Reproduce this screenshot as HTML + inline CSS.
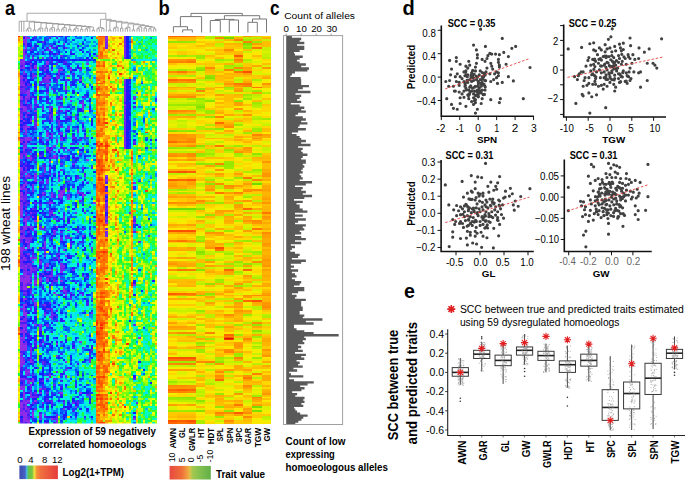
<!DOCTYPE html><html><head><meta charset="utf-8"><style>html,body{margin:0;padding:0;background:#fff;}svg{display:block}</style></head><body><svg width="685" height="481" viewBox="0 0 685 481" font-family='"Liberation Sans", sans-serif'><rect width="685" height="481" fill="#fff"/>
<text transform="translate(4.9 15.4) scale(0.9 1)" font-size="20" font-weight="bold">a</text>
<text transform="translate(158.4 15.3) scale(0.92 1)" font-size="20" font-weight="bold">b</text>
<text transform="translate(270.0 15.3) scale(0.86 1)" font-size="20" font-weight="bold">c</text>
<text transform="translate(402.6 15.4) scale(1.0 1)" font-size="20" font-weight="bold">d</text>
<text transform="translate(403.9 298.3) scale(0.98 1)" font-size="20" font-weight="bold">e</text>
<svg x="18" y="35.5" width="139" height="388" viewBox="0 0 59 198" preserveAspectRatio="none" shape-rendering="crispEdges">
<path fill="#912de6" d="M1 21h1v1h-1zM1 31h1v2h-1zM1 36h1v1h-1zM1 42h1v1h-1zM1 68h1v1h-1zM1 78h1v1h-1zM1 80h1v2h-1zM1 83h1v1h-1zM1 85h1v1h-1zM1 87h1v5h-1zM1 109h1v1h-1zM1 118h1v1h-1zM1 123h1v1h-1zM1 125h1v1h-1zM1 145h1v1h-1zM1 148h1v1h-1zM1 151h1v1h-1zM1 154h1v1h-1zM1 156h1v5h-1zM1 166h1v1h-1zM1 179h1v2h-1zM1 187h1v3h-1zM1 192h1v1h-1zM2 10h1v4h-1zM2 16h1v1h-1zM2 36h1v2h-1zM2 57h1v2h-1zM2 76h1v2h-1zM2 97h1v1h-1zM2 103h1v1h-1zM2 108h1v1h-1zM2 113h1v1h-1zM2 121h1v1h-1zM2 124h1v6h-1zM2 134h1v1h-1zM2 137h1v1h-1zM2 139h1v4h-1zM2 148h1v1h-1zM2 150h1v1h-1zM2 152h1v1h-1zM2 158h1v2h-1zM2 166h1v1h-1zM2 180h1v1h-1zM2 182h1v1h-1zM2 184h1v3h-1zM2 191h1v1h-1zM2 193h1v1h-1zM2 195h1v2h-1zM3 0h1v2h-1zM3 3h1v4h-1zM3 31h1v1h-1zM3 33h1v2h-1zM3 41h1v1h-1zM3 46h1v4h-1zM3 52h1v1h-1zM3 54h1v1h-1zM3 61h1v1h-1zM3 71h1v1h-1zM3 88h1v1h-1zM3 93h1v6h-1zM3 105h1v1h-1zM3 117h1v1h-1zM3 122h1v1h-1zM3 124h1v3h-1zM3 129h1v1h-1zM3 141h1v2h-1zM3 147h1v1h-1zM3 151h1v1h-1zM3 158h1v2h-1zM3 172h1v1h-1zM3 187h1v1h-1zM3 189h1v2h-1zM3 192h1v2h-1zM3 195h1v2h-1zM4 28h1v3h-1zM4 39h1v1h-1zM4 46h1v1h-1zM4 71h1v1h-1zM4 122h1v4h-1zM4 171h1v1h-1zM4 186h1v1h-1zM4 196h1v2h-1zM5 17h1v1h-1zM5 43h1v1h-1zM5 62h1v1h-1zM5 113h1v1h-1zM5 118h1v1h-1zM5 126h1v1h-1zM5 166h1v1h-1zM6 115h1v1h-1zM6 176h1v1h-1zM6 192h1v2h-1zM7 15h1v1h-1zM7 38h1v1h-1zM7 71h1v1h-1zM7 94h1v1h-1zM7 126h1v1h-1zM7 147h1v1h-1zM7 186h1v1h-1zM9 124h1v1h-1zM9 147h1v1h-1zM9 180h1v1h-1zM10 80h1v1h-1zM10 108h1v1h-1zM11 17h1v1h-1zM11 21h1v1h-1zM11 106h1v1h-1zM11 112h1v1h-1zM11 119h1v1h-1zM11 193h1v1h-1zM12 13h1v1h-1zM12 20h1v1h-1zM12 25h1v1h-1zM12 51h1v1h-1zM12 57h1v1h-1zM12 116h1v1h-1zM12 125h1v1h-1zM13 21h1v1h-1zM13 23h1v1h-1zM13 37h1v1h-1zM13 64h1v1h-1zM13 85h1v1h-1zM13 173h1v1h-1zM14 195h1v1h-1zM15 61h1v1h-1zM15 93h1v1h-1zM15 99h1v1h-1zM15 131h1v1h-1zM16 97h1v1h-1zM16 132h1v1h-1zM16 157h1v1h-1zM16 163h1v1h-1zM16 197h1v1h-1zM17 81h1v1h-1zM18 17h1v1h-1zM18 31h1v1h-1zM18 80h1v3h-1zM18 125h1v1h-1zM18 182h1v1h-1zM19 79h1v1h-1zM19 109h1v1h-1zM19 130h1v1h-1zM19 190h1v1h-1zM20 27h1v1h-1zM20 132h1v1h-1zM20 166h1v1h-1zM21 83h1v1h-1zM26 22h1v1h-1zM26 156h1v1h-1zM27 57h1v1h-1zM27 81h1v1h-1zM27 102h1v1h-1zM29 63h1v1h-1zM32 85h1v1h-1zM33 10h1v1h-1zM37 1h1v1h-1zM37 71h1v1h-1zM37 73h1v1h-1zM37 95h1v1h-1zM49 95h1v1h-1zM51 154h1v1h-1z"/>
<path fill="#872ae9" d="M1 13h1v1h-1zM1 24h1v2h-1zM1 40h1v1h-1zM1 54h1v1h-1zM1 61h1v2h-1zM1 67h1v1h-1zM1 86h1v1h-1zM1 103h1v1h-1zM1 108h1v1h-1zM1 124h1v1h-1zM1 164h1v2h-1zM1 167h1v2h-1zM2 2h1v1h-1zM2 8h1v2h-1zM2 15h1v1h-1zM2 18h1v1h-1zM2 25h1v1h-1zM2 38h1v1h-1zM2 43h1v1h-1zM2 98h1v1h-1zM2 138h1v1h-1zM2 145h1v1h-1zM2 149h1v1h-1zM2 153h1v3h-1zM2 160h1v1h-1zM2 175h1v1h-1zM2 179h1v1h-1zM2 183h1v1h-1zM2 192h1v1h-1zM2 194h1v1h-1zM3 2h1v1h-1zM3 22h1v1h-1zM3 29h1v1h-1zM3 37h1v2h-1zM3 60h1v1h-1zM3 75h1v2h-1zM3 78h1v1h-1zM3 121h1v1h-1zM3 123h1v1h-1zM3 128h1v1h-1zM3 134h1v1h-1zM3 137h1v1h-1zM3 143h1v1h-1zM3 157h1v1h-1zM3 160h1v1h-1zM3 194h1v1h-1zM4 1h1v1h-1zM4 31h1v1h-1zM4 52h1v2h-1zM4 62h1v1h-1zM4 105h1v1h-1zM4 108h1v1h-1zM4 111h1v1h-1zM4 176h1v1h-1zM5 90h1v1h-1zM5 97h1v1h-1zM5 119h1v1h-1zM5 165h1v1h-1zM5 178h1v1h-1zM6 92h1v1h-1zM6 134h1v1h-1zM6 175h1v1h-1zM6 194h1v1h-1zM7 16h1v1h-1zM7 20h1v1h-1zM7 73h1v1h-1zM7 113h1v1h-1zM7 125h1v1h-1zM7 136h1v1h-1zM9 115h1v1h-1zM9 125h1v1h-1zM9 182h1v1h-1zM11 69h1v1h-1zM11 105h1v1h-1zM11 137h1v1h-1zM11 142h1v1h-1zM12 14h1v1h-1zM12 21h1v1h-1zM12 50h1v1h-1zM12 53h1v1h-1zM12 117h1v1h-1zM13 5h1v1h-1zM13 7h1v1h-1zM13 122h1v1h-1zM14 27h1v1h-1zM14 81h1v1h-1zM14 85h1v1h-1zM14 143h1v2h-1zM15 56h1v1h-1zM17 17h1v1h-1zM17 37h1v1h-1zM17 73h1v1h-1zM17 82h1v1h-1zM18 36h1v1h-1zM18 120h1v1h-1zM19 4h1v1h-1zM19 62h1v1h-1zM19 117h1v1h-1zM19 129h1v1h-1zM20 112h1v1h-1zM20 173h1v1h-1zM24 189h1v1h-1zM26 182h1v1h-1zM27 35h1v1h-1zM27 37h1v1h-1zM29 14h1v1h-1zM31 108h1v1h-1zM37 0h1v1h-1zM37 2h1v1h-1zM45 22h1v1h-1zM45 29h1v1h-1zM45 35h1v1h-1zM49 75h1v1h-1zM49 127h1v1h-1zM49 195h1v1h-1z"/>
<path fill="#7c28eb" d="M1 14h1v1h-1zM1 16h1v1h-1zM1 20h1v1h-1zM1 23h1v1h-1zM1 53h1v1h-1zM1 92h1v1h-1zM1 99h1v2h-1zM1 102h1v1h-1zM1 110h1v2h-1zM1 147h1v1h-1zM1 162h1v1h-1zM1 175h1v1h-1zM1 190h1v1h-1zM1 193h1v1h-1zM2 3h1v1h-1zM2 7h1v1h-1zM2 14h1v1h-1zM2 19h1v1h-1zM2 27h1v1h-1zM2 46h1v2h-1zM2 84h1v1h-1zM2 94h1v1h-1zM2 99h1v1h-1zM2 102h1v1h-1zM2 114h1v1h-1zM2 117h1v2h-1zM2 120h1v1h-1zM2 122h1v1h-1zM2 131h1v1h-1zM2 144h1v1h-1zM2 147h1v1h-1zM2 151h1v1h-1zM2 157h1v1h-1zM2 165h1v1h-1zM2 167h1v1h-1zM2 181h1v1h-1zM2 187h1v1h-1zM3 32h1v1h-1zM3 40h1v1h-1zM3 50h1v1h-1zM3 53h1v1h-1zM3 55h1v1h-1zM3 57h1v1h-1zM3 67h1v1h-1zM3 69h1v1h-1zM3 109h1v1h-1zM3 114h1v1h-1zM3 118h1v2h-1zM3 144h1v1h-1zM3 170h1v2h-1zM3 188h1v1h-1zM4 116h1v1h-1zM5 14h1v1h-1zM5 36h1v1h-1zM5 53h1v1h-1zM5 63h1v1h-1zM5 103h1v1h-1zM5 120h1v1h-1zM5 160h1v2h-1zM5 176h1v1h-1zM5 182h1v3h-1zM6 6h1v1h-1zM6 11h1v1h-1zM6 76h1v1h-1zM6 79h1v1h-1zM6 99h1v1h-1zM6 119h1v1h-1zM7 72h1v1h-1zM7 137h1v1h-1zM7 182h1v1h-1zM9 123h1v1h-1zM9 149h1v1h-1zM9 193h1v1h-1zM9 195h1v1h-1zM10 11h1v1h-1zM10 37h1v1h-1zM10 121h1v1h-1zM10 187h1v1h-1zM11 15h1v1h-1zM11 110h1v1h-1zM11 173h1v1h-1zM12 22h1v2h-1zM12 49h1v1h-1zM12 124h1v1h-1zM12 139h1v1h-1zM12 175h1v1h-1zM13 40h1v2h-1zM13 67h1v1h-1zM13 143h1v1h-1zM14 6h1v1h-1zM14 50h1v2h-1zM14 90h1v1h-1zM14 122h1v1h-1zM14 141h1v1h-1zM15 62h1v1h-1zM15 91h1v1h-1zM15 101h1v1h-1zM16 20h1v1h-1zM16 125h1v1h-1zM16 195h1v2h-1zM17 19h1v1h-1zM17 44h1v2h-1zM17 58h1v1h-1zM17 113h1v1h-1zM18 50h1v1h-1zM18 53h1v1h-1zM18 62h1v1h-1zM18 65h1v1h-1zM18 79h1v1h-1zM18 116h1v2h-1zM20 26h1v1h-1zM21 20h1v1h-1zM21 58h1v1h-1zM21 79h1v1h-1zM21 81h1v1h-1zM22 16h1v2h-1zM22 33h1v1h-1zM22 43h1v1h-1zM22 103h1v1h-1zM23 65h1v1h-1zM24 41h1v1h-1zM25 79h1v2h-1zM27 34h1v1h-1zM27 36h1v1h-1zM27 47h1v1h-1zM28 129h1v1h-1zM30 166h1v1h-1zM31 134h1v1h-1zM31 141h1v1h-1zM37 3h1v1h-1zM37 85h1v1h-1zM37 93h1v1h-1zM37 101h1v1h-1zM45 0h1v1h-1zM45 4h1v1h-1zM45 6h1v1h-1zM45 10h1v1h-1zM45 31h1v1h-1zM45 38h1v1h-1zM45 41h1v1h-1zM45 43h1v1h-1zM45 48h1v1h-1zM45 50h1v2h-1zM45 55h1v1h-1zM45 57h1v1h-1zM49 54h1v1h-1z"/>
<path fill="#7225ee" d="M1 12h1v1h-1zM1 22h1v1h-1zM1 27h1v2h-1zM1 35h1v1h-1zM1 41h1v1h-1zM1 60h1v1h-1zM1 71h1v1h-1zM1 77h1v1h-1zM1 82h1v1h-1zM1 114h1v1h-1zM1 116h1v2h-1zM1 122h1v1h-1zM1 150h1v1h-1zM1 155h1v1h-1zM1 163h1v1h-1zM1 191h1v1h-1zM1 197h1v1h-1zM2 0h1v1h-1zM2 28h1v1h-1zM2 55h1v1h-1zM2 74h1v1h-1zM2 83h1v1h-1zM2 93h1v1h-1zM2 100h1v2h-1zM2 107h1v1h-1zM2 109h1v1h-1zM2 197h1v1h-1zM3 36h1v1h-1zM3 45h1v1h-1zM3 56h1v1h-1zM3 72h1v1h-1zM3 79h1v2h-1zM3 82h1v1h-1zM3 86h1v1h-1zM3 90h1v1h-1zM3 103h1v2h-1zM3 120h1v1h-1zM3 127h1v1h-1zM3 131h1v1h-1zM3 145h1v1h-1zM3 148h1v1h-1zM3 156h1v1h-1zM3 186h1v1h-1zM4 32h1v1h-1zM4 70h1v1h-1zM4 92h1v1h-1zM4 100h1v1h-1zM4 103h1v2h-1zM4 107h1v1h-1zM4 120h1v1h-1zM4 126h1v1h-1zM4 170h1v1h-1zM4 177h1v1h-1zM4 190h1v2h-1zM4 195h1v1h-1zM5 52h1v1h-1zM5 59h1v1h-1zM5 117h1v1h-1zM5 121h1v2h-1zM5 130h1v2h-1zM5 159h1v1h-1zM5 180h1v1h-1zM6 19h1v1h-1zM6 21h1v1h-1zM6 78h1v1h-1zM6 97h1v1h-1zM6 166h1v1h-1zM6 184h1v1h-1zM6 187h1v1h-1zM6 191h1v1h-1zM7 34h1v1h-1zM7 44h1v1h-1zM7 70h1v1h-1zM7 74h1v1h-1zM7 119h1v1h-1zM7 122h1v1h-1zM7 127h1v1h-1zM9 61h1v1h-1zM9 97h1v2h-1zM9 116h1v1h-1zM9 148h1v1h-1zM9 194h1v1h-1zM10 3h1v1h-1zM10 36h1v1h-1zM10 74h1v1h-1zM11 23h1v1h-1zM11 68h1v1h-1zM11 107h1v1h-1zM11 118h1v1h-1zM12 29h1v1h-1zM12 73h1v3h-1zM12 147h1v2h-1zM13 36h1v1h-1zM13 38h1v1h-1zM13 59h1v1h-1zM13 70h1v1h-1zM13 90h1v1h-1zM13 129h1v1h-1zM14 36h1v1h-1zM14 43h1v1h-1zM14 52h1v1h-1zM14 57h1v1h-1zM14 80h1v1h-1zM14 82h1v1h-1zM14 119h1v1h-1zM15 100h1v1h-1zM15 173h1v1h-1zM16 21h1v1h-1zM16 53h1v2h-1zM16 112h1v1h-1zM16 122h1v1h-1zM17 21h1v1h-1zM17 43h1v1h-1zM17 70h1v1h-1zM17 79h1v1h-1zM17 111h1v1h-1zM18 10h1v1h-1zM18 46h1v1h-1zM18 49h1v1h-1zM18 104h1v1h-1zM18 118h1v2h-1zM19 78h1v1h-1zM19 80h1v1h-1zM19 93h1v1h-1zM19 118h1v1h-1zM19 128h1v1h-1zM20 102h1v1h-1zM20 130h1v2h-1zM20 170h1v1h-1zM20 174h1v1h-1zM21 47h1v1h-1zM21 74h1v1h-1zM21 82h1v1h-1zM21 103h1v1h-1zM22 107h1v1h-1zM23 52h1v1h-1zM23 187h1v1h-1zM24 42h1v1h-1zM24 90h1v1h-1zM25 47h1v1h-1zM25 55h1v1h-1zM26 17h1v1h-1zM27 44h1v1h-1zM27 67h1v1h-1zM27 132h1v1h-1zM28 31h1v1h-1zM28 52h1v1h-1zM28 81h1v1h-1zM29 123h1v1h-1zM29 183h1v1h-1zM30 165h1v1h-1zM37 4h1v3h-1zM37 83h1v1h-1zM37 88h1v1h-1zM37 98h1v1h-1zM37 100h1v1h-1zM37 102h1v1h-1zM45 1h1v3h-1zM45 5h1v1h-1zM45 7h1v3h-1zM45 11h1v1h-1zM45 23h1v2h-1zM45 26h1v3h-1zM45 30h1v1h-1zM45 32h1v2h-1zM45 36h1v1h-1zM45 40h1v1h-1zM45 42h1v1h-1zM45 44h1v1h-1zM45 46h1v2h-1zM45 49h1v1h-1zM45 52h1v3h-1zM45 56h1v1h-1zM49 31h1v1h-1zM49 147h1v1h-1zM50 187h1v1h-1zM55 102h1v1h-1z"/>
<path fill="#6622f1" d="M1 29h1v1h-1zM1 34h1v1h-1zM1 38h1v2h-1zM1 44h1v1h-1zM1 69h1v1h-1zM1 104h1v2h-1zM1 112h1v1h-1zM1 115h1v1h-1zM1 128h1v2h-1zM1 139h1v1h-1zM1 143h1v1h-1zM2 21h1v1h-1zM2 23h1v2h-1zM2 26h1v1h-1zM2 29h1v1h-1zM2 50h1v1h-1zM2 52h1v2h-1zM2 56h1v1h-1zM2 59h1v2h-1zM2 66h1v1h-1zM2 69h1v2h-1zM2 73h1v1h-1zM2 78h1v1h-1zM2 82h1v1h-1zM2 112h1v1h-1zM2 116h1v1h-1zM2 119h1v1h-1zM2 123h1v1h-1zM2 135h1v1h-1zM2 164h1v1h-1zM2 177h1v2h-1zM2 189h1v1h-1zM3 7h1v1h-1zM3 9h1v1h-1zM3 26h1v1h-1zM3 28h1v1h-1zM3 65h1v1h-1zM3 68h1v1h-1zM3 74h1v1h-1zM3 81h1v1h-1zM3 83h1v1h-1zM3 92h1v1h-1zM3 113h1v1h-1zM3 132h1v1h-1zM3 139h1v1h-1zM3 149h1v2h-1zM3 173h1v1h-1zM3 175h1v1h-1zM4 25h1v1h-1zM4 85h1v1h-1zM4 93h1v1h-1zM4 97h1v1h-1zM4 106h1v1h-1zM4 117h1v2h-1zM4 172h1v2h-1zM4 187h1v1h-1zM4 192h1v1h-1zM4 194h1v1h-1zM5 7h1v1h-1zM5 16h1v1h-1zM5 35h1v1h-1zM5 37h1v1h-1zM5 42h1v1h-1zM5 61h1v1h-1zM5 72h1v1h-1zM5 98h1v1h-1zM5 104h1v1h-1zM5 114h1v1h-1zM5 116h1v1h-1zM5 124h1v1h-1zM5 139h1v1h-1zM5 153h1v1h-1zM5 162h1v3h-1zM5 179h1v1h-1zM6 20h1v1h-1zM6 77h1v1h-1zM6 88h1v1h-1zM6 98h1v1h-1zM6 112h1v2h-1zM6 118h1v1h-1zM6 132h1v1h-1zM6 135h1v1h-1zM6 173h1v1h-1zM7 0h1v1h-1zM7 33h1v1h-1zM7 36h1v1h-1zM7 41h1v2h-1zM7 45h1v2h-1zM7 85h1v1h-1zM7 118h1v1h-1zM7 124h1v1h-1zM7 156h1v1h-1zM7 184h1v1h-1zM7 190h1v1h-1zM8 35h1v1h-1zM9 23h1v2h-1zM9 52h1v1h-1zM9 71h1v1h-1zM9 74h1v1h-1zM9 86h1v1h-1zM9 150h1v1h-1zM9 157h1v1h-1zM10 22h1v2h-1zM10 31h1v1h-1zM10 66h1v1h-1zM10 81h1v1h-1zM10 98h1v1h-1zM10 137h1v1h-1zM10 155h1v2h-1zM10 166h1v2h-1zM10 176h1v1h-1zM11 22h1v1h-1zM11 67h1v1h-1zM11 80h1v1h-1zM11 98h1v1h-1zM11 108h1v1h-1zM11 117h1v1h-1zM11 122h1v1h-1zM11 141h1v1h-1zM11 180h1v1h-1zM11 197h1v1h-1zM12 7h1v1h-1zM12 16h1v1h-1zM12 26h1v1h-1zM12 58h1v1h-1zM12 120h1v1h-1zM12 122h1v1h-1zM12 173h1v1h-1zM12 182h1v1h-1zM12 186h1v1h-1zM13 1h1v1h-1zM13 11h1v1h-1zM13 20h1v1h-1zM13 42h1v1h-1zM13 58h1v1h-1zM13 62h1v1h-1zM13 91h1v1h-1zM13 136h1v1h-1zM13 139h1v1h-1zM13 172h1v1h-1zM14 17h1v1h-1zM14 40h1v1h-1zM14 42h1v1h-1zM14 62h1v1h-1zM14 89h1v1h-1zM14 103h1v1h-1zM14 120h1v2h-1zM14 126h1v2h-1zM14 139h1v2h-1zM14 142h1v1h-1zM14 186h1v2h-1zM15 59h1v1h-1zM15 125h1v1h-1zM15 142h1v1h-1zM15 175h1v1h-1zM15 178h1v1h-1zM15 195h1v1h-1zM16 5h1v1h-1zM16 9h1v1h-1zM16 14h1v1h-1zM16 23h1v1h-1zM16 32h1v1h-1zM16 39h1v1h-1zM16 47h1v1h-1zM16 61h1v1h-1zM16 143h1v1h-1zM16 171h1v1h-1zM16 193h1v2h-1zM17 18h1v1h-1zM17 32h1v1h-1zM17 36h1v1h-1zM17 50h1v1h-1zM17 72h1v1h-1zM17 74h1v1h-1zM17 114h1v1h-1zM17 182h1v1h-1zM18 32h1v1h-1zM18 38h1v1h-1zM18 52h1v1h-1zM18 68h1v1h-1zM18 100h1v1h-1zM18 103h1v1h-1zM18 173h1v1h-1zM19 58h1v1h-1zM19 92h1v1h-1zM19 119h1v1h-1zM19 171h1v1h-1zM19 187h1v1h-1zM20 0h1v1h-1zM20 6h1v1h-1zM20 13h1v1h-1zM20 24h1v1h-1zM20 38h1v1h-1zM20 40h1v1h-1zM20 61h1v1h-1zM20 103h1v1h-1zM20 153h1v1h-1zM21 41h1v1h-1zM21 46h1v1h-1zM21 99h1v1h-1zM22 55h1v1h-1zM22 131h1v1h-1zM22 134h1v1h-1zM23 119h1v1h-1zM24 99h1v1h-1zM25 48h1v2h-1zM25 72h1v1h-1zM25 99h1v2h-1zM25 187h1v1h-1zM26 34h1v1h-1zM26 53h1v1h-1zM26 60h1v1h-1zM26 80h1v1h-1zM26 84h1v1h-1zM27 24h1v1h-1zM27 33h1v1h-1zM27 74h1v1h-1zM27 80h1v1h-1zM27 82h1v1h-1zM27 98h1v1h-1zM27 122h1v1h-1zM27 159h1v1h-1zM28 51h1v1h-1zM28 71h1v1h-1zM28 90h1v1h-1zM30 162h1v1h-1zM30 164h1v1h-1zM30 184h1v1h-1zM31 160h1v1h-1zM37 72h1v1h-1zM37 74h1v1h-1zM37 78h1v1h-1zM37 81h1v1h-1zM37 86h1v2h-1zM37 89h1v1h-1zM37 92h1v1h-1zM45 25h1v1h-1zM45 37h1v1h-1zM45 39h1v1h-1zM45 45h1v1h-1zM47 90h1v1h-1zM49 32h1v1h-1zM49 93h1v1h-1zM49 100h1v1h-1zM49 175h1v1h-1zM51 105h1v1h-1z"/>
<path fill="#471df6" d="M1 15h1v1h-1zM1 26h1v1h-1zM1 33h1v1h-1zM1 37h1v1h-1zM1 46h1v1h-1zM1 48h1v1h-1zM1 52h1v1h-1zM1 64h1v2h-1zM1 70h1v1h-1zM1 72h1v1h-1zM1 84h1v1h-1zM1 97h1v2h-1zM1 113h1v1h-1zM1 126h1v2h-1zM1 146h1v1h-1zM1 161h1v1h-1zM1 169h1v2h-1zM1 172h1v1h-1zM1 176h1v1h-1zM1 178h1v1h-1zM1 186h1v1h-1zM1 195h1v2h-1zM2 4h1v1h-1zM2 32h1v1h-1zM2 45h1v1h-1zM2 81h1v1h-1zM2 86h1v1h-1zM2 130h1v1h-1zM2 132h1v1h-1zM2 146h1v1h-1zM2 161h1v1h-1zM2 176h1v1h-1zM2 188h1v1h-1zM2 190h1v1h-1zM3 13h1v1h-1zM3 19h1v1h-1zM3 21h1v1h-1zM3 23h1v1h-1zM3 39h1v1h-1zM3 43h1v1h-1zM3 59h1v1h-1zM3 62h1v1h-1zM3 64h1v1h-1zM3 84h1v2h-1zM3 87h1v1h-1zM3 91h1v1h-1zM3 111h1v1h-1zM3 116h1v1h-1zM3 130h1v1h-1zM3 136h1v1h-1zM3 140h1v1h-1zM3 146h1v1h-1zM3 169h1v1h-1zM3 191h1v1h-1zM3 197h1v1h-1zM4 10h1v1h-1zM4 13h1v1h-1zM4 24h1v1h-1zM4 27h1v1h-1zM4 35h1v3h-1zM4 41h1v1h-1zM4 58h1v1h-1zM4 72h1v1h-1zM4 80h1v1h-1zM4 112h1v1h-1zM4 114h1v1h-1zM4 121h1v1h-1zM4 127h1v1h-1zM4 129h1v1h-1zM4 152h1v1h-1zM4 154h1v1h-1zM4 165h1v1h-1zM4 175h1v1h-1zM4 185h1v1h-1zM4 189h1v1h-1zM4 193h1v1h-1zM5 4h1v1h-1zM5 12h1v1h-1zM5 15h1v1h-1zM5 31h1v1h-1zM5 55h1v1h-1zM5 67h1v1h-1zM5 71h1v1h-1zM5 91h1v1h-1zM5 102h1v1h-1zM5 105h1v1h-1zM5 125h1v1h-1zM5 129h1v1h-1zM5 158h1v1h-1zM5 181h1v1h-1zM5 189h1v1h-1zM6 1h1v1h-1zM6 10h1v1h-1zM6 29h1v1h-1zM6 31h1v1h-1zM6 62h1v2h-1zM6 90h1v1h-1zM6 103h1v1h-1zM6 108h1v1h-1zM6 110h1v2h-1zM6 120h1v1h-1zM6 146h1v1h-1zM6 165h1v1h-1zM6 167h1v1h-1zM6 172h1v1h-1zM6 177h1v1h-1zM6 195h1v1h-1zM7 32h1v1h-1zM7 40h1v1h-1zM7 43h1v1h-1zM7 47h1v1h-1zM7 57h1v1h-1zM7 61h1v1h-1zM7 64h1v1h-1zM7 88h1v1h-1zM7 90h1v1h-1zM7 100h1v1h-1zM7 120h1v2h-1zM7 123h1v1h-1zM7 138h1v1h-1zM7 140h1v1h-1zM7 157h1v2h-1zM7 183h1v1h-1zM7 187h1v1h-1zM8 184h1v1h-1zM9 16h1v2h-1zM9 67h1v1h-1zM9 75h1v1h-1zM9 82h1v1h-1zM9 114h1v1h-1zM9 122h1v1h-1zM9 126h1v1h-1zM9 158h1v1h-1zM9 176h1v1h-1zM9 192h1v1h-1zM10 8h1v1h-1zM10 16h1v1h-1zM10 43h1v1h-1zM10 54h1v1h-1zM10 60h1v1h-1zM10 70h1v2h-1zM10 75h1v1h-1zM10 90h1v1h-1zM10 128h1v2h-1zM10 178h1v3h-1zM10 189h1v1h-1zM11 16h1v1h-1zM11 18h1v1h-1zM11 40h1v1h-1zM11 43h1v1h-1zM11 47h1v1h-1zM11 65h1v2h-1zM11 77h1v2h-1zM11 81h1v1h-1zM11 88h1v1h-1zM11 97h1v1h-1zM11 99h1v1h-1zM11 109h1v1h-1zM11 111h1v1h-1zM11 138h1v1h-1zM11 157h1v1h-1zM11 166h1v2h-1zM11 194h1v1h-1zM12 6h1v1h-1zM12 19h1v1h-1zM12 27h1v1h-1zM12 31h1v1h-1zM12 33h1v2h-1zM12 48h1v1h-1zM12 85h1v1h-1zM12 123h1v1h-1zM12 185h1v1h-1zM12 197h1v1h-1zM13 60h1v1h-1zM13 68h1v1h-1zM13 84h1v1h-1zM13 88h1v2h-1zM13 123h1v1h-1zM13 158h1v1h-1zM13 167h1v1h-1zM13 174h1v1h-1zM13 186h1v1h-1zM14 5h1v1h-1zM14 8h1v1h-1zM14 13h1v1h-1zM14 39h1v1h-1zM14 41h1v1h-1zM14 46h1v2h-1zM14 58h1v1h-1zM14 123h1v1h-1zM14 151h1v1h-1zM14 182h1v1h-1zM14 188h1v1h-1zM15 0h1v1h-1zM15 6h1v1h-1zM15 28h1v1h-1zM15 70h1v1h-1zM15 81h1v2h-1zM15 108h1v1h-1zM15 113h1v2h-1zM15 124h1v1h-1zM15 197h1v1h-1zM16 1h1v1h-1zM16 22h1v1h-1zM16 42h1v2h-1zM16 62h1v1h-1zM16 94h1v1h-1zM16 99h1v1h-1zM16 111h1v1h-1zM16 140h1v1h-1zM16 145h1v1h-1zM17 0h1v1h-1zM17 20h1v1h-1zM17 41h1v1h-1zM17 46h1v1h-1zM17 109h1v1h-1zM17 121h1v1h-1zM18 16h1v1h-1zM18 57h1v1h-1zM18 83h1v1h-1zM18 123h1v1h-1zM18 130h1v1h-1zM18 156h1v1h-1zM18 162h1v1h-1zM18 176h1v1h-1zM18 179h1v1h-1zM18 183h1v1h-1zM19 13h1v2h-1zM19 19h1v1h-1zM19 57h1v1h-1zM19 61h1v1h-1zM19 76h1v2h-1zM19 81h1v1h-1zM19 90h1v2h-1zM19 131h1v1h-1zM19 145h1v1h-1zM19 186h1v1h-1zM20 23h1v1h-1zM20 25h1v1h-1zM20 28h1v1h-1zM20 31h1v1h-1zM20 42h1v1h-1zM20 51h1v2h-1zM21 22h1v1h-1zM21 95h1v1h-1zM21 169h1v1h-1zM22 8h1v1h-1zM22 25h1v1h-1zM22 42h1v1h-1zM22 105h1v2h-1zM22 112h1v1h-1zM22 133h1v1h-1zM23 19h1v1h-1zM23 51h1v1h-1zM23 55h1v1h-1zM23 61h1v1h-1zM23 77h1v1h-1zM23 132h1v1h-1zM23 157h1v1h-1zM23 159h1v1h-1zM23 191h1v1h-1zM24 22h1v1h-1zM24 52h1v1h-1zM24 62h1v1h-1zM24 64h1v1h-1zM24 126h1v1h-1zM24 178h1v1h-1zM24 194h1v1h-1zM25 71h1v1h-1zM25 116h1v1h-1zM25 167h1v1h-1zM25 186h1v1h-1zM25 188h1v1h-1zM26 16h1v1h-1zM26 105h1v1h-1zM26 131h1v1h-1zM27 31h1v1h-1zM27 38h1v1h-1zM27 88h1v1h-1zM27 105h1v1h-1zM27 131h1v1h-1zM28 70h1v1h-1zM28 194h1v1h-1zM29 12h1v1h-1zM29 75h1v1h-1zM29 136h1v2h-1zM30 32h1v1h-1zM30 38h1v1h-1zM30 161h1v1h-1zM30 182h1v1h-1zM31 67h1v1h-1zM31 158h1v1h-1zM37 75h1v1h-1zM37 79h1v1h-1zM37 94h1v1h-1zM45 34h1v1h-1zM47 23h1v1h-1zM49 36h1v1h-1zM49 55h1v1h-1zM49 77h1v1h-1zM49 94h1v1h-1zM49 194h1v1h-1zM51 74h1v1h-1zM51 97h1v1h-1zM58 32h1v1h-1z"/>
<path fill="#2817fc" d="M1 17h1v1h-1zM1 30h1v1h-1zM1 55h1v1h-1zM1 76h1v1h-1zM1 79h1v1h-1zM1 101h1v1h-1zM1 130h1v1h-1zM1 134h1v1h-1zM1 137h1v1h-1zM1 144h1v1h-1zM1 149h1v1h-1zM1 152h1v1h-1zM1 171h1v1h-1zM1 173h1v2h-1zM2 1h1v1h-1zM2 31h1v1h-1zM2 35h1v1h-1zM2 42h1v1h-1zM2 67h1v1h-1zM2 85h1v1h-1zM2 95h1v1h-1zM2 105h1v2h-1zM2 111h1v1h-1zM2 115h1v1h-1zM2 174h1v1h-1zM3 8h1v1h-1zM3 14h1v1h-1zM3 16h1v1h-1zM3 20h1v1h-1zM3 25h1v1h-1zM3 44h1v1h-1zM3 66h1v1h-1zM3 106h1v1h-1zM3 138h1v1h-1zM3 174h1v1h-1zM3 182h1v1h-1zM4 33h1v1h-1zM4 47h1v1h-1zM4 54h1v1h-1zM4 66h1v2h-1zM4 75h1v1h-1zM4 78h1v1h-1zM4 90h1v1h-1zM4 98h1v2h-1zM4 101h1v2h-1zM4 113h1v1h-1zM4 131h1v1h-1zM4 141h1v1h-1zM4 153h1v1h-1zM4 157h1v1h-1zM4 164h1v1h-1zM4 179h1v1h-1zM4 182h1v1h-1zM5 5h1v1h-1zM5 13h1v1h-1zM5 20h1v1h-1zM5 41h1v1h-1zM5 81h1v1h-1zM5 88h1v2h-1zM5 101h1v1h-1zM5 109h1v1h-1zM5 134h1v1h-1zM5 137h1v1h-1zM5 144h1v1h-1zM5 148h1v1h-1zM5 154h1v2h-1zM5 157h1v1h-1zM5 175h1v1h-1zM5 188h1v1h-1zM5 194h1v1h-1zM6 12h1v1h-1zM6 16h1v1h-1zM6 46h1v1h-1zM6 71h1v1h-1zM6 74h1v1h-1zM6 80h1v1h-1zM6 85h1v1h-1zM6 91h1v1h-1zM6 109h1v1h-1zM6 117h1v1h-1zM6 133h1v1h-1zM6 178h1v1h-1zM6 183h1v1h-1zM6 185h1v1h-1zM7 5h1v1h-1zM7 13h1v2h-1zM7 25h1v2h-1zM7 28h1v1h-1zM7 31h1v1h-1zM7 52h1v1h-1zM7 55h1v1h-1zM7 62h1v1h-1zM7 89h1v1h-1zM7 92h1v2h-1zM7 139h1v1h-1zM7 141h1v1h-1zM7 143h1v1h-1zM7 153h1v1h-1zM7 155h1v1h-1zM7 159h1v1h-1zM7 169h1v1h-1zM7 175h1v1h-1zM8 3h1v1h-1zM8 5h1v1h-1zM8 9h1v1h-1zM8 36h1v1h-1zM8 119h1v1h-1zM8 183h1v1h-1zM9 3h1v1h-1zM9 19h1v1h-1zM9 25h1v1h-1zM9 31h1v2h-1zM9 53h1v2h-1zM9 59h1v2h-1zM9 81h1v1h-1zM9 85h1v1h-1zM9 117h1v1h-1zM9 121h1v1h-1zM9 127h1v1h-1zM9 151h1v3h-1zM9 163h1v1h-1zM9 165h1v1h-1zM9 181h1v1h-1zM10 15h1v1h-1zM10 28h1v1h-1zM10 38h1v1h-1zM10 41h1v1h-1zM10 55h1v1h-1zM10 73h1v1h-1zM10 102h1v1h-1zM10 139h1v1h-1zM10 169h1v1h-1zM10 175h1v1h-1zM11 3h1v1h-1zM11 7h1v1h-1zM11 62h1v1h-1zM11 92h1v1h-1zM11 102h1v3h-1zM11 136h1v1h-1zM11 140h1v1h-1zM11 147h1v1h-1zM11 184h1v1h-1zM11 186h1v1h-1zM12 15h1v1h-1zM12 17h1v1h-1zM12 28h1v1h-1zM12 55h1v1h-1zM12 101h1v1h-1zM12 137h1v1h-1zM12 141h1v1h-1zM12 153h1v1h-1zM12 155h1v1h-1zM12 181h1v1h-1zM12 183h1v1h-1zM12 189h1v1h-1zM12 194h1v1h-1zM13 9h1v1h-1zM13 25h1v1h-1zM13 43h1v2h-1zM13 50h1v1h-1zM13 52h1v1h-1zM13 57h1v1h-1zM13 66h1v1h-1zM13 69h1v1h-1zM13 86h1v1h-1zM13 120h1v2h-1zM13 124h1v2h-1zM13 137h1v1h-1zM14 11h1v2h-1zM14 16h1v1h-1zM14 48h1v1h-1zM14 72h1v1h-1zM14 84h1v1h-1zM14 91h1v1h-1zM14 98h1v2h-1zM14 102h1v1h-1zM14 118h1v1h-1zM14 125h1v1h-1zM14 146h1v1h-1zM14 156h1v1h-1zM14 184h1v1h-1zM14 194h1v1h-1zM15 9h1v1h-1zM15 22h1v1h-1zM15 85h1v1h-1zM15 88h1v1h-1zM15 97h1v1h-1zM15 107h1v1h-1zM15 123h1v1h-1zM15 136h1v1h-1zM15 183h1v1h-1zM15 194h1v1h-1zM16 98h1v1h-1zM16 123h1v2h-1zM16 156h1v1h-1zM17 3h1v1h-1zM17 13h1v1h-1zM17 31h1v1h-1zM17 38h1v1h-1zM17 47h1v1h-1zM17 59h1v1h-1zM17 83h1v1h-1zM17 94h1v1h-1zM17 108h1v1h-1zM17 112h1v1h-1zM17 137h1v1h-1zM17 186h1v1h-1zM18 34h1v1h-1zM18 43h1v1h-1zM18 51h1v1h-1zM18 85h1v1h-1zM18 97h1v1h-1zM18 102h1v1h-1zM18 105h1v1h-1zM18 121h1v1h-1zM18 132h1v1h-1zM18 144h1v2h-1zM18 172h1v1h-1zM18 180h1v1h-1zM19 6h1v1h-1zM19 22h1v1h-1zM19 52h1v1h-1zM19 148h1v1h-1zM19 158h1v1h-1zM19 193h1v2h-1zM20 14h1v1h-1zM20 29h1v1h-1zM20 39h1v1h-1zM20 43h1v1h-1zM20 48h1v1h-1zM20 71h1v1h-1zM20 74h1v1h-1zM20 96h1v1h-1zM20 109h1v1h-1zM20 133h1v1h-1zM20 138h1v1h-1zM20 155h1v2h-1zM20 178h1v1h-1zM21 15h1v1h-1zM21 36h1v1h-1zM21 38h1v1h-1zM21 42h1v1h-1zM21 93h1v1h-1zM21 113h1v1h-1zM21 130h1v1h-1zM21 189h1v2h-1zM22 41h1v1h-1zM22 72h1v1h-1zM22 113h1v1h-1zM22 132h1v1h-1zM23 9h1v1h-1zM23 23h1v1h-1zM23 28h1v1h-1zM23 53h1v1h-1zM23 57h1v1h-1zM23 62h1v1h-1zM23 66h1v1h-1zM23 88h1v1h-1zM23 105h1v1h-1zM23 118h1v1h-1zM23 125h1v1h-1zM23 186h1v1h-1zM24 0h1v1h-1zM24 72h1v1h-1zM24 74h1v1h-1zM24 187h1v1h-1zM25 15h1v2h-1zM25 40h1v1h-1zM25 62h1v1h-1zM25 97h1v1h-1zM25 172h1v2h-1zM25 184h1v1h-1zM26 7h1v1h-1zM26 23h1v1h-1zM26 37h1v1h-1zM26 58h1v1h-1zM26 81h1v1h-1zM27 12h1v1h-1zM27 46h1v1h-1zM27 68h1v1h-1zM27 86h1v1h-1zM27 103h1v1h-1zM27 121h1v1h-1zM28 61h1v1h-1zM28 102h1v1h-1zM28 108h1v1h-1zM28 117h1v1h-1zM28 141h1v1h-1zM29 122h1v1h-1zM29 127h1v1h-1zM29 135h1v1h-1zM29 190h1v1h-1zM30 9h1v1h-1zM30 36h1v1h-1zM30 98h1v1h-1zM30 153h1v1h-1zM30 185h1v1h-1zM30 187h1v1h-1zM31 44h1v1h-1zM31 52h1v1h-1zM31 102h1v1h-1zM31 159h1v1h-1zM32 92h1v1h-1zM37 77h1v1h-1zM37 84h1v1h-1zM37 90h1v2h-1zM46 0h1v1h-1zM46 5h1v1h-1zM46 7h1v4h-1zM46 29h1v2h-1zM46 35h1v1h-1zM46 44h1v2h-1zM46 48h1v1h-1zM46 52h1v1h-1zM46 54h1v2h-1zM46 57h1v1h-1zM47 34h1v3h-1zM47 43h1v1h-1zM47 46h1v2h-1zM49 34h1v1h-1zM49 126h1v1h-1zM49 132h1v1h-1zM49 173h1v2h-1zM50 96h1v1h-1zM51 166h1v1h-1zM52 24h1v1h-1zM56 53h1v1h-1zM57 125h1v1h-1z"/>
<path fill="#1120ff" d="M1 43h1v1h-1zM1 45h1v1h-1zM1 47h1v1h-1zM1 57h1v1h-1zM1 59h1v1h-1zM1 66h1v1h-1zM1 74h1v1h-1zM1 119h1v1h-1zM1 135h1v1h-1zM1 177h1v1h-1zM1 183h1v1h-1zM1 194h1v1h-1zM2 20h1v1h-1zM2 22h1v1h-1zM2 40h1v1h-1zM2 44h1v1h-1zM2 54h1v1h-1zM2 65h1v1h-1zM2 68h1v1h-1zM2 72h1v1h-1zM2 80h1v1h-1zM2 88h1v1h-1zM2 92h1v1h-1zM2 104h1v1h-1zM2 143h1v1h-1zM2 156h1v1h-1zM2 162h1v1h-1zM3 24h1v1h-1zM3 35h1v1h-1zM3 58h1v1h-1zM3 63h1v1h-1zM3 77h1v1h-1zM3 89h1v1h-1zM3 99h1v1h-1zM3 102h1v1h-1zM3 107h1v1h-1zM3 112h1v1h-1zM3 115h1v1h-1zM3 135h1v1h-1zM3 152h1v1h-1zM3 155h1v1h-1zM3 166h1v1h-1zM4 4h1v2h-1zM4 14h1v1h-1zM4 16h1v1h-1zM4 22h1v2h-1zM4 40h1v1h-1zM4 42h1v3h-1zM4 64h1v2h-1zM4 68h1v1h-1zM4 84h1v1h-1zM4 109h1v1h-1zM4 115h1v1h-1zM4 119h1v1h-1zM4 130h1v1h-1zM4 132h1v1h-1zM4 134h1v1h-1zM4 136h1v2h-1zM4 145h1v1h-1zM4 147h1v1h-1zM4 155h1v2h-1zM4 180h1v1h-1zM5 2h1v1h-1zM5 8h1v1h-1zM5 19h1v1h-1zM5 22h1v1h-1zM5 25h1v1h-1zM5 32h1v1h-1zM5 34h1v1h-1zM5 38h1v1h-1zM5 40h1v1h-1zM5 44h1v1h-1zM5 47h1v1h-1zM5 50h1v1h-1zM5 58h1v1h-1zM5 64h1v1h-1zM5 66h1v1h-1zM5 75h1v2h-1zM5 80h1v1h-1zM5 145h1v1h-1zM5 167h1v1h-1zM5 190h1v1h-1zM5 197h1v1h-1zM6 2h1v1h-1zM6 8h1v1h-1zM6 14h1v2h-1zM6 22h1v1h-1zM6 30h1v1h-1zM6 47h1v1h-1zM6 57h1v1h-1zM6 60h1v2h-1zM6 66h1v2h-1zM6 75h1v1h-1zM6 89h1v1h-1zM6 93h1v1h-1zM6 104h1v2h-1zM6 137h1v1h-1zM6 141h1v1h-1zM6 145h1v1h-1zM6 154h1v1h-1zM6 160h1v1h-1zM6 170h1v1h-1zM6 174h1v1h-1zM6 188h1v1h-1zM6 190h1v1h-1zM7 24h1v1h-1zM7 49h1v1h-1zM7 59h1v2h-1zM7 75h1v1h-1zM7 84h1v1h-1zM7 87h1v1h-1zM7 91h1v1h-1zM7 97h1v1h-1zM7 101h1v2h-1zM7 117h1v1h-1zM7 144h1v1h-1zM7 166h1v1h-1zM7 174h1v1h-1zM7 181h1v1h-1zM7 185h1v1h-1zM7 196h1v1h-1zM8 11h1v1h-1zM8 89h1v1h-1zM8 187h1v1h-1zM9 12h1v1h-1zM9 28h1v1h-1zM9 49h1v2h-1zM9 62h1v1h-1zM9 72h1v1h-1zM9 76h1v1h-1zM9 78h1v1h-1zM9 84h1v1h-1zM9 88h1v1h-1zM9 90h1v1h-1zM9 93h1v1h-1zM9 108h1v1h-1zM9 118h1v1h-1zM9 136h1v1h-1zM9 155h1v2h-1zM9 172h1v1h-1zM9 175h1v1h-1zM9 177h1v1h-1zM9 183h1v1h-1zM9 196h1v1h-1zM10 6h1v1h-1zM10 9h1v1h-1zM10 17h1v1h-1zM10 19h1v1h-1zM10 21h1v1h-1zM10 25h1v1h-1zM10 44h1v1h-1zM10 59h1v1h-1zM10 62h1v1h-1zM10 72h1v1h-1zM10 78h1v1h-1zM10 106h1v2h-1zM10 122h1v1h-1zM10 138h1v1h-1zM10 170h1v4h-1zM10 177h1v1h-1zM10 188h1v1h-1zM11 4h1v1h-1zM11 20h1v1h-1zM11 25h1v1h-1zM11 71h1v1h-1zM11 85h1v1h-1zM11 90h1v1h-1zM11 113h1v1h-1zM11 120h1v2h-1zM11 130h1v1h-1zM11 134h1v1h-1zM11 139h1v1h-1zM11 158h1v1h-1zM11 164h1v2h-1zM11 185h1v1h-1zM11 196h1v1h-1zM12 12h1v1h-1zM12 18h1v1h-1zM12 32h1v1h-1zM12 54h1v1h-1zM12 59h1v1h-1zM12 71h1v2h-1zM12 92h1v1h-1zM12 109h1v1h-1zM12 118h1v1h-1zM12 121h1v1h-1zM12 136h1v1h-1zM12 138h1v1h-1zM12 146h1v1h-1zM12 154h1v1h-1zM12 157h1v1h-1zM12 166h1v1h-1zM12 180h1v1h-1zM12 184h1v1h-1zM12 187h1v1h-1zM12 196h1v1h-1zM13 8h1v1h-1zM13 19h1v1h-1zM13 22h1v1h-1zM13 39h1v1h-1zM13 61h1v1h-1zM13 63h1v1h-1zM13 83h1v1h-1zM13 92h1v1h-1zM13 94h1v1h-1zM13 101h1v1h-1zM13 111h1v1h-1zM13 116h1v1h-1zM13 127h1v1h-1zM13 130h1v2h-1zM13 138h1v1h-1zM13 157h1v1h-1zM13 164h1v1h-1zM13 168h1v4h-1zM13 187h1v1h-1zM13 194h1v1h-1zM14 14h1v1h-1zM14 37h1v2h-1zM14 67h1v1h-1zM14 73h1v1h-1zM14 88h1v1h-1zM14 100h1v1h-1zM14 104h1v1h-1zM14 106h1v1h-1zM14 114h1v1h-1zM14 117h1v1h-1zM14 149h1v1h-1zM14 158h1v2h-1zM14 172h1v1h-1zM14 189h1v1h-1zM15 4h1v1h-1zM15 12h1v1h-1zM15 21h1v1h-1zM15 66h1v2h-1zM15 71h1v1h-1zM15 98h1v1h-1zM15 102h1v1h-1zM15 138h1v1h-1zM15 141h1v1h-1zM15 143h1v1h-1zM15 192h1v1h-1zM16 6h1v1h-1zM16 12h1v1h-1zM16 19h1v1h-1zM16 41h1v1h-1zM16 92h1v1h-1zM16 114h1v1h-1zM16 127h1v1h-1zM16 154h1v1h-1zM16 158h1v1h-1zM17 5h1v1h-1zM17 8h1v1h-1zM17 12h1v1h-1zM17 42h1v1h-1zM17 48h1v1h-1zM17 69h1v1h-1zM17 71h1v1h-1zM17 85h1v1h-1zM17 97h1v1h-1zM17 115h1v1h-1zM17 164h1v1h-1zM18 0h1v1h-1zM18 12h1v2h-1zM18 19h1v1h-1zM18 25h1v1h-1zM18 27h1v1h-1zM18 61h1v1h-1zM18 77h1v2h-1zM18 84h1v1h-1zM18 99h1v1h-1zM18 114h1v1h-1zM18 127h1v1h-1zM18 141h1v1h-1zM18 184h1v1h-1zM19 12h1v1h-1zM19 17h1v1h-1zM19 21h1v1h-1zM19 43h1v1h-1zM19 53h1v1h-1zM19 69h1v2h-1zM19 94h1v1h-1zM19 97h1v1h-1zM19 105h1v2h-1zM19 126h1v2h-1zM19 133h1v1h-1zM19 165h1v1h-1zM19 189h1v1h-1zM19 195h1v1h-1zM20 1h1v1h-1zM20 3h1v1h-1zM20 8h1v1h-1zM20 72h1v1h-1zM20 107h1v1h-1zM20 114h1v1h-1zM20 116h1v3h-1zM20 125h1v1h-1zM20 127h1v1h-1zM20 189h1v1h-1zM20 192h1v2h-1zM21 48h1v1h-1zM21 61h1v3h-1zM21 76h1v1h-1zM21 78h1v1h-1zM21 94h1v1h-1zM21 112h1v1h-1zM21 187h1v1h-1zM22 9h1v1h-1zM22 18h1v1h-1zM22 31h1v1h-1zM22 39h1v1h-1zM22 57h1v1h-1zM22 81h1v1h-1zM22 104h1v1h-1zM22 120h1v1h-1zM22 163h1v3h-1zM22 167h1v1h-1zM22 169h1v1h-1zM22 188h1v2h-1zM22 194h1v1h-1zM23 12h1v1h-1zM23 17h1v1h-1zM23 24h1v2h-1zM23 29h1v1h-1zM23 50h1v1h-1zM23 98h1v1h-1zM23 120h1v1h-1zM23 129h1v1h-1zM23 158h1v1h-1zM23 185h1v1h-1zM24 12h1v1h-1zM24 17h1v1h-1zM24 54h1v1h-1zM24 57h1v1h-1zM24 63h1v1h-1zM24 71h1v1h-1zM24 85h1v3h-1zM24 98h1v1h-1zM24 111h1v1h-1zM24 137h1v1h-1zM24 154h1v1h-1zM24 188h1v1h-1zM24 192h1v2h-1zM25 5h1v1h-1zM25 29h1v1h-1zM25 46h1v1h-1zM25 77h1v2h-1zM25 98h1v1h-1zM25 103h1v1h-1zM25 122h1v1h-1zM25 132h1v1h-1zM25 171h1v1h-1zM26 12h1v1h-1zM26 38h1v1h-1zM26 127h1v1h-1zM26 190h1v1h-1zM27 4h1v1h-1zM27 6h1v1h-1zM27 8h1v1h-1zM27 45h1v1h-1zM27 58h1v1h-1zM27 75h1v2h-1zM27 83h1v1h-1zM27 89h1v1h-1zM27 97h1v1h-1zM27 107h1v1h-1zM27 109h1v1h-1zM27 147h1v1h-1zM27 166h1v1h-1zM27 173h1v1h-1zM27 182h1v1h-1zM28 12h1v1h-1zM28 26h1v1h-1zM28 48h1v1h-1zM28 50h1v1h-1zM28 67h1v1h-1zM28 73h1v1h-1zM28 103h1v1h-1zM28 109h1v1h-1zM28 116h1v1h-1zM28 124h1v2h-1zM28 134h1v1h-1zM28 165h1v1h-1zM28 179h1v1h-1zM28 182h1v1h-1zM29 11h1v1h-1zM29 30h1v1h-1zM29 55h1v1h-1zM29 59h1v1h-1zM29 80h1v1h-1zM29 113h1v1h-1zM29 121h1v1h-1zM29 128h1v1h-1zM29 132h1v1h-1zM29 160h1v1h-1zM29 181h1v2h-1zM30 12h1v1h-1zM30 33h1v1h-1zM30 101h1v1h-1zM30 106h1v1h-1zM30 127h1v1h-1zM30 141h1v1h-1zM30 155h1v1h-1zM30 160h1v1h-1zM31 1h1v1h-1zM31 11h1v1h-1zM31 26h1v1h-1zM31 43h1v1h-1zM31 45h1v1h-1zM31 90h1v1h-1zM31 164h1v1h-1zM31 194h1v1h-1zM32 9h1v1h-1zM32 12h1v1h-1zM32 69h1v1h-1zM32 103h1v1h-1zM37 82h1v1h-1zM46 1h1v4h-1zM46 6h1v1h-1zM46 11h1v1h-1zM46 22h1v7h-1zM46 31h1v4h-1zM46 36h1v8h-1zM46 46h1v2h-1zM46 49h1v3h-1zM46 53h1v1h-1zM46 56h1v1h-1zM47 22h1v1h-1zM47 24h1v1h-1zM47 26h1v1h-1zM47 28h1v1h-1zM47 30h1v3h-1zM47 37h1v1h-1zM47 39h1v2h-1zM47 44h1v2h-1zM47 53h1v1h-1zM47 55h1v1h-1zM47 145h1v1h-1zM49 53h1v1h-1zM49 125h1v1h-1zM49 192h1v1h-1zM50 50h1v1h-1zM52 130h1v1h-1zM53 170h1v1h-1zM56 177h1v1h-1zM58 53h1v1h-1z"/>
<path fill="#0a41ff" d="M1 19h1v1h-1zM1 120h1v1h-1zM1 153h1v1h-1zM1 182h1v1h-1zM1 184h1v1h-1zM2 30h1v1h-1zM2 33h1v1h-1zM2 39h1v1h-1zM2 49h1v1h-1zM2 61h1v1h-1zM2 63h1v1h-1zM2 75h1v1h-1zM2 87h1v1h-1zM2 96h1v1h-1zM2 110h1v1h-1zM2 170h1v1h-1zM3 27h1v1h-1zM3 30h1v1h-1zM3 42h1v1h-1zM3 51h1v1h-1zM3 73h1v1h-1zM3 110h1v1h-1zM3 133h1v1h-1zM3 153h1v1h-1zM3 163h1v1h-1zM3 165h1v1h-1zM4 17h1v1h-1zM4 26h1v1h-1zM4 49h1v1h-1zM4 59h1v1h-1zM4 79h1v1h-1zM4 82h1v1h-1zM4 86h1v1h-1zM4 89h1v1h-1zM4 110h1v1h-1zM4 135h1v1h-1zM4 138h1v1h-1zM4 140h1v1h-1zM4 144h1v1h-1zM4 151h1v1h-1zM4 158h1v1h-1zM4 167h1v1h-1zM4 184h1v1h-1zM5 9h1v1h-1zM5 18h1v1h-1zM5 21h1v1h-1zM5 29h1v1h-1zM5 33h1v1h-1zM5 46h1v1h-1zM5 70h1v1h-1zM5 92h1v1h-1zM5 96h1v1h-1zM5 99h1v2h-1zM5 110h1v1h-1zM5 115h1v1h-1zM5 123h1v1h-1zM5 127h1v1h-1zM5 143h1v1h-1zM5 149h1v1h-1zM5 173h1v1h-1zM6 7h1v1h-1zM6 39h1v2h-1zM6 48h1v3h-1zM6 53h1v1h-1zM6 55h1v1h-1zM6 69h1v1h-1zM6 136h1v1h-1zM6 159h1v1h-1zM6 163h1v1h-1zM6 168h1v1h-1zM6 171h1v1h-1zM6 182h1v1h-1zM6 186h1v1h-1zM6 196h1v1h-1zM7 1h1v1h-1zM7 6h1v2h-1zM7 9h1v1h-1zM7 12h1v1h-1zM7 17h1v1h-1zM7 19h1v1h-1zM7 23h1v1h-1zM7 27h1v1h-1zM7 35h1v1h-1zM7 37h1v1h-1zM7 39h1v1h-1zM7 53h1v1h-1zM7 86h1v1h-1zM7 104h1v1h-1zM7 111h1v1h-1zM7 129h1v1h-1zM7 145h1v1h-1zM7 148h1v2h-1zM7 154h1v1h-1zM7 163h1v2h-1zM7 176h1v1h-1zM7 195h1v1h-1zM8 12h1v1h-1zM8 81h1v1h-1zM8 109h1v1h-1zM8 147h1v1h-1zM9 13h1v1h-1zM9 29h1v1h-1zM9 33h1v1h-1zM9 68h1v1h-1zM9 77h1v1h-1zM9 79h1v2h-1zM9 96h1v1h-1zM9 109h1v1h-1zM9 112h1v1h-1zM9 134h1v2h-1zM9 137h1v2h-1zM9 164h1v1h-1zM9 166h1v1h-1zM9 178h1v1h-1zM9 189h1v1h-1zM10 5h1v1h-1zM10 12h1v1h-1zM10 18h1v1h-1zM10 33h1v1h-1zM10 40h1v1h-1zM10 61h1v1h-1zM10 79h1v1h-1zM10 89h1v1h-1zM10 91h1v1h-1zM10 109h1v1h-1zM10 125h1v1h-1zM10 134h1v1h-1zM10 144h1v1h-1zM10 148h1v1h-1zM10 153h1v1h-1zM10 159h1v2h-1zM10 165h1v1h-1zM11 1h1v2h-1zM11 12h1v1h-1zM11 14h1v1h-1zM11 28h1v1h-1zM11 76h1v1h-1zM11 91h1v1h-1zM11 116h1v1h-1zM11 143h1v1h-1zM11 146h1v1h-1zM11 150h1v2h-1zM11 168h1v1h-1zM11 179h1v1h-1zM11 181h1v1h-1zM12 2h1v1h-1zM12 36h1v1h-1zM12 41h1v3h-1zM12 46h1v1h-1zM12 62h1v1h-1zM12 82h1v1h-1zM12 100h1v1h-1zM12 126h1v1h-1zM12 132h1v1h-1zM12 140h1v1h-1zM12 149h1v1h-1zM12 160h1v2h-1zM12 165h1v1h-1zM12 167h1v1h-1zM12 172h1v1h-1zM12 176h1v1h-1zM12 190h1v1h-1zM13 12h1v3h-1zM13 34h1v1h-1zM13 49h1v1h-1zM13 71h1v1h-1zM13 87h1v1h-1zM13 103h1v2h-1zM13 107h1v1h-1zM13 114h1v2h-1zM13 128h1v1h-1zM13 140h1v1h-1zM13 149h1v1h-1zM13 159h1v2h-1zM13 180h1v1h-1zM13 184h1v1h-1zM14 0h1v1h-1zM14 9h1v1h-1zM14 15h1v1h-1zM14 20h1v1h-1zM14 33h1v1h-1zM14 45h1v1h-1zM14 53h1v1h-1zM14 74h1v1h-1zM14 76h1v1h-1zM14 78h1v2h-1zM14 105h1v1h-1zM14 111h1v2h-1zM14 160h1v1h-1zM14 183h1v1h-1zM15 14h1v1h-1zM15 23h1v1h-1zM15 27h1v1h-1zM15 49h1v1h-1zM15 68h1v1h-1zM15 74h1v1h-1zM15 89h1v1h-1zM15 116h1v2h-1zM15 126h1v1h-1zM15 144h1v1h-1zM15 154h1v1h-1zM15 176h1v1h-1zM15 179h1v1h-1zM15 188h1v1h-1zM16 7h1v1h-1zM16 11h1v1h-1zM16 25h1v1h-1zM16 31h1v1h-1zM16 44h1v1h-1zM16 46h1v1h-1zM16 60h1v1h-1zM16 120h1v2h-1zM16 130h1v1h-1zM16 142h1v1h-1zM16 164h1v1h-1zM16 184h1v1h-1zM17 9h1v1h-1zM17 27h1v2h-1zM17 34h1v1h-1zM17 39h1v2h-1zM17 90h1v1h-1zM17 93h1v1h-1zM17 110h1v1h-1zM17 132h1v1h-1zM17 161h1v1h-1zM17 163h1v1h-1zM17 178h1v1h-1zM18 11h1v1h-1zM18 22h1v1h-1zM18 26h1v1h-1zM18 35h1v1h-1zM18 45h1v1h-1zM18 55h1v1h-1zM18 64h1v1h-1zM18 66h1v1h-1zM18 93h1v1h-1zM18 126h1v1h-1zM18 140h1v1h-1zM18 164h1v1h-1zM18 174h1v1h-1zM18 190h1v1h-1zM18 192h1v1h-1zM18 196h1v1h-1zM19 5h1v1h-1zM19 10h1v1h-1zM19 39h1v1h-1zM19 96h1v1h-1zM19 99h1v1h-1zM19 107h1v1h-1zM19 116h1v1h-1zM19 121h1v1h-1zM19 123h1v1h-1zM19 172h1v1h-1zM20 2h1v1h-1zM20 10h1v1h-1zM20 12h1v1h-1zM20 44h1v1h-1zM20 57h1v1h-1zM20 62h1v2h-1zM20 75h1v1h-1zM20 81h1v1h-1zM20 105h1v1h-1zM20 134h1v1h-1zM20 141h1v1h-1zM20 143h1v1h-1zM20 148h1v1h-1zM20 150h1v1h-1zM20 191h1v1h-1zM20 194h1v1h-1zM21 0h1v1h-1zM21 12h1v1h-1zM21 14h1v1h-1zM21 16h1v1h-1zM21 43h1v1h-1zM21 71h1v1h-1zM21 77h1v1h-1zM21 87h1v1h-1zM21 90h1v1h-1zM21 102h1v1h-1zM21 123h1v1h-1zM21 128h1v2h-1zM21 137h1v1h-1zM21 159h1v1h-1zM21 188h1v1h-1zM22 12h1v1h-1zM22 14h1v1h-1zM22 23h1v1h-1zM22 59h1v2h-1zM22 73h1v1h-1zM22 82h1v1h-1zM22 92h1v1h-1zM22 97h1v1h-1zM22 108h1v1h-1zM22 119h1v1h-1zM22 175h1v1h-1zM23 2h1v1h-1zM23 20h1v1h-1zM23 22h1v1h-1zM23 36h1v1h-1zM23 46h1v1h-1zM23 48h1v1h-1zM23 60h1v1h-1zM23 64h1v1h-1zM23 67h1v1h-1zM23 74h1v1h-1zM23 76h1v1h-1zM23 101h1v1h-1zM23 121h1v1h-1zM23 123h1v1h-1zM23 156h1v1h-1zM23 190h1v1h-1zM24 25h1v1h-1zM24 46h1v1h-1zM24 53h1v1h-1zM24 60h1v1h-1zM24 73h1v1h-1zM24 81h1v2h-1zM24 103h1v1h-1zM24 133h1v1h-1zM24 136h1v1h-1zM24 155h1v1h-1zM24 170h1v1h-1zM24 176h1v2h-1zM24 179h1v1h-1zM24 181h1v2h-1zM24 190h1v1h-1zM25 12h1v1h-1zM25 20h1v1h-1zM25 37h1v2h-1zM25 42h1v2h-1zM25 53h1v1h-1zM25 57h1v1h-1zM25 63h1v1h-1zM25 67h1v1h-1zM25 102h1v1h-1zM25 106h1v1h-1zM25 117h1v1h-1zM25 125h1v1h-1zM25 130h1v1h-1zM26 21h1v1h-1zM26 33h1v1h-1zM26 52h1v1h-1zM26 61h1v1h-1zM26 76h1v1h-1zM26 101h1v1h-1zM26 175h1v1h-1zM26 178h1v1h-1zM26 183h1v1h-1zM27 48h1v1h-1zM27 55h1v1h-1zM27 69h1v1h-1zM27 84h1v1h-1zM27 104h1v1h-1zM27 141h1v1h-1zM27 172h1v1h-1zM27 185h1v1h-1zM28 2h1v1h-1zM28 30h1v1h-1zM28 35h1v1h-1zM28 41h1v1h-1zM28 62h1v1h-1zM28 98h1v1h-1zM28 123h1v1h-1zM28 160h1v1h-1zM28 166h1v1h-1zM29 8h1v1h-1zM29 16h1v2h-1zM29 29h1v1h-1zM29 31h1v1h-1zM29 61h1v1h-1zM29 124h1v1h-1zM29 158h1v1h-1zM29 178h1v1h-1zM29 191h1v1h-1zM30 10h1v1h-1zM30 17h1v1h-1zM30 37h1v1h-1zM30 61h1v1h-1zM30 87h1v1h-1zM30 95h1v1h-1zM30 97h1v1h-1zM30 132h1v1h-1zM30 163h1v1h-1zM30 181h1v1h-1zM30 186h1v1h-1zM31 42h1v1h-1zM31 57h1v1h-1zM31 83h1v1h-1zM31 119h1v1h-1zM31 135h1v1h-1zM31 140h1v1h-1zM31 155h1v1h-1zM31 161h1v1h-1zM31 173h1v1h-1zM31 182h1v1h-1zM32 55h1v1h-1zM32 63h1v1h-1zM32 114h1v1h-1zM32 156h1v1h-1zM32 162h1v1h-1zM47 3h1v1h-1zM47 10h1v2h-1zM47 27h1v1h-1zM47 29h1v1h-1zM47 33h1v1h-1zM47 38h1v1h-1zM47 48h1v5h-1zM47 54h1v1h-1zM47 56h1v2h-1zM49 48h1v1h-1zM49 78h1v1h-1zM49 96h1v2h-1zM51 119h1v1h-1zM53 42h1v2h-1zM53 149h1v1h-1zM54 53h1v1h-1zM54 57h1v1h-1zM55 93h1v1h-1zM56 96h1v1h-1zM57 37h1v1h-1z"/>
<path fill="#0362ff" d="M1 49h1v1h-1zM1 58h1v1h-1zM1 63h1v1h-1zM1 94h1v1h-1zM1 106h1v2h-1zM1 131h1v3h-1zM1 136h1v1h-1zM1 140h1v1h-1zM2 5h1v1h-1zM2 17h1v1h-1zM2 34h1v1h-1zM2 41h1v1h-1zM2 51h1v1h-1zM2 62h1v1h-1zM2 71h1v1h-1zM2 79h1v1h-1zM2 89h1v2h-1zM2 136h1v1h-1zM2 169h1v1h-1zM2 173h1v1h-1zM3 100h1v2h-1zM3 161h1v2h-1zM3 164h1v1h-1zM3 168h1v1h-1zM3 178h1v1h-1zM3 185h1v1h-1zM4 7h1v1h-1zM4 9h1v1h-1zM4 11h1v2h-1zM4 48h1v1h-1zM4 57h1v1h-1zM4 60h1v1h-1zM4 74h1v1h-1zM4 91h1v1h-1zM4 94h1v1h-1zM4 133h1v1h-1zM4 146h1v1h-1zM4 148h1v1h-1zM4 150h1v1h-1zM4 159h1v2h-1zM4 168h1v1h-1zM4 181h1v1h-1zM5 3h1v1h-1zM5 6h1v1h-1zM5 24h1v1h-1zM5 26h1v1h-1zM5 30h1v1h-1zM5 39h1v1h-1zM5 69h1v1h-1zM5 79h1v1h-1zM5 94h1v1h-1zM5 111h1v1h-1zM5 128h1v1h-1zM5 132h1v1h-1zM5 138h1v1h-1zM5 140h1v1h-1zM5 150h1v1h-1zM5 192h1v1h-1zM6 17h1v1h-1zM6 38h1v1h-1zM6 51h1v1h-1zM6 72h1v1h-1zM6 81h1v2h-1zM6 102h1v1h-1zM6 149h1v1h-1zM7 2h1v1h-1zM7 4h1v1h-1zM7 21h1v1h-1zM7 29h1v1h-1zM7 63h1v1h-1zM7 65h1v1h-1zM7 69h1v1h-1zM7 79h1v1h-1zM7 95h1v2h-1zM7 103h1v1h-1zM7 112h1v1h-1zM7 131h1v1h-1zM7 134h1v1h-1zM7 146h1v1h-1zM7 151h1v1h-1zM7 173h1v1h-1zM7 188h1v2h-1zM8 2h1v1h-1zM8 8h1v1h-1zM8 85h1v1h-1zM8 169h1v1h-1zM8 186h1v1h-1zM9 1h1v1h-1zM9 20h1v1h-1zM9 34h1v1h-1zM9 36h1v1h-1zM9 51h1v1h-1zM9 55h1v1h-1zM9 70h1v1h-1zM9 83h1v1h-1zM9 87h1v1h-1zM9 92h1v1h-1zM9 105h1v1h-1zM9 128h1v1h-1zM9 130h1v3h-1zM9 197h1v1h-1zM10 4h1v1h-1zM10 29h1v1h-1zM10 35h1v1h-1zM10 46h1v1h-1zM10 49h1v1h-1zM10 52h1v1h-1zM10 65h1v1h-1zM10 67h1v3h-1zM10 76h1v1h-1zM10 85h1v1h-1zM10 103h1v3h-1zM10 111h1v1h-1zM10 114h1v2h-1zM10 120h1v1h-1zM10 123h1v1h-1zM10 127h1v1h-1zM10 145h1v1h-1zM10 154h1v1h-1zM10 158h1v1h-1zM10 162h1v1h-1zM10 174h1v1h-1zM10 185h1v1h-1zM11 5h1v1h-1zM11 9h1v1h-1zM11 13h1v1h-1zM11 24h1v1h-1zM11 26h1v1h-1zM11 31h1v1h-1zM11 33h1v1h-1zM11 41h1v1h-1zM11 46h1v1h-1zM11 55h1v1h-1zM11 63h1v1h-1zM11 70h1v1h-1zM11 72h1v1h-1zM11 83h1v1h-1zM11 95h1v1h-1zM11 101h1v1h-1zM11 135h1v1h-1zM11 145h1v1h-1zM11 172h1v1h-1zM11 182h1v1h-1zM11 187h1v1h-1zM12 0h1v2h-1zM12 4h1v1h-1zM12 11h1v1h-1zM12 24h1v1h-1zM12 39h1v2h-1zM12 56h1v1h-1zM12 60h1v2h-1zM12 69h1v1h-1zM12 76h1v1h-1zM12 78h1v1h-1zM12 90h1v1h-1zM12 94h1v1h-1zM12 102h1v1h-1zM12 135h1v1h-1zM12 150h1v1h-1zM12 170h1v1h-1zM12 188h1v1h-1zM12 195h1v1h-1zM13 0h1v1h-1zM13 4h1v1h-1zM13 10h1v1h-1zM13 18h1v1h-1zM13 32h1v1h-1zM13 47h1v1h-1zM13 65h1v1h-1zM13 80h1v1h-1zM13 102h1v1h-1zM13 110h1v1h-1zM13 118h1v1h-1zM13 147h1v2h-1zM14 4h1v1h-1zM14 19h1v1h-1zM14 21h1v1h-1zM14 26h1v1h-1zM14 34h1v1h-1zM14 54h1v1h-1zM14 60h1v2h-1zM14 83h1v1h-1zM14 92h1v1h-1zM14 113h1v1h-1zM14 116h1v1h-1zM14 124h1v1h-1zM14 132h1v1h-1zM14 150h1v1h-1zM14 170h1v1h-1zM14 196h1v1h-1zM15 3h1v1h-1zM15 10h1v1h-1zM15 19h1v1h-1zM15 25h1v2h-1zM15 29h1v1h-1zM15 50h1v1h-1zM15 57h1v1h-1zM15 80h1v1h-1zM15 83h1v1h-1zM15 87h1v1h-1zM15 92h1v1h-1zM15 110h1v2h-1zM15 127h1v1h-1zM15 135h1v1h-1zM15 145h1v1h-1zM15 147h1v1h-1zM15 150h1v1h-1zM15 177h1v1h-1zM15 180h1v1h-1zM15 182h1v1h-1zM16 8h1v1h-1zM16 13h1v1h-1zM16 24h1v1h-1zM16 26h1v2h-1zM16 29h1v1h-1zM16 34h1v2h-1zM16 63h1v3h-1zM16 83h1v1h-1zM16 88h1v1h-1zM16 101h1v1h-1zM16 113h1v1h-1zM16 126h1v1h-1zM16 134h1v1h-1zM16 144h1v1h-1zM16 175h1v1h-1zM16 181h1v1h-1zM16 192h1v1h-1zM17 7h1v1h-1zM17 15h1v2h-1zM17 49h1v1h-1zM17 80h1v1h-1zM17 86h1v1h-1zM17 127h1v1h-1zM17 129h1v1h-1zM17 159h1v2h-1zM17 184h1v2h-1zM18 5h1v1h-1zM18 18h1v1h-1zM18 28h1v1h-1zM18 30h1v1h-1zM18 39h1v1h-1zM18 44h1v1h-1zM18 56h1v1h-1zM18 63h1v1h-1zM18 101h1v1h-1zM18 106h1v1h-1zM18 111h1v1h-1zM18 122h1v1h-1zM18 124h1v1h-1zM18 158h1v1h-1zM18 161h1v1h-1zM18 178h1v1h-1zM18 186h1v1h-1zM18 191h1v1h-1zM18 194h1v1h-1zM18 197h1v1h-1zM19 2h1v1h-1zM19 11h1v1h-1zM19 18h1v1h-1zM19 20h1v1h-1zM19 28h1v1h-1zM19 36h1v1h-1zM19 41h1v1h-1zM19 64h1v2h-1zM19 68h1v1h-1zM19 95h1v1h-1zM19 124h1v2h-1zM19 139h1v1h-1zM19 157h1v1h-1zM19 161h1v1h-1zM19 188h1v1h-1zM19 191h1v1h-1zM20 22h1v1h-1zM20 36h1v1h-1zM20 41h1v1h-1zM20 47h1v1h-1zM20 50h1v1h-1zM20 121h1v1h-1zM20 129h1v1h-1zM20 149h1v1h-1zM20 169h1v1h-1zM20 179h1v1h-1zM21 4h1v1h-1zM21 11h1v1h-1zM21 35h1v1h-1zM21 49h1v1h-1zM21 75h1v1h-1zM21 80h1v1h-1zM21 92h1v1h-1zM21 111h1v1h-1zM21 115h1v1h-1zM21 124h1v1h-1zM21 127h1v1h-1zM21 131h1v1h-1zM21 134h1v1h-1zM21 136h1v1h-1zM21 149h1v2h-1zM21 186h1v1h-1zM22 7h1v1h-1zM22 24h1v1h-1zM22 35h1v1h-1zM22 37h1v1h-1zM22 67h1v1h-1zM22 76h1v1h-1zM22 91h1v1h-1zM22 118h1v1h-1zM22 125h1v1h-1zM22 143h1v1h-1zM22 145h1v1h-1zM22 166h1v1h-1zM22 181h1v1h-1zM23 21h1v1h-1zM23 54h1v1h-1zM23 58h1v1h-1zM23 63h1v1h-1zM23 85h1v1h-1zM23 92h1v1h-1zM23 95h1v1h-1zM23 112h1v1h-1zM24 16h1v1h-1zM24 23h1v1h-1zM24 26h1v1h-1zM24 40h1v1h-1zM24 67h1v1h-1zM24 92h1v1h-1zM24 118h1v1h-1zM24 121h1v2h-1zM24 125h1v1h-1zM24 138h1v1h-1zM24 166h1v1h-1zM24 171h1v1h-1zM24 184h1v1h-1zM24 186h1v1h-1zM25 1h1v1h-1zM25 22h1v1h-1zM25 39h1v1h-1zM25 41h1v1h-1zM25 66h1v1h-1zM25 107h1v1h-1zM25 113h1v1h-1zM25 134h1v1h-1zM25 154h1v1h-1zM25 189h1v1h-1zM26 1h1v1h-1zM26 11h1v1h-1zM26 20h1v1h-1zM26 44h1v1h-1zM26 72h1v1h-1zM26 77h1v2h-1zM26 98h1v1h-1zM26 100h1v1h-1zM26 126h1v1h-1zM26 162h1v1h-1zM26 186h1v2h-1zM27 3h1v1h-1zM27 25h1v1h-1zM27 52h1v1h-1zM27 59h1v1h-1zM27 77h1v1h-1zM27 85h1v1h-1zM27 99h1v1h-1zM27 106h1v1h-1zM27 117h1v1h-1zM27 134h1v1h-1zM27 175h1v1h-1zM27 186h1v1h-1zM28 32h1v1h-1zM28 53h1v1h-1zM28 63h1v1h-1zM28 97h1v1h-1zM28 111h1v1h-1zM28 118h1v2h-1zM28 121h1v1h-1zM28 130h1v1h-1zM29 0h1v1h-1zM29 5h1v1h-1zM29 33h1v1h-1zM29 52h1v1h-1zM29 54h1v1h-1zM29 58h1v1h-1zM29 89h1v1h-1zM29 112h1v1h-1zM29 134h1v1h-1zM29 165h1v1h-1zM29 180h1v1h-1zM30 20h1v1h-1zM30 25h1v1h-1zM30 35h1v1h-1zM30 80h1v1h-1zM30 93h1v2h-1zM30 102h1v1h-1zM30 180h1v1h-1zM30 183h1v1h-1zM31 12h1v1h-1zM31 27h1v1h-1zM31 38h1v1h-1zM31 66h1v1h-1zM31 85h1v1h-1zM31 103h1v1h-1zM31 105h1v1h-1zM31 109h1v1h-1zM31 128h1v1h-1zM31 131h1v1h-1zM32 41h1v1h-1zM32 61h1v1h-1zM32 76h1v1h-1zM32 97h1v1h-1zM32 148h1v1h-1zM32 175h1v1h-1zM45 100h1v1h-1zM47 0h1v1h-1zM47 5h1v2h-1zM47 8h1v1h-1zM47 25h1v1h-1zM47 41h1v2h-1zM49 17h1v1h-1zM49 21h1v1h-1zM49 44h1v2h-1zM49 49h1v1h-1zM49 51h1v1h-1zM49 92h1v1h-1zM49 197h1v1h-1zM50 29h1v1h-1zM51 61h1v1h-1zM52 47h1v1h-1zM52 88h1v1h-1zM53 172h1v1h-1zM54 52h1v1h-1zM58 33h1v1h-1z"/>
<path fill="#008aff" d="M1 18h1v1h-1zM1 50h1v1h-1zM1 75h1v1h-1zM1 95h1v1h-1zM1 138h1v1h-1zM2 48h1v1h-1zM2 64h1v1h-1zM3 10h1v2h-1zM3 17h1v1h-1zM3 167h1v1h-1zM4 0h1v1h-1zM4 2h1v2h-1zM4 15h1v1h-1zM4 18h1v1h-1zM4 20h1v1h-1zM4 34h1v1h-1zM4 38h1v1h-1zM4 50h1v2h-1zM4 55h1v1h-1zM4 63h1v1h-1zM4 69h1v1h-1zM4 76h1v1h-1zM4 83h1v1h-1zM4 87h1v1h-1zM4 143h1v1h-1zM4 166h1v1h-1zM4 178h1v1h-1zM5 51h1v1h-1zM5 54h1v1h-1zM5 57h1v1h-1zM5 60h1v1h-1zM5 65h1v1h-1zM5 74h1v1h-1zM5 77h1v1h-1zM5 82h1v1h-1zM5 93h1v1h-1zM5 95h1v1h-1zM5 135h1v2h-1zM5 147h1v1h-1zM5 151h1v1h-1zM5 172h1v1h-1zM5 195h1v1h-1zM6 9h1v1h-1zM6 18h1v1h-1zM6 37h1v1h-1zM6 52h1v1h-1zM6 54h1v1h-1zM6 64h1v1h-1zM6 68h1v1h-1zM6 70h1v1h-1zM6 87h1v1h-1zM6 94h1v1h-1zM6 114h1v1h-1zM6 116h1v1h-1zM6 148h1v1h-1zM6 161h1v1h-1zM6 164h1v1h-1zM6 189h1v1h-1zM7 10h1v1h-1zM7 18h1v1h-1zM7 48h1v1h-1zM7 50h1v2h-1zM7 54h1v1h-1zM7 66h1v2h-1zM7 76h1v1h-1zM7 99h1v1h-1zM7 135h1v1h-1zM7 162h1v1h-1zM7 172h1v1h-1zM7 178h1v3h-1zM7 197h1v1h-1zM8 10h1v1h-1zM8 54h1v1h-1zM8 71h1v1h-1zM8 73h1v1h-1zM8 118h1v1h-1zM8 148h1v1h-1zM9 0h1v1h-1zM9 7h1v3h-1zM9 15h1v1h-1zM9 41h1v1h-1zM9 66h1v1h-1zM9 73h1v1h-1zM9 95h1v1h-1zM9 103h1v1h-1zM9 113h1v1h-1zM9 133h1v1h-1zM9 144h1v1h-1zM9 171h1v1h-1zM9 179h1v1h-1zM9 186h1v3h-1zM10 20h1v1h-1zM10 53h1v1h-1zM10 82h1v1h-1zM10 94h1v1h-1zM10 113h1v1h-1zM10 124h1v1h-1zM10 135h1v2h-1zM10 147h1v1h-1zM10 168h1v1h-1zM10 184h1v1h-1zM10 190h1v1h-1zM11 19h1v1h-1zM11 38h1v1h-1zM11 53h1v1h-1zM11 79h1v1h-1zM11 82h1v1h-1zM11 114h1v2h-1zM11 124h1v2h-1zM11 129h1v1h-1zM11 133h1v1h-1zM11 156h1v1h-1zM11 159h1v1h-1zM11 170h1v1h-1zM11 178h1v1h-1zM11 183h1v1h-1zM11 192h1v1h-1zM12 3h1v1h-1zM12 5h1v1h-1zM12 9h1v1h-1zM12 30h1v1h-1zM12 47h1v1h-1zM12 70h1v1h-1zM12 77h1v1h-1zM12 84h1v1h-1zM12 86h1v2h-1zM12 89h1v1h-1zM12 93h1v1h-1zM12 95h1v2h-1zM12 98h1v2h-1zM12 111h1v1h-1zM12 114h1v2h-1zM12 145h1v1h-1zM12 156h1v1h-1zM12 159h1v1h-1zM12 162h1v1h-1zM12 168h1v1h-1zM12 171h1v1h-1zM12 179h1v1h-1zM12 191h1v1h-1zM13 35h1v1h-1zM13 51h1v1h-1zM13 53h1v1h-1zM13 81h1v2h-1zM13 93h1v1h-1zM13 97h1v2h-1zM13 105h1v1h-1zM13 117h1v1h-1zM13 133h1v3h-1zM13 141h1v1h-1zM13 150h1v2h-1zM13 163h1v1h-1zM13 165h1v1h-1zM13 178h1v1h-1zM13 195h1v1h-1zM14 49h1v1h-1zM14 56h1v1h-1zM14 59h1v1h-1zM14 66h1v1h-1zM14 70h1v1h-1zM14 75h1v1h-1zM14 87h1v1h-1zM14 97h1v1h-1zM14 101h1v1h-1zM14 107h1v1h-1zM14 115h1v1h-1zM14 134h1v1h-1zM14 137h1v1h-1zM14 145h1v1h-1zM14 157h1v1h-1zM14 169h1v1h-1zM14 181h1v1h-1zM14 185h1v1h-1zM14 190h1v1h-1zM14 192h1v1h-1zM15 7h1v1h-1zM15 52h1v1h-1zM15 64h1v2h-1zM15 69h1v1h-1zM15 72h1v1h-1zM15 86h1v1h-1zM15 96h1v1h-1zM15 109h1v1h-1zM15 115h1v1h-1zM15 122h1v1h-1zM15 140h1v1h-1zM15 159h1v2h-1zM15 187h1v1h-1zM15 191h1v1h-1zM15 193h1v1h-1zM15 196h1v1h-1zM16 0h1v1h-1zM16 10h1v1h-1zM16 15h1v2h-1zM16 30h1v1h-1zM16 33h1v1h-1zM16 38h1v1h-1zM16 45h1v1h-1zM16 48h1v1h-1zM16 51h1v2h-1zM16 55h1v1h-1zM16 86h1v1h-1zM16 93h1v1h-1zM16 119h1v1h-1zM16 128h1v1h-1zM16 139h1v1h-1zM16 169h1v1h-1zM16 176h1v1h-1zM16 182h1v1h-1zM16 186h1v1h-1zM16 190h1v2h-1zM17 2h1v1h-1zM17 25h1v1h-1zM17 35h1v1h-1zM17 61h1v1h-1zM17 84h1v1h-1zM17 92h1v1h-1zM17 96h1v1h-1zM17 101h1v1h-1zM17 116h1v1h-1zM17 122h1v1h-1zM17 165h1v1h-1zM17 167h1v1h-1zM17 181h1v1h-1zM18 1h1v2h-1zM18 8h1v1h-1zM18 20h1v1h-1zM18 48h1v1h-1zM18 54h1v1h-1zM18 60h1v1h-1zM18 71h1v1h-1zM18 73h1v1h-1zM18 88h1v1h-1zM18 107h1v2h-1zM18 115h1v1h-1zM18 131h1v1h-1zM18 136h1v1h-1zM18 139h1v1h-1zM18 157h1v1h-1zM18 167h1v1h-1zM18 169h1v1h-1zM18 181h1v1h-1zM18 193h1v1h-1zM18 195h1v1h-1zM19 1h1v1h-1zM19 3h1v1h-1zM19 7h1v1h-1zM19 46h1v1h-1zM19 59h1v1h-1zM19 63h1v1h-1zM19 84h1v1h-1zM19 108h1v1h-1zM19 111h1v1h-1zM19 122h1v1h-1zM19 138h1v1h-1zM19 141h1v1h-1zM19 147h1v1h-1zM19 149h1v2h-1zM19 159h1v2h-1zM19 170h1v1h-1zM19 192h1v1h-1zM20 15h1v1h-1zM20 18h1v1h-1zM20 20h1v1h-1zM20 49h1v1h-1zM20 53h1v1h-1zM20 59h1v1h-1zM20 73h1v1h-1zM20 76h1v2h-1zM20 82h1v1h-1zM20 104h1v1h-1zM20 119h1v1h-1zM20 142h1v1h-1zM20 154h1v1h-1zM20 159h1v1h-1zM20 168h1v1h-1zM20 195h1v1h-1zM21 2h1v1h-1zM21 6h1v1h-1zM21 10h1v1h-1zM21 13h1v1h-1zM21 17h1v1h-1zM21 28h1v1h-1zM21 45h1v1h-1zM21 59h1v1h-1zM21 69h1v1h-1zM21 73h1v1h-1zM21 89h1v1h-1zM21 97h1v1h-1zM21 101h1v1h-1zM21 118h1v3h-1zM21 151h1v1h-1zM21 158h1v1h-1zM21 160h1v1h-1zM21 176h1v1h-1zM22 3h1v1h-1zM22 19h1v1h-1zM22 26h1v1h-1zM22 36h1v1h-1zM22 38h1v1h-1zM22 40h1v1h-1zM22 58h1v1h-1zM22 71h1v1h-1zM22 75h1v1h-1zM22 80h1v1h-1zM22 123h1v1h-1zM22 142h1v1h-1zM22 182h1v1h-1zM22 190h1v1h-1zM22 192h1v1h-1zM23 6h1v2h-1zM23 13h1v1h-1zM23 18h1v1h-1zM23 31h1v1h-1zM23 37h1v1h-1zM23 41h1v1h-1zM23 47h1v1h-1zM23 75h1v1h-1zM23 81h1v1h-1zM23 86h1v1h-1zM23 90h1v1h-1zM23 103h1v1h-1zM23 106h1v1h-1zM23 122h1v1h-1zM23 124h1v1h-1zM23 131h1v1h-1zM23 135h1v1h-1zM23 148h1v1h-1zM23 168h1v1h-1zM23 189h1v1h-1zM23 192h1v2h-1zM24 1h1v1h-1zM24 4h1v1h-1zM24 10h1v2h-1zM24 14h1v1h-1zM24 47h1v1h-1zM24 55h1v1h-1zM24 66h1v1h-1zM24 102h1v1h-1zM24 108h1v1h-1zM24 134h1v1h-1zM24 156h1v1h-1zM24 160h1v1h-1zM24 169h1v1h-1zM24 172h1v1h-1zM24 195h1v1h-1zM25 6h1v1h-1zM25 11h1v1h-1zM25 14h1v1h-1zM25 32h1v1h-1zM25 45h1v1h-1zM25 50h1v2h-1zM25 54h1v1h-1zM25 73h1v1h-1zM25 81h1v1h-1zM25 146h1v1h-1zM25 166h1v1h-1zM25 169h1v2h-1zM25 192h1v1h-1zM26 0h1v1h-1zM26 5h1v1h-1zM26 18h1v1h-1zM26 43h1v1h-1zM26 59h1v1h-1zM26 62h1v1h-1zM26 67h1v1h-1zM26 69h1v1h-1zM26 85h1v1h-1zM26 102h1v1h-1zM26 106h1v1h-1zM26 125h1v1h-1zM26 128h1v1h-1zM26 130h1v1h-1zM26 141h1v1h-1zM26 176h1v1h-1zM26 180h1v2h-1zM26 185h1v1h-1zM27 7h1v1h-1zM27 11h1v1h-1zM27 19h1v1h-1zM27 32h1v1h-1zM27 60h1v1h-1zM27 66h1v1h-1zM27 101h1v1h-1zM27 116h1v1h-1zM27 135h1v1h-1zM27 148h1v1h-1zM27 160h1v2h-1zM27 171h1v1h-1zM27 174h1v1h-1zM27 179h1v1h-1zM27 184h1v1h-1zM27 187h1v1h-1zM28 5h1v2h-1zM28 25h1v1h-1zM28 47h1v1h-1zM28 49h1v1h-1zM28 60h1v1h-1zM28 72h1v1h-1zM28 76h1v1h-1zM28 101h1v1h-1zM28 105h1v1h-1zM28 122h1v1h-1zM28 140h1v1h-1zM28 150h1v1h-1zM28 159h1v1h-1zM28 189h1v1h-1zM28 195h1v1h-1zM29 3h1v1h-1zM29 13h1v1h-1zM29 18h1v2h-1zM29 28h1v1h-1zM29 41h1v1h-1zM29 43h1v1h-1zM29 53h1v1h-1zM29 67h1v1h-1zM29 126h1v1h-1zM29 159h1v1h-1zM29 172h1v1h-1zM29 184h1v1h-1zM30 3h1v1h-1zM30 7h1v2h-1zM30 21h1v1h-1zM30 34h1v1h-1zM30 39h1v1h-1zM30 48h1v1h-1zM30 100h1v1h-1zM30 107h1v1h-1zM30 114h1v1h-1zM30 116h1v1h-1zM30 142h1v2h-1zM30 148h1v1h-1zM30 152h1v1h-1zM30 176h1v1h-1zM30 178h1v1h-1zM30 194h1v1h-1zM31 110h1v1h-1zM31 115h1v1h-1zM31 120h1v1h-1zM31 132h1v2h-1zM31 137h1v1h-1zM31 142h1v2h-1zM31 162h1v1h-1zM31 195h1v1h-1zM32 0h1v1h-1zM32 3h1v1h-1zM32 5h1v1h-1zM32 7h1v1h-1zM32 13h1v1h-1zM32 21h1v1h-1zM32 77h1v1h-1zM32 94h1v1h-1zM32 155h1v1h-1zM32 163h1v1h-1zM33 4h1v1h-1zM47 1h1v2h-1zM47 4h1v1h-1zM47 7h1v1h-1zM47 9h1v1h-1zM47 137h1v1h-1zM48 12h1v1h-1zM48 48h1v1h-1zM49 16h1v1h-1zM49 22h1v1h-1zM49 42h1v1h-1zM49 81h1v1h-1zM49 99h1v1h-1zM50 150h1v1h-1zM50 156h1v1h-1zM51 36h1v1h-1zM51 73h1v1h-1zM51 169h1v1h-1zM52 23h1v1h-1zM52 36h1v1h-1zM53 41h1v1h-1zM53 44h1v1h-1zM53 111h1v1h-1zM53 136h1v1h-1zM55 74h1v1h-1zM55 136h1v1h-1zM56 1h1v1h-1zM56 55h1v1h-1zM56 57h1v1h-1zM56 72h1v1h-1zM58 57h1v1h-1zM58 70h1v2h-1z"/>
<path fill="#00b6ff" d="M1 56h1v1h-1zM1 73h1v1h-1zM1 93h1v1h-1zM1 141h1v2h-1zM2 6h1v1h-1zM2 91h1v1h-1zM2 168h1v1h-1zM3 18h1v1h-1zM3 70h1v1h-1zM3 154h1v1h-1zM3 176h1v2h-1zM3 183h1v2h-1zM4 6h1v1h-1zM4 19h1v1h-1zM4 45h1v1h-1zM4 77h1v1h-1zM4 162h1v1h-1zM4 169h1v1h-1zM4 174h1v1h-1zM5 0h1v1h-1zM5 10h1v1h-1zM5 27h1v1h-1zM5 45h1v1h-1zM5 48h1v2h-1zM5 78h1v1h-1zM5 108h1v1h-1zM5 112h1v1h-1zM5 174h1v1h-1zM5 185h1v1h-1zM5 187h1v1h-1zM5 193h1v1h-1zM6 5h1v1h-1zM6 13h1v1h-1zM6 28h1v1h-1zM6 32h1v1h-1zM6 35h1v2h-1zM6 42h1v1h-1zM6 58h1v2h-1zM6 65h1v1h-1zM6 73h1v1h-1zM6 95h1v1h-1zM6 100h1v1h-1zM6 121h1v1h-1zM6 124h1v1h-1zM6 129h1v2h-1zM6 138h1v1h-1zM6 150h1v2h-1zM6 153h1v1h-1zM6 155h1v3h-1zM6 162h1v1h-1zM6 181h1v1h-1zM7 22h1v1h-1zM7 30h1v1h-1zM7 78h1v1h-1zM7 80h1v1h-1zM7 108h1v1h-1zM7 114h1v1h-1zM7 128h1v1h-1zM7 130h1v1h-1zM7 142h1v1h-1zM7 150h1v1h-1zM7 152h1v1h-1zM7 161h1v1h-1zM7 165h1v1h-1zM7 167h1v2h-1zM7 177h1v1h-1zM7 191h1v1h-1zM7 194h1v1h-1zM8 1h1v1h-1zM8 13h1v1h-1zM8 47h1v1h-1zM8 51h1v1h-1zM8 75h1v1h-1zM8 90h1v1h-1zM8 106h1v1h-1zM8 156h1v1h-1zM8 176h1v1h-1zM9 2h1v1h-1zM9 6h1v1h-1zM9 26h1v2h-1zM9 57h1v1h-1zM9 91h1v1h-1zM9 102h1v1h-1zM9 110h1v1h-1zM9 120h1v1h-1zM9 129h1v1h-1zM9 146h1v1h-1zM9 159h1v1h-1zM9 167h1v1h-1zM9 173h1v1h-1zM9 184h1v1h-1zM10 0h1v1h-1zM10 7h1v1h-1zM10 26h1v1h-1zM10 32h1v1h-1zM10 45h1v1h-1zM10 47h1v2h-1zM10 57h1v1h-1zM10 77h1v1h-1zM10 83h1v1h-1zM10 88h1v1h-1zM10 92h1v1h-1zM10 99h1v1h-1zM10 112h1v1h-1zM10 117h1v1h-1zM10 119h1v1h-1zM10 142h1v2h-1zM10 157h1v1h-1zM10 164h1v1h-1zM10 192h1v1h-1zM10 195h1v1h-1zM11 6h1v1h-1zM11 8h1v1h-1zM11 10h1v1h-1zM11 27h1v1h-1zM11 45h1v1h-1zM11 52h1v1h-1zM11 74h1v1h-1zM11 89h1v1h-1zM11 127h1v1h-1zM11 161h1v1h-1zM11 195h1v1h-1zM12 37h1v1h-1zM12 52h1v1h-1zM12 64h1v1h-1zM12 66h1v1h-1zM12 80h1v1h-1zM12 91h1v1h-1zM12 97h1v1h-1zM12 103h1v1h-1zM12 106h1v1h-1zM12 108h1v1h-1zM12 119h1v1h-1zM12 131h1v1h-1zM12 142h1v1h-1zM12 164h1v1h-1zM12 177h1v1h-1zM13 16h1v1h-1zM13 24h1v1h-1zM13 26h1v1h-1zM13 55h1v1h-1zM13 95h1v2h-1zM13 106h1v1h-1zM13 113h1v1h-1zM13 119h1v1h-1zM13 142h1v1h-1zM13 145h1v1h-1zM13 162h1v1h-1zM13 176h1v1h-1zM13 179h1v1h-1zM13 181h1v1h-1zM14 1h1v1h-1zM14 10h1v1h-1zM14 23h1v1h-1zM14 31h1v1h-1zM14 44h1v1h-1zM14 55h1v1h-1zM14 71h1v1h-1zM14 109h1v1h-1zM14 136h1v1h-1zM14 138h1v1h-1zM14 161h1v1h-1zM14 173h1v1h-1zM14 191h1v1h-1zM14 193h1v1h-1zM15 2h1v1h-1zM15 5h1v1h-1zM15 11h1v1h-1zM15 43h1v2h-1zM15 46h1v1h-1zM15 60h1v1h-1zM15 76h1v1h-1zM15 103h1v1h-1zM15 106h1v1h-1zM15 134h1v1h-1zM15 137h1v1h-1zM15 155h1v1h-1zM15 166h1v1h-1zM16 3h1v1h-1zM16 18h1v1h-1zM16 40h1v1h-1zM16 49h1v1h-1zM16 57h1v1h-1zM16 72h1v1h-1zM16 75h1v1h-1zM16 81h1v1h-1zM16 89h1v1h-1zM16 95h1v1h-1zM16 100h1v1h-1zM16 103h1v1h-1zM16 110h1v1h-1zM16 118h1v1h-1zM16 133h1v1h-1zM16 135h1v3h-1zM16 155h1v1h-1zM16 160h1v1h-1zM16 166h1v1h-1zM16 177h1v1h-1zM16 180h1v1h-1zM16 183h1v1h-1zM17 33h1v1h-1zM17 52h1v1h-1zM17 99h1v1h-1zM17 138h1v1h-1zM17 145h1v1h-1zM17 152h1v1h-1zM17 175h1v1h-1zM17 187h1v1h-1zM17 193h1v1h-1zM18 6h1v2h-1zM18 14h1v2h-1zM18 21h1v1h-1zM18 33h1v1h-1zM18 40h1v1h-1zM18 74h1v1h-1zM18 76h1v1h-1zM18 89h1v1h-1zM18 96h1v1h-1zM18 98h1v1h-1zM18 142h1v1h-1zM18 151h1v1h-1zM18 175h1v1h-1zM18 187h1v1h-1zM19 0h1v1h-1zM19 9h1v1h-1zM19 16h1v1h-1zM19 38h1v1h-1zM19 44h1v1h-1zM19 49h1v1h-1zM19 54h1v1h-1zM19 66h1v2h-1zM19 87h1v3h-1zM19 98h1v1h-1zM19 100h1v3h-1zM19 104h1v1h-1zM19 140h1v1h-1zM19 152h1v1h-1zM19 163h1v1h-1zM20 16h1v1h-1zM20 32h1v1h-1zM20 37h1v1h-1zM20 54h1v1h-1zM20 69h1v1h-1zM20 83h1v1h-1zM20 91h1v1h-1zM20 97h1v1h-1zM20 106h1v1h-1zM20 108h1v1h-1zM20 110h1v1h-1zM20 113h1v1h-1zM20 124h1v1h-1zM20 128h1v1h-1zM20 158h1v1h-1zM20 175h1v1h-1zM20 180h1v1h-1zM20 190h1v1h-1zM21 3h1v1h-1zM21 34h1v1h-1zM21 40h1v1h-1zM21 44h1v1h-1zM21 52h1v1h-1zM21 60h1v1h-1zM21 70h1v1h-1zM21 98h1v1h-1zM21 116h1v1h-1zM21 125h1v1h-1zM21 133h1v1h-1zM21 148h1v1h-1zM21 170h1v1h-1zM21 178h1v1h-1zM21 180h1v1h-1zM22 10h1v1h-1zM22 34h1v1h-1zM22 44h1v2h-1zM22 52h1v1h-1zM22 62h1v1h-1zM22 64h1v1h-1zM22 66h1v1h-1zM22 68h1v1h-1zM22 74h1v1h-1zM22 83h1v1h-1zM22 115h1v1h-1zM22 157h1v1h-1zM22 162h1v1h-1zM22 170h1v1h-1zM22 173h1v2h-1zM22 187h1v1h-1zM22 195h1v1h-1zM23 0h1v1h-1zM23 4h1v1h-1zM23 27h1v1h-1zM23 33h1v1h-1zM23 69h1v1h-1zM23 71h1v1h-1zM23 78h1v1h-1zM23 94h1v1h-1zM23 128h1v1h-1zM23 130h1v1h-1zM23 133h1v2h-1zM23 145h1v1h-1zM23 152h1v1h-1zM23 162h1v1h-1zM23 165h1v1h-1zM23 167h1v1h-1zM23 170h1v1h-1zM23 173h1v1h-1zM23 181h1v1h-1zM23 184h1v1h-1zM23 195h1v1h-1zM24 8h1v1h-1zM24 19h1v1h-1zM24 24h1v1h-1zM24 44h1v2h-1zM24 65h1v1h-1zM24 80h1v1h-1zM24 83h1v1h-1zM24 88h1v1h-1zM24 101h1v1h-1zM24 107h1v1h-1zM24 123h1v1h-1zM24 145h1v1h-1zM24 152h1v1h-1zM24 158h1v2h-1zM24 161h1v1h-1zM24 173h1v3h-1zM24 197h1v1h-1zM25 3h1v2h-1zM25 36h1v1h-1zM25 52h1v1h-1zM25 61h1v1h-1zM25 64h1v1h-1zM25 82h1v1h-1zM25 94h1v1h-1zM25 96h1v1h-1zM25 101h1v1h-1zM25 105h1v1h-1zM25 115h1v1h-1zM25 118h1v2h-1zM25 133h1v1h-1zM25 137h1v1h-1zM25 148h1v1h-1zM25 156h1v1h-1zM25 168h1v1h-1zM25 193h1v1h-1zM26 14h1v1h-1zM26 19h1v1h-1zM26 27h1v2h-1zM26 31h1v1h-1zM26 54h1v1h-1zM26 64h1v1h-1zM26 71h1v1h-1zM26 75h1v1h-1zM26 79h1v1h-1zM26 83h1v1h-1zM26 96h1v2h-1zM26 103h1v1h-1zM26 108h1v1h-1zM26 124h1v1h-1zM26 129h1v1h-1zM26 132h1v1h-1zM26 134h1v1h-1zM26 142h1v1h-1zM26 157h1v1h-1zM26 189h1v1h-1zM27 10h1v1h-1zM27 39h1v1h-1zM27 41h1v1h-1zM27 43h1v1h-1zM27 53h1v1h-1zM27 61h1v3h-1zM27 127h1v1h-1zM27 145h1v1h-1zM27 180h1v1h-1zM28 0h1v2h-1zM28 4h1v1h-1zM28 9h1v2h-1zM28 22h1v1h-1zM28 36h1v1h-1zM28 44h1v1h-1zM28 46h1v1h-1zM28 54h1v2h-1zM28 64h1v1h-1zM28 94h1v1h-1zM28 151h1v1h-1zM28 164h1v1h-1zM29 4h1v1h-1zM29 20h1v1h-1zM29 44h1v1h-1zM29 64h1v1h-1zM29 74h1v1h-1zM29 79h1v1h-1zM29 88h1v1h-1zM29 111h1v1h-1zM29 114h1v1h-1zM29 125h1v1h-1zM29 130h1v1h-1zM29 133h1v1h-1zM29 153h1v1h-1zM29 164h1v1h-1zM29 166h1v2h-1zM29 175h1v1h-1zM29 192h1v1h-1zM30 24h1v1h-1zM30 56h1v1h-1zM30 74h1v1h-1zM30 79h1v1h-1zM30 85h1v1h-1zM30 90h1v1h-1zM30 99h1v1h-1zM30 120h1v1h-1zM30 122h1v1h-1zM30 154h1v1h-1zM30 156h1v1h-1zM30 192h1v1h-1zM31 0h1v1h-1zM31 5h1v1h-1zM31 37h1v1h-1zM31 39h1v2h-1zM31 59h1v1h-1zM31 75h1v1h-1zM31 82h1v1h-1zM31 97h1v1h-1zM31 121h1v1h-1zM31 124h1v1h-1zM31 139h1v1h-1zM31 144h1v1h-1zM31 184h1v1h-1zM32 10h1v1h-1zM32 40h1v1h-1zM32 46h1v1h-1zM32 57h1v1h-1zM32 71h1v1h-1zM32 78h1v1h-1zM32 90h1v1h-1zM32 98h1v1h-1zM32 123h1v1h-1zM32 176h1v2h-1zM48 192h1v1h-1zM49 12h1v1h-1zM49 37h1v1h-1zM49 43h1v1h-1zM49 85h1v1h-1zM49 98h1v1h-1zM49 128h1v1h-1zM49 145h1v1h-1zM49 184h1v1h-1zM49 186h1v1h-1zM50 85h1v1h-1zM51 4h1v1h-1zM51 47h1v1h-1zM51 62h1v1h-1zM51 96h1v1h-1zM51 141h1v1h-1zM52 86h1v2h-1zM52 172h1v1h-1zM53 65h1v1h-1zM53 113h1v1h-1zM53 125h1v1h-1zM54 7h1v1h-1zM54 58h1v1h-1zM54 70h1v1h-1zM54 91h1v1h-1zM54 150h1v1h-1zM54 190h1v1h-1zM56 41h1v1h-1zM56 71h1v1h-1zM56 132h1v1h-1zM57 12h1v1h-1zM57 38h1v1h-1zM57 85h1v1h-1zM57 90h1v1h-1zM57 96h1v1h-1zM58 12h1v1h-1zM58 31h1v1h-1z"/>
<path fill="#00e2ff" d="M1 121h1v1h-1zM2 163h1v1h-1zM3 12h1v1h-1zM3 15h1v1h-1zM3 180h1v2h-1zM4 8h1v1h-1zM4 21h1v1h-1zM4 56h1v1h-1zM4 81h1v1h-1zM4 88h1v1h-1zM4 95h1v1h-1zM4 163h1v1h-1zM4 183h1v1h-1zM5 28h1v1h-1zM5 133h1v1h-1zM5 146h1v1h-1zM5 156h1v1h-1zM5 170h1v2h-1zM5 186h1v1h-1zM5 191h1v1h-1zM6 3h1v2h-1zM6 26h1v1h-1zM6 83h1v2h-1zM6 86h1v1h-1zM6 96h1v1h-1zM6 106h1v2h-1zM6 122h1v1h-1zM6 131h1v1h-1zM6 140h1v1h-1zM6 142h1v2h-1zM6 147h1v1h-1zM6 179h1v1h-1zM7 3h1v1h-1zM7 8h1v1h-1zM7 77h1v1h-1zM7 81h1v3h-1zM7 98h1v1h-1zM7 105h1v1h-1zM7 107h1v1h-1zM8 0h1v1h-1zM8 6h1v1h-1zM8 33h1v1h-1zM8 72h1v1h-1zM8 79h1v1h-1zM8 133h1v2h-1zM8 173h1v3h-1zM8 179h1v1h-1zM9 18h1v1h-1zM9 46h1v2h-1zM9 69h1v1h-1zM9 99h1v1h-1zM9 139h1v1h-1zM9 143h1v1h-1zM9 145h1v1h-1zM9 154h1v1h-1zM9 160h1v1h-1zM9 174h1v1h-1zM9 185h1v1h-1zM9 190h1v1h-1zM10 14h1v1h-1zM10 30h1v1h-1zM10 34h1v1h-1zM10 39h1v1h-1zM10 50h1v1h-1zM10 56h1v1h-1zM10 63h1v1h-1zM10 84h1v1h-1zM10 86h1v1h-1zM10 93h1v1h-1zM10 100h1v2h-1zM10 133h1v1h-1zM10 140h1v1h-1zM10 150h1v1h-1zM10 182h1v1h-1zM10 197h1v1h-1zM11 0h1v1h-1zM11 29h1v2h-1zM11 34h1v1h-1zM11 36h1v1h-1zM11 39h1v1h-1zM11 42h1v1h-1zM11 44h1v1h-1zM11 49h1v1h-1zM11 54h1v1h-1zM11 57h1v1h-1zM11 75h1v1h-1zM11 86h1v1h-1zM11 123h1v1h-1zM11 128h1v1h-1zM11 169h1v1h-1zM11 176h1v1h-1zM12 44h1v1h-1zM12 65h1v1h-1zM12 81h1v1h-1zM12 112h1v2h-1zM12 133h1v2h-1zM12 169h1v1h-1zM13 2h1v1h-1zM13 17h1v1h-1zM13 27h1v1h-1zM13 48h1v1h-1zM13 76h1v1h-1zM13 99h1v1h-1zM13 108h1v2h-1zM13 126h1v1h-1zM13 144h1v1h-1zM13 155h1v1h-1zM13 166h1v1h-1zM13 191h1v1h-1zM13 193h1v1h-1zM14 3h1v1h-1zM14 18h1v1h-1zM14 22h1v1h-1zM14 32h1v1h-1zM14 68h1v2h-1zM14 77h1v1h-1zM14 86h1v1h-1zM14 93h1v1h-1zM14 108h1v1h-1zM14 147h1v2h-1zM14 153h1v1h-1zM14 155h1v1h-1zM14 166h1v2h-1zM15 8h1v1h-1zM15 13h1v1h-1zM15 32h1v1h-1zM15 48h1v1h-1zM15 55h1v1h-1zM15 58h1v1h-1zM15 63h1v1h-1zM15 79h1v1h-1zM15 128h1v1h-1zM15 130h1v1h-1zM15 139h1v1h-1zM15 149h1v1h-1zM15 151h1v1h-1zM15 153h1v1h-1zM15 172h1v1h-1zM16 2h1v1h-1zM16 36h1v1h-1zM16 59h1v1h-1zM16 69h1v1h-1zM16 78h1v1h-1zM16 84h1v2h-1zM16 87h1v1h-1zM16 91h1v1h-1zM16 138h1v1h-1zM16 141h1v1h-1zM16 148h1v1h-1zM16 159h1v1h-1zM16 168h1v1h-1zM16 172h1v1h-1zM16 178h1v2h-1zM17 1h1v1h-1zM17 14h1v1h-1zM17 23h1v1h-1zM17 57h1v1h-1zM17 60h1v1h-1zM17 62h1v1h-1zM17 67h1v1h-1zM17 75h1v1h-1zM17 130h1v1h-1zM17 136h1v1h-1zM17 153h1v1h-1zM17 155h1v1h-1zM17 158h1v1h-1zM17 162h1v1h-1zM17 190h1v1h-1zM18 23h1v1h-1zM18 29h1v1h-1zM18 37h1v1h-1zM18 47h1v1h-1zM18 67h1v1h-1zM18 72h1v1h-1zM18 86h1v2h-1zM18 90h1v1h-1zM18 92h1v1h-1zM18 109h1v1h-1zM18 112h1v1h-1zM18 133h1v1h-1zM18 143h1v1h-1zM18 146h1v1h-1zM18 177h1v1h-1zM19 8h1v1h-1zM19 15h1v1h-1zM19 30h1v1h-1zM19 37h1v1h-1zM19 42h1v1h-1zM19 71h1v1h-1zM19 85h1v1h-1zM19 103h1v1h-1zM19 113h1v1h-1zM19 120h1v1h-1zM19 143h1v1h-1zM19 146h1v1h-1zM19 156h1v1h-1zM19 164h1v1h-1zM19 166h1v1h-1zM19 168h1v1h-1zM19 182h1v1h-1zM20 5h1v1h-1zM20 17h1v1h-1zM20 19h1v1h-1zM20 33h1v1h-1zM20 35h1v1h-1zM20 46h1v1h-1zM20 58h1v1h-1zM20 67h1v1h-1zM20 80h1v1h-1zM20 111h1v1h-1zM20 126h1v1h-1zM20 137h1v1h-1zM20 157h1v1h-1zM20 163h1v1h-1zM20 184h1v1h-1zM21 5h1v1h-1zM21 7h1v1h-1zM21 37h1v1h-1zM21 55h1v1h-1zM21 64h1v2h-1zM21 85h1v1h-1zM21 91h1v1h-1zM21 96h1v1h-1zM21 105h1v1h-1zM21 110h1v1h-1zM21 114h1v1h-1zM21 117h1v1h-1zM21 138h1v1h-1zM21 175h1v1h-1zM21 177h1v1h-1zM21 181h1v1h-1zM21 193h1v1h-1zM21 197h1v1h-1zM22 11h1v1h-1zM22 27h1v1h-1zM22 32h1v1h-1zM22 65h1v1h-1zM22 90h1v1h-1zM22 93h1v1h-1zM22 101h1v1h-1zM22 111h1v1h-1zM22 116h1v1h-1zM22 129h1v2h-1zM22 141h1v1h-1zM22 144h1v1h-1zM22 146h1v1h-1zM22 148h1v1h-1zM22 161h1v1h-1zM22 168h1v1h-1zM22 171h1v2h-1zM22 176h1v1h-1zM22 180h1v1h-1zM22 191h1v1h-1zM22 196h1v1h-1zM23 1h1v1h-1zM23 5h1v1h-1zM23 68h1v1h-1zM23 82h1v2h-1zM23 91h1v1h-1zM23 97h1v1h-1zM23 99h1v1h-1zM23 102h1v1h-1zM23 104h1v1h-1zM23 127h1v1h-1zM23 146h1v1h-1zM23 161h1v1h-1zM23 163h1v1h-1zM23 182h1v1h-1zM23 194h1v1h-1zM24 7h1v1h-1zM24 31h1v1h-1zM24 49h1v1h-1zM24 51h1v1h-1zM24 61h1v1h-1zM24 70h1v1h-1zM24 75h1v1h-1zM24 89h1v1h-1zM24 120h1v1h-1zM24 124h1v1h-1zM24 128h1v1h-1zM24 141h1v3h-1zM24 153h1v1h-1zM24 157h1v1h-1zM24 162h1v2h-1zM24 167h1v1h-1zM24 180h1v1h-1zM24 191h1v1h-1zM24 196h1v1h-1zM25 0h1v1h-1zM25 8h1v2h-1zM25 19h1v1h-1zM25 28h1v1h-1zM25 34h1v2h-1zM25 75h1v2h-1zM25 83h1v1h-1zM25 93h1v1h-1zM25 104h1v1h-1zM25 114h1v1h-1zM25 123h1v2h-1zM25 131h1v1h-1zM25 135h1v1h-1zM25 138h1v1h-1zM25 140h1v2h-1zM25 152h1v1h-1zM25 158h1v1h-1zM25 164h1v1h-1zM25 182h1v1h-1zM26 2h1v2h-1zM26 57h1v1h-1zM26 68h1v1h-1zM26 74h1v1h-1zM26 99h1v1h-1zM26 107h1v1h-1zM26 117h1v1h-1zM26 139h1v1h-1zM26 167h1v1h-1zM26 184h1v1h-1zM26 191h1v1h-1zM26 194h1v1h-1zM27 1h1v1h-1zM27 26h1v1h-1zM27 28h1v1h-1zM27 50h1v1h-1zM27 56h1v1h-1zM27 64h1v1h-1zM27 72h1v1h-1zM27 90h1v1h-1zM27 96h1v1h-1zM27 100h1v1h-1zM27 125h1v2h-1zM27 128h1v1h-1zM27 142h1v2h-1zM27 169h1v1h-1zM27 181h1v1h-1zM27 183h1v1h-1zM27 191h1v1h-1zM27 197h1v1h-1zM28 78h1v1h-1zM28 93h1v1h-1zM28 110h1v1h-1zM28 114h1v2h-1zM28 120h1v1h-1zM28 131h1v1h-1zM28 137h1v3h-1zM28 148h1v1h-1zM28 161h1v1h-1zM28 176h1v1h-1zM28 187h1v2h-1zM28 190h1v1h-1zM29 1h1v2h-1zM29 9h1v1h-1zM29 32h1v1h-1zM29 34h1v1h-1zM29 37h1v1h-1zM29 42h1v1h-1zM29 62h1v1h-1zM29 77h1v1h-1zM29 85h1v1h-1zM29 116h1v2h-1zM29 129h1v1h-1zM29 143h1v1h-1zM29 154h1v1h-1zM29 179h1v1h-1zM29 189h1v1h-1zM29 197h1v1h-1zM30 0h1v2h-1zM30 11h1v1h-1zM30 19h1v1h-1zM30 26h1v1h-1zM30 29h1v1h-1zM30 45h1v2h-1zM30 65h1v1h-1zM30 78h1v1h-1zM30 96h1v1h-1zM30 103h1v1h-1zM30 105h1v1h-1zM30 108h1v1h-1zM30 123h1v1h-1zM30 129h1v1h-1zM30 151h1v1h-1zM30 157h1v1h-1zM30 189h1v3h-1zM30 193h1v1h-1zM30 196h1v1h-1zM31 9h1v1h-1zM31 16h1v1h-1zM31 28h1v1h-1zM31 46h1v1h-1zM31 54h1v2h-1zM31 58h1v1h-1zM31 71h1v1h-1zM31 84h1v1h-1zM31 106h1v2h-1zM31 113h1v1h-1zM31 116h1v1h-1zM31 176h1v1h-1zM31 180h1v1h-1zM32 8h1v1h-1zM32 20h1v1h-1zM32 38h1v1h-1zM32 56h1v1h-1zM32 113h1v1h-1zM32 122h1v1h-1zM32 153h1v2h-1zM32 157h1v1h-1zM32 195h1v3h-1zM33 8h1v1h-1zM44 167h1v1h-1zM46 192h1v1h-1zM48 34h1v1h-1zM49 15h1v1h-1zM49 23h1v1h-1zM49 27h1v1h-1zM49 134h1v1h-1zM49 172h1v1h-1zM49 179h1v1h-1zM49 193h1v1h-1zM50 20h1v1h-1zM50 77h1v2h-1zM51 2h1v1h-1zM51 12h1v1h-1zM51 64h1v1h-1zM51 120h1v1h-1zM51 139h1v1h-1zM52 12h1v1h-1zM52 48h1v1h-1zM53 3h1v1h-1zM53 19h1v1h-1zM53 73h1v1h-1zM54 39h1v2h-1zM54 71h1v1h-1zM54 182h1v1h-1zM54 194h1v1h-1zM55 12h1v1h-1zM55 83h1v1h-1zM55 152h1v1h-1zM55 159h1v1h-1zM55 180h1v1h-1zM56 12h1v1h-1zM56 59h1v1h-1zM57 39h1v1h-1zM57 82h1v1h-1zM57 95h1v1h-1zM57 148h1v1h-1zM58 5h1v1h-1zM58 61h1v1h-1zM58 69h1v1h-1zM58 81h1v1h-1zM58 96h1v1h-1zM58 111h1v1h-1zM58 121h1v1h-1z"/>
<path fill="#00ecee" d="M1 51h1v1h-1zM3 108h1v1h-1zM4 149h1v1h-1zM4 161h1v1h-1zM4 188h1v1h-1zM5 23h1v1h-1zM5 83h1v2h-1zM5 87h1v1h-1zM5 106h1v1h-1zM5 141h1v2h-1zM5 152h1v1h-1zM5 168h1v1h-1zM5 196h1v1h-1zM6 23h1v1h-1zM6 33h1v1h-1zM6 41h1v1h-1zM6 45h1v1h-1zM6 56h1v1h-1zM6 127h1v1h-1zM6 139h1v1h-1zM6 144h1v1h-1zM6 169h1v1h-1zM6 180h1v1h-1zM7 109h1v1h-1zM7 116h1v1h-1zM7 133h1v1h-1zM8 7h1v1h-1zM8 34h1v1h-1zM8 49h1v2h-1zM8 57h1v1h-1zM8 86h1v1h-1zM8 117h1v1h-1zM8 120h1v1h-1zM8 157h1v1h-1zM8 182h1v1h-1zM8 189h1v1h-1zM8 195h1v1h-1zM9 14h1v1h-1zM9 21h1v2h-1zM9 30h1v1h-1zM9 35h1v1h-1zM9 40h1v1h-1zM9 63h1v1h-1zM9 65h1v1h-1zM9 104h1v1h-1zM9 111h1v1h-1zM9 140h1v1h-1zM9 161h1v1h-1zM10 10h1v1h-1zM10 24h1v1h-1zM10 42h1v1h-1zM10 58h1v1h-1zM10 96h1v1h-1zM10 116h1v1h-1zM10 118h1v1h-1zM10 131h1v2h-1zM10 141h1v1h-1zM10 163h1v1h-1zM10 183h1v1h-1zM10 191h1v1h-1zM10 194h1v1h-1zM11 32h1v1h-1zM11 35h1v1h-1zM11 48h1v1h-1zM11 51h1v1h-1zM11 64h1v1h-1zM11 84h1v1h-1zM11 87h1v1h-1zM11 94h1v1h-1zM11 96h1v1h-1zM11 131h1v2h-1zM11 144h1v1h-1zM11 149h1v1h-1zM11 163h1v1h-1zM11 188h1v1h-1zM12 10h1v1h-1zM12 38h1v1h-1zM12 63h1v1h-1zM12 68h1v1h-1zM12 88h1v1h-1zM12 107h1v1h-1zM12 158h1v1h-1zM12 163h1v1h-1zM12 174h1v1h-1zM12 178h1v1h-1zM12 193h1v1h-1zM13 3h1v1h-1zM13 6h1v1h-1zM13 28h1v1h-1zM13 45h1v1h-1zM13 75h1v1h-1zM13 100h1v1h-1zM13 132h1v1h-1zM13 146h1v1h-1zM13 152h1v2h-1zM13 175h1v1h-1zM13 177h1v1h-1zM13 196h1v1h-1zM14 7h1v1h-1zM14 28h1v1h-1zM14 35h1v1h-1zM14 65h1v1h-1zM14 95h1v2h-1zM14 130h1v1h-1zM14 133h1v1h-1zM14 154h1v1h-1zM14 175h1v2h-1zM15 34h1v1h-1zM15 45h1v1h-1zM15 51h1v1h-1zM15 53h1v2h-1zM15 73h1v1h-1zM15 75h1v1h-1zM15 120h1v1h-1zM15 146h1v1h-1zM15 148h1v1h-1zM15 158h1v1h-1zM15 174h1v1h-1zM15 184h1v1h-1zM15 189h1v1h-1zM16 50h1v1h-1zM16 68h1v1h-1zM16 76h1v1h-1zM16 96h1v1h-1zM16 102h1v1h-1zM16 107h1v2h-1zM16 115h1v1h-1zM16 129h1v1h-1zM16 147h1v1h-1zM16 167h1v1h-1zM16 187h1v1h-1zM17 4h1v1h-1zM17 10h1v1h-1zM17 26h1v1h-1zM17 68h1v1h-1zM17 77h1v1h-1zM17 87h1v1h-1zM17 100h1v1h-1zM17 117h1v2h-1zM17 123h1v1h-1zM17 142h1v3h-1zM17 148h1v1h-1zM17 156h1v2h-1zM17 169h1v1h-1zM17 183h1v1h-1zM17 191h1v2h-1zM18 42h1v1h-1zM18 70h1v1h-1zM18 94h1v2h-1zM18 113h1v1h-1zM18 134h1v2h-1zM18 160h1v1h-1zM18 163h1v1h-1zM18 166h1v1h-1zM18 189h1v1h-1zM19 25h1v1h-1zM19 29h1v1h-1zM19 45h1v1h-1zM19 60h1v1h-1zM19 82h1v2h-1zM19 114h1v1h-1zM19 132h1v1h-1zM19 144h1v1h-1zM19 162h1v1h-1zM19 173h1v1h-1zM19 178h1v1h-1zM19 185h1v1h-1zM20 4h1v1h-1zM20 9h1v1h-1zM20 30h1v1h-1zM20 68h1v1h-1zM20 84h1v2h-1zM20 90h1v1h-1zM20 101h1v1h-1zM20 115h1v1h-1zM20 122h1v1h-1zM20 140h1v1h-1zM20 144h1v1h-1zM20 160h1v1h-1zM20 165h1v1h-1zM20 167h1v1h-1zM20 172h1v1h-1zM20 177h1v1h-1zM20 197h1v1h-1zM21 1h1v1h-1zM21 19h1v1h-1zM21 23h1v2h-1zM21 39h1v1h-1zM21 57h1v1h-1zM21 67h1v2h-1zM21 88h1v1h-1zM21 162h1v1h-1zM21 168h1v1h-1zM21 182h1v1h-1zM21 185h1v1h-1zM21 191h1v1h-1zM22 15h1v1h-1zM22 20h1v1h-1zM22 28h1v1h-1zM22 61h1v1h-1zM22 77h1v1h-1zM22 96h1v1h-1zM22 109h1v1h-1zM22 127h1v1h-1zM22 150h1v1h-1zM22 156h1v1h-1zM23 3h1v1h-1zM23 8h1v1h-1zM23 11h1v1h-1zM23 14h1v1h-1zM23 16h1v1h-1zM23 26h1v1h-1zM23 38h1v1h-1zM23 59h1v1h-1zM23 72h1v2h-1zM23 80h1v1h-1zM23 87h1v1h-1zM23 89h1v1h-1zM23 96h1v1h-1zM23 113h1v1h-1zM23 116h1v1h-1zM23 136h1v1h-1zM23 141h1v1h-1zM23 143h1v1h-1zM23 154h1v2h-1zM23 164h1v1h-1zM23 166h1v1h-1zM23 169h1v1h-1zM23 172h1v1h-1zM23 188h1v1h-1zM23 196h1v1h-1zM24 2h1v1h-1zM24 5h1v1h-1zM24 18h1v1h-1zM24 20h1v2h-1zM24 28h1v1h-1zM24 43h1v1h-1zM24 68h1v2h-1zM24 76h1v1h-1zM24 78h1v2h-1zM24 96h1v1h-1zM24 104h1v1h-1zM24 109h1v1h-1zM24 114h1v1h-1zM24 116h1v1h-1zM24 127h1v1h-1zM24 149h1v2h-1zM24 165h1v1h-1zM25 17h1v2h-1zM25 21h1v1h-1zM25 25h1v1h-1zM25 65h1v1h-1zM25 74h1v1h-1zM25 90h1v1h-1zM25 95h1v1h-1zM25 121h1v1h-1zM25 126h1v1h-1zM25 139h1v1h-1zM25 147h1v1h-1zM25 165h1v1h-1zM25 178h1v2h-1zM25 185h1v1h-1zM26 6h1v1h-1zM26 10h1v1h-1zM26 15h1v1h-1zM26 24h1v1h-1zM26 26h1v1h-1zM26 32h1v1h-1zM26 49h1v1h-1zM26 65h1v2h-1zM26 82h1v1h-1zM26 92h1v1h-1zM26 95h1v1h-1zM26 104h1v1h-1zM26 110h1v1h-1zM26 118h1v1h-1zM26 123h1v1h-1zM26 140h1v1h-1zM26 143h1v1h-1zM26 164h1v1h-1zM26 170h1v1h-1zM26 188h1v1h-1zM27 9h1v1h-1zM27 17h1v1h-1zM27 27h1v1h-1zM27 49h1v1h-1zM27 51h1v1h-1zM27 54h1v1h-1zM27 65h1v1h-1zM27 79h1v1h-1zM27 114h1v2h-1zM27 130h1v1h-1zM27 133h1v1h-1zM27 136h1v1h-1zM27 149h1v1h-1zM27 162h1v2h-1zM27 176h1v1h-1zM28 3h1v1h-1zM28 7h1v1h-1zM28 20h1v2h-1zM28 28h1v1h-1zM28 74h1v1h-1zM28 88h1v1h-1zM28 92h1v1h-1zM28 99h1v1h-1zM28 106h1v1h-1zM28 128h1v1h-1zM28 132h1v1h-1zM28 136h1v1h-1zM28 152h1v1h-1zM28 175h1v1h-1zM28 178h1v1h-1zM28 180h1v1h-1zM28 192h1v1h-1zM29 6h1v1h-1zM29 10h1v1h-1zM29 27h1v1h-1zM29 60h1v1h-1zM29 71h1v1h-1zM29 76h1v1h-1zM29 81h1v1h-1zM29 96h1v1h-1zM29 98h1v1h-1zM29 115h1v1h-1zM29 118h1v1h-1zM29 138h1v2h-1zM29 145h1v1h-1zM29 163h1v1h-1zM30 2h1v1h-1zM30 16h1v1h-1zM30 41h1v1h-1zM30 44h1v1h-1zM30 50h1v1h-1zM30 55h1v1h-1zM30 60h1v1h-1zM30 63h1v1h-1zM30 67h1v1h-1zM30 76h1v2h-1zM30 88h1v1h-1zM30 91h1v1h-1zM30 113h1v1h-1zM30 115h1v1h-1zM30 125h1v1h-1zM30 131h1v1h-1zM30 140h1v1h-1zM30 144h1v1h-1zM30 150h1v1h-1zM30 175h1v1h-1zM31 19h1v1h-1zM31 25h1v1h-1zM31 36h1v1h-1zM31 56h1v1h-1zM31 62h1v1h-1zM31 78h1v1h-1zM31 86h1v1h-1zM31 104h1v1h-1zM31 117h1v2h-1zM31 130h1v1h-1zM31 156h1v2h-1zM31 181h1v1h-1zM32 2h1v1h-1zM32 4h1v1h-1zM32 22h1v2h-1zM32 28h1v1h-1zM32 47h1v1h-1zM32 53h1v1h-1zM32 72h1v3h-1zM32 79h1v3h-1zM32 86h1v1h-1zM32 91h1v1h-1zM32 99h1v1h-1zM32 127h1v1h-1zM32 129h1v1h-1zM32 141h1v1h-1zM32 172h1v2h-1zM32 187h1v1h-1zM32 191h1v1h-1zM43 93h1v1h-1zM45 97h1v1h-1zM47 159h1v1h-1zM48 16h1v1h-1zM48 27h1v1h-1zM48 32h1v2h-1zM48 40h1v1h-1zM48 45h1v1h-1zM48 56h1v1h-1zM48 187h1v1h-1zM49 20h1v1h-1zM49 35h1v1h-1zM49 52h1v1h-1zM49 61h1v4h-1zM49 74h1v1h-1zM49 76h1v1h-1zM49 80h1v1h-1zM49 82h1v1h-1zM49 101h1v1h-1zM49 116h1v1h-1zM49 150h1v1h-1zM49 176h1v1h-1zM49 188h1v1h-1zM49 190h1v1h-1zM49 196h1v1h-1zM50 3h1v1h-1zM50 12h1v1h-1zM50 48h1v1h-1zM50 53h1v1h-1zM50 87h1v1h-1zM50 108h1v1h-1zM50 125h1v1h-1zM50 157h1v1h-1zM50 180h1v1h-1zM50 182h1v1h-1zM50 184h1v1h-1zM51 26h1v1h-1zM51 46h1v1h-1zM51 92h1v1h-1zM51 153h1v1h-1zM52 29h1v1h-1zM52 46h1v1h-1zM52 62h1v1h-1zM52 100h1v1h-1zM52 136h1v2h-1zM52 163h1v1h-1zM53 12h1v1h-1zM53 27h1v1h-1zM53 148h1v1h-1zM53 150h1v1h-1zM53 156h1v1h-1zM53 169h1v1h-1zM54 12h1v1h-1zM54 97h1v1h-1zM54 152h1v1h-1zM54 156h1v1h-1zM54 179h1v1h-1zM54 185h1v1h-1zM55 75h1v1h-1zM55 137h1v1h-1zM55 154h1v1h-1zM55 179h1v1h-1zM56 25h1v1h-1zM56 38h1v1h-1zM56 47h1v1h-1zM56 155h1v1h-1zM56 192h1v1h-1zM57 75h1v1h-1zM57 77h1v1h-1zM58 1h1v1h-1zM58 34h1v1h-1zM58 54h1v1h-1zM58 74h1v1h-1zM58 161h1v1h-1z"/>
<path fill="#00f4dc" d="M1 96h1v1h-1zM1 181h1v1h-1zM1 185h1v1h-1zM2 171h1v2h-1zM5 1h1v1h-1zM5 56h1v1h-1zM5 68h1v1h-1zM5 86h1v1h-1zM6 0h1v1h-1zM6 34h1v1h-1zM6 101h1v1h-1zM6 125h1v1h-1zM6 197h1v1h-1zM7 11h1v1h-1zM7 56h1v1h-1zM7 68h1v1h-1zM7 106h1v1h-1zM7 115h1v1h-1zM7 170h1v1h-1zM7 192h1v1h-1zM8 15h1v1h-1zM8 46h1v1h-1zM8 48h1v1h-1zM8 53h1v1h-1zM8 62h1v1h-1zM8 80h1v1h-1zM8 83h1v1h-1zM8 102h1v1h-1zM8 104h1v1h-1zM8 107h1v1h-1zM8 123h1v1h-1zM8 131h1v1h-1zM9 5h1v1h-1zM9 10h1v1h-1zM9 38h1v2h-1zM9 44h1v2h-1zM9 107h1v1h-1zM9 141h1v1h-1zM9 170h1v1h-1zM10 1h1v1h-1zM10 13h1v1h-1zM10 95h1v1h-1zM10 110h1v1h-1zM10 146h1v1h-1zM10 186h1v1h-1zM10 193h1v1h-1zM11 11h1v1h-1zM11 37h1v1h-1zM11 50h1v1h-1zM11 60h1v1h-1zM11 73h1v1h-1zM11 154h1v1h-1zM11 160h1v1h-1zM11 162h1v1h-1zM11 175h1v1h-1zM11 189h1v2h-1zM12 8h1v1h-1zM12 67h1v1h-1zM12 83h1v1h-1zM12 129h1v1h-1zM12 151h1v2h-1zM12 192h1v1h-1zM13 15h1v1h-1zM13 31h1v1h-1zM13 33h1v1h-1zM13 46h1v1h-1zM13 56h1v1h-1zM13 74h1v1h-1zM13 78h1v1h-1zM13 183h1v1h-1zM13 185h1v1h-1zM13 190h1v1h-1zM14 24h1v1h-1zM14 29h1v1h-1zM14 110h1v1h-1zM14 131h1v1h-1zM14 163h1v3h-1zM14 168h1v1h-1zM14 171h1v1h-1zM15 1h1v1h-1zM15 16h1v1h-1zM15 20h1v1h-1zM15 31h1v1h-1zM15 47h1v1h-1zM15 84h1v1h-1zM15 112h1v1h-1zM15 118h1v1h-1zM15 121h1v1h-1zM15 133h1v1h-1zM15 152h1v1h-1zM15 169h1v1h-1zM15 186h1v1h-1zM15 190h1v1h-1zM16 28h1v1h-1zM16 70h1v2h-1zM16 77h1v1h-1zM16 90h1v1h-1zM16 109h1v1h-1zM16 131h1v1h-1zM16 146h1v1h-1zM16 153h1v1h-1zM16 170h1v1h-1zM17 11h1v1h-1zM17 51h1v1h-1zM17 53h1v2h-1zM17 66h1v1h-1zM17 78h1v1h-1zM17 88h1v1h-1zM17 91h1v1h-1zM17 98h1v1h-1zM17 102h1v1h-1zM17 107h1v1h-1zM17 120h1v1h-1zM17 125h1v1h-1zM17 128h1v1h-1zM17 140h1v1h-1zM17 149h1v1h-1zM17 151h1v1h-1zM17 166h1v1h-1zM17 176h1v1h-1zM17 179h1v1h-1zM18 4h1v1h-1zM18 41h1v1h-1zM18 58h1v2h-1zM18 91h1v1h-1zM18 128h1v1h-1zM18 185h1v1h-1zM19 23h1v1h-1zM19 40h1v1h-1zM19 86h1v1h-1zM19 112h1v1h-1zM19 115h1v1h-1zM19 142h1v1h-1zM19 153h1v2h-1zM19 169h1v1h-1zM19 174h1v1h-1zM19 177h1v1h-1zM19 179h1v1h-1zM20 45h1v1h-1zM20 55h1v1h-1zM20 92h1v1h-1zM20 99h1v1h-1zM20 135h1v1h-1zM20 139h1v1h-1zM20 147h1v1h-1zM20 164h1v1h-1zM20 171h1v1h-1zM20 181h1v1h-1zM21 8h1v1h-1zM21 25h1v1h-1zM21 104h1v1h-1zM21 122h1v1h-1zM21 132h1v1h-1zM21 144h1v2h-1zM21 156h1v1h-1zM21 161h1v1h-1zM21 171h1v1h-1zM21 184h1v1h-1zM21 192h1v1h-1zM22 46h1v1h-1zM22 53h1v1h-1zM22 69h1v2h-1zM22 98h1v2h-1zM22 110h1v1h-1zM22 114h1v1h-1zM22 124h1v1h-1zM22 128h1v1h-1zM22 147h1v1h-1zM22 152h1v1h-1zM22 159h1v1h-1zM23 30h1v1h-1zM23 42h1v1h-1zM23 45h1v1h-1zM23 56h1v1h-1zM23 70h1v1h-1zM23 111h1v1h-1zM23 137h1v1h-1zM23 142h1v1h-1zM23 144h1v1h-1zM23 147h1v1h-1zM23 151h1v1h-1zM23 153h1v1h-1zM23 175h1v1h-1zM24 3h1v1h-1zM24 9h1v1h-1zM24 13h1v1h-1zM24 15h1v1h-1zM24 39h1v1h-1zM24 59h1v1h-1zM24 93h1v1h-1zM24 95h1v1h-1zM24 100h1v1h-1zM24 117h1v1h-1zM24 119h1v1h-1zM24 139h1v1h-1zM25 2h1v1h-1zM25 10h1v1h-1zM25 120h1v1h-1zM25 150h1v1h-1zM25 153h1v1h-1zM25 157h1v1h-1zM26 8h1v1h-1zM26 25h1v1h-1zM26 29h1v1h-1zM26 35h1v1h-1zM26 45h1v1h-1zM26 47h1v2h-1zM26 55h1v1h-1zM26 87h1v3h-1zM26 94h1v1h-1zM26 116h1v1h-1zM26 159h1v1h-1zM26 161h1v1h-1zM26 163h1v1h-1zM26 168h1v1h-1zM26 177h1v1h-1zM26 179h1v1h-1zM27 0h1v1h-1zM27 2h1v1h-1zM27 29h1v2h-1zM27 78h1v1h-1zM27 87h1v1h-1zM27 91h1v2h-1zM27 108h1v1h-1zM27 120h1v1h-1zM27 139h1v1h-1zM27 144h1v1h-1zM27 155h1v1h-1zM27 170h1v1h-1zM27 188h1v3h-1zM28 8h1v1h-1zM28 13h1v1h-1zM28 17h1v1h-1zM28 19h1v1h-1zM28 27h1v1h-1zM28 33h1v1h-1zM28 40h1v1h-1zM28 45h1v1h-1zM28 65h1v2h-1zM28 75h1v1h-1zM28 79h1v2h-1zM28 104h1v1h-1zM28 126h1v1h-1zM28 144h1v1h-1zM28 149h1v1h-1zM28 158h1v1h-1zM28 170h1v1h-1zM28 177h1v1h-1zM28 184h1v1h-1zM28 191h1v1h-1zM28 193h1v1h-1zM29 7h1v1h-1zM29 15h1v1h-1zM29 23h1v1h-1zM29 40h1v1h-1zM29 46h1v1h-1zM29 70h1v1h-1zM29 73h1v1h-1zM29 78h1v1h-1zM29 82h1v1h-1zM29 90h1v1h-1zM29 97h1v1h-1zM29 99h1v2h-1zM29 102h1v1h-1zM29 106h1v1h-1zM29 119h1v2h-1zM29 155h1v3h-1zM29 161h1v1h-1zM29 168h1v1h-1zM29 171h1v1h-1zM29 187h1v1h-1zM29 196h1v1h-1zM30 4h1v1h-1zM30 6h1v1h-1zM30 14h1v1h-1zM30 27h1v1h-1zM30 52h1v1h-1zM30 64h1v1h-1zM30 68h1v1h-1zM30 82h1v1h-1zM30 84h1v1h-1zM30 104h1v1h-1zM30 133h1v3h-1zM30 149h1v1h-1zM30 159h1v1h-1zM30 167h1v1h-1zM30 179h1v1h-1zM30 195h1v1h-1zM30 197h1v1h-1zM31 6h1v1h-1zM31 14h1v1h-1zM31 49h1v1h-1zM31 53h1v1h-1zM31 65h1v1h-1zM31 76h1v1h-1zM31 93h1v1h-1zM31 114h1v1h-1zM31 138h1v1h-1zM31 154h1v1h-1zM31 170h1v2h-1zM32 33h1v1h-1zM32 45h1v1h-1zM32 54h1v1h-1zM32 62h1v1h-1zM32 89h1v1h-1zM32 121h1v1h-1zM32 125h1v1h-1zM32 161h1v1h-1zM32 164h1v1h-1zM32 192h1v2h-1zM33 5h1v1h-1zM33 7h1v1h-1zM39 172h1v1h-1zM40 38h1v1h-1zM40 156h1v1h-1zM42 27h1v1h-1zM42 52h1v1h-1zM43 29h1v1h-1zM43 164h1v1h-1zM45 150h1v1h-1zM45 167h1v1h-1zM45 188h1v1h-1zM46 127h1v1h-1zM48 22h1v1h-1zM48 25h1v2h-1zM48 38h1v1h-1zM48 44h1v1h-1zM48 46h1v2h-1zM48 55h1v1h-1zM48 191h1v1h-1zM48 196h1v2h-1zM49 39h1v1h-1zM49 102h1v1h-1zM49 105h1v1h-1zM49 108h1v1h-1zM49 135h1v1h-1zM50 0h1v1h-1zM50 5h1v3h-1zM50 31h1v1h-1zM50 37h1v1h-1zM50 42h1v1h-1zM50 49h1v1h-1zM50 55h1v1h-1zM50 90h1v1h-1zM50 124h1v1h-1zM51 16h1v1h-1zM51 35h1v1h-1zM51 93h1v1h-1zM51 178h1v1h-1zM51 180h1v1h-1zM52 43h1v1h-1zM52 97h1v1h-1zM52 106h1v1h-1zM52 131h1v1h-1zM52 145h1v1h-1zM52 159h1v2h-1zM52 192h1v1h-1zM53 28h1v1h-1zM53 40h1v1h-1zM53 45h1v2h-1zM53 48h1v1h-1zM53 61h1v1h-1zM53 64h1v1h-1zM53 79h1v1h-1zM53 186h1v1h-1zM54 2h1v1h-1zM54 17h1v1h-1zM54 41h1v1h-1zM54 62h1v1h-1zM54 72h1v1h-1zM54 102h1v1h-1zM54 137h1v1h-1zM54 158h1v1h-1zM54 191h1v1h-1zM55 1h1v1h-1zM55 6h1v1h-1zM55 8h1v1h-1zM55 55h1v1h-1zM55 81h1v2h-1zM55 92h1v1h-1zM55 113h1v1h-1zM55 131h1v1h-1zM55 139h1v1h-1zM55 142h1v1h-1zM55 145h1v1h-1zM55 155h1v1h-1zM55 160h1v1h-1zM55 176h1v1h-1zM56 8h1v1h-1zM56 36h1v1h-1zM56 54h1v1h-1zM56 61h1v1h-1zM56 81h1v1h-1zM56 108h1v1h-1zM56 113h1v1h-1zM56 135h1v1h-1zM56 137h1v1h-1zM56 153h1v1h-1zM56 156h1v1h-1zM57 5h1v1h-1zM57 11h1v1h-1zM57 36h1v1h-1zM57 94h1v1h-1zM58 7h1v1h-1zM58 16h1v1h-1zM58 82h1v1h-1zM58 95h1v1h-1zM58 160h1v1h-1zM58 195h1v1h-1z"/>
<path fill="#00fbc9" d="M4 139h1v1h-1zM5 11h1v1h-1zM5 169h1v1h-1zM6 152h1v1h-1zM7 171h1v1h-1zM7 193h1v1h-1zM8 25h1v1h-1zM8 55h1v1h-1zM8 59h1v1h-1zM8 76h1v1h-1zM8 88h1v1h-1zM8 122h1v1h-1zM8 129h1v2h-1zM8 178h1v1h-1zM8 193h1v1h-1zM9 42h1v2h-1zM9 48h1v1h-1zM9 56h1v1h-1zM9 58h1v1h-1zM9 89h1v1h-1zM10 27h1v1h-1zM10 51h1v1h-1zM10 87h1v1h-1zM10 126h1v1h-1zM10 130h1v1h-1zM10 149h1v1h-1zM10 181h1v1h-1zM11 148h1v1h-1zM11 152h1v1h-1zM11 174h1v1h-1zM11 177h1v1h-1zM12 35h1v1h-1zM12 45h1v1h-1zM12 105h1v1h-1zM12 127h1v1h-1zM12 130h1v1h-1zM13 54h1v1h-1zM13 79h1v1h-1zM13 112h1v1h-1zM13 154h1v1h-1zM13 182h1v1h-1zM14 2h1v1h-1zM14 25h1v1h-1zM14 162h1v1h-1zM14 178h1v1h-1zM15 17h1v1h-1zM15 24h1v1h-1zM15 33h1v1h-1zM15 36h1v1h-1zM15 41h1v1h-1zM15 77h1v1h-1zM15 105h1v1h-1zM15 156h1v1h-1zM15 161h1v2h-1zM15 168h1v1h-1zM15 170h1v1h-1zM15 181h1v1h-1zM16 58h1v1h-1zM16 73h1v2h-1zM16 82h1v1h-1zM16 104h1v1h-1zM16 116h1v1h-1zM16 150h1v1h-1zM16 161h1v2h-1zM16 185h1v1h-1zM16 188h1v1h-1zM17 6h1v1h-1zM17 22h1v1h-1zM17 95h1v1h-1zM17 103h1v2h-1zM17 126h1v1h-1zM17 134h1v2h-1zM17 147h1v1h-1zM17 150h1v1h-1zM17 154h1v1h-1zM17 172h1v1h-1zM17 188h1v1h-1zM18 3h1v1h-1zM18 69h1v1h-1zM18 110h1v1h-1zM18 138h1v1h-1zM18 155h1v1h-1zM18 168h1v1h-1zM19 47h1v1h-1zM19 50h1v1h-1zM19 55h1v1h-1zM19 167h1v1h-1zM19 175h1v1h-1zM19 184h1v1h-1zM20 7h1v1h-1zM20 56h1v1h-1zM20 60h1v1h-1zM20 65h1v1h-1zM20 95h1v1h-1zM20 136h1v1h-1zM20 145h1v1h-1zM20 151h1v2h-1zM20 185h1v1h-1zM20 188h1v1h-1zM21 9h1v1h-1zM21 33h1v1h-1zM21 51h1v1h-1zM21 54h1v1h-1zM21 56h1v1h-1zM21 72h1v1h-1zM21 84h1v1h-1zM21 100h1v1h-1zM21 121h1v1h-1zM21 139h1v1h-1zM21 146h1v1h-1zM21 153h1v1h-1zM21 167h1v1h-1zM21 183h1v1h-1zM21 196h1v1h-1zM22 0h1v3h-1zM22 4h1v1h-1zM22 13h1v1h-1zM22 30h1v1h-1zM22 49h1v1h-1zM22 54h1v1h-1zM22 79h1v1h-1zM22 121h1v1h-1zM22 138h1v1h-1zM22 153h1v1h-1zM22 158h1v1h-1zM22 183h1v1h-1zM22 193h1v1h-1zM23 32h1v1h-1zM23 44h1v1h-1zM23 49h1v1h-1zM23 84h1v1h-1zM23 100h1v1h-1zM23 107h1v2h-1zM23 117h1v1h-1zM23 126h1v1h-1zM23 149h1v1h-1zM23 171h1v1h-1zM24 50h1v1h-1zM24 58h1v1h-1zM24 77h1v1h-1zM24 94h1v1h-1zM24 105h1v1h-1zM24 112h1v2h-1zM24 130h1v1h-1zM24 132h1v1h-1zM24 164h1v1h-1zM24 183h1v1h-1zM25 7h1v1h-1zM25 56h1v1h-1zM25 69h1v1h-1zM25 91h1v2h-1zM25 128h1v1h-1zM25 149h1v1h-1zM25 159h1v1h-1zM25 177h1v1h-1zM25 183h1v1h-1zM25 194h1v1h-1zM26 36h1v1h-1zM26 51h1v1h-1zM26 90h1v1h-1zM26 93h1v1h-1zM26 133h1v1h-1zM26 138h1v1h-1zM26 148h1v1h-1zM26 150h1v1h-1zM26 160h1v1h-1zM26 192h1v1h-1zM27 18h1v1h-1zM27 42h1v1h-1zM27 73h1v1h-1zM27 150h1v1h-1zM27 158h1v1h-1zM27 164h1v1h-1zM27 167h1v1h-1zM27 178h1v1h-1zM28 14h1v1h-1zM28 29h1v1h-1zM28 37h1v1h-1zM28 57h1v1h-1zM28 68h1v1h-1zM28 77h1v1h-1zM28 85h1v1h-1zM28 91h1v1h-1zM28 107h1v1h-1zM28 145h1v1h-1zM28 147h1v1h-1zM28 153h1v1h-1zM28 155h1v1h-1zM29 22h1v1h-1zM29 35h1v1h-1zM29 39h1v1h-1zM29 45h1v1h-1zM29 65h1v1h-1zM29 68h1v2h-1zM29 84h1v1h-1zM29 101h1v1h-1zM29 110h1v1h-1zM29 148h1v1h-1zM29 152h1v1h-1zM29 173h1v1h-1zM30 13h1v1h-1zM30 23h1v1h-1zM30 28h1v1h-1zM30 40h1v1h-1zM30 62h1v1h-1zM30 69h1v1h-1zM30 71h1v1h-1zM30 81h1v1h-1zM30 83h1v1h-1zM30 126h1v1h-1zM30 136h1v1h-1zM30 138h1v1h-1zM30 170h1v1h-1zM31 2h1v1h-1zM31 7h1v1h-1zM31 29h1v1h-1zM31 41h1v1h-1zM31 61h1v1h-1zM31 77h1v1h-1zM31 81h1v1h-1zM31 88h1v1h-1zM31 91h1v1h-1zM31 96h1v1h-1zM31 122h1v1h-1zM31 129h1v1h-1zM31 136h1v1h-1zM31 146h1v1h-1zM31 163h1v1h-1zM31 192h1v2h-1zM32 1h1v1h-1zM32 14h1v1h-1zM32 34h1v1h-1zM32 42h1v1h-1zM32 44h1v1h-1zM32 64h1v1h-1zM32 75h1v1h-1zM32 93h1v1h-1zM32 116h1v2h-1zM32 150h1v1h-1zM32 170h1v1h-1zM32 190h1v1h-1zM32 194h1v1h-1zM39 43h1v1h-1zM40 17h1v1h-1zM40 176h1v1h-1zM41 125h1v1h-1zM42 21h1v1h-1zM42 164h1v1h-1zM43 112h1v1h-1zM44 164h1v1h-1zM45 68h1v1h-1zM45 113h1v1h-1zM46 60h1v1h-1zM46 85h1v1h-1zM46 87h1v2h-1zM46 148h1v1h-1zM46 150h1v1h-1zM46 195h1v1h-1zM47 75h1v1h-1zM47 85h1v1h-1zM48 14h1v1h-1zM48 23h1v1h-1zM48 35h1v1h-1zM48 37h1v1h-1zM48 54h1v1h-1zM48 134h1v1h-1zM48 148h1v1h-1zM48 159h1v1h-1zM49 1h1v1h-1zM49 30h1v1h-1zM49 33h1v1h-1zM49 73h1v1h-1zM49 113h1v1h-1zM49 117h1v1h-1zM49 122h1v1h-1zM49 129h1v3h-1zM49 148h1v1h-1zM49 187h1v1h-1zM50 8h1v1h-1zM50 72h1v1h-1zM50 76h1v1h-1zM50 86h1v1h-1zM50 97h1v1h-1zM50 109h1v1h-1zM50 111h1v1h-1zM50 116h1v1h-1zM50 155h1v1h-1zM50 173h1v1h-1zM50 189h1v1h-1zM51 0h1v1h-1zM51 34h1v1h-1zM51 38h1v1h-1zM51 111h1v2h-1zM51 118h1v1h-1zM51 167h1v2h-1zM52 1h1v1h-1zM52 8h1v1h-1zM52 25h1v1h-1zM52 71h1v1h-1zM52 91h1v1h-1zM52 98h1v1h-1zM52 105h1v1h-1zM52 118h1v1h-1zM52 129h1v1h-1zM52 150h1v1h-1zM52 156h1v1h-1zM52 173h1v1h-1zM53 2h1v1h-1zM53 6h1v1h-1zM53 11h1v1h-1zM53 49h1v1h-1zM53 74h1v1h-1zM53 137h1v1h-1zM53 151h1v2h-1zM53 157h1v2h-1zM53 167h1v1h-1zM53 171h1v1h-1zM53 183h1v1h-1zM54 0h1v1h-1zM54 14h1v1h-1zM54 36h1v1h-1zM54 54h1v1h-1zM54 59h1v1h-1zM54 83h1v1h-1zM54 104h1v1h-1zM54 122h1v1h-1zM54 151h1v1h-1zM54 159h1v1h-1zM54 167h1v1h-1zM54 181h1v1h-1zM54 192h1v2h-1zM55 10h1v1h-1zM55 42h1v1h-1zM55 71h1v1h-1zM55 114h1v1h-1zM55 141h1v1h-1zM55 153h1v1h-1zM55 167h1v1h-1zM55 178h1v1h-1zM56 26h1v1h-1zM56 34h1v1h-1zM56 56h1v1h-1zM56 85h1v1h-1zM56 127h1v1h-1zM56 134h1v1h-1zM56 150h1v1h-1zM56 157h1v1h-1zM56 164h1v2h-1zM56 173h1v1h-1zM56 189h1v1h-1zM57 1h1v1h-1zM57 4h1v1h-1zM57 66h1v1h-1zM57 89h1v1h-1zM57 126h1v1h-1zM57 130h1v1h-1zM57 134h1v1h-1zM57 145h1v1h-1zM57 172h1v1h-1zM57 181h1v1h-1zM57 184h1v1h-1zM57 189h1v2h-1zM58 0h1v1h-1zM58 11h1v1h-1zM58 29h1v2h-1zM58 83h1v1h-1zM58 85h1v1h-1zM58 90h1v1h-1zM58 92h1v1h-1zM58 102h1v1h-1z"/>
<path fill="#03ffaf" d="M0 13h1v1h-1zM4 96h1v1h-1zM5 73h1v1h-1zM5 107h1v1h-1zM6 24h1v1h-1zM6 27h1v1h-1zM6 44h1v1h-1zM6 126h1v1h-1zM6 158h1v1h-1zM7 110h1v1h-1zM8 14h1v1h-1zM8 17h1v1h-1zM8 24h1v1h-1zM8 29h1v1h-1zM8 37h1v1h-1zM8 63h1v1h-1zM8 69h1v1h-1zM8 84h1v1h-1zM8 99h1v1h-1zM8 116h1v1h-1zM8 166h1v1h-1zM8 172h1v1h-1zM8 180h1v1h-1zM8 188h1v1h-1zM8 190h1v1h-1zM8 192h1v1h-1zM9 4h1v1h-1zM9 37h1v1h-1zM9 106h1v1h-1zM9 142h1v1h-1zM9 168h1v1h-1zM9 191h1v1h-1zM10 2h1v1h-1zM10 161h1v1h-1zM10 196h1v1h-1zM11 93h1v1h-1zM11 100h1v1h-1zM11 126h1v1h-1zM11 155h1v1h-1zM11 171h1v1h-1zM12 79h1v1h-1zM12 104h1v1h-1zM12 143h1v1h-1zM13 72h1v2h-1zM13 77h1v1h-1zM13 156h1v1h-1zM13 161h1v1h-1zM13 188h1v1h-1zM14 63h1v1h-1zM14 180h1v1h-1zM14 197h1v1h-1zM15 42h1v1h-1zM15 78h1v1h-1zM15 90h1v1h-1zM15 129h1v1h-1zM15 164h1v1h-1zM15 185h1v1h-1zM16 4h1v1h-1zM16 37h1v1h-1zM16 56h1v1h-1zM16 66h1v1h-1zM16 173h1v1h-1zM17 24h1v1h-1zM17 29h1v1h-1zM17 65h1v1h-1zM17 105h1v1h-1zM17 119h1v1h-1zM17 131h1v1h-1zM17 189h1v1h-1zM18 9h1v1h-1zM18 75h1v1h-1zM18 137h1v1h-1zM18 147h1v1h-1zM18 150h1v1h-1zM18 152h1v1h-1zM18 154h1v1h-1zM18 165h1v1h-1zM18 170h1v1h-1zM19 24h1v1h-1zM19 31h1v1h-1zM19 35h1v1h-1zM19 48h1v1h-1zM19 110h1v1h-1zM19 151h1v1h-1zM19 155h1v1h-1zM19 176h1v1h-1zM20 11h1v1h-1zM20 21h1v1h-1zM20 34h1v1h-1zM20 70h1v1h-1zM20 93h1v1h-1zM20 100h1v1h-1zM20 120h1v1h-1zM20 123h1v1h-1zM20 161h1v1h-1zM20 176h1v1h-1zM20 182h1v1h-1zM20 187h1v1h-1zM21 53h1v1h-1zM21 126h1v1h-1zM21 135h1v1h-1zM21 141h1v1h-1zM21 143h1v1h-1zM21 147h1v1h-1zM21 152h1v1h-1zM21 157h1v1h-1zM21 172h1v1h-1zM21 195h1v1h-1zM22 5h1v2h-1zM22 21h1v1h-1zM22 85h1v1h-1zM22 88h1v1h-1zM22 117h1v1h-1zM22 135h1v1h-1zM22 139h1v1h-1zM22 151h1v1h-1zM22 178h1v1h-1zM23 10h1v1h-1zM23 15h1v1h-1zM23 110h1v1h-1zM23 160h1v1h-1zM23 177h1v1h-1zM23 197h1v1h-1zM24 6h1v1h-1zM24 27h1v1h-1zM24 36h1v1h-1zM24 38h1v1h-1zM24 48h1v1h-1zM24 106h1v1h-1zM24 110h1v1h-1zM24 115h1v1h-1zM24 131h1v1h-1zM24 144h1v1h-1zM24 148h1v1h-1zM24 185h1v1h-1zM25 13h1v1h-1zM25 23h1v1h-1zM25 31h1v1h-1zM25 33h1v1h-1zM25 70h1v1h-1zM25 88h1v2h-1zM25 109h1v1h-1zM25 136h1v1h-1zM25 155h1v1h-1zM25 162h1v1h-1zM25 174h1v1h-1zM25 176h1v1h-1zM25 190h1v1h-1zM26 13h1v1h-1zM26 30h1v1h-1zM26 41h1v1h-1zM26 46h1v1h-1zM26 50h1v1h-1zM26 63h1v1h-1zM26 70h1v1h-1zM26 86h1v1h-1zM26 109h1v1h-1zM26 111h1v1h-1zM26 120h1v1h-1zM26 137h1v1h-1zM26 153h1v3h-1zM26 166h1v1h-1zM26 193h1v1h-1zM27 5h1v1h-1zM27 13h1v1h-1zM27 20h1v1h-1zM27 40h1v1h-1zM27 113h1v1h-1zM27 129h1v1h-1zM27 138h1v1h-1zM27 146h1v1h-1zM27 152h1v1h-1zM27 154h1v1h-1zM27 194h1v1h-1zM28 11h1v1h-1zM28 15h1v1h-1zM28 34h1v1h-1zM28 43h1v1h-1zM28 82h1v1h-1zM28 95h1v2h-1zM28 113h1v1h-1zM28 127h1v1h-1zM28 135h1v1h-1zM28 162h1v2h-1zM28 167h1v1h-1zM28 173h1v2h-1zM28 181h1v1h-1zM28 183h1v1h-1zM28 186h1v1h-1zM29 57h1v1h-1zM29 66h1v1h-1zM29 91h1v1h-1zM29 105h1v1h-1zM29 108h1v1h-1zM29 131h1v1h-1zM29 141h1v1h-1zM29 146h1v2h-1zM29 170h1v1h-1zM29 174h1v1h-1zM29 186h1v1h-1zM29 188h1v1h-1zM29 193h1v2h-1zM30 30h1v2h-1zM30 47h1v1h-1zM30 49h1v1h-1zM30 51h1v1h-1zM30 57h1v2h-1zM30 75h1v1h-1zM30 89h1v1h-1zM30 92h1v1h-1zM30 111h1v1h-1zM30 124h1v1h-1zM30 128h1v1h-1zM30 137h1v1h-1zM30 169h1v1h-1zM30 177h1v1h-1zM31 4h1v1h-1zM31 30h1v1h-1zM31 33h1v1h-1zM31 35h1v1h-1zM31 51h1v1h-1zM31 60h1v1h-1zM31 64h1v1h-1zM31 68h1v3h-1zM31 80h1v1h-1zM31 87h1v1h-1zM31 98h1v1h-1zM31 101h1v1h-1zM31 145h1v1h-1zM31 147h1v1h-1zM31 172h1v1h-1zM31 175h1v1h-1zM31 177h1v1h-1zM31 179h1v1h-1zM31 191h1v1h-1zM32 15h1v1h-1zM32 52h1v1h-1zM32 68h1v1h-1zM32 70h1v1h-1zM32 102h1v1h-1zM32 115h1v1h-1zM32 118h1v1h-1zM32 128h1v1h-1zM32 140h1v1h-1zM32 149h1v1h-1zM32 152h1v1h-1zM32 158h1v1h-1zM32 160h1v1h-1zM32 168h1v1h-1zM32 180h1v1h-1zM32 182h1v1h-1zM33 2h1v2h-1zM33 6h1v1h-1zM40 41h1v1h-1zM41 17h1v1h-1zM41 61h1v1h-1zM41 144h1v1h-1zM42 53h1v1h-1zM42 64h1v1h-1zM43 94h1v1h-1zM44 91h1v1h-1zM44 156h1v1h-1zM45 61h1v1h-1zM45 88h1v1h-1zM45 121h1v1h-1zM46 69h1v1h-1zM46 71h1v1h-1zM46 89h1v2h-1zM46 111h1v1h-1zM46 125h1v2h-1zM46 128h1v1h-1zM46 134h1v1h-1zM46 136h1v1h-1zM46 149h1v1h-1zM46 187h1v1h-1zM47 17h1v1h-1zM47 74h1v1h-1zM47 81h1v1h-1zM47 97h1v1h-1zM47 143h1v1h-1zM48 0h1v1h-1zM48 10h1v1h-1zM48 15h1v1h-1zM48 24h1v1h-1zM48 29h1v3h-1zM48 41h1v3h-1zM48 49h1v1h-1zM48 53h1v1h-1zM48 57h1v1h-1zM48 188h1v1h-1zM48 194h1v1h-1zM49 0h1v1h-1zM49 2h1v1h-1zM49 5h1v1h-1zM49 58h1v1h-1zM49 103h1v1h-1zM49 114h1v1h-1zM49 136h1v1h-1zM49 143h1v1h-1zM49 146h1v1h-1zM49 149h1v1h-1zM49 151h1v1h-1zM50 9h1v1h-1zM50 38h1v1h-1zM50 51h1v2h-1zM50 54h1v1h-1zM50 81h1v2h-1zM50 84h1v1h-1zM50 88h1v1h-1zM50 128h1v1h-1zM50 148h1v2h-1zM50 152h1v1h-1zM50 176h1v1h-1zM50 186h1v1h-1zM51 9h1v1h-1zM51 27h1v1h-1zM51 37h1v1h-1zM51 41h1v1h-1zM51 72h1v1h-1zM51 95h1v1h-1zM51 98h1v1h-1zM51 160h1v1h-1zM51 179h1v1h-1zM51 194h1v1h-1zM52 15h1v1h-1zM52 37h1v1h-1zM52 49h1v1h-1zM52 61h1v1h-1zM52 69h1v1h-1zM52 78h1v1h-1zM52 89h1v1h-1zM52 92h1v1h-1zM52 99h1v1h-1zM52 107h1v1h-1zM52 109h1v2h-1zM52 164h1v1h-1zM52 169h1v1h-1zM52 195h1v2h-1zM53 4h1v1h-1zM53 9h1v1h-1zM53 18h1v1h-1zM53 25h1v1h-1zM53 29h1v1h-1zM53 47h1v1h-1zM53 112h1v1h-1zM53 127h1v1h-1zM53 130h1v1h-1zM53 134h1v1h-1zM53 155h1v1h-1zM53 162h1v1h-1zM53 168h1v1h-1zM53 182h1v1h-1zM54 9h1v1h-1zM54 16h1v1h-1zM54 32h1v1h-1zM54 50h1v1h-1zM54 61h1v1h-1zM54 63h1v1h-1zM54 69h1v1h-1zM54 73h1v1h-1zM54 103h1v1h-1zM54 120h1v1h-1zM54 134h1v1h-1zM54 136h1v1h-1zM54 154h1v1h-1zM54 160h1v1h-1zM54 180h1v1h-1zM55 0h1v1h-1zM55 5h1v1h-1zM55 7h1v1h-1zM55 25h1v1h-1zM55 43h1v1h-1zM55 53h1v1h-1zM55 59h1v1h-1zM55 72h1v1h-1zM55 77h1v1h-1zM55 87h1v2h-1zM55 109h1v2h-1zM55 115h1v1h-1zM55 123h1v1h-1zM55 138h1v1h-1zM55 161h1v1h-1zM55 189h1v1h-1zM55 192h1v1h-1zM56 14h1v1h-1zM56 27h1v1h-1zM56 29h1v1h-1zM56 46h1v1h-1zM56 101h1v1h-1zM56 107h1v1h-1zM56 109h1v1h-1zM56 112h1v1h-1zM56 131h1v1h-1zM56 147h1v1h-1zM56 179h1v1h-1zM57 6h1v1h-1zM57 10h1v1h-1zM57 31h1v1h-1zM57 33h1v1h-1zM57 74h1v1h-1zM57 92h1v1h-1zM57 102h1v1h-1zM57 159h1v1h-1zM57 170h1v1h-1zM57 195h1v1h-1zM57 197h1v1h-1zM58 6h1v1h-1zM58 9h1v1h-1zM58 13h1v2h-1zM58 50h1v1h-1zM58 55h1v2h-1zM58 72h1v2h-1zM58 94h1v1h-1zM58 115h1v1h-1zM58 120h1v1h-1zM58 143h1v1h-1zM58 163h1v2h-1z"/>
<path fill="#0bff88" d="M0 137h1v1h-1zM3 179h1v1h-1zM4 73h1v1h-1zM4 142h1v1h-1zM5 177h1v1h-1zM7 58h1v1h-1zM8 20h1v1h-1zM8 56h1v1h-1zM8 58h1v1h-1zM8 74h1v1h-1zM8 78h1v1h-1zM8 128h1v1h-1zM8 132h1v1h-1zM8 139h1v1h-1zM9 64h1v1h-1zM11 191h1v1h-1zM13 29h1v1h-1zM13 189h1v1h-1zM13 197h1v1h-1zM14 30h1v1h-1zM14 135h1v1h-1zM15 18h1v1h-1zM15 35h1v1h-1zM15 94h1v1h-1zM15 132h1v1h-1zM15 157h1v1h-1zM15 165h1v1h-1zM16 17h1v1h-1zM16 67h1v1h-1zM16 79h1v2h-1zM16 106h1v1h-1zM16 117h1v1h-1zM16 149h1v1h-1zM16 151h1v2h-1zM16 165h1v1h-1zM16 174h1v1h-1zM17 30h1v1h-1zM17 124h1v1h-1zM17 139h1v1h-1zM17 141h1v1h-1zM17 168h1v1h-1zM17 170h1v1h-1zM17 180h1v1h-1zM18 129h1v1h-1zM18 148h1v1h-1zM18 171h1v1h-1zM19 51h1v1h-1zM19 72h1v2h-1zM19 135h1v1h-1zM19 137h1v1h-1zM19 180h1v1h-1zM19 196h1v1h-1zM20 64h1v1h-1zM20 186h1v1h-1zM21 29h1v1h-1zM21 31h1v1h-1zM21 66h1v1h-1zM21 109h1v1h-1zM21 173h1v1h-1zM22 22h1v1h-1zM22 29h1v1h-1zM22 47h1v1h-1zM22 51h1v1h-1zM22 56h1v1h-1zM22 89h1v1h-1zM22 95h1v1h-1zM22 102h1v1h-1zM22 136h1v1h-1zM22 140h1v1h-1zM22 160h1v1h-1zM22 186h1v1h-1zM23 34h1v2h-1zM23 39h1v1h-1zM23 79h1v1h-1zM23 114h1v1h-1zM23 178h1v1h-1zM23 180h1v1h-1zM23 183h1v1h-1zM24 32h1v2h-1zM24 91h1v1h-1zM24 129h1v1h-1zM24 135h1v1h-1zM24 140h1v1h-1zM24 146h1v1h-1zM24 168h1v1h-1zM25 26h1v1h-1zM25 44h1v1h-1zM25 143h1v1h-1zM25 151h1v1h-1zM25 163h1v1h-1zM25 195h1v1h-1zM26 9h1v1h-1zM26 39h1v1h-1zM26 42h1v1h-1zM26 73h1v1h-1zM26 119h1v1h-1zM26 121h1v1h-1zM26 149h1v1h-1zM26 158h1v1h-1zM26 169h1v1h-1zM26 174h1v1h-1zM27 23h1v1h-1zM27 70h1v2h-1zM27 123h1v1h-1zM27 153h1v1h-1zM27 156h1v1h-1zM27 177h1v1h-1zM27 196h1v1h-1zM28 23h1v2h-1zM28 58h1v1h-1zM28 87h1v1h-1zM28 100h1v1h-1zM28 142h1v2h-1zM28 171h1v1h-1zM28 197h1v1h-1zM29 21h1v1h-1zM29 50h1v1h-1zM29 83h1v1h-1zM29 86h1v2h-1zM29 95h1v1h-1zM29 144h1v1h-1zM29 150h1v2h-1zM29 195h1v1h-1zM30 5h1v1h-1zM30 18h1v1h-1zM30 59h1v1h-1zM30 70h1v1h-1zM30 72h1v1h-1zM30 109h1v1h-1zM30 130h1v1h-1zM30 139h1v1h-1zM30 145h1v1h-1zM30 147h1v1h-1zM30 158h1v1h-1zM30 171h1v3h-1zM30 188h1v1h-1zM31 3h1v1h-1zM31 13h1v1h-1zM31 15h1v1h-1zM31 17h1v1h-1zM31 20h1v1h-1zM31 22h1v1h-1zM31 32h1v1h-1zM31 47h1v1h-1zM31 74h1v1h-1zM31 79h1v1h-1zM31 95h1v1h-1zM31 99h1v2h-1zM31 123h1v1h-1zM31 149h1v3h-1zM31 174h1v1h-1zM31 188h1v1h-1zM31 196h1v1h-1zM32 6h1v1h-1zM32 32h1v1h-1zM32 43h1v1h-1zM32 49h1v1h-1zM32 105h1v3h-1zM32 130h1v1h-1zM32 137h1v1h-1zM32 139h1v1h-1zM32 143h1v2h-1zM32 165h1v1h-1zM32 171h1v1h-1zM32 178h1v1h-1zM32 184h1v2h-1zM39 160h1v1h-1zM39 192h1v1h-1zM40 177h1v1h-1zM41 14h1v1h-1zM42 29h1v1h-1zM43 46h1v1h-1zM43 85h1v1h-1zM43 108h1v1h-1zM43 113h1v1h-1zM43 132h1v2h-1zM43 170h1v1h-1zM43 173h1v1h-1zM44 47h1v1h-1zM44 97h1v1h-1zM44 117h1v1h-1zM45 124h1v2h-1zM45 140h1v1h-1zM45 151h1v1h-1zM45 163h1v1h-1zM45 172h1v1h-1zM46 67h1v1h-1zM46 186h1v1h-1zM48 7h1v1h-1zM48 9h1v1h-1zM48 28h1v1h-1zM48 36h1v1h-1zM48 50h1v3h-1zM48 146h1v2h-1zM48 152h1v1h-1zM48 155h1v1h-1zM48 157h1v1h-1zM48 195h1v1h-1zM49 6h1v1h-1zM49 8h1v1h-1zM49 40h1v1h-1zM49 57h1v1h-1zM49 59h1v1h-1zM49 71h1v1h-1zM49 144h1v1h-1zM50 4h1v1h-1zM50 69h1v1h-1zM50 83h1v1h-1zM50 93h1v2h-1zM50 102h1v1h-1zM50 151h1v1h-1zM50 153h1v1h-1zM50 179h1v1h-1zM50 185h1v1h-1zM51 1h1v1h-1zM51 8h1v1h-1zM51 13h1v1h-1zM51 17h1v1h-1zM51 33h1v1h-1zM51 42h1v1h-1zM51 45h1v1h-1zM51 63h1v1h-1zM51 71h1v1h-1zM51 80h1v1h-1zM51 89h1v1h-1zM51 94h1v1h-1zM51 107h1v1h-1zM51 115h1v1h-1zM51 121h1v1h-1zM51 128h1v1h-1zM51 132h1v1h-1zM51 165h1v1h-1zM51 174h1v1h-1zM52 0h1v1h-1zM52 5h1v2h-1zM52 30h1v2h-1zM52 75h1v1h-1zM52 101h1v3h-1zM52 127h1v1h-1zM52 132h1v1h-1zM52 161h1v1h-1zM52 167h1v1h-1zM52 171h1v1h-1zM52 177h1v2h-1zM52 184h1v1h-1zM52 197h1v1h-1zM53 8h1v1h-1zM53 10h1v1h-1zM53 33h1v1h-1zM53 76h1v1h-1zM53 80h1v1h-1zM53 110h1v1h-1zM53 126h1v1h-1zM53 153h1v1h-1zM53 166h1v1h-1zM53 193h1v1h-1zM54 1h1v1h-1zM54 4h1v2h-1zM54 38h1v1h-1zM54 60h1v1h-1zM54 96h1v1h-1zM54 124h1v1h-1zM54 141h1v1h-1zM54 149h1v1h-1zM54 153h1v1h-1zM54 155h1v1h-1zM54 157h1v1h-1zM54 166h1v1h-1zM54 169h1v2h-1zM54 196h1v2h-1zM55 18h1v1h-1zM55 85h1v2h-1zM55 89h1v1h-1zM55 105h1v1h-1zM55 132h1v1h-1zM55 158h1v1h-1zM55 175h1v1h-1zM55 183h1v1h-1zM55 193h1v1h-1zM56 3h1v1h-1zM56 5h1v1h-1zM56 9h1v2h-1zM56 17h1v1h-1zM56 20h1v2h-1zM56 67h1v1h-1zM56 70h1v1h-1zM56 83h1v1h-1zM56 106h1v1h-1zM56 125h1v2h-1zM56 140h1v1h-1zM56 148h1v1h-1zM56 166h1v1h-1zM56 172h1v1h-1zM57 23h1v1h-1zM57 25h1v1h-1zM57 40h1v2h-1zM57 57h1v1h-1zM57 64h1v1h-1zM57 67h1v1h-1zM57 76h1v1h-1zM57 97h1v1h-1zM57 108h1v1h-1zM57 121h1v1h-1zM57 160h1v1h-1zM57 171h1v1h-1zM57 180h1v1h-1zM57 183h1v1h-1zM58 3h1v1h-1zM58 39h1v2h-1zM58 47h1v1h-1zM58 52h1v1h-1zM58 62h1v1h-1zM58 110h1v1h-1zM58 112h1v1h-1zM58 118h1v1h-1zM58 166h1v1h-1zM58 190h1v1h-1z"/>
<path fill="#12ff62" d="M2 133h1v1h-1zM7 132h1v1h-1zM8 4h1v1h-1zM8 64h1v1h-1zM8 87h1v1h-1zM8 91h1v1h-1zM8 100h1v1h-1zM8 112h1v1h-1zM8 135h1v1h-1zM8 145h1v2h-1zM8 159h1v1h-1zM8 168h1v1h-1zM9 11h1v1h-1zM9 94h1v1h-1zM9 100h1v1h-1zM11 58h1v1h-1zM11 153h1v1h-1zM13 192h1v1h-1zM14 152h1v1h-1zM15 95h1v1h-1zM16 189h1v1h-1zM17 55h1v1h-1zM17 89h1v1h-1zM17 146h1v1h-1zM17 173h1v1h-1zM17 195h1v1h-1zM18 149h1v1h-1zM19 26h1v2h-1zM19 181h1v1h-1zM19 183h1v1h-1zM19 197h1v1h-1zM20 89h1v1h-1zM20 94h1v1h-1zM20 146h1v1h-1zM21 18h1v1h-1zM21 27h1v1h-1zM21 50h1v1h-1zM21 142h1v1h-1zM21 163h1v1h-1zM21 165h1v1h-1zM22 78h1v1h-1zM22 86h1v2h-1zM22 94h1v1h-1zM22 100h1v1h-1zM22 122h1v1h-1zM22 137h1v1h-1zM22 149h1v1h-1zM22 155h1v1h-1zM22 185h1v1h-1zM22 197h1v1h-1zM23 43h1v1h-1zM23 109h1v1h-1zM23 115h1v1h-1zM23 138h1v1h-1zM23 140h1v1h-1zM24 30h1v1h-1zM24 37h1v1h-1zM24 56h1v1h-1zM24 151h1v1h-1zM25 27h1v1h-1zM25 58h1v1h-1zM25 111h1v1h-1zM25 127h1v1h-1zM25 142h1v1h-1zM25 161h1v1h-1zM25 180h1v1h-1zM25 191h1v1h-1zM26 4h1v1h-1zM26 40h1v1h-1zM26 56h1v1h-1zM26 112h1v1h-1zM26 115h1v1h-1zM26 122h1v1h-1zM26 135h1v1h-1zM26 151h1v1h-1zM26 172h1v1h-1zM26 195h1v1h-1zM27 22h1v1h-1zM27 95h1v1h-1zM27 110h1v1h-1zM27 119h1v1h-1zM27 140h1v1h-1zM27 157h1v1h-1zM27 165h1v1h-1zM27 195h1v1h-1zM28 42h1v1h-1zM28 69h1v1h-1zM28 83h1v1h-1zM28 133h1v1h-1zM28 154h1v1h-1zM28 157h1v1h-1zM28 168h1v1h-1zM28 172h1v1h-1zM29 36h1v1h-1zM29 94h1v1h-1zM29 103h1v1h-1zM29 107h1v1h-1zM29 109h1v1h-1zM29 149h1v1h-1zM29 169h1v1h-1zM29 176h1v1h-1zM30 53h1v2h-1zM30 110h1v1h-1zM30 121h1v1h-1zM31 8h1v1h-1zM31 10h1v1h-1zM31 89h1v1h-1zM31 125h1v1h-1zM31 189h1v1h-1zM32 17h1v1h-1zM32 26h1v1h-1zM32 29h1v1h-1zM32 35h1v2h-1zM32 58h1v1h-1zM32 60h1v1h-1zM32 65h1v1h-1zM32 83h1v1h-1zM32 87h1v2h-1zM32 96h1v1h-1zM32 100h1v1h-1zM32 104h1v1h-1zM32 108h1v1h-1zM32 124h1v1h-1zM32 142h1v1h-1zM32 145h1v1h-1zM32 169h1v1h-1zM33 9h1v1h-1zM33 11h1v1h-1zM38 187h1v1h-1zM39 29h1v1h-1zM40 36h1v1h-1zM40 97h1v1h-1zM40 119h1v1h-1zM40 175h1v1h-1zM42 54h1v1h-1zM42 167h1v1h-1zM42 188h1v1h-1zM43 27h1v1h-1zM43 47h1v1h-1zM43 90h1v1h-1zM43 92h1v1h-1zM43 109h1v1h-1zM44 87h1v1h-1zM44 95h1v1h-1zM44 118h1v1h-1zM44 125h1v1h-1zM44 192h1v1h-1zM45 62h1v1h-1zM45 90h1v1h-1zM45 99h1v1h-1zM45 101h1v1h-1zM45 123h1v1h-1zM45 139h1v1h-1zM45 164h1v1h-1zM46 62h1v1h-1zM46 68h1v1h-1zM46 113h1v2h-1zM46 122h1v3h-1zM46 129h1v1h-1zM46 145h1v1h-1zM46 147h1v1h-1zM47 71h1v1h-1zM47 80h1v1h-1zM47 141h1v1h-1zM47 163h1v1h-1zM47 167h1v1h-1zM47 175h1v1h-1zM47 182h1v1h-1zM48 8h1v1h-1zM48 17h1v1h-1zM48 39h1v1h-1zM48 158h1v1h-1zM48 193h1v1h-1zM49 25h1v1h-1zM49 50h1v1h-1zM49 60h1v1h-1zM49 91h1v1h-1zM49 156h1v1h-1zM49 163h1v1h-1zM49 171h1v1h-1zM50 1h1v1h-1zM50 21h1v1h-1zM50 26h1v1h-1zM50 36h1v1h-1zM50 47h1v1h-1zM50 70h1v2h-1zM50 73h1v2h-1zM50 95h1v1h-1zM50 98h1v2h-1zM50 101h1v1h-1zM50 103h1v1h-1zM50 137h1v1h-1zM50 178h1v1h-1zM51 6h1v1h-1zM51 10h1v1h-1zM51 14h1v1h-1zM51 43h1v1h-1zM51 57h1v1h-1zM51 122h1v1h-1zM51 130h1v1h-1zM51 140h1v1h-1zM51 145h1v1h-1zM51 151h1v2h-1zM51 175h1v1h-1zM52 16h1v2h-1zM52 22h1v1h-1zM52 42h1v1h-1zM52 44h1v1h-1zM52 60h1v1h-1zM52 68h1v1h-1zM52 93h1v1h-1zM52 104h1v1h-1zM52 108h1v1h-1zM52 113h1v1h-1zM52 135h1v1h-1zM52 138h1v2h-1zM52 144h1v1h-1zM52 162h1v1h-1zM52 166h1v1h-1zM52 186h1v1h-1zM52 189h1v1h-1zM53 50h1v1h-1zM53 53h1v1h-1zM53 67h1v1h-1zM53 75h1v1h-1zM53 128h1v1h-1zM53 131h1v1h-1zM53 146h1v1h-1zM53 154h1v1h-1zM53 159h1v1h-1zM53 179h1v2h-1zM53 187h1v1h-1zM54 3h1v1h-1zM54 8h1v1h-1zM54 18h1v1h-1zM54 20h1v1h-1zM54 25h1v1h-1zM54 84h1v1h-1zM54 86h1v1h-1zM54 98h1v1h-1zM54 112h1v1h-1zM54 114h1v1h-1zM54 123h1v1h-1zM54 135h1v1h-1zM54 139h1v2h-1zM54 142h1v2h-1zM54 147h1v2h-1zM54 168h1v1h-1zM54 189h1v1h-1zM54 195h1v1h-1zM55 2h1v2h-1zM55 19h1v1h-1zM55 37h1v1h-1zM55 44h1v1h-1zM55 54h1v1h-1zM55 57h1v1h-1zM55 64h1v1h-1zM55 76h1v1h-1zM55 90h1v1h-1zM55 98h1v1h-1zM55 101h1v1h-1zM55 111h1v1h-1zM55 122h1v1h-1zM55 134h1v1h-1zM55 143h1v2h-1zM55 162h1v1h-1zM55 166h1v1h-1zM55 177h1v1h-1zM55 182h1v1h-1zM55 186h1v1h-1zM55 196h1v1h-1zM56 0h1v1h-1zM56 6h1v1h-1zM56 11h1v1h-1zM56 16h1v1h-1zM56 18h1v2h-1zM56 24h1v1h-1zM56 37h1v1h-1zM56 44h1v1h-1zM56 52h1v1h-1zM56 63h1v1h-1zM56 82h1v1h-1zM56 84h1v1h-1zM56 88h1v1h-1zM56 97h1v1h-1zM56 111h1v1h-1zM56 114h1v1h-1zM56 117h1v2h-1zM56 133h1v1h-1zM56 146h1v1h-1zM56 151h1v1h-1zM57 2h1v1h-1zM57 9h1v1h-1zM57 15h1v1h-1zM57 32h1v1h-1zM57 61h1v1h-1zM57 81h1v1h-1zM57 93h1v1h-1zM57 99h1v1h-1zM57 101h1v1h-1zM57 105h1v1h-1zM57 107h1v1h-1zM57 115h1v2h-1zM57 131h1v1h-1zM57 142h1v2h-1zM57 175h1v1h-1zM57 188h1v1h-1zM57 194h1v1h-1zM58 23h1v1h-1zM58 46h1v1h-1zM58 60h1v1h-1zM58 79h1v1h-1zM58 86h1v2h-1zM58 98h1v1h-1zM58 108h1v1h-1zM58 132h1v1h-1zM58 152h1v1h-1zM58 168h1v1h-1zM58 183h1v2h-1zM58 189h1v1h-1zM58 193h1v1h-1z"/>
<path fill="#1aff3b" d="M0 160h1v1h-1zM0 172h1v2h-1zM0 189h1v1h-1zM4 61h1v1h-1zM8 19h1v1h-1zM8 21h1v1h-1zM8 28h1v1h-1zM8 30h1v1h-1zM8 38h1v1h-1zM8 41h1v1h-1zM8 61h1v1h-1zM8 70h1v1h-1zM8 110h1v1h-1zM8 115h1v1h-1zM8 138h1v1h-1zM8 144h1v1h-1zM8 149h1v1h-1zM8 181h1v1h-1zM8 185h1v1h-1zM8 191h1v1h-1zM8 196h1v1h-1zM10 64h1v1h-1zM11 56h1v1h-1zM11 59h1v1h-1zM12 144h1v1h-1zM14 94h1v1h-1zM14 177h1v1h-1zM14 179h1v1h-1zM15 119h1v1h-1zM15 167h1v1h-1zM17 56h1v1h-1zM17 76h1v1h-1zM17 171h1v1h-1zM18 24h1v1h-1zM18 188h1v1h-1zM19 34h1v1h-1zM19 56h1v1h-1zM19 75h1v1h-1zM19 134h1v1h-1zM20 78h1v1h-1zM20 87h1v1h-1zM20 162h1v1h-1zM20 196h1v1h-1zM21 26h1v1h-1zM21 32h1v1h-1zM21 86h1v1h-1zM21 155h1v1h-1zM21 179h1v1h-1zM22 48h1v1h-1zM22 50h1v1h-1zM22 84h1v1h-1zM22 126h1v1h-1zM22 154h1v1h-1zM22 179h1v1h-1zM22 184h1v1h-1zM23 40h1v1h-1zM23 139h1v1h-1zM23 179h1v1h-1zM24 29h1v1h-1zM24 34h1v1h-1zM24 97h1v1h-1zM25 60h1v1h-1zM25 112h1v1h-1zM25 181h1v1h-1zM25 196h1v1h-1zM26 91h1v1h-1zM26 113h1v1h-1zM26 146h1v2h-1zM26 171h1v1h-1zM27 21h1v1h-1zM27 93h1v2h-1zM27 118h1v1h-1zM27 124h1v1h-1zM27 137h1v1h-1zM27 192h1v2h-1zM28 16h1v1h-1zM28 18h1v1h-1zM28 89h1v1h-1zM28 112h1v1h-1zM28 146h1v1h-1zM28 169h1v1h-1zM28 185h1v1h-1zM28 196h1v1h-1zM29 47h1v1h-1zM29 56h1v1h-1zM29 72h1v1h-1zM30 66h1v1h-1zM30 73h1v1h-1zM30 117h1v1h-1zM30 119h1v1h-1zM30 146h1v1h-1zM30 168h1v1h-1zM31 18h1v1h-1zM31 24h1v1h-1zM31 72h1v1h-1zM31 111h1v2h-1zM31 126h1v1h-1zM31 165h1v1h-1zM31 187h1v1h-1zM32 24h1v1h-1zM32 27h1v1h-1zM32 50h1v1h-1zM32 82h1v1h-1zM32 95h1v1h-1zM32 167h1v1h-1zM32 179h1v1h-1zM32 183h1v1h-1zM32 186h1v1h-1zM32 188h1v2h-1zM38 154h1v1h-1zM39 97h1v1h-1zM39 104h1v1h-1zM40 14h1v1h-1zM40 39h1v1h-1zM40 46h1v1h-1zM40 83h1v1h-1zM40 106h1v1h-1zM40 122h1v1h-1zM40 178h1v1h-1zM41 143h1v1h-1zM41 171h1v1h-1zM42 26h1v1h-1zM42 49h1v1h-1zM42 145h1v1h-1zM43 52h1v1h-1zM43 95h1v1h-1zM43 101h1v1h-1zM43 106h1v1h-1zM43 111h1v1h-1zM43 114h1v2h-1zM43 128h1v1h-1zM43 134h1v1h-1zM44 25h1v1h-1zM44 40h1v1h-1zM44 42h1v1h-1zM44 57h1v1h-1zM44 69h1v1h-1zM44 86h1v1h-1zM44 99h1v1h-1zM44 107h1v1h-1zM44 116h1v1h-1zM44 126h1v1h-1zM44 163h1v1h-1zM44 168h1v1h-1zM44 194h1v1h-1zM45 65h1v1h-1zM45 89h1v1h-1zM45 98h1v1h-1zM45 120h1v1h-1zM45 122h1v1h-1zM45 138h1v1h-1zM45 141h1v2h-1zM45 155h1v1h-1zM45 160h1v1h-1zM45 162h1v1h-1zM45 173h1v1h-1zM46 59h1v1h-1zM46 70h1v1h-1zM46 77h1v1h-1zM46 81h1v2h-1zM46 84h1v1h-1zM46 86h1v1h-1zM46 92h1v1h-1zM46 94h1v1h-1zM46 103h1v1h-1zM46 116h1v1h-1zM46 121h1v1h-1zM46 130h1v1h-1zM46 132h1v1h-1zM46 135h1v1h-1zM46 146h1v1h-1zM46 153h1v1h-1zM46 164h1v1h-1zM47 14h1v1h-1zM47 16h1v1h-1zM47 18h1v2h-1zM47 62h1v1h-1zM47 78h1v1h-1zM47 87h1v2h-1zM47 117h1v1h-1zM47 158h1v1h-1zM47 161h1v1h-1zM47 164h1v2h-1zM47 186h1v1h-1zM47 192h1v1h-1zM48 145h1v1h-1zM48 156h1v1h-1zM48 171h1v3h-1zM48 175h1v1h-1zM49 11h1v1h-1zM49 24h1v1h-1zM49 26h1v1h-1zM49 28h1v1h-1zM49 38h1v1h-1zM49 41h1v1h-1zM49 46h1v1h-1zM49 72h1v1h-1zM49 84h1v1h-1zM49 106h1v1h-1zM49 115h1v1h-1zM49 121h1v1h-1zM49 155h1v1h-1zM49 159h1v1h-1zM49 191h1v1h-1zM50 13h1v1h-1zM50 58h1v1h-1zM50 89h1v1h-1zM50 107h1v1h-1zM50 122h1v2h-1zM50 127h1v1h-1zM50 138h1v1h-1zM50 145h1v1h-1zM50 154h1v1h-1zM50 161h1v1h-1zM50 181h1v1h-1zM50 188h1v1h-1zM51 5h1v1h-1zM51 11h1v1h-1zM51 44h1v1h-1zM51 69h1v1h-1zM51 75h1v1h-1zM51 79h1v1h-1zM51 85h1v1h-1zM51 90h1v2h-1zM51 99h1v1h-1zM51 106h1v1h-1zM51 127h1v1h-1zM51 129h1v1h-1zM51 150h1v1h-1zM51 159h1v1h-1zM51 176h1v1h-1zM51 195h1v1h-1zM52 2h1v1h-1zM52 4h1v1h-1zM52 7h1v1h-1zM52 9h1v1h-1zM52 11h1v1h-1zM52 45h1v1h-1zM52 58h1v1h-1zM52 64h1v2h-1zM52 70h1v1h-1zM52 119h1v1h-1zM52 121h1v1h-1zM52 128h1v1h-1zM52 134h1v1h-1zM52 142h1v1h-1zM52 151h1v1h-1zM52 181h1v1h-1zM52 187h1v1h-1zM53 26h1v1h-1zM53 52h1v1h-1zM53 69h1v1h-1zM53 97h1v1h-1zM53 103h1v1h-1zM53 114h1v1h-1zM53 129h1v1h-1zM53 135h1v1h-1zM53 163h1v2h-1zM53 173h1v1h-1zM53 192h1v1h-1zM54 11h1v1h-1zM54 19h1v1h-1zM54 55h1v2h-1zM54 74h1v1h-1zM54 78h1v1h-1zM54 80h1v1h-1zM54 82h1v1h-1zM54 85h1v1h-1zM54 111h1v1h-1zM54 161h1v1h-1zM54 183h1v1h-1zM55 9h1v1h-1zM55 21h1v1h-1zM55 36h1v1h-1zM55 47h1v1h-1zM55 60h1v1h-1zM55 80h1v1h-1zM55 121h1v1h-1zM55 128h1v2h-1zM55 140h1v1h-1zM55 147h1v2h-1zM55 151h1v1h-1zM55 156h1v1h-1zM55 181h1v1h-1zM55 184h1v1h-1zM55 194h1v1h-1zM56 2h1v1h-1zM56 4h1v1h-1zM56 13h1v1h-1zM56 32h1v1h-1zM56 35h1v1h-1zM56 51h1v1h-1zM56 60h1v1h-1zM56 68h1v1h-1zM56 80h1v1h-1zM56 90h1v1h-1zM56 92h1v1h-1zM56 95h1v1h-1zM56 130h1v1h-1zM56 138h1v1h-1zM56 159h1v1h-1zM56 178h1v1h-1zM56 196h1v1h-1zM57 0h1v1h-1zM57 3h1v1h-1zM57 7h1v1h-1zM57 14h1v1h-1zM57 19h1v1h-1zM57 22h1v1h-1zM57 24h1v1h-1zM57 45h1v1h-1zM57 55h1v1h-1zM57 62h1v1h-1zM57 69h1v2h-1zM57 72h1v1h-1zM57 103h1v1h-1zM57 124h1v1h-1zM57 128h1v1h-1zM57 137h1v1h-1zM57 162h1v1h-1zM57 169h1v1h-1zM57 173h1v1h-1zM57 186h1v2h-1zM58 8h1v1h-1zM58 24h1v2h-1zM58 36h1v1h-1zM58 41h1v1h-1zM58 48h1v1h-1zM58 80h1v1h-1zM58 93h1v1h-1zM58 99h1v1h-1zM58 116h1v1h-1zM58 148h1v1h-1zM58 153h1v1h-1zM58 182h1v1h-1zM58 192h1v1h-1z"/>
<path fill="#31ff23" d="M0 14h1v1h-1zM0 16h1v1h-1zM0 57h1v1h-1zM0 106h1v1h-1zM0 188h1v1h-1zM1 10h1v1h-1zM6 123h1v1h-1zM6 128h1v1h-1zM7 160h1v1h-1zM8 16h1v1h-1zM8 18h1v1h-1zM8 22h1v2h-1zM8 40h1v1h-1zM8 43h1v1h-1zM8 103h1v1h-1zM8 105h1v1h-1zM8 113h1v2h-1zM8 121h1v1h-1zM8 124h1v1h-1zM8 127h1v1h-1zM8 141h1v1h-1zM8 150h1v1h-1zM8 153h1v1h-1zM8 170h1v2h-1zM8 177h1v1h-1zM8 194h1v1h-1zM9 119h1v1h-1zM10 152h1v1h-1zM12 128h1v1h-1zM13 30h1v1h-1zM14 174h1v1h-1zM15 30h1v1h-1zM15 40h1v1h-1zM15 104h1v1h-1zM15 171h1v1h-1zM17 64h1v1h-1zM17 197h1v1h-1zM18 159h1v1h-1zM20 98h1v1h-1zM22 63h1v1h-1zM22 177h1v1h-1zM23 93h1v1h-1zM23 176h1v1h-1zM25 68h1v1h-1zM25 84h1v2h-1zM25 175h1v1h-1zM26 136h1v1h-1zM26 165h1v1h-1zM26 196h1v1h-1zM27 14h1v3h-1zM28 39h1v1h-1zM28 84h1v1h-1zM28 86h1v1h-1zM28 156h1v1h-1zM29 24h1v1h-1zM29 48h1v2h-1zM29 51h1v1h-1zM29 104h1v1h-1zM29 140h1v1h-1zM29 185h1v1h-1zM30 43h1v1h-1zM30 86h1v1h-1zM30 112h1v1h-1zM31 23h1v1h-1zM31 31h1v1h-1zM31 50h1v1h-1zM31 127h1v1h-1zM31 166h1v1h-1zM31 169h1v1h-1zM31 185h1v1h-1zM31 190h1v1h-1zM31 197h1v1h-1zM32 37h1v1h-1zM32 109h1v3h-1zM32 120h1v1h-1zM32 126h1v1h-1zM32 134h1v1h-1zM32 166h1v1h-1zM32 181h1v1h-1zM38 182h1v1h-1zM39 23h1v1h-1zM39 41h1v1h-1zM39 108h1v1h-1zM39 166h1v1h-1zM40 12h1v1h-1zM40 16h1v1h-1zM40 42h1v1h-1zM40 47h1v1h-1zM40 52h1v1h-1zM40 120h1v1h-1zM40 150h1v1h-1zM40 158h1v1h-1zM41 13h1v1h-1zM41 19h1v1h-1zM41 29h1v1h-1zM41 57h1v1h-1zM41 142h1v1h-1zM41 182h1v1h-1zM42 25h1v1h-1zM42 32h1v1h-1zM42 74h1v1h-1zM42 76h1v1h-1zM42 85h1v1h-1zM42 90h1v1h-1zM42 109h1v2h-1zM42 116h1v1h-1zM43 57h1v1h-1zM43 70h1v1h-1zM43 91h1v1h-1zM43 105h1v1h-1zM43 110h1v1h-1zM43 123h1v1h-1zM43 138h1v1h-1zM43 141h1v1h-1zM43 145h1v1h-1zM43 159h1v1h-1zM43 168h1v2h-1zM44 27h1v3h-1zM44 36h1v1h-1zM44 44h1v1h-1zM44 46h1v1h-1zM44 67h1v1h-1zM44 96h1v1h-1zM44 103h1v1h-1zM44 134h1v1h-1zM44 150h1v1h-1zM44 155h1v1h-1zM44 166h1v1h-1zM44 184h1v1h-1zM44 193h1v1h-1zM45 66h1v1h-1zM45 72h1v1h-1zM45 83h1v1h-1zM45 87h1v1h-1zM45 92h1v1h-1zM45 95h1v2h-1zM45 119h1v1h-1zM45 153h1v1h-1zM45 156h1v1h-1zM45 177h1v1h-1zM46 73h1v1h-1zM46 96h1v2h-1zM46 99h1v2h-1zM46 110h1v1h-1zM46 118h1v1h-1zM46 133h1v1h-1zM46 159h1v1h-1zM46 161h1v1h-1zM46 178h1v1h-1zM46 194h1v1h-1zM47 13h1v1h-1zM47 76h1v2h-1zM47 82h1v1h-1zM47 89h1v1h-1zM47 113h1v1h-1zM47 116h1v1h-1zM47 125h1v2h-1zM47 138h1v2h-1zM47 144h1v1h-1zM47 153h1v1h-1zM47 157h1v1h-1zM47 162h1v1h-1zM47 189h1v1h-1zM48 153h1v1h-1zM48 169h1v1h-1zM49 65h1v2h-1zM49 83h1v1h-1zM49 88h1v1h-1zM49 157h1v1h-1zM49 182h1v2h-1zM49 185h1v1h-1zM50 14h1v1h-1zM50 57h1v1h-1zM50 60h1v1h-1zM50 68h1v1h-1zM50 75h1v1h-1zM50 91h1v1h-1zM50 105h1v1h-1zM50 110h1v1h-1zM50 112h1v1h-1zM50 135h1v1h-1zM50 160h1v1h-1zM50 162h1v1h-1zM50 170h1v1h-1zM51 3h1v1h-1zM51 19h1v1h-1zM51 25h1v1h-1zM51 48h1v1h-1zM51 52h1v1h-1zM51 114h1v1h-1zM51 142h1v1h-1zM51 148h1v1h-1zM51 182h1v1h-1zM51 196h1v2h-1zM52 10h1v1h-1zM52 27h1v2h-1zM52 50h1v1h-1zM52 63h1v1h-1zM52 77h1v1h-1zM52 90h1v1h-1zM52 111h1v2h-1zM52 122h1v1h-1zM52 153h1v1h-1zM52 168h1v1h-1zM52 175h1v1h-1zM52 182h1v1h-1zM52 188h1v1h-1zM53 7h1v1h-1zM53 16h1v1h-1zM53 31h1v1h-1zM53 38h1v1h-1zM53 60h1v1h-1zM53 85h1v1h-1zM53 95h1v1h-1zM53 98h1v1h-1zM53 100h1v1h-1zM53 184h1v1h-1zM53 189h1v3h-1zM54 6h1v1h-1zM54 10h1v1h-1zM54 27h1v1h-1zM54 29h1v1h-1zM54 31h1v1h-1zM54 33h1v1h-1zM54 37h1v1h-1zM54 47h1v1h-1zM54 75h1v1h-1zM54 81h1v1h-1zM54 87h1v1h-1zM54 101h1v1h-1zM54 110h1v1h-1zM54 115h1v1h-1zM54 121h1v1h-1zM54 133h1v1h-1zM54 184h1v1h-1zM54 186h1v1h-1zM55 4h1v1h-1zM55 17h1v1h-1zM55 22h1v1h-1zM55 69h1v2h-1zM55 73h1v1h-1zM55 91h1v1h-1zM55 94h1v1h-1zM55 97h1v1h-1zM55 99h1v2h-1zM55 104h1v1h-1zM55 112h1v1h-1zM55 119h1v1h-1zM55 124h1v1h-1zM55 127h1v1h-1zM55 130h1v1h-1zM55 157h1v1h-1zM55 191h1v1h-1zM56 28h1v1h-1zM56 39h1v1h-1zM56 43h1v1h-1zM56 62h1v1h-1zM56 87h1v1h-1zM56 105h1v1h-1zM56 158h1v1h-1zM56 163h1v1h-1zM56 174h1v1h-1zM56 184h1v1h-1zM56 190h1v1h-1zM56 194h1v2h-1zM57 8h1v1h-1zM57 43h1v1h-1zM57 49h1v1h-1zM57 53h1v1h-1zM57 56h1v1h-1zM57 71h1v1h-1zM57 91h1v1h-1zM57 104h1v1h-1zM57 106h1v1h-1zM57 109h1v1h-1zM57 120h1v1h-1zM57 122h1v2h-1zM57 146h1v2h-1zM57 157h1v2h-1zM57 166h1v1h-1zM57 191h1v1h-1zM58 2h1v1h-1zM58 4h1v1h-1zM58 43h1v1h-1zM58 63h1v1h-1zM58 76h1v3h-1zM58 84h1v1h-1zM58 88h1v1h-1zM58 97h1v1h-1zM58 134h1v1h-1zM58 142h1v1h-1zM58 144h1v1h-1zM58 149h1v1h-1zM58 167h1v1h-1zM58 173h1v1h-1z"/>
<path fill="#56ff19" d="M0 15h1v1h-1zM0 37h1v1h-1zM0 60h1v1h-1zM0 147h1v1h-1zM0 197h1v1h-1zM6 43h1v1h-1zM8 39h1v1h-1zM8 95h1v1h-1zM8 101h1v1h-1zM8 108h1v1h-1zM8 155h1v1h-1zM8 163h1v1h-1zM8 167h1v1h-1zM9 162h1v1h-1zM9 169h1v1h-1zM10 97h1v1h-1zM10 151h1v1h-1zM11 61h1v1h-1zM15 163h1v1h-1zM17 177h1v1h-1zM18 153h1v1h-1zM19 32h1v2h-1zM19 136h1v1h-1zM20 79h1v1h-1zM20 183h1v1h-1zM21 154h1v1h-1zM21 164h1v1h-1zM21 166h1v1h-1zM21 174h1v1h-1zM23 150h1v1h-1zM23 174h1v1h-1zM24 35h1v1h-1zM25 24h1v1h-1zM25 86h1v1h-1zM25 129h1v1h-1zM25 145h1v1h-1zM25 160h1v1h-1zM26 114h1v1h-1zM26 152h1v1h-1zM26 173h1v1h-1zM26 197h1v1h-1zM27 111h1v1h-1zM28 56h1v1h-1zM29 26h1v1h-1zM29 177h1v1h-1zM30 22h1v1h-1zM30 174h1v1h-1zM31 21h1v1h-1zM31 48h1v1h-1zM31 73h1v1h-1zM31 94h1v1h-1zM31 148h1v1h-1zM31 167h1v1h-1zM31 186h1v1h-1zM32 11h1v1h-1zM32 16h1v1h-1zM32 39h1v1h-1zM32 48h1v1h-1zM32 59h1v1h-1zM32 138h1v1h-1zM32 151h1v1h-1zM36 12h1v1h-1zM37 12h1v1h-1zM38 12h1v1h-1zM38 40h1v1h-1zM38 121h1v1h-1zM38 151h1v1h-1zM39 28h1v1h-1zM39 189h1v1h-1zM40 23h1v1h-1zM40 37h1v1h-1zM40 53h1v1h-1zM40 55h1v1h-1zM40 98h1v1h-1zM40 118h1v1h-1zM40 121h1v1h-1zM40 146h1v1h-1zM40 155h1v1h-1zM40 157h1v1h-1zM41 60h1v1h-1zM41 90h1v1h-1zM41 102h1v1h-1zM41 184h1v1h-1zM42 51h1v1h-1zM42 179h1v1h-1zM43 38h1v1h-1zM43 43h1v1h-1zM43 69h1v1h-1zM43 89h1v1h-1zM43 116h1v1h-1zM43 121h1v1h-1zM43 131h1v1h-1zM43 139h1v1h-1zM43 142h1v1h-1zM43 166h1v1h-1zM43 179h1v3h-1zM43 186h1v1h-1zM44 11h1v2h-1zM44 21h1v1h-1zM44 23h1v2h-1zM44 33h1v2h-1zM44 38h1v1h-1zM44 41h1v1h-1zM44 43h1v1h-1zM44 58h1v1h-1zM44 68h1v1h-1zM44 90h1v1h-1zM44 102h1v1h-1zM44 108h1v1h-1zM44 119h1v1h-1zM44 127h1v1h-1zM44 129h1v1h-1zM44 149h1v1h-1zM44 154h1v1h-1zM45 63h1v1h-1zM45 69h1v1h-1zM45 73h1v1h-1zM45 75h1v1h-1zM45 94h1v1h-1zM45 103h1v1h-1zM45 105h1v1h-1zM45 114h1v1h-1zM45 116h1v1h-1zM45 129h1v1h-1zM45 135h1v3h-1zM45 146h1v1h-1zM45 148h1v1h-1zM46 17h1v1h-1zM46 58h1v1h-1zM46 61h1v1h-1zM46 63h1v1h-1zM46 74h1v2h-1zM46 83h1v1h-1zM46 93h1v1h-1zM46 102h1v1h-1zM46 112h1v1h-1zM46 117h1v1h-1zM46 173h1v1h-1zM46 183h1v1h-1zM46 185h1v1h-1zM46 188h1v1h-1zM47 15h1v1h-1zM47 67h1v1h-1zM47 91h1v1h-1zM47 114h1v1h-1zM47 127h1v1h-1zM47 154h1v1h-1zM47 166h1v1h-1zM47 168h1v1h-1zM47 179h1v2h-1zM47 190h1v1h-1zM48 133h1v1h-1zM48 154h1v1h-1zM48 160h1v1h-1zM48 168h1v1h-1zM48 182h1v1h-1zM48 184h1v1h-1zM49 4h1v1h-1zM49 29h1v1h-1zM49 47h1v1h-1zM49 90h1v1h-1zM49 104h1v1h-1zM49 110h1v1h-1zM49 119h1v1h-1zM49 133h1v1h-1zM49 140h1v1h-1zM49 177h1v1h-1zM49 180h1v1h-1zM49 189h1v1h-1zM50 2h1v1h-1zM50 10h1v1h-1zM50 19h1v1h-1zM50 28h1v1h-1zM50 32h1v1h-1zM50 39h1v1h-1zM50 41h1v1h-1zM50 59h1v1h-1zM50 67h1v1h-1zM50 130h1v1h-1zM50 143h1v1h-1zM50 158h1v2h-1zM51 53h1v1h-1zM51 70h1v1h-1zM51 81h1v1h-1zM51 88h1v1h-1zM51 103h1v1h-1zM51 109h1v1h-1zM51 113h1v1h-1zM51 117h1v1h-1zM51 125h1v1h-1zM51 138h1v1h-1zM51 158h1v1h-1zM51 161h1v1h-1zM51 170h1v1h-1zM51 186h1v1h-1zM51 192h1v2h-1zM52 3h1v1h-1zM52 21h1v1h-1zM52 35h1v1h-1zM52 57h1v1h-1zM52 94h1v1h-1zM52 117h1v1h-1zM52 141h1v1h-1zM52 143h1v1h-1zM52 147h1v1h-1zM52 176h1v1h-1zM52 180h1v1h-1zM52 183h1v1h-1zM53 51h1v1h-1zM53 54h1v1h-1zM53 66h1v1h-1zM53 77h1v2h-1zM53 84h1v1h-1zM53 91h1v1h-1zM53 94h1v1h-1zM53 115h1v1h-1zM53 124h1v1h-1zM53 144h1v1h-1zM53 160h1v1h-1zM53 165h1v1h-1zM53 178h1v1h-1zM53 185h1v1h-1zM53 194h1v2h-1zM54 21h1v2h-1zM54 26h1v1h-1zM54 76h1v1h-1zM54 94h1v1h-1zM54 109h1v1h-1zM54 113h1v1h-1zM54 118h1v1h-1zM54 138h1v1h-1zM54 145h1v1h-1zM55 11h1v1h-1zM55 20h1v1h-1zM55 45h1v2h-1zM55 50h1v1h-1zM55 52h1v1h-1zM55 103h1v1h-1zM55 108h1v1h-1zM55 116h1v1h-1zM55 125h1v1h-1zM55 133h1v1h-1zM55 149h1v1h-1zM55 188h1v1h-1zM56 7h1v1h-1zM56 22h1v1h-1zM56 31h1v1h-1zM56 40h1v1h-1zM56 48h1v1h-1zM56 58h1v1h-1zM56 69h1v1h-1zM56 79h1v1h-1zM56 86h1v1h-1zM56 102h1v1h-1zM56 104h1v1h-1zM56 154h1v1h-1zM56 167h1v1h-1zM56 176h1v1h-1zM56 180h1v1h-1zM56 191h1v1h-1zM56 193h1v1h-1zM57 16h1v1h-1zM57 20h1v2h-1zM57 26h1v2h-1zM57 46h1v1h-1zM57 59h1v2h-1zM57 68h1v1h-1zM57 79h1v1h-1zM57 88h1v1h-1zM57 114h1v1h-1zM57 132h1v1h-1zM57 135h1v1h-1zM57 144h1v1h-1zM57 150h1v1h-1zM57 165h1v1h-1zM57 179h1v1h-1zM58 15h1v1h-1zM58 17h1v1h-1zM58 20h1v1h-1zM58 38h1v1h-1zM58 42h1v1h-1zM58 49h1v1h-1zM58 51h1v1h-1zM58 59h1v1h-1zM58 67h1v1h-1zM58 101h1v1h-1zM58 105h1v1h-1zM58 109h1v1h-1zM58 119h1v1h-1zM58 128h1v3h-1zM58 141h1v1h-1zM58 175h1v1h-1zM58 185h1v1h-1zM58 187h1v1h-1zM58 191h1v1h-1zM58 194h1v1h-1z"/>
<path fill="#7bff0e" d="M0 103h1v1h-1zM0 121h1v1h-1zM0 123h1v1h-1zM0 125h1v1h-1zM0 128h1v1h-1zM0 130h1v1h-1zM0 146h1v1h-1zM0 178h1v1h-1zM0 187h1v1h-1zM1 0h1v1h-1zM1 8h1v1h-1zM5 85h1v1h-1zM6 25h1v1h-1zM8 31h1v2h-1zM8 65h1v1h-1zM8 77h1v1h-1zM8 125h1v1h-1zM8 136h1v1h-1zM8 142h1v1h-1zM8 158h1v1h-1zM8 162h1v1h-1zM8 164h1v2h-1zM9 101h1v1h-1zM15 15h1v1h-1zM15 37h1v2h-1zM16 105h1v1h-1zM17 133h1v1h-1zM17 174h1v1h-1zM17 196h1v1h-1zM19 74h1v1h-1zM20 66h1v1h-1zM20 86h1v1h-1zM21 21h1v1h-1zM21 30h1v1h-1zM21 108h1v1h-1zM24 147h1v1h-1zM25 108h1v1h-1zM25 110h1v1h-1zM25 197h1v1h-1zM26 144h1v1h-1zM27 168h1v1h-1zM28 38h1v1h-1zM28 59h1v1h-1zM30 15h1v1h-1zM31 92h1v1h-1zM31 178h1v1h-1zM31 183h1v1h-1zM32 19h1v1h-1zM32 51h1v1h-1zM32 101h1v1h-1zM32 136h1v1h-1zM32 174h1v1h-1zM35 12h1v1h-1zM37 122h1v1h-1zM38 8h1v1h-1zM38 95h1v1h-1zM38 173h1v1h-1zM38 192h1v1h-1zM39 85h1v1h-1zM39 107h1v1h-1zM39 110h1v1h-1zM39 125h1v1h-1zM39 161h1v1h-1zM39 173h1v1h-1zM39 191h1v1h-1zM40 69h1v1h-1zM40 99h1v1h-1zM40 116h1v1h-1zM40 125h1v1h-1zM40 133h1v1h-1zM40 143h1v1h-1zM40 145h1v1h-1zM40 147h1v1h-1zM40 151h1v1h-1zM40 189h1v1h-1zM41 16h1v1h-1zM41 24h1v1h-1zM41 64h1v1h-1zM41 74h1v1h-1zM41 105h1v2h-1zM41 123h1v1h-1zM41 186h1v2h-1zM42 23h1v1h-1zM42 31h1v1h-1zM42 44h1v1h-1zM42 47h1v2h-1zM42 72h1v1h-1zM42 93h1v1h-1zM42 114h1v2h-1zM42 122h1v2h-1zM42 134h1v1h-1zM42 139h1v1h-1zM43 28h1v1h-1zM43 42h1v1h-1zM43 53h1v1h-1zM43 64h1v1h-1zM43 81h1v1h-1zM43 88h1v1h-1zM43 118h1v1h-1zM43 120h1v1h-1zM43 124h1v1h-1zM43 127h1v1h-1zM43 137h1v1h-1zM43 167h1v1h-1zM43 171h1v2h-1zM43 183h1v1h-1zM43 196h1v1h-1zM44 31h1v2h-1zM44 37h1v1h-1zM44 49h1v2h-1zM44 60h1v1h-1zM44 81h1v1h-1zM44 88h1v2h-1zM44 112h1v1h-1zM44 115h1v1h-1zM44 143h1v1h-1zM44 153h1v1h-1zM44 157h1v1h-1zM44 169h1v1h-1zM44 182h1v2h-1zM45 70h1v2h-1zM45 79h1v1h-1zM45 85h1v1h-1zM45 93h1v1h-1zM45 106h1v1h-1zM45 111h1v2h-1zM45 126h1v1h-1zM45 132h1v1h-1zM45 143h1v1h-1zM45 145h1v1h-1zM45 149h1v1h-1zM45 154h1v1h-1zM45 159h1v1h-1zM45 182h1v1h-1zM45 184h1v1h-1zM45 193h1v1h-1zM46 98h1v1h-1zM46 109h1v1h-1zM46 120h1v1h-1zM46 152h1v1h-1zM46 165h1v1h-1zM46 170h1v1h-1zM46 174h1v1h-1zM46 179h1v1h-1zM46 182h1v1h-1zM46 196h1v1h-1zM47 73h1v1h-1zM47 92h1v1h-1zM47 122h1v1h-1zM47 124h1v1h-1zM47 140h1v1h-1zM47 150h1v1h-1zM47 173h1v2h-1zM47 176h1v1h-1zM47 181h1v1h-1zM47 188h1v1h-1zM47 194h1v1h-1zM48 18h1v1h-1zM48 137h1v2h-1zM48 163h1v2h-1zM48 176h1v1h-1zM48 178h1v1h-1zM48 185h1v2h-1zM49 7h1v1h-1zM49 14h1v1h-1zM49 18h1v2h-1zM49 67h1v1h-1zM49 70h1v1h-1zM49 107h1v1h-1zM49 124h1v1h-1zM49 153h1v1h-1zM49 162h1v1h-1zM49 166h1v2h-1zM50 11h1v1h-1zM50 27h1v1h-1zM50 56h1v1h-1zM50 63h1v4h-1zM50 104h1v1h-1zM50 117h1v2h-1zM50 129h1v1h-1zM50 131h1v1h-1zM50 139h1v1h-1zM50 141h1v1h-1zM50 144h1v1h-1zM50 175h1v1h-1zM50 177h1v1h-1zM51 20h1v1h-1zM51 24h1v1h-1zM51 31h1v2h-1zM51 54h1v1h-1zM51 84h1v1h-1zM51 86h1v1h-1zM51 101h1v1h-1zM51 104h1v1h-1zM51 108h1v1h-1zM51 133h1v1h-1zM51 173h1v1h-1zM51 177h1v1h-1zM51 181h1v1h-1zM51 184h1v1h-1zM52 20h1v1h-1zM52 26h1v1h-1zM52 33h1v1h-1zM52 38h1v1h-1zM52 41h1v1h-1zM52 66h1v1h-1zM52 79h1v1h-1zM52 82h1v1h-1zM52 96h1v1h-1zM52 120h1v1h-1zM52 126h1v1h-1zM52 149h1v1h-1zM52 152h1v1h-1zM52 157h1v1h-1zM52 179h1v1h-1zM52 194h1v1h-1zM53 0h1v2h-1zM53 20h1v1h-1zM53 32h1v1h-1zM53 39h1v1h-1zM53 57h1v2h-1zM53 63h1v1h-1zM53 70h1v1h-1zM53 72h1v1h-1zM53 132h1v1h-1zM53 138h1v1h-1zM53 145h1v1h-1zM53 147h1v1h-1zM53 177h1v1h-1zM54 15h1v1h-1zM54 24h1v1h-1zM54 51h1v1h-1zM54 64h1v1h-1zM54 95h1v1h-1zM54 100h1v1h-1zM54 105h1v1h-1zM54 116h1v1h-1zM54 119h1v1h-1zM54 132h1v1h-1zM54 144h1v1h-1zM54 172h1v1h-1zM54 175h1v1h-1zM54 178h1v1h-1zM55 23h1v2h-1zM55 28h1v2h-1zM55 49h1v1h-1zM55 51h1v1h-1zM55 56h1v1h-1zM55 58h1v1h-1zM55 126h1v1h-1zM55 146h1v1h-1zM55 150h1v1h-1zM55 168h1v1h-1zM56 30h1v1h-1zM56 42h1v1h-1zM56 66h1v1h-1zM56 74h1v1h-1zM56 76h1v1h-1zM56 91h1v1h-1zM56 103h1v1h-1zM56 110h1v1h-1zM56 124h1v1h-1zM56 129h1v1h-1zM56 139h1v1h-1zM56 141h1v1h-1zM56 149h1v1h-1zM56 183h1v1h-1zM57 17h1v2h-1zM57 50h1v1h-1zM57 73h1v1h-1zM57 78h1v1h-1zM57 87h1v1h-1zM57 100h1v1h-1zM57 112h1v1h-1zM57 117h1v1h-1zM57 119h1v1h-1zM57 161h1v1h-1zM57 164h1v1h-1zM57 168h1v1h-1zM58 10h1v1h-1zM58 35h1v1h-1zM58 58h1v1h-1zM58 75h1v1h-1zM58 89h1v1h-1zM58 100h1v1h-1zM58 107h1v1h-1zM58 122h1v1h-1zM58 133h1v1h-1zM58 155h1v1h-1zM58 158h1v1h-1zM58 178h1v1h-1zM58 180h1v1h-1z"/>
<path fill="#a0ff04" d="M0 6h1v2h-1zM0 9h1v2h-1zM0 24h1v1h-1zM0 33h1v1h-1zM0 68h1v2h-1zM0 76h1v1h-1zM0 79h1v1h-1zM0 129h1v1h-1zM0 138h1v1h-1zM0 142h1v1h-1zM0 148h1v1h-1zM0 161h1v1h-1zM0 164h1v1h-1zM0 168h1v1h-1zM1 5h1v1h-1zM4 128h1v1h-1zM8 42h1v1h-1zM8 44h1v1h-1zM8 52h1v1h-1zM8 66h1v3h-1zM8 97h1v2h-1zM8 111h1v1h-1zM8 126h1v1h-1zM8 137h1v1h-1zM8 140h1v1h-1zM8 143h1v1h-1zM8 160h1v1h-1zM14 128h1v1h-1zM17 63h1v1h-1zM17 106h1v1h-1zM20 88h1v1h-1zM25 87h1v1h-1zM25 144h1v1h-1zM29 25h1v1h-1zM29 162h1v1h-1zM31 34h1v1h-1zM32 66h1v1h-1zM32 112h1v1h-1zM32 119h1v1h-1zM32 135h1v1h-1zM33 12h1v1h-1zM33 97h1v1h-1zM33 182h1v1h-1zM34 25h1v1h-1zM36 196h1v1h-1zM38 14h1v1h-1zM38 38h1v1h-1zM38 94h1v1h-1zM38 101h1v1h-1zM38 108h1v1h-1zM38 110h1v1h-1zM39 3h1v1h-1zM39 67h1v1h-1zM39 69h1v1h-1zM39 89h1v1h-1zM39 105h1v1h-1zM39 109h1v1h-1zM39 126h1v1h-1zM39 159h1v1h-1zM39 176h1v1h-1zM39 179h1v1h-1zM40 13h1v1h-1zM40 18h1v1h-1zM40 24h1v1h-1zM40 29h1v1h-1zM40 40h1v1h-1zM40 80h1v2h-1zM40 84h1v2h-1zM40 89h1v1h-1zM40 95h1v2h-1zM40 142h1v1h-1zM40 159h1v1h-1zM40 164h1v1h-1zM40 179h1v1h-1zM40 196h1v1h-1zM41 18h1v1h-1zM41 20h1v1h-1zM41 28h1v1h-1zM41 31h1v2h-1zM41 34h1v1h-1zM41 38h1v1h-1zM41 65h1v1h-1zM41 89h1v1h-1zM41 104h1v1h-1zM41 112h1v2h-1zM41 135h1v1h-1zM41 158h1v1h-1zM41 167h1v1h-1zM41 173h1v1h-1zM41 197h1v1h-1zM42 22h1v1h-1zM42 24h1v1h-1zM42 28h1v1h-1zM42 33h1v1h-1zM42 41h1v1h-1zM42 43h1v1h-1zM42 50h1v1h-1zM42 66h1v1h-1zM42 82h1v2h-1zM42 111h1v1h-1zM42 121h1v1h-1zM42 133h1v1h-1zM42 172h1v2h-1zM42 189h1v1h-1zM42 191h1v1h-1zM43 44h1v1h-1zM43 48h1v1h-1zM43 59h1v1h-1zM43 61h1v1h-1zM43 98h1v1h-1zM43 102h1v1h-1zM43 107h1v1h-1zM43 125h1v1h-1zM43 129h1v1h-1zM43 147h1v1h-1zM44 10h1v1h-1zM44 22h1v1h-1zM44 35h1v1h-1zM44 45h1v1h-1zM44 48h1v1h-1zM44 59h1v1h-1zM44 61h1v1h-1zM44 63h1v2h-1zM44 80h1v1h-1zM44 82h1v1h-1zM44 85h1v1h-1zM44 92h1v2h-1zM44 104h1v2h-1zM44 109h1v1h-1zM44 128h1v1h-1zM44 141h1v1h-1zM44 148h1v1h-1zM44 178h1v1h-1zM44 195h1v2h-1zM45 16h1v1h-1zM45 74h1v1h-1zM45 80h1v2h-1zM45 128h1v1h-1zM45 147h1v1h-1zM45 157h1v1h-1zM45 165h1v1h-1zM45 170h1v1h-1zM45 176h1v1h-1zM45 178h1v1h-1zM45 191h1v2h-1zM45 194h1v1h-1zM45 197h1v1h-1zM46 12h1v1h-1zM46 19h1v1h-1zM46 21h1v1h-1zM46 64h1v3h-1zM46 72h1v1h-1zM46 104h1v1h-1zM46 119h1v1h-1zM46 131h1v1h-1zM46 137h1v1h-1zM46 139h1v1h-1zM46 141h1v1h-1zM46 144h1v1h-1zM46 155h1v1h-1zM46 160h1v1h-1zM46 163h1v1h-1zM46 166h1v1h-1zM46 172h1v1h-1zM46 177h1v1h-1zM46 181h1v1h-1zM46 184h1v1h-1zM47 12h1v1h-1zM47 20h1v1h-1zM47 58h1v1h-1zM47 61h1v1h-1zM47 79h1v1h-1zM47 83h1v2h-1zM47 107h1v2h-1zM47 121h1v1h-1zM47 123h1v1h-1zM47 142h1v1h-1zM47 146h1v1h-1zM47 151h1v2h-1zM47 177h1v2h-1zM47 184h1v1h-1zM47 187h1v1h-1zM47 193h1v1h-1zM48 11h1v1h-1zM48 13h1v1h-1zM48 149h1v1h-1zM48 151h1v1h-1zM48 167h1v1h-1zM48 170h1v1h-1zM48 190h1v1h-1zM49 3h1v1h-1zM49 9h1v2h-1zM49 56h1v1h-1zM49 112h1v1h-1zM49 142h1v1h-1zM49 152h1v1h-1zM50 15h1v1h-1zM50 25h1v1h-1zM50 30h1v1h-1zM50 33h1v1h-1zM50 40h1v1h-1zM50 43h1v1h-1zM50 61h1v1h-1zM50 92h1v1h-1zM50 114h1v1h-1zM50 121h1v1h-1zM50 126h1v1h-1zM50 164h1v1h-1zM50 183h1v1h-1zM50 190h1v1h-1zM51 18h1v1h-1zM51 28h1v1h-1zM51 39h1v1h-1zM51 50h1v1h-1zM51 76h1v1h-1zM51 110h1v1h-1zM51 116h1v1h-1zM51 137h1v1h-1zM51 143h1v1h-1zM51 147h1v1h-1zM51 155h1v1h-1zM51 187h1v1h-1zM52 52h1v2h-1zM52 55h1v1h-1zM52 76h1v1h-1zM52 114h1v1h-1zM52 123h1v1h-1zM52 158h1v1h-1zM52 165h1v1h-1zM52 174h1v1h-1zM52 185h1v1h-1zM52 193h1v1h-1zM53 5h1v1h-1zM53 14h1v1h-1zM53 17h1v1h-1zM53 24h1v1h-1zM53 71h1v1h-1zM53 88h1v1h-1zM53 93h1v1h-1zM53 96h1v1h-1zM53 104h1v1h-1zM53 108h1v1h-1zM53 133h1v1h-1zM53 181h1v1h-1zM54 44h1v1h-1zM54 48h1v1h-1zM54 146h1v1h-1zM54 163h1v1h-1zM54 177h1v1h-1zM54 187h1v1h-1zM55 61h1v1h-1zM55 79h1v1h-1zM55 106h1v1h-1zM55 117h1v1h-1zM55 163h1v1h-1zM55 165h1v1h-1zM55 170h1v1h-1zM55 187h1v1h-1zM55 190h1v1h-1zM55 195h1v1h-1zM55 197h1v1h-1zM56 64h1v1h-1zM56 89h1v1h-1zM56 98h1v1h-1zM56 116h1v1h-1zM56 119h1v2h-1zM56 128h1v1h-1zM56 136h1v1h-1zM56 160h1v2h-1zM56 170h1v1h-1zM57 29h1v1h-1zM57 52h1v1h-1zM57 54h1v1h-1zM57 80h1v1h-1zM57 98h1v1h-1zM57 127h1v1h-1zM57 133h1v1h-1zM57 153h1v1h-1zM57 167h1v1h-1zM57 174h1v1h-1zM57 178h1v1h-1zM57 182h1v1h-1zM58 21h1v2h-1zM58 28h1v1h-1zM58 66h1v1h-1zM58 103h1v1h-1zM58 114h1v1h-1zM58 127h1v1h-1zM58 140h1v1h-1zM58 170h1v1h-1zM58 197h1v1h-1z"/>
<path fill="#bbff00" d="M0 12h1v1h-1zM0 17h1v1h-1zM0 38h1v1h-1zM0 43h1v2h-1zM0 75h1v1h-1zM0 77h1v1h-1zM0 80h1v1h-1zM0 85h1v1h-1zM0 105h1v1h-1zM0 127h1v1h-1zM0 141h1v1h-1zM0 145h1v1h-1zM0 156h1v1h-1zM0 158h1v1h-1zM0 191h1v1h-1zM1 2h1v1h-1zM1 9h1v1h-1zM8 26h1v1h-1zM8 60h1v1h-1zM8 96h1v1h-1zM14 129h1v1h-1zM17 194h1v1h-1zM21 140h1v1h-1zM24 84h1v1h-1zM29 38h1v1h-1zM29 92h1v2h-1zM30 118h1v1h-1zM31 153h1v1h-1zM32 84h1v1h-1zM32 131h1v1h-1zM32 133h1v1h-1zM32 159h1v1h-1zM37 45h1v1h-1zM38 36h1v1h-1zM38 39h1v1h-1zM38 41h1v1h-1zM38 79h1v1h-1zM38 96h1v1h-1zM38 129h1v1h-1zM38 178h1v1h-1zM39 5h1v1h-1zM39 12h1v1h-1zM39 32h1v1h-1zM39 39h1v1h-1zM39 50h1v1h-1zM39 52h1v1h-1zM39 81h1v2h-1zM39 86h1v1h-1zM39 106h1v1h-1zM39 144h1v1h-1zM39 151h1v1h-1zM39 158h1v1h-1zM39 178h1v1h-1zM39 183h1v1h-1zM39 187h1v1h-1zM40 74h1v1h-1zM40 79h1v1h-1zM40 102h1v1h-1zM40 105h1v1h-1zM40 111h1v1h-1zM40 160h1v1h-1zM40 180h1v1h-1zM40 195h1v1h-1zM41 41h1v1h-1zM41 43h1v1h-1zM41 49h1v2h-1zM41 62h1v1h-1zM41 110h1v1h-1zM41 118h1v1h-1zM41 124h1v1h-1zM41 127h1v1h-1zM41 134h1v1h-1zM41 139h1v1h-1zM41 166h1v1h-1zM41 172h1v1h-1zM41 196h1v1h-1zM42 12h1v1h-1zM42 75h1v1h-1zM42 84h1v1h-1zM42 96h1v1h-1zM42 117h1v1h-1zM42 135h1v1h-1zM42 137h1v1h-1zM42 158h1v2h-1zM42 163h1v1h-1zM42 170h1v1h-1zM42 175h1v1h-1zM42 180h1v1h-1zM42 194h1v2h-1zM43 17h1v1h-1zM43 58h1v1h-1zM43 71h1v1h-1zM43 77h1v1h-1zM43 97h1v1h-1zM43 100h1v1h-1zM43 103h1v2h-1zM43 122h1v1h-1zM43 130h1v1h-1zM43 136h1v1h-1zM43 148h1v2h-1zM43 158h1v1h-1zM43 163h1v1h-1zM43 184h1v1h-1zM43 195h1v1h-1zM44 30h1v1h-1zM44 53h1v1h-1zM44 65h1v2h-1zM44 76h1v1h-1zM44 84h1v1h-1zM44 101h1v1h-1zM44 111h1v1h-1zM44 131h1v1h-1zM44 137h1v1h-1zM44 170h1v2h-1zM45 14h1v2h-1zM45 21h1v1h-1zM45 67h1v1h-1zM45 76h1v1h-1zM45 91h1v1h-1zM45 107h1v1h-1zM45 117h1v1h-1zM45 127h1v1h-1zM45 152h1v1h-1zM45 161h1v1h-1zM45 166h1v1h-1zM45 174h1v1h-1zM46 16h1v1h-1zM46 76h1v1h-1zM46 79h1v1h-1zM46 91h1v1h-1zM46 95h1v1h-1zM46 101h1v1h-1zM46 105h1v2h-1zM46 108h1v1h-1zM46 115h1v1h-1zM46 140h1v1h-1zM46 143h1v1h-1zM46 176h1v1h-1zM46 180h1v1h-1zM46 193h1v1h-1zM47 59h1v1h-1zM47 64h1v1h-1zM47 66h1v1h-1zM47 86h1v1h-1zM47 98h1v3h-1zM47 102h1v2h-1zM47 120h1v1h-1zM47 135h1v1h-1zM47 160h1v1h-1zM47 170h1v1h-1zM47 196h1v1h-1zM48 132h1v1h-1zM48 150h1v1h-1zM48 181h1v1h-1zM49 69h1v1h-1zM49 109h1v1h-1zM49 111h1v1h-1zM49 123h1v1h-1zM49 160h1v1h-1zM49 170h1v1h-1zM50 35h1v1h-1zM50 62h1v1h-1zM50 80h1v1h-1zM50 120h1v1h-1zM50 136h1v1h-1zM50 163h1v1h-1zM50 169h1v1h-1zM50 194h1v2h-1zM50 197h1v1h-1zM51 23h1v1h-1zM51 60h1v1h-1zM51 102h1v1h-1zM51 131h1v1h-1zM51 136h1v1h-1zM51 163h1v1h-1zM51 171h1v1h-1zM51 185h1v1h-1zM51 190h1v2h-1zM52 13h1v1h-1zM52 32h1v1h-1zM52 34h1v1h-1zM52 39h1v1h-1zM52 51h1v1h-1zM52 67h1v1h-1zM52 148h1v1h-1zM52 155h1v1h-1zM52 191h1v1h-1zM53 30h1v1h-1zM53 55h1v1h-1zM53 59h1v1h-1zM53 68h1v1h-1zM53 81h1v1h-1zM53 83h1v1h-1zM53 90h1v1h-1zM53 99h1v1h-1zM53 101h1v1h-1zM53 107h1v1h-1zM53 116h1v1h-1zM53 121h1v1h-1zM53 140h1v1h-1zM53 161h1v1h-1zM53 176h1v1h-1zM53 197h1v1h-1zM54 28h1v1h-1zM54 43h1v1h-1zM54 68h1v1h-1zM54 77h1v1h-1zM54 88h1v1h-1zM54 90h1v1h-1zM54 92h1v2h-1zM54 117h1v1h-1zM54 125h1v1h-1zM54 128h1v2h-1zM54 165h1v1h-1zM54 171h1v1h-1zM54 173h1v1h-1zM54 176h1v1h-1zM55 16h1v1h-1zM55 31h1v1h-1zM55 40h1v2h-1zM55 62h1v2h-1zM55 66h1v1h-1zM55 78h1v1h-1zM55 84h1v1h-1zM55 95h1v2h-1zM55 118h1v1h-1zM55 135h1v1h-1zM55 164h1v1h-1zM55 169h1v1h-1zM55 172h1v1h-1zM55 185h1v1h-1zM56 33h1v1h-1zM56 45h1v1h-1zM56 73h1v1h-1zM56 93h1v2h-1zM56 99h1v1h-1zM56 143h1v1h-1zM56 152h1v1h-1zM56 162h1v1h-1zM56 175h1v1h-1zM57 28h1v1h-1zM57 51h1v1h-1zM57 83h1v1h-1zM57 156h1v1h-1zM57 163h1v1h-1zM58 44h1v1h-1zM58 145h1v1h-1zM58 151h1v1h-1zM58 154h1v1h-1zM58 162h1v1h-1zM58 171h1v1h-1zM58 176h1v1h-1zM58 186h1v1h-1zM58 196h1v1h-1z"/>
<path fill="#d0ff00" d="M0 8h1v1h-1zM0 34h1v1h-1zM0 41h1v1h-1zM0 47h1v1h-1zM0 54h1v1h-1zM0 74h1v1h-1zM0 92h1v1h-1zM0 102h1v1h-1zM0 122h1v1h-1zM0 124h1v1h-1zM0 171h1v1h-1zM0 179h1v1h-1zM1 4h1v1h-1zM1 6h1v2h-1zM8 27h1v1h-1zM8 151h1v2h-1zM8 161h1v1h-1zM15 39h1v1h-1zM27 112h1v1h-1zM27 151h1v1h-1zM31 152h1v1h-1zM32 25h1v1h-1zM32 147h1v1h-1zM37 22h1v1h-1zM38 16h1v1h-1zM38 31h1v1h-1zM38 37h1v1h-1zM38 43h1v1h-1zM38 47h1v1h-1zM38 75h1v1h-1zM38 85h1v1h-1zM38 97h1v2h-1zM38 105h1v1h-1zM38 115h1v1h-1zM38 145h1v1h-1zM38 148h1v1h-1zM38 150h1v1h-1zM38 153h1v1h-1zM38 184h1v1h-1zM38 188h1v1h-1zM38 194h1v1h-1zM39 13h1v1h-1zM39 53h1v1h-1zM39 55h1v1h-1zM39 57h1v1h-1zM39 66h1v1h-1zM39 68h1v1h-1zM39 95h1v2h-1zM39 98h1v1h-1zM39 103h1v1h-1zM39 124h1v1h-1zM39 134h1v1h-1zM39 164h1v2h-1zM39 177h1v1h-1zM39 193h1v1h-1zM40 8h1v1h-1zM40 19h1v2h-1zM40 49h1v1h-1zM40 62h1v1h-1zM40 72h1v1h-1zM40 76h1v1h-1zM40 91h1v2h-1zM40 107h1v1h-1zM40 117h1v1h-1zM40 123h1v1h-1zM40 126h1v1h-1zM40 137h1v1h-1zM40 141h1v1h-1zM40 169h1v1h-1zM40 184h1v2h-1zM40 197h1v1h-1zM41 7h1v1h-1zM41 42h1v1h-1zM41 56h1v1h-1zM41 59h1v1h-1zM41 66h1v1h-1zM41 71h1v1h-1zM41 73h1v1h-1zM41 78h1v1h-1zM41 88h1v1h-1zM41 91h1v1h-1zM41 101h1v1h-1zM41 103h1v1h-1zM41 108h1v1h-1zM41 137h1v1h-1zM41 170h1v1h-1zM41 183h1v1h-1zM42 34h1v1h-1zM42 42h1v1h-1zM42 57h1v1h-1zM42 62h1v1h-1zM42 65h1v1h-1zM42 81h1v1h-1zM42 89h1v1h-1zM42 108h1v1h-1zM42 120h1v1h-1zM42 146h1v1h-1zM42 153h1v1h-1zM42 162h1v1h-1zM42 178h1v1h-1zM42 192h1v2h-1zM43 7h1v1h-1zM43 16h1v1h-1zM43 18h1v1h-1zM43 21h1v1h-1zM43 49h1v1h-1zM43 62h1v1h-1zM43 66h1v1h-1zM43 78h1v1h-1zM43 80h1v1h-1zM43 84h1v1h-1zM43 96h1v1h-1zM43 119h1v1h-1zM43 135h1v1h-1zM43 143h1v1h-1zM43 150h1v2h-1zM43 157h1v1h-1zM43 190h1v1h-1zM44 13h1v1h-1zM44 17h1v1h-1zM44 20h1v1h-1zM44 26h1v1h-1zM44 39h1v1h-1zM44 54h1v2h-1zM44 70h1v1h-1zM44 75h1v1h-1zM44 83h1v1h-1zM44 100h1v1h-1zM44 114h1v1h-1zM44 120h1v1h-1zM44 124h1v1h-1zM44 130h1v1h-1zM44 152h1v1h-1zM44 173h1v1h-1zM44 180h1v1h-1zM45 12h1v1h-1zM45 17h1v1h-1zM45 64h1v1h-1zM45 78h1v1h-1zM45 82h1v1h-1zM45 102h1v1h-1zM45 109h1v1h-1zM45 131h1v1h-1zM45 175h1v1h-1zM45 183h1v1h-1zM45 186h1v2h-1zM46 14h1v1h-1zM46 142h1v1h-1zM46 151h1v1h-1zM46 158h1v1h-1zM46 162h1v1h-1zM46 167h1v1h-1zM46 175h1v1h-1zM47 63h1v1h-1zM47 72h1v1h-1zM47 93h1v1h-1zM47 105h1v1h-1zM47 112h1v1h-1zM47 119h1v1h-1zM47 134h1v1h-1zM47 155h1v1h-1zM47 169h1v1h-1zM47 191h1v1h-1zM47 195h1v1h-1zM48 21h1v1h-1zM48 135h1v1h-1zM48 144h1v1h-1zM48 177h1v1h-1zM49 68h1v1h-1zM49 79h1v1h-1zM49 86h1v1h-1zM49 161h1v1h-1zM49 165h1v1h-1zM49 169h1v1h-1zM49 178h1v1h-1zM50 46h1v1h-1zM50 79h1v1h-1zM50 113h1v1h-1zM50 119h1v1h-1zM50 134h1v1h-1zM50 142h1v1h-1zM50 165h1v2h-1zM51 15h1v1h-1zM51 21h1v1h-1zM51 49h1v1h-1zM51 65h1v2h-1zM51 156h1v1h-1zM51 162h1v1h-1zM51 164h1v1h-1zM51 183h1v1h-1zM51 188h1v1h-1zM52 14h1v1h-1zM52 18h1v2h-1zM52 59h1v1h-1zM52 72h1v2h-1zM52 80h1v2h-1zM52 83h1v1h-1zM52 95h1v1h-1zM52 116h1v1h-1zM52 125h1v1h-1zM52 170h1v1h-1zM52 190h1v1h-1zM53 35h1v2h-1zM53 92h1v1h-1zM53 106h1v1h-1zM53 139h1v1h-1zM53 141h1v1h-1zM53 188h1v1h-1zM54 42h1v1h-1zM54 67h1v1h-1zM54 108h1v1h-1zM54 174h1v1h-1zM54 188h1v1h-1zM55 30h1v1h-1zM55 65h1v1h-1zM55 67h1v1h-1zM55 107h1v1h-1zM55 171h1v1h-1zM56 75h1v1h-1zM56 100h1v1h-1zM56 142h1v1h-1zM56 145h1v1h-1zM56 185h1v1h-1zM57 44h1v1h-1zM57 63h1v1h-1zM57 84h1v1h-1zM57 113h1v1h-1zM57 118h1v1h-1zM57 138h1v2h-1zM57 176h1v2h-1zM57 193h1v1h-1zM57 196h1v1h-1zM58 18h1v2h-1zM58 106h1v1h-1zM58 113h1v1h-1zM58 125h1v1h-1zM58 137h1v3h-1zM58 150h1v1h-1zM58 159h1v1h-1zM58 165h1v1h-1z"/>
<path fill="#e4ff00" d="M0 5h1v1h-1zM0 28h1v2h-1zM0 31h1v2h-1zM0 55h1v1h-1zM0 78h1v1h-1zM0 82h1v1h-1zM0 111h1v1h-1zM0 120h1v1h-1zM0 126h1v1h-1zM0 139h1v1h-1zM0 143h1v2h-1zM0 167h1v1h-1zM0 169h1v1h-1zM0 184h1v1h-1zM0 190h1v1h-1zM1 11h1v1h-1zM8 82h1v1h-1zM8 92h1v1h-1zM8 154h1v1h-1zM8 197h1v1h-1zM21 106h1v1h-1zM32 67h1v1h-1zM34 12h1v1h-1zM34 29h1v1h-1zM37 13h1v1h-1zM37 19h1v1h-1zM37 123h1v1h-1zM37 180h1v1h-1zM38 0h1v1h-1zM38 32h1v2h-1zM38 46h1v1h-1zM38 69h1v1h-1zM38 71h1v1h-1zM38 111h1v1h-1zM38 128h1v1h-1zM38 141h1v1h-1zM38 180h1v1h-1zM38 183h1v1h-1zM38 186h1v1h-1zM38 191h1v1h-1zM39 16h1v1h-1zM39 27h1v1h-1zM39 30h1v1h-1zM39 59h1v1h-1zM39 84h1v1h-1zM39 135h1v1h-1zM39 156h1v1h-1zM39 163h1v1h-1zM39 167h1v1h-1zM39 186h1v1h-1zM40 3h1v1h-1zM40 10h1v1h-1zM40 22h1v1h-1zM40 30h1v2h-1zM40 50h1v1h-1zM40 86h1v1h-1zM40 90h1v1h-1zM40 93h1v1h-1zM40 109h1v1h-1zM40 112h1v1h-1zM40 129h1v1h-1zM40 140h1v1h-1zM40 144h1v1h-1zM40 148h1v1h-1zM40 152h1v1h-1zM40 161h1v1h-1zM40 163h1v1h-1zM40 165h1v1h-1zM40 182h1v1h-1zM40 191h1v1h-1zM41 6h1v1h-1zM41 10h1v1h-1zM41 15h1v1h-1zM41 21h1v1h-1zM41 33h1v1h-1zM41 36h1v1h-1zM41 44h1v1h-1zM41 55h1v1h-1zM41 63h1v1h-1zM41 79h1v2h-1zM41 85h1v1h-1zM41 100h1v1h-1zM41 109h1v1h-1zM41 111h1v1h-1zM41 116h1v1h-1zM41 122h1v1h-1zM41 130h1v1h-1zM41 136h1v1h-1zM41 140h1v1h-1zM41 153h1v1h-1zM41 164h1v1h-1zM42 0h1v1h-1zM42 2h1v2h-1zM42 17h1v1h-1zM42 20h1v1h-1zM42 30h1v1h-1zM42 35h1v1h-1zM42 38h1v2h-1zM42 73h1v1h-1zM42 78h1v1h-1zM42 92h1v1h-1zM42 99h1v1h-1zM42 112h1v1h-1zM42 118h1v1h-1zM42 126h1v1h-1zM42 141h1v1h-1zM42 144h1v1h-1zM42 148h1v1h-1zM42 150h1v1h-1zM42 181h1v1h-1zM42 187h1v1h-1zM42 190h1v1h-1zM43 8h1v1h-1zM43 26h1v1h-1zM43 30h1v1h-1zM43 41h1v1h-1zM43 50h1v1h-1zM43 54h1v3h-1zM43 75h1v1h-1zM43 79h1v1h-1zM43 82h1v1h-1zM43 86h1v2h-1zM43 99h1v1h-1zM43 117h1v1h-1zM43 154h1v1h-1zM43 194h1v1h-1zM44 14h1v1h-1zM44 52h1v1h-1zM44 62h1v1h-1zM44 106h1v1h-1zM44 121h1v1h-1zM44 136h1v1h-1zM44 138h1v1h-1zM44 140h1v1h-1zM44 145h1v1h-1zM44 147h1v1h-1zM44 151h1v1h-1zM44 160h1v1h-1zM44 165h1v1h-1zM44 172h1v1h-1zM44 179h1v1h-1zM44 186h1v1h-1zM45 13h1v1h-1zM45 59h1v1h-1zM45 86h1v1h-1zM45 115h1v1h-1zM45 118h1v1h-1zM45 130h1v1h-1zM45 133h1v1h-1zM45 168h1v1h-1zM45 171h1v1h-1zM45 181h1v1h-1zM45 195h1v1h-1zM46 78h1v1h-1zM46 80h1v1h-1zM46 156h1v1h-1zM46 169h1v1h-1zM46 197h1v1h-1zM47 60h1v1h-1zM47 65h1v1h-1zM47 101h1v1h-1zM47 106h1v1h-1zM47 109h1v1h-1zM47 111h1v1h-1zM47 118h1v1h-1zM47 147h1v2h-1zM47 156h1v1h-1zM47 183h1v1h-1zM47 185h1v1h-1zM47 197h1v1h-1zM48 1h1v1h-1zM48 161h1v1h-1zM48 183h1v1h-1zM48 189h1v1h-1zM49 87h1v1h-1zM49 141h1v1h-1zM49 154h1v1h-1zM49 158h1v1h-1zM50 16h1v1h-1zM50 22h1v1h-1zM50 34h1v1h-1zM50 44h1v2h-1zM50 115h1v1h-1zM50 140h1v1h-1zM50 167h1v1h-1zM50 193h1v1h-1zM51 7h1v1h-1zM51 40h1v1h-1zM51 51h1v1h-1zM51 56h1v1h-1zM51 83h1v1h-1zM51 87h1v1h-1zM51 123h1v1h-1zM51 126h1v1h-1zM51 135h1v1h-1zM52 85h1v1h-1zM52 115h1v1h-1zM52 133h1v1h-1zM52 146h1v1h-1zM52 154h1v1h-1zM53 15h1v1h-1zM53 21h1v1h-1zM53 34h1v1h-1zM53 56h1v1h-1zM53 102h1v1h-1zM54 23h1v1h-1zM54 34h1v2h-1zM54 66h1v1h-1zM54 89h1v1h-1zM54 106h1v1h-1zM54 164h1v1h-1zM55 13h1v3h-1zM55 32h1v1h-1zM56 15h1v1h-1zM56 23h1v1h-1zM56 49h1v1h-1zM56 65h1v1h-1zM56 169h1v1h-1zM56 182h1v1h-1zM56 186h1v1h-1zM57 34h1v2h-1zM57 47h1v2h-1zM57 140h1v1h-1zM57 151h1v1h-1zM57 185h1v1h-1zM58 27h1v1h-1zM58 45h1v1h-1zM58 91h1v1h-1zM58 181h1v1h-1z"/>
<path fill="#f9ff00" d="M0 11h1v1h-1zM0 25h1v1h-1zM0 36h1v1h-1zM0 39h1v1h-1zM0 42h1v1h-1zM0 46h1v1h-1zM0 64h1v1h-1zM0 67h1v1h-1zM0 70h1v2h-1zM0 101h1v1h-1zM0 107h1v1h-1zM0 118h1v2h-1zM0 131h1v1h-1zM0 157h1v1h-1zM0 163h1v1h-1zM0 170h1v1h-1zM0 174h1v1h-1zM0 182h1v1h-1zM12 110h1v1h-1zM14 64h1v1h-1zM21 107h1v1h-1zM25 30h1v1h-1zM25 59h1v1h-1zM30 42h1v1h-1zM31 63h1v1h-1zM32 18h1v1h-1zM32 132h1v1h-1zM32 146h1v1h-1zM33 0h1v1h-1zM34 116h1v1h-1zM35 108h1v1h-1zM37 15h1v1h-1zM37 49h1v1h-1zM37 70h1v1h-1zM37 129h1v1h-1zM37 150h1v1h-1zM37 179h1v1h-1zM38 3h1v1h-1zM38 9h1v2h-1zM38 29h1v1h-1zM38 42h1v1h-1zM38 48h1v1h-1zM38 50h1v1h-1zM38 61h1v1h-1zM38 63h1v1h-1zM38 78h1v1h-1zM38 82h1v1h-1zM38 86h1v1h-1zM38 104h1v1h-1zM38 114h1v1h-1zM38 144h1v1h-1zM38 147h1v1h-1zM38 152h1v1h-1zM38 156h1v2h-1zM38 159h1v1h-1zM38 174h1v3h-1zM38 189h1v1h-1zM39 9h1v1h-1zM39 21h1v1h-1zM39 33h1v1h-1zM39 38h1v1h-1zM39 46h1v1h-1zM39 70h1v1h-1zM39 88h1v1h-1zM39 102h1v1h-1zM39 137h1v1h-1zM39 147h1v1h-1zM39 168h1v1h-1zM39 170h1v2h-1zM39 175h1v1h-1zM40 0h1v1h-1zM40 6h1v1h-1zM40 34h1v1h-1zM40 54h1v1h-1zM40 75h1v1h-1zM40 87h1v2h-1zM40 94h1v1h-1zM40 101h1v1h-1zM40 103h1v2h-1zM40 108h1v1h-1zM40 124h1v1h-1zM40 127h1v2h-1zM40 136h1v1h-1zM40 162h1v1h-1zM40 171h1v1h-1zM40 173h1v1h-1zM40 181h1v1h-1zM40 190h1v1h-1zM41 0h1v1h-1zM41 2h1v1h-1zM41 4h1v2h-1zM41 8h1v2h-1zM41 12h1v1h-1zM41 25h1v2h-1zM41 30h1v1h-1zM41 37h1v1h-1zM41 48h1v1h-1zM41 70h1v1h-1zM41 77h1v1h-1zM41 114h1v2h-1zM41 117h1v1h-1zM41 129h1v1h-1zM41 138h1v1h-1zM41 141h1v1h-1zM41 145h1v1h-1zM41 150h1v1h-1zM41 159h1v1h-1zM41 168h1v1h-1zM41 174h1v1h-1zM41 194h1v1h-1zM42 7h1v1h-1zM42 19h1v1h-1zM42 36h1v1h-1zM42 40h1v1h-1zM42 46h1v1h-1zM42 56h1v1h-1zM42 71h1v1h-1zM42 86h1v1h-1zM42 88h1v1h-1zM42 94h1v1h-1zM42 113h1v1h-1zM42 119h1v1h-1zM42 124h1v1h-1zM42 136h1v1h-1zM42 140h1v1h-1zM42 143h1v1h-1zM42 156h1v2h-1zM42 166h1v1h-1zM42 176h1v1h-1zM42 197h1v1h-1zM43 0h1v1h-1zM43 12h1v1h-1zM43 25h1v1h-1zM43 34h1v1h-1zM43 45h1v1h-1zM43 60h1v1h-1zM43 67h1v2h-1zM43 73h1v2h-1zM43 76h1v1h-1zM43 144h1v1h-1zM43 146h1v1h-1zM43 152h1v1h-1zM43 185h1v1h-1zM43 192h1v1h-1zM43 197h1v1h-1zM44 0h1v1h-1zM44 6h1v1h-1zM44 71h1v1h-1zM44 74h1v1h-1zM44 79h1v1h-1zM44 94h1v1h-1zM44 113h1v1h-1zM44 139h1v1h-1zM44 142h1v1h-1zM44 144h1v1h-1zM44 162h1v1h-1zM44 176h1v1h-1zM44 187h1v1h-1zM44 189h1v2h-1zM45 19h1v1h-1zM45 60h1v1h-1zM45 77h1v1h-1zM45 84h1v1h-1zM45 104h1v1h-1zM45 158h1v1h-1zM45 169h1v1h-1zM45 196h1v1h-1zM46 20h1v1h-1zM46 138h1v1h-1zM46 154h1v1h-1zM46 168h1v1h-1zM46 190h1v2h-1zM47 95h1v2h-1zM47 104h1v1h-1zM47 128h1v1h-1zM47 130h1v1h-1zM47 171h1v1h-1zM48 6h1v1h-1zM48 19h1v2h-1zM48 83h1v1h-1zM48 122h1v1h-1zM48 129h1v1h-1zM48 136h1v1h-1zM48 174h1v1h-1zM49 120h1v1h-1zM49 164h1v1h-1zM50 106h1v1h-1zM50 132h1v1h-1zM50 146h1v1h-1zM50 171h1v1h-1zM50 174h1v1h-1zM51 59h1v1h-1zM51 77h1v1h-1zM51 124h1v1h-1zM51 144h1v1h-1zM51 149h1v1h-1zM51 189h1v1h-1zM52 74h1v1h-1zM52 124h1v1h-1zM52 140h1v1h-1zM53 22h1v1h-1zM53 62h1v1h-1zM53 82h1v1h-1zM53 87h1v1h-1zM53 120h1v1h-1zM53 143h1v1h-1zM53 175h1v1h-1zM53 196h1v1h-1zM54 107h1v1h-1zM54 162h1v1h-1zM55 26h1v1h-1zM55 173h1v1h-1zM56 50h1v1h-1zM56 78h1v1h-1zM56 171h1v1h-1zM56 188h1v1h-1zM57 110h1v1h-1zM57 129h1v1h-1zM57 141h1v1h-1zM57 192h1v1h-1zM58 37h1v1h-1zM58 64h1v1h-1zM58 68h1v1h-1zM58 104h1v1h-1zM58 124h1v1h-1zM58 126h1v1h-1zM58 131h1v1h-1zM58 135h1v2h-1zM58 146h1v1h-1zM58 156h1v1h-1zM58 169h1v1h-1zM58 172h1v1h-1zM58 174h1v1h-1zM58 177h1v1h-1z"/>
<path fill="#fff300" d="M0 4h1v1h-1zM0 56h1v1h-1zM0 61h1v1h-1zM0 73h1v1h-1zM0 95h1v1h-1zM0 113h1v1h-1zM0 136h1v1h-1zM0 155h1v1h-1zM0 159h1v1h-1zM0 162h1v1h-1zM0 165h1v2h-1zM8 93h1v1h-1zM26 145h1v1h-1zM31 168h1v1h-1zM32 30h1v2h-1zM33 122h1v1h-1zM35 53h1v1h-1zM37 14h1v1h-1zM37 25h1v1h-1zM37 32h1v1h-1zM37 41h1v1h-1zM37 50h1v1h-1zM37 125h1v1h-1zM37 134h1v1h-1zM37 137h1v1h-1zM37 154h1v1h-1zM37 159h1v1h-1zM38 1h1v1h-1zM38 17h1v1h-1zM38 26h1v1h-1zM38 34h1v2h-1zM38 49h1v1h-1zM38 70h1v1h-1zM38 84h1v1h-1zM38 91h1v1h-1zM38 99h1v1h-1zM38 102h1v2h-1zM38 109h1v1h-1zM38 113h1v1h-1zM38 116h1v1h-1zM38 119h1v1h-1zM38 123h1v1h-1zM38 126h1v1h-1zM38 134h1v1h-1zM38 140h1v1h-1zM38 146h1v1h-1zM38 172h1v1h-1zM38 177h1v1h-1zM38 193h1v1h-1zM38 197h1v1h-1zM39 4h1v1h-1zM39 11h1v1h-1zM39 20h1v1h-1zM39 31h1v1h-1zM39 49h1v1h-1zM39 87h1v1h-1zM39 90h1v1h-1zM39 94h1v1h-1zM39 100h1v1h-1zM39 114h1v1h-1zM39 117h1v1h-1zM39 123h1v1h-1zM39 127h1v1h-1zM39 136h1v1h-1zM39 145h1v1h-1zM39 148h1v1h-1zM39 150h1v1h-1zM39 154h1v2h-1zM39 180h1v1h-1zM39 188h1v1h-1zM39 197h1v1h-1zM40 5h1v1h-1zM40 44h1v1h-1zM40 48h1v1h-1zM40 56h1v2h-1zM40 60h1v1h-1zM40 70h1v1h-1zM40 115h1v1h-1zM40 132h1v1h-1zM40 138h1v1h-1zM40 149h1v1h-1zM40 170h1v1h-1zM40 174h1v1h-1zM40 186h1v1h-1zM41 67h1v1h-1zM41 69h1v1h-1zM41 72h1v1h-1zM41 83h1v1h-1zM41 97h1v1h-1zM41 99h1v1h-1zM41 126h1v1h-1zM41 152h1v1h-1zM41 169h1v1h-1zM41 193h1v1h-1zM41 195h1v1h-1zM42 4h1v1h-1zM42 10h1v1h-1zM42 37h1v1h-1zM42 77h1v1h-1zM42 125h1v1h-1zM42 142h1v1h-1zM42 147h1v1h-1zM42 149h1v1h-1zM42 160h1v2h-1zM42 177h1v1h-1zM42 186h1v1h-1zM43 2h1v2h-1zM43 5h1v2h-1zM43 31h1v1h-1zM43 36h1v2h-1zM43 65h1v1h-1zM43 126h1v1h-1zM43 140h1v1h-1zM43 153h1v1h-1zM43 156h1v1h-1zM43 165h1v1h-1zM43 188h1v1h-1zM44 1h1v1h-1zM44 4h1v1h-1zM44 7h1v3h-1zM44 18h1v1h-1zM44 56h1v1h-1zM44 72h1v2h-1zM44 78h1v1h-1zM44 98h1v1h-1zM44 110h1v1h-1zM44 146h1v1h-1zM44 191h1v1h-1zM45 20h1v1h-1zM45 108h1v1h-1zM45 110h1v1h-1zM45 190h1v1h-1zM46 13h1v1h-1zM46 15h1v1h-1zM46 18h1v1h-1zM46 189h1v1h-1zM47 68h1v2h-1zM47 94h1v1h-1zM47 115h1v1h-1zM47 136h1v1h-1zM47 149h1v1h-1zM48 120h1v1h-1zM48 143h1v1h-1zM48 162h1v1h-1zM48 179h1v1h-1zM49 118h1v1h-1zM49 137h1v1h-1zM49 139h1v1h-1zM49 168h1v1h-1zM50 23h1v1h-1zM50 172h1v1h-1zM51 22h1v1h-1zM51 82h1v1h-1zM51 134h1v1h-1zM51 146h1v1h-1zM51 157h1v1h-1zM51 172h1v1h-1zM52 84h1v1h-1zM53 89h1v1h-1zM53 109h1v1h-1zM53 118h1v2h-1zM53 174h1v1h-1zM54 13h1v1h-1zM54 127h1v1h-1zM55 34h1v2h-1zM55 38h1v1h-1zM55 48h1v1h-1zM56 122h1v1h-1zM56 181h1v1h-1zM56 197h1v1h-1zM57 65h1v1h-1zM57 136h1v1h-1zM57 155h1v1h-1zM58 65h1v1h-1zM58 188h1v1h-1z"/>
<path fill="#ffe100" d="M0 22h1v2h-1zM0 35h1v1h-1zM0 48h1v1h-1zM0 72h1v1h-1zM0 86h1v1h-1zM0 93h1v1h-1zM0 132h1v1h-1zM0 153h1v1h-1zM0 177h1v1h-1zM0 183h1v1h-1zM0 185h1v1h-1zM0 193h1v1h-1zM0 195h1v1h-1zM33 105h1v1h-1zM34 23h1v1h-1zM35 85h1v1h-1zM36 62h1v1h-1zM36 90h1v1h-1zM36 166h1v1h-1zM37 21h1v1h-1zM37 39h1v1h-1zM37 43h1v1h-1zM37 47h1v2h-1zM37 69h1v1h-1zM37 97h1v1h-1zM37 160h1v1h-1zM37 195h1v1h-1zM38 6h1v1h-1zM38 45h1v1h-1zM38 53h1v2h-1zM38 57h1v1h-1zM38 60h1v1h-1zM38 62h1v1h-1zM38 64h1v1h-1zM38 77h1v1h-1zM38 93h1v1h-1zM38 100h1v1h-1zM38 117h1v2h-1zM38 120h1v1h-1zM38 122h1v1h-1zM38 125h1v1h-1zM38 155h1v1h-1zM38 181h1v1h-1zM38 190h1v1h-1zM38 195h1v1h-1zM39 2h1v1h-1zM39 7h1v1h-1zM39 17h1v1h-1zM39 22h1v1h-1zM39 37h1v1h-1zM39 44h1v1h-1zM39 51h1v1h-1zM39 58h1v1h-1zM39 65h1v1h-1zM39 71h1v1h-1zM39 78h1v1h-1zM39 80h1v1h-1zM39 92h1v1h-1zM39 99h1v1h-1zM39 101h1v1h-1zM39 113h1v1h-1zM39 116h1v1h-1zM39 120h1v1h-1zM39 122h1v1h-1zM39 133h1v1h-1zM39 143h1v1h-1zM39 146h1v1h-1zM39 162h1v1h-1zM39 174h1v1h-1zM40 21h1v1h-1zM40 32h1v1h-1zM40 35h1v1h-1zM40 51h1v1h-1zM40 61h1v1h-1zM40 68h1v1h-1zM40 71h1v1h-1zM40 100h1v1h-1zM40 110h1v1h-1zM40 134h1v1h-1zM40 139h1v1h-1zM40 192h1v1h-1zM40 194h1v1h-1zM41 3h1v1h-1zM41 47h1v1h-1zM41 76h1v1h-1zM41 107h1v1h-1zM41 119h1v1h-1zM41 128h1v1h-1zM41 131h1v2h-1zM41 160h1v1h-1zM41 162h1v2h-1zM41 165h1v1h-1zM41 178h1v1h-1zM41 180h1v1h-1zM41 188h1v1h-1zM41 190h1v1h-1zM42 1h1v1h-1zM42 6h1v1h-1zM42 11h1v1h-1zM42 13h1v1h-1zM42 16h1v1h-1zM42 45h1v1h-1zM42 58h1v1h-1zM42 91h1v1h-1zM42 95h1v1h-1zM42 97h1v1h-1zM42 101h1v1h-1zM42 152h1v1h-1zM42 171h1v1h-1zM42 174h1v1h-1zM42 196h1v1h-1zM43 9h1v3h-1zM43 14h1v1h-1zM43 35h1v1h-1zM43 39h1v1h-1zM43 51h1v1h-1zM43 175h1v2h-1zM43 182h1v1h-1zM43 191h1v1h-1zM44 77h1v1h-1zM44 133h1v1h-1zM44 135h1v1h-1zM44 158h1v2h-1zM44 175h1v1h-1zM44 185h1v1h-1zM45 134h1v1h-1zM45 144h1v1h-1zM46 171h1v1h-1zM47 110h1v1h-1zM47 129h1v1h-1zM48 4h1v2h-1zM48 74h1v1h-1zM48 111h1v1h-1zM48 140h1v1h-1zM48 166h1v1h-1zM50 17h1v1h-1zM50 133h1v1h-1zM50 147h1v1h-1zM51 29h1v1h-1zM51 55h1v1h-1zM51 67h1v1h-1zM51 78h1v1h-1zM51 100h1v1h-1zM52 40h1v1h-1zM53 23h1v1h-1zM53 37h1v1h-1zM53 117h1v1h-1zM53 123h1v1h-1zM54 46h1v1h-1zM54 65h1v1h-1zM55 33h1v1h-1zM55 68h1v1h-1zM56 77h1v1h-1zM56 115h1v1h-1zM56 168h1v1h-1zM57 13h1v1h-1zM57 30h1v1h-1zM57 86h1v1h-1zM57 111h1v1h-1zM57 152h1v1h-1zM58 26h1v1h-1zM58 147h1v1h-1z"/>
<path fill="#ffcf00" d="M0 3h1v1h-1zM0 21h1v1h-1zM0 50h1v2h-1zM0 62h1v1h-1zM0 65h1v2h-1zM0 81h1v1h-1zM0 83h1v2h-1zM0 90h1v2h-1zM0 96h1v1h-1zM0 140h1v1h-1zM0 154h1v1h-1zM0 180h1v2h-1zM0 186h1v1h-1zM1 1h1v1h-1zM1 3h1v1h-1zM21 194h1v1h-1zM33 57h1v1h-1zM33 85h1v1h-1zM34 134h1v1h-1zM35 52h1v1h-1zM35 99h1v1h-1zM35 170h1v1h-1zM35 193h1v1h-1zM36 9h1v1h-1zM36 57h1v1h-1zM36 61h1v1h-1zM36 71h1v1h-1zM36 85h1v1h-1zM36 125h1v1h-1zM36 178h1v1h-1zM36 182h1v1h-1zM37 7h1v1h-1zM37 9h1v1h-1zM37 16h1v1h-1zM37 20h1v1h-1zM37 23h1v2h-1zM37 36h1v1h-1zM37 40h1v1h-1zM37 66h1v1h-1zM37 76h1v1h-1zM37 108h1v1h-1zM37 120h1v1h-1zM37 136h1v1h-1zM37 162h1v3h-1zM37 173h1v1h-1zM37 182h1v1h-1zM37 192h1v1h-1zM38 4h1v1h-1zM38 13h1v1h-1zM38 15h1v1h-1zM38 18h1v1h-1zM38 23h1v2h-1zM38 58h1v1h-1zM38 65h1v1h-1zM38 72h1v1h-1zM38 76h1v1h-1zM38 81h1v1h-1zM38 83h1v1h-1zM38 88h1v2h-1zM38 106h1v1h-1zM38 112h1v1h-1zM38 158h1v1h-1zM38 169h1v1h-1zM39 1h1v1h-1zM39 10h1v1h-1zM39 14h1v1h-1zM39 19h1v1h-1zM39 25h1v1h-1zM39 36h1v1h-1zM39 42h1v1h-1zM39 45h1v1h-1zM39 47h1v2h-1zM39 56h1v1h-1zM39 60h1v1h-1zM39 62h1v1h-1zM39 72h1v1h-1zM39 74h1v1h-1zM39 79h1v1h-1zM39 121h1v1h-1zM39 131h1v2h-1zM39 149h1v1h-1zM39 152h1v2h-1zM39 157h1v1h-1zM39 169h1v1h-1zM39 181h1v1h-1zM39 194h1v1h-1zM40 11h1v1h-1zM40 15h1v1h-1zM40 25h1v2h-1zM40 33h1v1h-1zM40 45h1v1h-1zM40 78h1v1h-1zM40 82h1v1h-1zM40 135h1v1h-1zM40 172h1v1h-1zM40 183h1v1h-1zM40 187h1v1h-1zM41 1h1v1h-1zM41 35h1v1h-1zM41 84h1v1h-1zM41 94h1v1h-1zM41 149h1v1h-1zM41 185h1v1h-1zM41 189h1v1h-1zM41 192h1v1h-1zM42 70h1v1h-1zM42 102h1v1h-1zM42 107h1v1h-1zM42 130h1v1h-1zM42 154h1v1h-1zM42 169h1v1h-1zM42 184h1v1h-1zM43 24h1v1h-1zM43 32h1v1h-1zM43 160h1v1h-1zM43 178h1v1h-1zM44 2h1v1h-1zM44 5h1v1h-1zM44 15h1v1h-1zM44 132h1v1h-1zM44 181h1v1h-1zM44 197h1v1h-1zM45 185h1v1h-1zM46 107h1v1h-1zM47 70h1v1h-1zM48 67h1v1h-1zM48 93h1v1h-1zM48 103h1v1h-1zM48 109h1v2h-1zM48 124h1v2h-1zM48 139h1v1h-1zM48 165h1v1h-1zM48 180h1v1h-1zM50 24h1v1h-1zM50 168h1v1h-1zM51 30h1v1h-1zM53 86h1v1h-1zM53 122h1v1h-1zM54 99h1v1h-1zM54 131h1v1h-1zM55 27h1v1h-1zM56 187h1v1h-1zM57 154h1v1h-1zM58 123h1v1h-1z"/>
<path fill="#ffbb00" d="M0 18h1v1h-1zM0 26h1v1h-1zM0 40h1v1h-1zM0 45h1v1h-1zM0 58h1v2h-1zM0 63h1v1h-1zM0 89h1v1h-1zM0 97h1v1h-1zM0 100h1v1h-1zM0 108h1v3h-1zM0 133h1v3h-1zM0 175h1v1h-1zM0 192h1v1h-1zM0 194h1v1h-1zM8 94h1v1h-1zM29 142h1v1h-1zM33 16h1v2h-1zM33 41h1v1h-1zM33 117h1v1h-1zM33 129h1v2h-1zM33 166h1v1h-1zM34 17h1v1h-1zM34 19h1v1h-1zM34 36h1v1h-1zM34 103h1v1h-1zM34 117h1v1h-1zM34 186h1v1h-1zM34 189h1v1h-1zM34 192h1v1h-1zM35 16h1v1h-1zM35 31h1v1h-1zM35 41h1v1h-1zM35 54h1v1h-1zM35 123h1v1h-1zM35 125h1v1h-1zM35 160h1v1h-1zM35 182h1v1h-1zM35 194h1v2h-1zM36 4h1v2h-1zM36 8h1v1h-1zM36 17h1v1h-1zM36 25h1v1h-1zM36 48h1v1h-1zM36 51h1v2h-1zM36 55h1v1h-1zM36 70h1v1h-1zM36 72h1v1h-1zM36 122h1v1h-1zM36 150h1v1h-1zM36 180h1v1h-1zM36 195h1v1h-1zM37 17h1v1h-1zM37 29h1v1h-1zM37 35h1v1h-1zM37 38h1v1h-1zM37 65h1v1h-1zM37 67h1v1h-1zM37 116h1v1h-1zM37 128h1v1h-1zM37 145h1v1h-1zM37 147h1v1h-1zM37 149h1v1h-1zM37 166h1v1h-1zM37 172h1v1h-1zM37 176h1v1h-1zM37 181h1v1h-1zM37 186h1v1h-1zM37 194h1v1h-1zM38 2h1v1h-1zM38 11h1v1h-1zM38 22h1v1h-1zM38 25h1v1h-1zM38 27h1v2h-1zM38 44h1v1h-1zM38 67h1v1h-1zM38 74h1v1h-1zM38 80h1v1h-1zM38 107h1v1h-1zM38 124h1v1h-1zM38 139h1v1h-1zM38 142h1v1h-1zM38 149h1v1h-1zM38 164h1v1h-1zM38 166h1v1h-1zM38 170h1v1h-1zM38 179h1v1h-1zM38 185h1v1h-1zM39 0h1v1h-1zM39 6h1v1h-1zM39 8h1v1h-1zM39 73h1v1h-1zM39 76h1v1h-1zM39 115h1v1h-1zM39 118h1v1h-1zM39 128h1v2h-1zM39 138h1v1h-1zM39 142h1v1h-1zM39 184h1v1h-1zM39 195h1v1h-1zM40 2h1v1h-1zM40 4h1v1h-1zM40 9h1v1h-1zM40 64h1v1h-1zM40 67h1v1h-1zM40 73h1v1h-1zM40 113h1v2h-1zM40 130h1v1h-1zM40 168h1v1h-1zM40 188h1v1h-1zM41 23h1v1h-1zM41 46h1v1h-1zM41 54h1v1h-1zM41 86h1v1h-1zM41 148h1v1h-1zM41 156h1v1h-1zM41 175h1v1h-1zM42 5h1v1h-1zM42 8h1v1h-1zM42 14h1v1h-1zM42 69h1v1h-1zM42 80h1v1h-1zM42 87h1v1h-1zM42 100h1v1h-1zM42 103h1v1h-1zM42 106h1v1h-1zM42 165h1v1h-1zM43 20h1v1h-1zM43 22h1v1h-1zM43 63h1v1h-1zM43 174h1v1h-1zM44 19h1v1h-1zM44 51h1v1h-1zM44 123h1v1h-1zM44 161h1v1h-1zM44 174h1v1h-1zM44 177h1v1h-1zM45 18h1v1h-1zM45 58h1v1h-1zM47 132h1v1h-1zM47 172h1v1h-1zM48 58h1v1h-1zM48 66h1v1h-1zM48 71h1v1h-1zM48 101h1v1h-1zM48 104h1v1h-1zM48 131h1v1h-1zM49 181h1v1h-1zM50 18h1v1h-1zM50 192h1v1h-1zM50 196h1v1h-1zM51 68h1v1h-1zM52 54h1v1h-1zM52 56h1v1h-1zM53 105h1v1h-1zM53 142h1v1h-1zM54 126h1v1h-1zM54 130h1v1h-1zM55 120h1v1h-1zM56 121h1v1h-1zM56 123h1v1h-1zM56 144h1v1h-1zM57 42h1v1h-1zM57 58h1v1h-1zM57 149h1v1h-1z"/>
<path fill="#ffa400" d="M0 1h1v1h-1zM0 20h1v1h-1zM0 27h1v1h-1zM0 30h1v1h-1zM0 87h1v2h-1zM0 98h1v1h-1zM0 151h1v1h-1zM0 176h1v1h-1zM33 14h1v1h-1zM33 19h1v2h-1zM33 31h1v1h-1zM33 46h1v1h-1zM33 52h1v2h-1zM33 71h1v1h-1zM33 74h1v1h-1zM33 88h1v1h-1zM33 106h1v1h-1zM33 141h1v1h-1zM33 167h1v1h-1zM33 173h1v1h-1zM34 16h1v1h-1zM34 37h1v2h-1zM34 46h1v2h-1zM34 52h1v2h-1zM34 61h1v1h-1zM34 80h1v1h-1zM34 88h1v3h-1zM34 104h1v1h-1zM34 125h1v1h-1zM34 129h1v2h-1zM34 132h1v1h-1zM34 147h1v1h-1zM34 160h1v1h-1zM34 182h1v1h-1zM35 5h1v3h-1zM35 13h1v2h-1zM35 17h1v1h-1zM35 22h1v1h-1zM35 25h1v1h-1zM35 29h1v1h-1zM35 32h1v1h-1zM35 36h1v1h-1zM35 38h1v1h-1zM35 40h1v1h-1zM35 46h1v1h-1zM35 49h1v1h-1zM35 57h1v1h-1zM35 71h1v1h-1zM35 82h1v1h-1zM35 86h1v1h-1zM35 97h1v1h-1zM35 103h1v1h-1zM35 121h1v1h-1zM35 124h1v1h-1zM35 129h1v1h-1zM35 159h1v1h-1zM35 168h1v1h-1zM35 173h1v1h-1zM35 192h1v1h-1zM36 3h1v1h-1zM36 11h1v1h-1zM36 16h1v1h-1zM36 19h1v1h-1zM36 27h1v2h-1zM36 31h1v1h-1zM36 36h1v1h-1zM36 41h1v1h-1zM36 47h1v1h-1zM36 63h1v2h-1zM36 101h1v1h-1zM36 103h1v1h-1zM36 108h1v1h-1zM36 123h1v2h-1zM36 126h1v1h-1zM36 128h1v2h-1zM36 143h1v2h-1zM36 155h1v1h-1zM36 162h1v2h-1zM36 167h1v1h-1zM36 179h1v1h-1zM36 187h1v1h-1zM36 194h1v1h-1zM37 8h1v1h-1zM37 11h1v1h-1zM37 28h1v1h-1zM37 33h1v2h-1zM37 37h1v1h-1zM37 51h1v2h-1zM37 64h1v1h-1zM37 99h1v1h-1zM37 106h1v2h-1zM37 119h1v1h-1zM37 121h1v1h-1zM37 127h1v1h-1zM37 148h1v1h-1zM37 165h1v1h-1zM37 167h1v1h-1zM37 175h1v1h-1zM37 178h1v1h-1zM37 191h1v1h-1zM37 193h1v1h-1zM37 197h1v1h-1zM38 5h1v1h-1zM38 19h1v1h-1zM38 51h1v1h-1zM38 55h1v1h-1zM38 59h1v1h-1zM38 87h1v1h-1zM38 90h1v1h-1zM38 130h1v1h-1zM38 133h1v1h-1zM38 160h1v1h-1zM38 162h1v1h-1zM39 15h1v1h-1zM39 54h1v1h-1zM39 61h1v1h-1zM39 75h1v1h-1zM39 83h1v1h-1zM39 91h1v1h-1zM39 93h1v1h-1zM39 141h1v1h-1zM40 1h1v1h-1zM40 43h1v1h-1zM40 63h1v1h-1zM41 11h1v1h-1zM41 39h1v1h-1zM41 51h1v1h-1zM41 81h1v1h-1zM41 87h1v1h-1zM41 121h1v1h-1zM41 146h1v1h-1zM41 151h1v1h-1zM41 154h1v1h-1zM41 177h1v1h-1zM41 179h1v1h-1zM41 181h1v1h-1zM42 18h1v1h-1zM42 55h1v1h-1zM42 63h1v1h-1zM42 68h1v1h-1zM42 105h1v1h-1zM42 127h1v2h-1zM42 132h1v1h-1zM42 155h1v1h-1zM42 168h1v1h-1zM42 182h1v1h-1zM43 13h1v1h-1zM43 23h1v1h-1zM43 33h1v1h-1zM43 83h1v1h-1zM43 162h1v1h-1zM43 187h1v1h-1zM43 189h1v1h-1zM44 3h1v1h-1zM44 122h1v1h-1zM47 131h1v1h-1zM48 64h1v1h-1zM48 69h1v1h-1zM48 72h1v1h-1zM48 76h1v1h-1zM48 79h1v1h-1zM48 88h1v1h-1zM48 105h1v1h-1zM48 107h1v1h-1zM48 112h1v1h-1zM48 115h1v1h-1zM49 138h1v1h-1zM50 191h1v1h-1zM51 58h1v1h-1zM54 30h1v1h-1zM55 39h1v1h-1zM55 174h1v1h-1zM58 157h1v1h-1zM58 179h1v1h-1z"/>
<path fill="#ff8d00" d="M0 2h1v1h-1zM0 19h1v1h-1zM0 53h1v1h-1zM0 94h1v1h-1zM0 99h1v1h-1zM0 112h1v1h-1zM0 116h1v2h-1zM0 196h1v1h-1zM8 45h1v1h-1zM33 23h1v1h-1zM33 25h1v1h-1zM33 47h1v1h-1zM33 49h1v1h-1zM33 58h1v1h-1zM33 65h1v1h-1zM33 72h1v1h-1zM33 87h1v1h-1zM33 107h1v3h-1zM33 113h1v1h-1zM33 116h1v1h-1zM33 132h1v1h-1zM33 134h1v1h-1zM33 136h1v2h-1zM33 140h1v1h-1zM33 148h1v1h-1zM33 156h1v1h-1zM33 175h1v1h-1zM33 178h1v1h-1zM33 187h1v1h-1zM33 189h1v2h-1zM33 192h1v1h-1zM33 194h1v1h-1zM34 1h1v1h-1zM34 7h1v1h-1zM34 9h1v1h-1zM34 20h1v1h-1zM34 28h1v1h-1zM34 32h1v2h-1zM34 39h1v1h-1zM34 55h1v1h-1zM34 62h1v1h-1zM34 81h1v1h-1zM34 87h1v1h-1zM34 102h1v1h-1zM34 109h1v1h-1zM34 114h1v2h-1zM34 118h1v1h-1zM34 122h1v2h-1zM34 126h1v1h-1zM34 131h1v1h-1zM34 135h1v1h-1zM34 141h1v1h-1zM34 148h1v1h-1zM34 158h1v2h-1zM34 166h1v2h-1zM34 180h1v1h-1zM34 187h1v1h-1zM34 194h1v3h-1zM35 19h1v2h-1zM35 23h1v1h-1zM35 26h1v1h-1zM35 28h1v1h-1zM35 33h1v1h-1zM35 39h1v1h-1zM35 42h1v2h-1zM35 83h1v2h-1zM35 90h1v1h-1zM35 98h1v1h-1zM35 102h1v1h-1zM35 106h1v2h-1zM35 109h1v1h-1zM35 111h1v1h-1zM35 113h1v1h-1zM35 116h1v1h-1zM35 122h1v1h-1zM35 134h1v1h-1zM35 141h1v1h-1zM35 143h1v1h-1zM35 171h1v2h-1zM35 175h1v1h-1zM35 180h1v1h-1zM35 191h1v1h-1zM36 2h1v1h-1zM36 10h1v1h-1zM36 18h1v1h-1zM36 22h1v1h-1zM36 24h1v1h-1zM36 26h1v1h-1zM36 32h1v2h-1zM36 35h1v1h-1zM36 38h1v1h-1zM36 46h1v1h-1zM36 49h1v1h-1zM36 53h1v2h-1zM36 60h1v1h-1zM36 65h1v1h-1zM36 67h1v1h-1zM36 69h1v1h-1zM36 74h1v2h-1zM36 89h1v1h-1zM36 91h1v1h-1zM36 94h1v1h-1zM36 102h1v1h-1zM36 104h1v1h-1zM36 127h1v1h-1zM36 132h1v1h-1zM36 134h1v1h-1zM36 138h1v2h-1zM36 148h1v1h-1zM36 153h1v1h-1zM36 165h1v1h-1zM36 176h1v1h-1zM36 181h1v1h-1zM36 184h1v1h-1zM36 186h1v1h-1zM36 192h1v1h-1zM37 10h1v1h-1zM37 31h1v1h-1zM37 42h1v1h-1zM37 53h1v1h-1zM37 103h1v1h-1zM37 105h1v1h-1zM37 117h1v1h-1zM37 138h1v1h-1zM37 151h1v1h-1zM37 155h1v1h-1zM37 157h1v2h-1zM37 174h1v1h-1zM37 177h1v1h-1zM37 184h1v1h-1zM37 188h1v2h-1zM37 196h1v1h-1zM38 7h1v1h-1zM38 52h1v1h-1zM38 73h1v1h-1zM38 92h1v1h-1zM38 127h1v1h-1zM38 131h1v2h-1zM38 136h1v3h-1zM38 163h1v1h-1zM38 165h1v1h-1zM38 196h1v1h-1zM39 24h1v1h-1zM39 40h1v1h-1zM39 63h1v1h-1zM39 77h1v1h-1zM39 119h1v1h-1zM39 130h1v1h-1zM39 190h1v1h-1zM39 196h1v1h-1zM40 28h1v1h-1zM40 59h1v1h-1zM40 65h1v2h-1zM40 131h1v1h-1zM40 166h1v1h-1zM41 22h1v1h-1zM41 27h1v1h-1zM41 45h1v1h-1zM41 52h1v2h-1zM41 75h1v1h-1zM41 82h1v1h-1zM41 92h1v1h-1zM41 95h1v1h-1zM41 120h1v1h-1zM41 133h1v1h-1zM41 157h1v1h-1zM41 176h1v1h-1zM41 191h1v1h-1zM42 9h1v1h-1zM42 67h1v1h-1zM42 98h1v1h-1zM42 129h1v1h-1zM42 131h1v1h-1zM42 151h1v1h-1zM42 183h1v1h-1zM43 15h1v1h-1zM43 40h1v1h-1zM43 72h1v1h-1zM43 155h1v1h-1zM43 161h1v1h-1zM43 177h1v1h-1zM48 2h1v1h-1zM48 61h1v1h-1zM48 65h1v1h-1zM48 80h1v3h-1zM48 86h1v2h-1zM48 90h1v1h-1zM48 92h1v1h-1zM48 99h1v1h-1zM48 106h1v1h-1zM48 108h1v1h-1zM48 117h1v1h-1zM48 123h1v1h-1zM48 128h1v1h-1zM48 130h1v1h-1zM49 13h1v1h-1zM49 89h1v1h-1zM54 45h1v1h-1zM58 117h1v1h-1z"/>
<path fill="#ff7700" d="M0 49h1v1h-1zM0 150h1v1h-1zM33 13h1v1h-1zM33 26h1v1h-1zM33 32h1v1h-1zM33 36h1v1h-1zM33 43h1v1h-1zM33 48h1v1h-1zM33 59h1v1h-1zM33 61h1v1h-1zM33 67h1v1h-1zM33 70h1v1h-1zM33 73h1v1h-1zM33 75h1v1h-1zM33 79h1v2h-1zM33 82h1v1h-1zM33 86h1v1h-1zM33 93h1v1h-1zM33 95h1v1h-1zM33 99h1v1h-1zM33 101h1v1h-1zM33 103h1v2h-1zM33 114h1v2h-1zM33 128h1v1h-1zM33 135h1v1h-1zM33 139h1v1h-1zM33 143h1v1h-1zM33 155h1v1h-1zM33 160h1v2h-1zM33 164h1v2h-1zM33 176h1v2h-1zM33 195h1v1h-1zM33 197h1v1h-1zM34 2h1v1h-1zM34 6h1v1h-1zM34 8h1v1h-1zM34 10h1v2h-1zM34 13h1v2h-1zM34 21h1v1h-1zM34 31h1v1h-1zM34 35h1v1h-1zM34 41h1v1h-1zM34 48h1v3h-1zM34 60h1v1h-1zM34 74h1v1h-1zM34 76h1v2h-1zM34 82h1v1h-1zM34 85h1v1h-1zM34 105h1v2h-1zM34 108h1v1h-1zM34 119h1v2h-1zM34 127h1v2h-1zM34 133h1v1h-1zM34 136h1v2h-1zM34 145h1v2h-1zM34 156h1v1h-1zM34 162h1v1h-1zM34 170h1v1h-1zM34 172h1v2h-1zM34 178h1v1h-1zM34 184h1v1h-1zM34 190h1v2h-1zM35 1h1v2h-1zM35 11h1v1h-1zM35 15h1v1h-1zM35 21h1v1h-1zM35 27h1v1h-1zM35 30h1v1h-1zM35 34h1v2h-1zM35 44h1v1h-1zM35 50h1v2h-1zM35 59h1v2h-1zM35 62h1v1h-1zM35 70h1v1h-1zM35 74h1v1h-1zM35 81h1v1h-1zM35 87h1v2h-1zM35 92h1v1h-1zM35 96h1v1h-1zM35 100h1v2h-1zM35 114h1v1h-1zM35 117h1v1h-1zM35 120h1v1h-1zM35 126h1v3h-1zM35 130h1v1h-1zM35 137h1v1h-1zM35 142h1v1h-1zM35 144h1v1h-1zM35 158h1v1h-1zM35 166h1v2h-1zM35 169h1v1h-1zM35 181h1v1h-1zM35 190h1v1h-1zM35 196h1v1h-1zM36 1h1v1h-1zM36 7h1v1h-1zM36 20h1v2h-1zM36 29h1v2h-1zM36 37h1v1h-1zM36 43h1v1h-1zM36 45h1v1h-1zM36 50h1v1h-1zM36 58h1v1h-1zM36 73h1v1h-1zM36 81h1v2h-1zM36 84h1v1h-1zM36 92h1v1h-1zM36 95h1v1h-1zM36 97h1v4h-1zM36 105h1v1h-1zM36 107h1v1h-1zM36 109h1v1h-1zM36 112h1v1h-1zM36 115h1v1h-1zM36 117h1v1h-1zM36 119h1v1h-1zM36 121h1v1h-1zM36 130h1v1h-1zM36 141h1v1h-1zM36 145h1v1h-1zM36 149h1v1h-1zM36 151h1v2h-1zM36 156h1v1h-1zM36 164h1v1h-1zM36 170h1v1h-1zM36 172h1v1h-1zM36 175h1v1h-1zM36 177h1v1h-1zM36 185h1v1h-1zM36 190h1v1h-1zM37 18h1v1h-1zM37 26h1v2h-1zM37 46h1v1h-1zM37 61h1v1h-1zM37 80h1v1h-1zM37 109h1v1h-1zM37 111h1v5h-1zM37 130h1v4h-1zM37 135h1v1h-1zM37 139h1v2h-1zM37 143h1v2h-1zM37 153h1v1h-1zM37 161h1v1h-1zM37 168h1v1h-1zM38 20h1v1h-1zM38 68h1v1h-1zM38 143h1v1h-1zM38 167h1v2h-1zM38 171h1v1h-1zM39 18h1v1h-1zM39 35h1v1h-1zM39 64h1v1h-1zM39 112h1v1h-1zM39 140h1v1h-1zM40 27h1v1h-1zM40 77h1v1h-1zM40 153h1v1h-1zM41 40h1v1h-1zM41 93h1v1h-1zM41 98h1v1h-1zM41 155h1v1h-1zM41 161h1v1h-1zM43 1h1v1h-1zM43 193h1v1h-1zM44 188h1v1h-1zM48 68h1v1h-1zM48 73h1v1h-1zM48 77h1v2h-1zM48 89h1v1h-1zM48 91h1v1h-1zM48 95h1v1h-1zM48 97h1v2h-1zM48 102h1v1h-1zM48 113h1v1h-1zM48 116h1v1h-1zM48 118h1v1h-1zM48 121h1v1h-1zM53 13h1v1h-1z"/>
<path fill="#ff6700" d="M0 52h1v1h-1zM0 114h1v1h-1zM0 149h1v1h-1zM33 1h1v1h-1zM33 18h1v1h-1zM33 21h1v2h-1zM33 29h1v1h-1zM33 33h1v3h-1zM33 37h1v2h-1zM33 40h1v1h-1zM33 42h1v1h-1zM33 44h1v2h-1zM33 54h1v1h-1zM33 62h1v1h-1zM33 64h1v1h-1zM33 69h1v1h-1zM33 76h1v1h-1zM33 78h1v1h-1zM33 81h1v1h-1zM33 89h1v2h-1zM33 92h1v1h-1zM33 94h1v1h-1zM33 96h1v1h-1zM33 98h1v1h-1zM33 100h1v1h-1zM33 102h1v1h-1zM33 118h1v1h-1zM33 123h1v3h-1zM33 131h1v1h-1zM33 138h1v1h-1zM33 144h1v1h-1zM33 150h1v1h-1zM33 154h1v1h-1zM33 158h1v2h-1zM33 162h1v2h-1zM33 168h1v1h-1zM33 170h1v1h-1zM33 172h1v1h-1zM33 180h1v2h-1zM33 184h1v1h-1zM33 186h1v1h-1zM33 191h1v1h-1zM33 193h1v1h-1zM33 196h1v1h-1zM34 3h1v3h-1zM34 15h1v1h-1zM34 18h1v1h-1zM34 34h1v1h-1zM34 40h1v1h-1zM34 45h1v1h-1zM34 51h1v1h-1zM34 57h1v1h-1zM34 59h1v1h-1zM34 67h1v1h-1zM34 69h1v1h-1zM34 71h1v1h-1zM34 78h1v1h-1zM34 91h1v2h-1zM34 97h1v1h-1zM34 107h1v1h-1zM34 111h1v2h-1zM34 121h1v1h-1zM34 124h1v1h-1zM34 139h1v2h-1zM34 143h1v2h-1zM34 149h1v2h-1zM34 155h1v1h-1zM34 157h1v1h-1zM34 171h1v1h-1zM35 3h1v2h-1zM35 8h1v1h-1zM35 10h1v1h-1zM35 18h1v1h-1zM35 37h1v1h-1zM35 45h1v1h-1zM35 47h1v2h-1zM35 58h1v1h-1zM35 61h1v1h-1zM35 65h1v1h-1zM35 77h1v1h-1zM35 93h1v1h-1zM35 95h1v1h-1zM35 104h1v2h-1zM35 115h1v1h-1zM35 118h1v1h-1zM35 132h1v1h-1zM35 145h1v1h-1zM35 148h1v1h-1zM35 151h1v1h-1zM35 153h1v1h-1zM35 155h1v3h-1zM35 161h1v1h-1zM35 164h1v2h-1zM35 176h1v1h-1zM35 179h1v1h-1zM35 186h1v1h-1zM35 189h1v1h-1zM36 6h1v1h-1zM36 13h1v2h-1zM36 39h1v1h-1zM36 56h1v1h-1zM36 80h1v1h-1zM36 86h1v1h-1zM36 88h1v1h-1zM36 93h1v1h-1zM36 106h1v1h-1zM36 113h1v1h-1zM36 116h1v1h-1zM36 120h1v1h-1zM36 135h1v3h-1zM36 147h1v1h-1zM36 154h1v1h-1zM36 159h1v1h-1zM36 169h1v1h-1zM36 171h1v1h-1zM36 173h1v1h-1zM36 183h1v1h-1zM36 191h1v1h-1zM36 193h1v1h-1zM37 30h1v1h-1zM37 54h1v1h-1zM37 58h1v1h-1zM37 62h1v1h-1zM37 68h1v1h-1zM37 118h1v1h-1zM37 141h1v1h-1zM37 146h1v1h-1zM37 152h1v1h-1zM37 169h1v1h-1zM37 183h1v1h-1zM38 30h1v1h-1zM38 66h1v1h-1zM38 135h1v1h-1zM38 161h1v1h-1zM39 34h1v1h-1zM39 185h1v1h-1zM40 154h1v1h-1zM40 193h1v1h-1zM41 96h1v1h-1zM41 147h1v1h-1zM42 59h1v3h-1zM42 79h1v1h-1zM42 138h1v1h-1zM42 185h1v1h-1zM43 4h1v1h-1zM45 179h1v2h-1zM47 21h1v1h-1zM47 133h1v1h-1zM48 3h1v1h-1zM48 59h1v2h-1zM48 63h1v1h-1zM48 85h1v1h-1zM48 96h1v1h-1zM48 141h1v1h-1zM50 100h1v1h-1z"/>
<path fill="#ff5700" d="M0 104h1v1h-1zM33 15h1v1h-1zM33 28h1v1h-1zM33 39h1v1h-1zM33 50h1v2h-1zM33 56h1v1h-1zM33 63h1v1h-1zM33 83h1v2h-1zM33 91h1v1h-1zM33 110h1v3h-1zM33 119h1v3h-1zM33 126h1v2h-1zM33 133h1v1h-1zM33 142h1v1h-1zM33 149h1v1h-1zM33 153h1v1h-1zM33 157h1v1h-1zM33 169h1v1h-1zM33 174h1v1h-1zM33 179h1v1h-1zM33 188h1v1h-1zM34 0h1v1h-1zM34 22h1v1h-1zM34 24h1v1h-1zM34 26h1v1h-1zM34 42h1v1h-1zM34 44h1v1h-1zM34 54h1v1h-1zM34 68h1v1h-1zM34 75h1v1h-1zM34 79h1v1h-1zM34 83h1v1h-1zM34 95h1v2h-1zM34 98h1v3h-1zM34 110h1v1h-1zM34 142h1v1h-1zM34 153h1v1h-1zM34 163h1v2h-1zM34 168h1v2h-1zM34 175h1v1h-1zM34 179h1v1h-1zM34 181h1v1h-1zM34 193h1v1h-1zM34 197h1v1h-1zM35 0h1v1h-1zM35 9h1v1h-1zM35 24h1v1h-1zM35 56h1v1h-1zM35 63h1v2h-1zM35 66h1v2h-1zM35 69h1v1h-1zM35 72h1v1h-1zM35 75h1v2h-1zM35 80h1v1h-1zM35 89h1v1h-1zM35 112h1v1h-1zM35 119h1v1h-1zM35 135h1v1h-1zM35 138h1v1h-1zM35 140h1v1h-1zM35 150h1v1h-1zM35 152h1v1h-1zM35 154h1v1h-1zM35 162h1v1h-1zM35 177h1v2h-1zM35 183h1v2h-1zM35 187h1v2h-1zM36 0h1v1h-1zM36 23h1v1h-1zM36 34h1v1h-1zM36 40h1v1h-1zM36 42h1v1h-1zM36 59h1v1h-1zM36 66h1v1h-1zM36 68h1v1h-1zM36 83h1v1h-1zM36 87h1v1h-1zM36 111h1v1h-1zM36 114h1v1h-1zM36 118h1v1h-1zM36 133h1v1h-1zM36 158h1v1h-1zM36 188h1v1h-1zM37 57h1v1h-1zM37 59h1v1h-1zM37 96h1v1h-1zM37 126h1v1h-1zM37 156h1v1h-1zM37 170h1v2h-1zM37 185h1v1h-1zM37 187h1v1h-1zM37 190h1v1h-1zM38 56h1v1h-1zM39 26h1v1h-1zM42 15h1v1h-1zM42 104h1v1h-1zM44 16h1v1h-1zM48 94h1v1h-1zM48 100h1v1h-1zM48 114h1v1h-1zM48 119h1v1h-1zM48 142h1v1h-1z"/>
<path fill="#ff4800" d="M0 115h1v1h-1zM0 152h1v1h-1zM33 24h1v1h-1zM33 30h1v1h-1zM33 60h1v1h-1zM33 66h1v1h-1zM33 68h1v1h-1zM33 77h1v1h-1zM33 145h1v1h-1zM33 171h1v1h-1zM34 27h1v1h-1zM34 30h1v1h-1zM34 66h1v1h-1zM34 86h1v1h-1zM34 101h1v1h-1zM34 138h1v1h-1zM34 151h1v1h-1zM34 154h1v1h-1zM34 174h1v1h-1zM34 176h1v2h-1zM34 185h1v1h-1zM34 188h1v1h-1zM35 78h1v2h-1zM35 91h1v1h-1zM35 110h1v1h-1zM35 131h1v1h-1zM35 133h1v1h-1zM35 136h1v1h-1zM35 146h1v1h-1zM35 163h1v1h-1zM35 174h1v1h-1zM36 15h1v1h-1zM36 44h1v1h-1zM36 76h1v1h-1zM36 78h1v1h-1zM36 131h1v1h-1zM36 140h1v1h-1zM36 142h1v1h-1zM36 146h1v1h-1zM36 157h1v1h-1zM36 161h1v1h-1zM36 168h1v1h-1zM36 189h1v1h-1zM37 55h1v1h-1zM37 60h1v1h-1zM37 63h1v1h-1zM37 110h1v1h-1zM37 142h1v1h-1zM39 111h1v1h-1zM40 7h1v1h-1zM40 58h1v1h-1zM48 70h1v1h-1zM48 75h1v1h-1zM48 126h1v1h-1z"/>
<path fill="#ff3800" d="M33 27h1v1h-1zM33 147h1v1h-1zM34 43h1v1h-1zM34 56h1v1h-1zM34 58h1v1h-1zM34 63h1v3h-1zM34 70h1v1h-1zM34 72h1v1h-1zM34 84h1v1h-1zM34 93h1v2h-1zM34 152h1v1h-1zM34 165h1v1h-1zM35 68h1v1h-1zM35 73h1v1h-1zM35 139h1v1h-1zM35 185h1v1h-1zM35 197h1v1h-1zM36 77h1v1h-1zM36 79h1v1h-1zM36 96h1v1h-1zM36 160h1v1h-1zM36 174h1v1h-1zM36 197h1v1h-1zM37 104h1v1h-1zM39 139h1v1h-1zM40 167h1v1h-1zM48 84h1v1h-1zM48 127h1v1h-1zM54 49h1v1h-1zM54 79h1v1h-1z"/>
<path fill="#ff2800" d="M0 0h1v1h-1zM33 55h1v1h-1zM33 146h1v1h-1zM33 151h1v2h-1zM33 183h1v1h-1zM33 185h1v1h-1zM34 73h1v1h-1zM34 113h1v1h-1zM34 161h1v1h-1zM34 183h1v1h-1zM35 55h1v1h-1zM35 94h1v1h-1zM35 147h1v1h-1zM35 149h1v1h-1zM36 110h1v1h-1zM37 44h1v1h-1zM37 56h1v1h-1zM37 124h1v1h-1zM38 21h1v1h-1zM39 182h1v1h-1zM41 58h1v1h-1zM41 68h1v1h-1zM43 19h1v1h-1zM45 189h1v1h-1zM46 157h1v1h-1zM48 62h1v1h-1z"/>
</svg>
<path d="M26.25 31.75V29.92H28.60V31.75M27.42 29.92V28.15H30.96V31.75M33.31 31.75V29.91H35.67V31.75M38.03 31.75V29.17H40.38V31.75M39.20 29.17V28.14H42.74V31.75M45.09 31.75V28.03H47.45V31.75M49.81 31.75V28.95H52.16V31.75M50.98 28.95V27.74H54.52V31.75M56.87 31.75V29.15H59.23V31.75M61.58 31.75V29.05H63.94V31.75M62.76 29.05V27.70H66.30V31.75M68.65 31.75V29.20H71.01V31.75M73.36 31.75V29.67H75.72V31.75M74.54 29.67V28.16H78.08V31.75M80.43 31.75V29.36H82.79V31.75M85.14 31.75V28.94H87.50V31.75M86.32 28.94V27.85H89.86V31.75M92.21 31.75V30.14H94.57V31.75M88.09 27.85V27.00H93.39V30.14M81.61 29.36V26.50H90.74V27.00M76.31 28.16V26.00H86.17V26.50M69.83 29.20V25.50H81.24V26.00M64.53 27.70V25.00H75.54V25.50M58.05 29.15V24.50H70.03V25.00M52.75 27.74V24.00H64.04V24.50M46.27 28.03V23.50H58.40V24.00M40.97 28.14V23.00H52.33V23.50M34.49 29.91V22.50H46.65V23.00M29.19 28.15V22.00H40.57V22.50M19.18 31.75V21.25H34.88V22.00M21.53 31.75V21.25M23.89 31.75V21.25M96.92 31.75V28.73H99.28V31.75M101.64 31.75V28.48H103.99V31.75M98.10 28.73V27.62H102.81V28.48M108.70 31.75V30.16H111.06V31.75M113.42 31.75V28.28H115.77V31.75M114.59 28.28V27.16H118.13V31.75M120.48 31.75V28.16H122.84V31.75M125.19 31.75V28.49H127.55V31.75M126.37 28.49V27.30H129.91V31.75M132.26 31.75V29.97H134.62V31.75M136.97 31.75V28.76H139.33V31.75M138.15 28.76V26.98H141.69V31.75M144.04 31.75V28.06H146.40V31.75M148.75 31.75V28.77H151.11V31.75M153.47 31.75V28.84H155.82V31.75M149.93 28.77V27.21H154.64V28.84M145.22 28.06V26.50H152.29V27.21M139.92 26.98V25.63H148.75V26.50M133.44 29.97V24.76H144.34V25.63M128.14 27.30V23.89H138.89V24.76M121.66 28.16V23.01H133.51V23.89M116.36 27.16V22.14H127.59V23.01M109.88 30.16V21.27H121.97V22.14M106.35 31.75V20.40H115.93V21.27M100.46 27.62V19.3H111.14V20.40M27.03 21.25V13.25H105.80V19.3" stroke="#8c8c8c" stroke-width="0.75" fill="none"/>
<text x="10.20" y="223.50" font-size="13" text-anchor="middle" textLength="95.00" lengthAdjust="spacingAndGlyphs" transform="rotate(-90 10.20 223.50)">198 wheat lines</text>
<text x="92.20" y="435.20" font-size="10" font-weight="bold" text-anchor="middle" textLength="127.30" lengthAdjust="spacingAndGlyphs">Expression of 59 negatively</text>
<text x="92.20" y="448.10" font-size="10" font-weight="bold" text-anchor="middle" textLength="108.30" lengthAdjust="spacingAndGlyphs">correlated homoeologs</text>
<defs><linearGradient id="cba"><stop offset="0" stop-color="#3e4cb0"/><stop offset="0.15" stop-color="#4462c2"/><stop offset="0.19" stop-color="#48c0e6"/><stop offset="0.23" stop-color="#60c050"/><stop offset="0.33" stop-color="#78c440"/><stop offset="0.39" stop-color="#f0e040"/><stop offset="0.45" stop-color="#f59035"/><stop offset="0.55" stop-color="#f07040"/><stop offset="1" stop-color="#e63c3c"/></linearGradient><linearGradient id="cbb"><stop offset="0" stop-color="#e84840"/><stop offset="0.3" stop-color="#ee7038"/><stop offset="0.43" stop-color="#f0a040"/><stop offset="0.5" stop-color="#e0c048"/><stop offset="0.54" stop-color="#a8c850"/><stop offset="0.7" stop-color="#88c250"/><stop offset="1" stop-color="#62b048"/></linearGradient></defs>
<rect x="19.40" y="465.50" width="38.50" height="13.60" fill="url(#cba)"/>
<text x="20.00" y="462.80" font-size="9.6" text-anchor="middle">0</text>
<text x="31.00" y="462.80" font-size="9.6" text-anchor="middle">4</text>
<text x="44.70" y="462.80" font-size="9.6" text-anchor="middle">8</text>
<text x="57.30" y="462.80" font-size="9.6" text-anchor="middle">12</text>
<text x="62.60" y="476.40" font-size="10.2" font-weight="bold" textLength="61.50" lengthAdjust="spacingAndGlyphs">Log2(1+TPM)</text>
<svg x="168" y="35.5" width="103" height="388.5" viewBox="0 0 11 198" preserveAspectRatio="none" shape-rendering="crispEdges">
<path fill="#73da00" d="M0 88h1v1h-1zM1 88h1v1h-1zM2 88h1v1h-1zM6 1h1v1h-1zM9 75h1v1h-1z"/>
<path fill="#79dc00" d="M9 189h1v1h-1z"/>
<path fill="#7ede00" d="M8 4h1v1h-1zM9 191h1v1h-1z"/>
<path fill="#84e000" d="M0 48h1v1h-1zM3 36h1v1h-1zM3 132h1v1h-1zM4 21h1v1h-1z"/>
<path fill="#89e200" d="M2 184h1v1h-1zM3 17h1v1h-1zM3 56h1v1h-1zM3 110h1v1h-1zM3 119h1v1h-1zM3 191h1v1h-1zM4 33h1v1h-1zM9 150h1v1h-1z"/>
<path fill="#8fe400" d="M1 184h1v1h-1zM2 48h1v1h-1zM3 27h1v1h-1zM3 65h1v1h-1zM3 88h1v1h-1zM3 186h1v1h-1zM4 20h1v1h-1zM4 75h1v1h-1zM4 126h1v1h-1zM4 131h1v1h-1zM5 47h1v1h-1zM5 166h1v1h-1zM8 116h1v1h-1zM9 60h1v1h-1z"/>
<path fill="#94e700" d="M0 3h1v1h-1zM0 57h1v1h-1zM0 184h1v1h-1zM1 3h1v1h-1zM1 48h1v1h-1zM3 60h1v1h-1zM3 104h1v1h-1zM3 111h1v1h-1zM3 140h1v1h-1zM3 156h1v1h-1zM4 41h1v1h-1zM4 65h1v1h-1zM4 91h1v1h-1zM5 85h1v1h-1zM5 189h1v1h-1zM6 58h1v1h-1zM6 65h1v1h-1zM6 191h1v1h-1zM7 33h1v1h-1zM7 115h1v1h-1zM8 6h1v1h-1zM9 147h1v1h-1z"/>
<path fill="#9ae900" d="M0 176h1v1h-1zM0 191h1v1h-1zM1 35h1v1h-1zM2 3h1v1h-1zM2 35h1v1h-1zM2 40h1v1h-1zM2 57h1v1h-1zM2 185h1v1h-1zM2 191h1v1h-1zM3 10h1v2h-1zM3 16h1v1h-1zM3 32h1v1h-1zM3 35h1v1h-1zM3 92h1v1h-1zM3 160h1v1h-1zM4 38h1v1h-1zM4 73h1v1h-1zM5 66h1v1h-1zM5 182h1v1h-1zM6 26h1v1h-1zM6 64h1v1h-1zM6 66h1v1h-1zM6 99h1v1h-1zM6 116h1v1h-1zM7 45h1v1h-1zM7 56h1v1h-1zM7 72h1v1h-1zM7 147h1v1h-1zM7 162h1v1h-1zM8 5h1v1h-1zM8 32h1v1h-1zM8 104h1v1h-1zM9 3h1v1h-1zM9 28h1v1h-1zM9 34h1v1h-1zM9 164h1v1h-1z"/>
<path fill="#9feb00" d="M0 35h1v1h-1zM0 40h1v1h-1zM0 166h1v1h-1zM0 185h1v1h-1zM1 10h1v1h-1zM1 17h1v1h-1zM1 57h1v1h-1zM1 78h1v1h-1zM1 80h1v1h-1zM1 166h1v1h-1zM1 185h1v1h-1zM1 191h1v1h-1zM2 32h1v1h-1zM2 166h1v1h-1zM3 37h1v1h-1zM3 61h1v1h-1zM3 102h1v1h-1zM3 147h1v1h-1zM3 161h1v1h-1zM4 39h1v1h-1zM4 47h1v1h-1zM4 60h1v1h-1zM4 85h1v1h-1zM4 114h1v1h-1zM4 154h1v1h-1zM5 12h1v1h-1zM5 124h1v2h-1zM5 148h1v1h-1zM5 164h1v1h-1zM5 194h1v1h-1zM6 15h1v1h-1zM6 67h1v1h-1zM6 111h1v1h-1zM7 17h1v1h-1zM7 60h1v1h-1zM7 120h1v1h-1zM7 127h1v1h-1zM7 135h1v1h-1zM7 152h1v1h-1zM7 163h1v1h-1zM8 2h1v1h-1zM8 30h1v1h-1zM8 49h1v1h-1zM8 82h1v1h-1zM8 142h1v1h-1zM9 47h1v2h-1zM9 68h1v1h-1zM9 110h1v1h-1zM9 153h1v1h-1zM9 158h1v1h-1zM9 183h1v1h-1zM10 42h1v1h-1z"/>
<path fill="#aced00" d="M0 10h1v1h-1zM0 78h1v1h-1zM1 40h1v1h-1zM2 10h1v1h-1zM2 20h1v1h-1zM2 80h1v1h-1zM2 152h1v1h-1zM2 176h1v1h-1zM3 33h1v2h-1zM3 46h1v2h-1zM3 103h1v1h-1zM3 116h1v2h-1zM3 153h1v1h-1zM3 157h1v1h-1zM3 173h1v1h-1zM3 196h1v2h-1zM4 1h1v1h-1zM4 22h1v1h-1zM4 45h1v1h-1zM4 58h1v1h-1zM4 99h1v1h-1zM4 132h1v1h-1zM4 167h1v1h-1zM4 177h1v1h-1zM5 0h1v1h-1zM5 110h1v1h-1zM5 165h1v1h-1zM6 12h1v1h-1zM6 16h1v1h-1zM6 27h1v1h-1zM6 73h1v1h-1zM6 91h1v1h-1zM6 106h1v1h-1zM6 118h1v1h-1zM6 164h1v1h-1zM6 171h1v1h-1zM7 15h1v1h-1zM7 61h1v1h-1zM7 85h1v1h-1zM7 94h1v1h-1zM7 104h1v1h-1zM7 117h1v1h-1zM8 12h1v1h-1zM8 69h1v1h-1zM8 110h1v1h-1zM8 112h1v1h-1zM8 127h1v1h-1zM8 146h1v1h-1zM9 22h1v1h-1zM9 35h1v1h-1zM9 42h1v1h-1zM9 102h1v1h-1zM9 111h1v1h-1zM9 116h1v1h-1zM9 123h1v1h-1zM9 156h1v1h-1zM10 29h1v1h-1zM10 143h1v1h-1z"/>
<path fill="#baef00" d="M0 17h1v1h-1zM0 20h1v1h-1zM0 32h1v1h-1zM0 59h1v1h-1zM0 70h1v1h-1zM0 80h1v1h-1zM0 123h1v1h-1zM0 177h1v1h-1zM1 20h1v1h-1zM1 43h1v1h-1zM1 59h1v1h-1zM1 70h1v1h-1zM1 118h1v1h-1zM1 123h1v1h-1zM1 152h1v1h-1zM1 176h1v1h-1zM1 186h1v1h-1zM2 17h1v1h-1zM2 34h1v1h-1zM2 59h1v1h-1zM2 78h1v1h-1zM2 89h1v1h-1zM2 168h1v1h-1zM2 186h1v1h-1zM3 22h1v1h-1zM3 38h1v1h-1zM3 57h1v1h-1zM3 75h1v1h-1zM3 86h1v1h-1zM3 109h1v1h-1zM3 126h1v1h-1zM3 141h1v1h-1zM3 181h1v1h-1zM3 183h1v1h-1zM3 187h1v1h-1zM4 0h1v1h-1zM4 55h1v1h-1zM4 59h1v1h-1zM4 61h1v1h-1zM4 80h1v1h-1zM4 111h1v1h-1zM4 142h1v2h-1zM4 156h1v1h-1zM4 170h1v1h-1zM5 4h1v1h-1zM5 54h1v1h-1zM5 76h1v2h-1zM5 114h1v1h-1zM5 134h1v1h-1zM6 50h1v1h-1zM6 56h1v1h-1zM6 59h1v1h-1zM6 110h1v1h-1zM6 134h1v1h-1zM6 173h1v1h-1zM6 184h1v1h-1zM7 22h1v1h-1zM7 38h1v1h-1zM7 116h1v1h-1zM7 121h1v1h-1zM7 166h1v1h-1zM7 176h1v1h-1zM7 181h1v1h-1zM8 1h1v1h-1zM8 26h1v1h-1zM8 28h1v1h-1zM8 31h1v1h-1zM8 73h1v1h-1zM9 1h1v1h-1zM9 30h1v1h-1zM9 36h1v1h-1zM9 41h1v1h-1zM9 56h1v1h-1zM9 61h1v1h-1zM9 69h1v1h-1zM9 81h1v1h-1zM9 84h1v1h-1zM9 105h1v1h-1zM9 138h1v2h-1zM9 151h1v1h-1zM9 159h1v1h-1zM9 167h1v1h-1zM9 174h1v1h-1zM9 178h1v1h-1zM10 11h1v1h-1zM10 142h1v1h-1zM10 194h1v1h-1z"/>
<path fill="#c8f100" d="M0 24h1v1h-1zM0 28h1v1h-1zM0 34h1v1h-1zM0 36h1v2h-1zM0 89h1v1h-1zM0 122h1v1h-1zM0 139h1v2h-1zM0 152h1v1h-1zM0 168h1v1h-1zM0 175h1v1h-1zM0 186h1v1h-1zM1 24h1v2h-1zM1 32h1v1h-1zM1 34h1v1h-1zM1 36h1v1h-1zM1 45h1v2h-1zM1 89h1v1h-1zM1 92h1v1h-1zM1 133h1v1h-1zM1 140h1v1h-1zM1 144h1v1h-1zM1 160h1v1h-1zM1 168h1v1h-1zM2 37h1v1h-1zM2 123h1v1h-1zM2 139h1v2h-1zM2 160h1v1h-1zM3 24h1v1h-1zM3 41h1v1h-1zM3 64h1v1h-1zM3 76h1v1h-1zM3 78h1v1h-1zM3 87h1v1h-1zM3 96h1v2h-1zM3 108h1v1h-1zM3 112h1v2h-1zM3 125h1v1h-1zM3 150h1v1h-1zM3 180h1v1h-1zM3 182h1v1h-1zM4 32h1v1h-1zM4 50h1v1h-1zM4 69h1v1h-1zM4 72h1v1h-1zM4 95h1v1h-1zM4 110h1v1h-1zM4 118h1v1h-1zM4 135h1v1h-1zM4 162h1v1h-1zM4 175h1v2h-1zM5 2h1v1h-1zM5 5h1v1h-1zM5 13h1v1h-1zM5 17h1v1h-1zM5 24h1v1h-1zM5 28h1v1h-1zM5 72h1v1h-1zM5 92h1v1h-1zM5 116h1v1h-1zM5 138h1v1h-1zM5 176h1v1h-1zM5 180h1v1h-1zM5 196h1v1h-1zM6 0h1v1h-1zM6 29h1v1h-1zM6 42h1v1h-1zM6 78h1v1h-1zM6 107h1v1h-1zM6 113h1v1h-1zM6 122h1v1h-1zM6 136h1v1h-1zM6 146h1v1h-1zM6 166h1v1h-1zM7 3h1v1h-1zM7 14h1v1h-1zM7 23h1v1h-1zM7 44h1v1h-1zM7 47h1v1h-1zM7 68h1v1h-1zM7 154h1v1h-1zM8 8h1v1h-1zM8 13h1v1h-1zM8 27h1v1h-1zM8 61h1v1h-1zM8 63h1v1h-1zM8 81h1v1h-1zM8 89h1v1h-1zM8 98h1v1h-1zM8 109h1v1h-1zM8 118h1v1h-1zM8 126h1v1h-1zM8 138h1v1h-1zM8 186h1v1h-1zM9 31h1v1h-1zM9 46h1v1h-1zM9 74h1v1h-1zM9 89h1v1h-1zM9 92h1v1h-1zM9 122h1v1h-1zM9 125h1v1h-1zM9 134h1v1h-1zM9 145h1v1h-1zM9 162h1v1h-1zM10 2h1v1h-1zM10 6h1v2h-1zM10 9h1v2h-1zM10 45h1v1h-1zM10 57h1v2h-1zM10 147h1v1h-1zM10 151h1v1h-1zM10 195h1v1h-1z"/>
<path fill="#dbf100" d="M0 25h1v1h-1zM0 33h1v1h-1zM0 43h1v2h-1zM0 46h1v1h-1zM0 58h1v1h-1zM0 92h1v1h-1zM0 107h1v1h-1zM0 128h1v2h-1zM0 144h1v1h-1zM0 150h1v1h-1zM0 160h1v1h-1zM0 189h1v2h-1zM1 7h1v1h-1zM1 28h1v1h-1zM1 33h1v1h-1zM1 37h1v1h-1zM1 44h1v1h-1zM1 58h1v1h-1zM1 112h1v1h-1zM1 120h1v1h-1zM1 129h1v1h-1zM1 139h1v1h-1zM1 141h1v1h-1zM1 150h1v1h-1zM1 156h1v1h-1zM1 163h1v1h-1zM1 171h1v2h-1zM1 175h1v1h-1zM1 177h1v1h-1zM2 24h1v2h-1zM2 28h1v1h-1zM2 33h1v1h-1zM2 36h1v1h-1zM2 43h1v1h-1zM2 46h1v1h-1zM2 70h1v1h-1zM2 90h1v3h-1zM2 106h1v2h-1zM2 110h1v1h-1zM2 114h1v1h-1zM2 120h1v1h-1zM2 122h1v1h-1zM2 129h1v1h-1zM2 144h1v1h-1zM2 156h1v1h-1zM2 163h1v1h-1zM2 177h1v1h-1zM2 182h1v1h-1zM2 187h1v1h-1zM3 12h1v1h-1zM3 15h1v1h-1zM3 18h1v2h-1zM3 25h1v1h-1zM3 29h1v1h-1zM3 39h1v1h-1zM3 49h1v1h-1zM3 81h1v1h-1zM3 93h1v1h-1zM3 120h1v1h-1zM3 136h1v2h-1zM3 149h1v1h-1zM3 190h1v1h-1zM4 9h1v1h-1zM4 25h1v1h-1zM4 51h1v1h-1zM4 54h1v1h-1zM4 94h1v1h-1zM4 98h1v1h-1zM4 124h1v1h-1zM4 129h1v1h-1zM4 159h1v1h-1zM4 164h1v1h-1zM4 186h1v1h-1zM4 194h1v2h-1zM5 29h1v1h-1zM5 48h1v1h-1zM5 50h1v2h-1zM5 57h1v1h-1zM5 60h1v2h-1zM5 64h1v1h-1zM5 74h1v1h-1zM5 82h1v3h-1zM5 93h1v1h-1zM5 99h1v1h-1zM5 113h1v1h-1zM5 118h1v1h-1zM5 122h1v2h-1zM5 127h1v1h-1zM5 149h1v1h-1zM5 154h1v2h-1zM5 177h1v2h-1zM6 13h1v1h-1zM6 51h1v1h-1zM6 75h1v1h-1zM6 79h1v1h-1zM6 86h1v2h-1zM6 97h1v1h-1zM6 112h1v1h-1zM6 114h1v1h-1zM6 125h1v2h-1zM6 165h1v1h-1zM6 167h1v1h-1zM6 175h1v1h-1zM6 178h1v1h-1zM6 185h1v1h-1zM7 0h1v1h-1zM7 21h1v1h-1zM7 29h1v1h-1zM7 39h1v1h-1zM7 41h1v1h-1zM7 49h1v1h-1zM7 65h1v1h-1zM7 131h1v1h-1zM7 150h1v1h-1zM7 167h1v1h-1zM7 195h1v1h-1zM8 46h1v1h-1zM8 56h1v1h-1zM8 91h1v1h-1zM8 96h1v2h-1zM8 101h1v1h-1zM8 108h1v1h-1zM8 121h1v1h-1zM8 143h1v1h-1zM8 148h1v1h-1zM8 165h1v1h-1zM8 168h1v1h-1zM8 172h1v1h-1zM8 187h1v1h-1zM9 7h1v1h-1zM9 13h1v1h-1zM9 16h1v1h-1zM9 18h1v2h-1zM9 23h1v1h-1zM9 32h1v1h-1zM9 43h1v2h-1zM9 58h1v1h-1zM9 70h1v1h-1zM9 72h1v1h-1zM9 91h1v1h-1zM9 103h1v1h-1zM9 106h1v1h-1zM9 114h1v1h-1zM9 117h1v1h-1zM9 129h1v1h-1zM9 142h1v1h-1zM9 154h1v1h-1zM9 157h1v1h-1zM9 165h1v1h-1zM9 171h1v1h-1zM9 180h1v1h-1zM9 182h1v1h-1zM9 190h1v1h-1zM10 8h1v1h-1zM10 15h1v1h-1zM10 19h1v1h-1zM10 33h1v2h-1zM10 44h1v1h-1zM10 54h1v1h-1zM10 59h1v1h-1zM10 150h1v1h-1zM10 167h1v1h-1zM10 189h1v2h-1z"/>
<path fill="#f0ef00" d="M0 7h1v1h-1zM0 16h1v1h-1zM0 45h1v1h-1zM0 64h1v1h-1zM0 67h1v1h-1zM0 90h1v1h-1zM0 94h1v1h-1zM0 106h1v1h-1zM0 110h1v1h-1zM0 112h1v1h-1zM0 118h1v1h-1zM0 120h1v1h-1zM0 141h1v1h-1zM0 163h1v1h-1zM0 169h1v1h-1zM0 173h1v1h-1zM0 182h1v1h-1zM0 187h1v1h-1zM1 11h1v1h-1zM1 15h1v2h-1zM1 42h1v1h-1zM1 64h1v1h-1zM1 90h1v1h-1zM1 94h1v1h-1zM1 106h1v2h-1zM1 114h1v1h-1zM1 122h1v1h-1zM1 128h1v1h-1zM1 136h1v1h-1zM1 157h1v1h-1zM1 161h1v2h-1zM1 173h1v1h-1zM1 187h1v1h-1zM2 16h1v1h-1zM2 44h1v2h-1zM2 58h1v1h-1zM2 64h1v1h-1zM2 67h1v1h-1zM2 111h1v2h-1zM2 118h1v1h-1zM2 128h1v1h-1zM2 133h1v1h-1zM2 136h1v1h-1zM2 141h1v1h-1zM2 147h1v1h-1zM2 150h1v1h-1zM2 161h1v1h-1zM2 171h1v1h-1zM2 173h1v1h-1zM2 175h1v1h-1zM2 189h1v2h-1zM3 2h1v1h-1zM3 7h1v2h-1zM3 23h1v1h-1zM3 42h1v1h-1zM3 74h1v1h-1zM3 77h1v1h-1zM3 100h1v2h-1zM3 106h1v2h-1zM3 123h1v1h-1zM3 128h1v1h-1zM3 139h1v1h-1zM3 143h1v1h-1zM3 148h1v1h-1zM3 179h1v1h-1zM3 188h1v1h-1zM3 192h1v1h-1zM4 2h1v1h-1zM4 6h1v1h-1zM4 8h1v1h-1zM4 12h1v1h-1zM4 24h1v1h-1zM4 34h1v2h-1zM4 49h1v1h-1zM4 64h1v1h-1zM4 68h1v1h-1zM4 89h1v1h-1zM4 138h1v2h-1zM4 150h1v1h-1zM4 152h1v1h-1zM4 157h1v1h-1zM4 160h1v1h-1zM4 169h1v1h-1zM4 181h1v1h-1zM4 188h1v1h-1zM5 15h1v1h-1zM5 55h1v1h-1zM5 67h1v1h-1zM5 69h1v1h-1zM5 73h1v1h-1zM5 78h1v2h-1zM5 81h1v1h-1zM5 88h1v1h-1zM5 94h1v2h-1zM5 97h1v1h-1zM5 104h1v2h-1zM5 112h1v1h-1zM5 128h1v1h-1zM5 139h1v1h-1zM5 144h1v1h-1zM5 150h1v1h-1zM5 152h1v1h-1zM5 158h1v1h-1zM5 168h1v2h-1zM5 197h1v1h-1zM6 3h1v1h-1zM6 10h1v1h-1zM6 37h1v1h-1zM6 41h1v1h-1zM6 60h1v2h-1zM6 68h1v2h-1zM6 72h1v1h-1zM6 74h1v1h-1zM6 88h1v1h-1zM6 104h1v1h-1zM6 123h1v1h-1zM6 139h1v1h-1zM6 141h1v1h-1zM6 176h1v1h-1zM6 179h1v2h-1zM6 182h1v1h-1zM7 46h1v1h-1zM7 48h1v1h-1zM7 67h1v1h-1zM7 73h1v1h-1zM7 79h1v1h-1zM7 83h1v1h-1zM7 99h1v1h-1zM7 111h1v1h-1zM7 118h1v1h-1zM7 151h1v1h-1zM7 171h1v1h-1zM7 180h1v1h-1zM7 183h1v1h-1zM7 191h1v1h-1zM7 194h1v1h-1zM8 10h1v1h-1zM8 33h1v1h-1zM8 45h1v1h-1zM8 52h1v1h-1zM8 70h1v1h-1zM8 83h1v1h-1zM8 120h1v1h-1zM8 131h1v1h-1zM8 136h1v1h-1zM8 159h1v1h-1zM8 164h1v1h-1zM8 167h1v1h-1zM8 182h1v1h-1zM8 188h1v1h-1zM9 12h1v1h-1zM9 37h1v1h-1zM9 65h1v2h-1zM9 76h1v1h-1zM9 107h1v1h-1zM9 109h1v1h-1zM9 130h1v1h-1zM9 144h1v1h-1zM9 160h1v2h-1zM9 179h1v1h-1zM9 181h1v1h-1zM9 195h1v1h-1zM10 22h1v1h-1zM10 27h1v2h-1zM10 39h1v1h-1zM10 43h1v1h-1zM10 55h1v1h-1zM10 145h1v1h-1zM10 170h1v1h-1zM10 191h1v1h-1zM10 196h1v1h-1z"/>
<path fill="#fbe700" d="M0 9h1v1h-1zM0 11h1v1h-1zM0 15h1v1h-1zM0 66h1v1h-1zM0 72h1v1h-1zM0 87h1v1h-1zM0 91h1v1h-1zM0 93h1v1h-1zM0 98h1v1h-1zM0 111h1v1h-1zM0 114h1v1h-1zM0 126h1v1h-1zM0 133h1v1h-1zM0 135h1v2h-1zM0 138h1v1h-1zM0 154h1v1h-1zM0 156h1v2h-1zM0 171h1v1h-1zM0 174h1v1h-1zM1 5h1v1h-1zM1 21h1v1h-1zM1 67h1v1h-1zM1 71h1v1h-1zM1 79h1v1h-1zM1 91h1v1h-1zM1 93h1v1h-1zM1 95h1v1h-1zM1 98h1v1h-1zM1 110h1v1h-1zM1 121h1v1h-1zM1 135h1v1h-1zM1 138h1v1h-1zM1 142h1v1h-1zM1 145h1v1h-1zM1 158h1v1h-1zM1 169h1v1h-1zM1 189h1v2h-1zM2 7h1v1h-1zM2 11h1v1h-1zM2 15h1v1h-1zM2 21h1v1h-1zM2 49h1v1h-1zM2 87h1v1h-1zM2 93h1v1h-1zM2 135h1v1h-1zM2 138h1v1h-1zM2 157h1v1h-1zM2 162h1v1h-1zM2 169h1v1h-1zM2 172h1v1h-1zM3 4h1v1h-1zM3 13h1v1h-1zM3 20h1v1h-1zM3 26h1v1h-1zM3 45h1v1h-1zM3 54h1v1h-1zM3 71h1v1h-1zM3 79h1v2h-1zM3 91h1v1h-1zM3 121h1v2h-1zM3 127h1v1h-1zM3 129h1v1h-1zM3 145h1v1h-1zM3 162h1v1h-1zM3 167h1v1h-1zM3 169h1v1h-1zM3 176h1v1h-1zM3 184h1v1h-1zM3 193h1v1h-1zM3 195h1v1h-1zM4 31h1v1h-1zM4 36h1v1h-1zM4 42h1v2h-1zM4 53h1v1h-1zM4 63h1v1h-1zM4 81h1v1h-1zM4 83h1v1h-1zM4 88h1v1h-1zM4 103h1v1h-1zM4 109h1v1h-1zM4 116h1v1h-1zM4 123h1v1h-1zM4 128h1v1h-1zM4 149h1v1h-1zM4 163h1v1h-1zM4 171h1v1h-1zM4 185h1v1h-1zM4 189h1v2h-1zM4 193h1v1h-1zM4 196h1v1h-1zM5 10h1v1h-1zM5 25h1v1h-1zM5 27h1v1h-1zM5 33h1v1h-1zM5 40h1v1h-1zM5 53h1v1h-1zM5 63h1v1h-1zM5 87h1v1h-1zM5 96h1v1h-1zM5 102h1v1h-1zM5 111h1v1h-1zM5 115h1v1h-1zM5 129h1v1h-1zM5 133h1v1h-1zM5 136h1v2h-1zM5 146h1v1h-1zM5 151h1v1h-1zM5 179h1v1h-1zM5 181h1v1h-1zM5 190h1v1h-1zM6 11h1v1h-1zM6 28h1v1h-1zM6 47h1v1h-1zM6 54h1v2h-1zM6 100h1v1h-1zM6 151h1v1h-1zM6 158h1v2h-1zM6 163h1v1h-1zM6 169h1v1h-1zM6 181h1v1h-1zM7 7h1v1h-1zM7 32h1v1h-1zM7 36h1v1h-1zM7 55h1v1h-1zM7 62h1v2h-1zM7 78h1v1h-1zM7 82h1v1h-1zM7 92h1v1h-1zM7 95h1v1h-1zM7 101h1v1h-1zM7 122h1v1h-1zM7 124h1v1h-1zM7 133h1v1h-1zM7 146h1v1h-1zM7 155h1v1h-1zM7 172h1v1h-1zM7 174h1v1h-1zM7 177h1v1h-1zM7 190h1v1h-1zM8 9h1v1h-1zM8 11h1v1h-1zM8 34h1v1h-1zM8 36h1v2h-1zM8 64h1v1h-1zM8 66h1v1h-1zM8 85h1v1h-1zM8 105h1v1h-1zM8 107h1v1h-1zM8 130h1v1h-1zM8 137h1v1h-1zM8 139h1v1h-1zM8 144h1v1h-1zM8 151h1v1h-1zM8 157h1v1h-1zM8 160h1v1h-1zM8 163h1v1h-1zM9 8h1v2h-1zM9 14h1v1h-1zM9 24h1v2h-1zM9 27h1v1h-1zM9 40h1v1h-1zM9 45h1v1h-1zM9 54h1v1h-1zM9 57h1v1h-1zM9 59h1v1h-1zM9 67h1v1h-1zM9 77h1v1h-1zM9 87h1v1h-1zM9 93h1v1h-1zM9 118h1v1h-1zM9 121h1v1h-1zM9 126h1v1h-1zM9 140h1v2h-1zM9 143h1v1h-1zM9 163h1v1h-1zM9 166h1v1h-1zM9 170h1v1h-1zM9 196h1v2h-1zM10 13h1v1h-1zM10 17h1v2h-1zM10 23h1v1h-1zM10 30h1v2h-1zM10 40h1v1h-1zM10 49h1v1h-1zM10 52h1v1h-1zM10 164h1v1h-1zM10 184h1v1h-1zM10 186h1v1h-1zM10 192h1v1h-1zM10 197h1v1h-1z"/>
<path fill="#fdd900" d="M0 2h1v1h-1zM0 4h1v2h-1zM0 8h1v1h-1zM0 49h1v1h-1zM0 71h1v1h-1zM0 79h1v1h-1zM0 84h1v1h-1zM0 95h1v1h-1zM0 101h1v2h-1zM0 121h1v1h-1zM0 145h1v1h-1zM0 155h1v1h-1zM0 161h1v1h-1zM0 172h1v1h-1zM0 183h1v1h-1zM0 195h1v1h-1zM1 4h1v1h-1zM1 6h1v1h-1zM1 14h1v1h-1zM1 29h1v1h-1zM1 49h1v1h-1zM1 62h1v1h-1zM1 87h1v1h-1zM1 101h1v1h-1zM1 111h1v1h-1zM1 182h1v2h-1zM2 4h1v3h-1zM2 8h1v2h-1zM2 14h1v1h-1zM2 42h1v1h-1zM2 47h1v1h-1zM2 71h1v1h-1zM2 79h1v1h-1zM2 94h1v2h-1zM2 98h1v1h-1zM2 102h1v1h-1zM2 121h1v1h-1zM2 130h1v1h-1zM2 145h1v1h-1zM2 183h1v1h-1zM3 6h1v1h-1zM3 9h1v1h-1zM3 31h1v1h-1zM3 43h1v2h-1zM3 52h1v2h-1zM3 58h1v1h-1zM3 62h1v1h-1zM3 66h1v1h-1zM3 68h1v2h-1zM3 83h1v1h-1zM3 90h1v1h-1zM3 99h1v1h-1zM3 133h1v1h-1zM3 138h1v1h-1zM3 146h1v1h-1zM3 151h1v1h-1zM3 155h1v1h-1zM3 163h1v2h-1zM3 168h1v1h-1zM3 170h1v1h-1zM3 172h1v1h-1zM3 185h1v1h-1zM3 194h1v1h-1zM4 3h1v1h-1zM4 11h1v1h-1zM4 13h1v1h-1zM4 23h1v1h-1zM4 28h1v1h-1zM4 30h1v1h-1zM4 44h1v1h-1zM4 46h1v1h-1zM4 67h1v1h-1zM4 71h1v1h-1zM4 87h1v1h-1zM4 93h1v1h-1zM4 113h1v1h-1zM4 122h1v1h-1zM4 125h1v1h-1zM4 146h1v1h-1zM4 161h1v1h-1zM4 165h1v1h-1zM4 168h1v1h-1zM4 172h1v1h-1zM4 174h1v1h-1zM4 178h1v1h-1zM4 180h1v1h-1zM4 182h1v1h-1zM4 187h1v1h-1zM4 197h1v1h-1zM5 6h1v1h-1zM5 16h1v1h-1zM5 19h1v1h-1zM5 31h1v1h-1zM5 35h1v1h-1zM5 37h1v1h-1zM5 42h1v1h-1zM5 86h1v1h-1zM5 103h1v1h-1zM5 119h1v1h-1zM5 156h1v1h-1zM5 159h1v1h-1zM5 195h1v1h-1zM6 18h1v1h-1zM6 38h1v2h-1zM6 63h1v1h-1zM6 70h1v2h-1zM6 96h1v1h-1zM6 109h1v1h-1zM6 124h1v1h-1zM6 128h1v1h-1zM6 131h1v1h-1zM6 137h1v1h-1zM6 140h1v1h-1zM6 155h1v1h-1zM6 168h1v1h-1zM6 172h1v1h-1zM6 177h1v1h-1zM6 187h1v1h-1zM6 194h1v1h-1zM7 50h1v1h-1zM7 54h1v1h-1zM7 64h1v1h-1zM7 66h1v1h-1zM7 74h1v2h-1zM7 90h1v1h-1zM7 96h1v1h-1zM7 100h1v1h-1zM7 103h1v1h-1zM7 107h1v1h-1zM7 109h1v1h-1zM7 113h1v1h-1zM7 119h1v1h-1zM7 123h1v1h-1zM7 130h1v1h-1zM7 175h1v1h-1zM7 184h1v2h-1zM8 21h1v1h-1zM8 29h1v1h-1zM8 39h1v1h-1zM8 41h1v1h-1zM8 44h1v1h-1zM8 47h1v1h-1zM8 50h1v1h-1zM8 55h1v1h-1zM8 60h1v1h-1zM8 62h1v1h-1zM8 65h1v1h-1zM8 67h1v2h-1zM8 71h1v1h-1zM8 86h1v2h-1zM8 100h1v1h-1zM8 103h1v1h-1zM8 106h1v1h-1zM8 111h1v1h-1zM8 115h1v1h-1zM8 128h1v1h-1zM8 134h1v1h-1zM8 145h1v1h-1zM8 149h1v2h-1zM8 158h1v1h-1zM8 162h1v1h-1zM8 185h1v1h-1zM9 11h1v1h-1zM9 17h1v1h-1zM9 38h1v2h-1zM9 55h1v1h-1zM9 64h1v1h-1zM9 97h1v1h-1zM9 99h1v1h-1zM9 101h1v1h-1zM9 108h1v1h-1zM9 112h1v1h-1zM9 119h1v2h-1zM9 128h1v1h-1zM9 131h1v1h-1zM9 155h1v1h-1zM9 173h1v1h-1zM9 175h1v1h-1zM9 192h1v1h-1zM10 0h1v1h-1zM10 12h1v1h-1zM10 36h1v3h-1zM10 41h1v1h-1zM10 46h1v1h-1zM10 53h1v1h-1zM10 74h1v1h-1zM10 128h1v1h-1zM10 141h1v1h-1zM10 149h1v1h-1zM10 165h1v1h-1zM10 172h1v1h-1zM10 176h1v2h-1zM10 179h1v1h-1z"/>
<path fill="#ffcb00" d="M0 6h1v1h-1zM0 21h1v1h-1zM0 29h1v1h-1zM0 42h1v1h-1zM0 47h1v1h-1zM0 62h1v1h-1zM0 65h1v1h-1zM0 83h1v1h-1zM0 86h1v1h-1zM0 103h1v1h-1zM0 105h1v1h-1zM0 127h1v1h-1zM0 130h1v1h-1zM0 137h1v1h-1zM0 142h1v1h-1zM0 147h1v1h-1zM0 153h1v1h-1zM0 192h1v2h-1zM1 8h1v2h-1zM1 27h1v1h-1zM1 47h1v1h-1zM1 72h1v1h-1zM1 83h1v2h-1zM1 97h1v1h-1zM1 102h1v1h-1zM1 105h1v1h-1zM1 130h1v1h-1zM1 137h1v1h-1zM1 146h1v2h-1zM1 153h1v2h-1zM1 174h1v1h-1zM1 192h1v1h-1zM1 195h1v1h-1zM2 19h1v1h-1zM2 27h1v1h-1zM2 29h1v1h-1zM2 66h1v1h-1zM2 97h1v1h-1zM2 101h1v1h-1zM2 103h1v1h-1zM2 137h1v1h-1zM2 142h1v1h-1zM2 154h1v1h-1zM2 158h1v1h-1zM2 174h1v1h-1zM2 192h1v1h-1zM2 195h1v1h-1zM3 1h1v1h-1zM3 3h1v1h-1zM3 14h1v1h-1zM3 48h1v1h-1zM3 55h1v1h-1zM3 67h1v1h-1zM3 70h1v1h-1zM3 72h1v1h-1zM3 95h1v1h-1zM3 124h1v1h-1zM3 134h1v1h-1zM3 142h1v1h-1zM3 152h1v1h-1zM3 165h1v1h-1zM4 5h1v1h-1zM4 7h1v1h-1zM4 14h1v2h-1zM4 19h1v1h-1zM4 26h1v1h-1zM4 29h1v1h-1zM4 37h1v1h-1zM4 40h1v1h-1zM4 48h1v1h-1zM4 57h1v1h-1zM4 79h1v1h-1zM4 86h1v1h-1zM4 90h1v1h-1zM4 96h1v2h-1zM4 102h1v1h-1zM4 112h1v1h-1zM4 121h1v1h-1zM4 134h1v1h-1zM4 140h1v2h-1zM4 144h1v1h-1zM4 155h1v1h-1zM4 158h1v1h-1zM4 173h1v1h-1zM4 179h1v1h-1zM4 184h1v1h-1zM4 191h1v2h-1zM5 3h1v1h-1zM5 8h1v1h-1zM5 14h1v1h-1zM5 23h1v1h-1zM5 43h1v1h-1zM5 58h1v2h-1zM5 130h1v1h-1zM5 132h1v1h-1zM5 135h1v1h-1zM5 141h1v1h-1zM5 143h1v1h-1zM5 145h1v1h-1zM5 147h1v1h-1zM5 153h1v1h-1zM5 157h1v1h-1zM5 161h1v1h-1zM5 191h1v1h-1zM6 5h1v1h-1zM6 9h1v1h-1zM6 22h1v1h-1zM6 34h1v3h-1zM6 43h1v1h-1zM6 49h1v1h-1zM6 52h1v2h-1zM6 62h1v1h-1zM6 81h1v1h-1zM6 84h1v1h-1zM6 90h1v1h-1zM6 98h1v1h-1zM6 102h1v2h-1zM6 105h1v1h-1zM6 108h1v1h-1zM6 133h1v1h-1zM6 144h1v1h-1zM6 147h1v1h-1zM6 157h1v1h-1zM6 174h1v1h-1zM6 190h1v1h-1zM6 195h1v1h-1zM7 6h1v1h-1zM7 42h1v1h-1zM7 52h1v1h-1zM7 57h1v1h-1zM7 69h1v1h-1zM7 77h1v1h-1zM7 89h1v1h-1zM7 93h1v1h-1zM7 110h1v1h-1zM7 114h1v1h-1zM7 125h1v1h-1zM7 129h1v1h-1zM7 132h1v1h-1zM7 148h1v1h-1zM7 160h1v1h-1zM7 178h1v2h-1zM7 196h1v2h-1zM8 14h1v2h-1zM8 43h1v1h-1zM8 53h1v1h-1zM8 77h1v1h-1zM8 80h1v1h-1zM8 102h1v1h-1zM8 124h1v1h-1zM8 152h1v1h-1zM8 156h1v1h-1zM8 169h1v1h-1zM8 171h1v1h-1zM8 181h1v1h-1zM8 184h1v1h-1zM8 189h1v1h-1zM8 193h1v1h-1zM8 197h1v1h-1zM9 5h1v1h-1zM9 20h1v2h-1zM9 49h1v1h-1zM9 80h1v1h-1zM9 82h1v2h-1zM9 86h1v1h-1zM9 133h1v1h-1zM9 149h1v1h-1zM9 168h1v1h-1zM9 187h1v1h-1zM9 193h1v2h-1zM10 35h1v1h-1zM10 56h1v1h-1zM10 60h1v1h-1zM10 99h1v1h-1zM10 125h1v1h-1zM10 140h1v1h-1zM10 144h1v1h-1zM10 148h1v1h-1zM10 152h1v1h-1zM10 158h1v2h-1zM10 187h1v1h-1zM10 193h1v1h-1z"/>
<path fill="#ffbf00" d="M0 14h1v1h-1zM0 19h1v1h-1zM0 27h1v1h-1zM0 97h1v1h-1zM0 124h1v1h-1zM0 158h1v1h-1zM0 162h1v1h-1zM0 194h1v1h-1zM1 2h1v1h-1zM1 55h1v1h-1zM1 65h1v2h-1zM1 81h1v1h-1zM1 103h1v1h-1zM1 124h1v3h-1zM1 143h1v1h-1zM1 155h1v1h-1zM1 159h1v1h-1zM1 193h1v1h-1zM2 2h1v1h-1zM2 72h1v1h-1zM2 77h1v1h-1zM2 81h1v1h-1zM2 83h1v2h-1zM2 86h1v1h-1zM2 115h1v1h-1zM2 124h1v1h-1zM2 126h1v1h-1zM2 155h1v1h-1zM2 193h1v1h-1zM3 5h1v1h-1zM3 21h1v1h-1zM3 50h1v2h-1zM3 59h1v1h-1zM3 63h1v1h-1zM3 73h1v1h-1zM3 82h1v1h-1zM3 89h1v1h-1zM3 98h1v1h-1zM3 105h1v1h-1zM3 114h1v2h-1zM3 118h1v1h-1zM3 135h1v1h-1zM3 159h1v1h-1zM3 174h1v1h-1zM3 177h1v1h-1zM3 189h1v1h-1zM4 4h1v1h-1zM4 10h1v1h-1zM4 18h1v1h-1zM4 56h1v1h-1zM4 62h1v1h-1zM4 70h1v1h-1zM4 101h1v1h-1zM4 119h1v1h-1zM4 127h1v1h-1zM4 130h1v1h-1zM4 137h1v1h-1zM4 145h1v1h-1zM4 147h1v2h-1zM4 153h1v1h-1zM4 183h1v1h-1zM5 7h1v1h-1zM5 9h1v1h-1zM5 11h1v1h-1zM5 18h1v1h-1zM5 21h1v2h-1zM5 32h1v1h-1zM5 36h1v1h-1zM5 38h1v1h-1zM5 46h1v1h-1zM5 49h1v1h-1zM5 52h1v1h-1zM5 62h1v1h-1zM5 107h1v1h-1zM5 120h1v2h-1zM5 162h1v2h-1zM5 172h1v1h-1zM5 184h1v1h-1zM5 187h1v2h-1zM6 6h1v1h-1zM6 20h1v1h-1zM6 30h1v4h-1zM6 101h1v1h-1zM6 115h1v1h-1zM6 135h1v1h-1zM6 145h1v1h-1zM6 149h1v2h-1zM6 156h1v1h-1zM6 162h1v1h-1zM6 183h1v1h-1zM6 193h1v1h-1zM7 5h1v1h-1zM7 8h1v1h-1zM7 20h1v1h-1zM7 26h1v1h-1zM7 31h1v1h-1zM7 40h1v1h-1zM7 71h1v1h-1zM7 81h1v1h-1zM7 97h1v2h-1zM7 106h1v1h-1zM7 139h1v1h-1zM7 143h1v1h-1zM7 149h1v1h-1zM7 153h1v1h-1zM7 187h1v1h-1zM8 7h1v1h-1zM8 20h1v1h-1zM8 22h1v1h-1zM8 35h1v1h-1zM8 42h1v1h-1zM8 51h1v1h-1zM8 74h1v1h-1zM8 76h1v1h-1zM8 114h1v1h-1zM8 129h1v1h-1zM8 147h1v1h-1zM8 161h1v1h-1zM8 176h1v2h-1zM8 180h1v1h-1zM8 183h1v1h-1zM8 195h1v2h-1zM9 0h1v1h-1zM9 2h1v1h-1zM9 10h1v1h-1zM9 33h1v1h-1zM9 63h1v1h-1zM9 71h1v1h-1zM9 79h1v1h-1zM9 90h1v1h-1zM9 96h1v1h-1zM9 100h1v1h-1zM9 104h1v1h-1zM9 113h1v1h-1zM9 124h1v1h-1zM9 169h1v1h-1zM9 177h1v1h-1zM10 3h1v3h-1zM10 14h1v1h-1zM10 20h1v1h-1zM10 25h1v2h-1zM10 32h1v1h-1zM10 47h1v2h-1zM10 61h1v1h-1zM10 63h1v1h-1zM10 65h1v3h-1zM10 72h1v1h-1zM10 75h1v1h-1zM10 86h1v1h-1zM10 94h1v1h-1zM10 96h1v2h-1zM10 108h1v1h-1zM10 118h1v1h-1zM10 129h1v1h-1zM10 133h1v1h-1zM10 146h1v1h-1zM10 153h1v1h-1zM10 169h1v1h-1zM10 171h1v1h-1zM10 183h1v1h-1zM10 185h1v1h-1zM10 188h1v1h-1z"/>
<path fill="#ffb500" d="M0 41h1v1h-1zM0 55h1v1h-1zM0 81h1v1h-1zM0 113h1v1h-1zM0 117h1v1h-1zM0 125h1v1h-1zM1 1h1v1h-1zM1 19h1v1h-1zM1 26h1v1h-1zM1 74h1v2h-1zM1 86h1v1h-1zM1 96h1v1h-1zM1 108h1v1h-1zM1 115h1v1h-1zM1 127h1v1h-1zM1 188h1v1h-1zM1 194h1v1h-1zM2 1h1v1h-1zM2 39h1v1h-1zM2 55h1v1h-1zM2 62h1v1h-1zM2 65h1v1h-1zM2 68h1v1h-1zM2 76h1v1h-1zM2 105h1v1h-1zM2 125h1v1h-1zM2 127h1v1h-1zM2 143h1v1h-1zM2 146h1v1h-1zM2 153h1v1h-1zM2 159h1v1h-1zM2 194h1v1h-1zM3 30h1v1h-1zM3 40h1v1h-1zM3 130h1v1h-1zM3 144h1v1h-1zM3 171h1v1h-1zM3 175h1v1h-1zM3 178h1v1h-1zM4 17h1v1h-1zM4 27h1v1h-1zM4 52h1v1h-1zM4 74h1v1h-1zM4 82h1v1h-1zM4 84h1v1h-1zM4 92h1v1h-1zM4 104h1v1h-1zM4 106h1v1h-1zM5 20h1v1h-1zM5 34h1v1h-1zM5 71h1v1h-1zM5 91h1v1h-1zM5 117h1v1h-1zM5 126h1v1h-1zM5 140h1v1h-1zM5 142h1v1h-1zM5 170h1v1h-1zM5 186h1v1h-1zM6 2h1v1h-1zM6 4h1v1h-1zM6 8h1v1h-1zM6 14h1v1h-1zM6 19h1v1h-1zM6 21h1v1h-1zM6 23h1v1h-1zM6 25h1v1h-1zM6 44h1v1h-1zM6 57h1v1h-1zM6 83h1v1h-1zM6 85h1v1h-1zM6 93h1v1h-1zM6 95h1v1h-1zM6 117h1v1h-1zM6 129h1v1h-1zM6 132h1v1h-1zM6 186h1v1h-1zM6 188h1v1h-1zM7 1h1v1h-1zM7 4h1v1h-1zM7 9h1v1h-1zM7 19h1v1h-1zM7 30h1v1h-1zM7 43h1v1h-1zM7 58h1v1h-1zM7 88h1v1h-1zM7 108h1v1h-1zM7 112h1v1h-1zM7 142h1v1h-1zM7 144h1v1h-1zM7 170h1v1h-1zM7 173h1v1h-1zM7 189h1v1h-1zM8 38h1v1h-1zM8 48h1v1h-1zM8 54h1v1h-1zM8 93h1v1h-1zM8 95h1v1h-1zM8 113h1v1h-1zM8 123h1v1h-1zM8 141h1v1h-1zM8 153h1v1h-1zM8 166h1v1h-1zM9 53h1v1h-1zM9 62h1v1h-1zM9 85h1v1h-1zM9 127h1v1h-1zM9 137h1v1h-1zM9 176h1v1h-1zM10 1h1v1h-1zM10 62h1v1h-1zM10 80h1v2h-1zM10 84h1v1h-1zM10 87h1v3h-1zM10 91h1v1h-1zM10 110h1v2h-1zM10 120h1v2h-1zM10 123h1v2h-1zM10 130h1v1h-1zM10 134h1v2h-1zM10 156h1v2h-1zM10 161h1v1h-1zM10 178h1v1h-1zM10 180h1v1h-1z"/>
<path fill="#ffaa00" d="M0 1h1v1h-1zM0 26h1v1h-1zM0 30h1v1h-1zM0 56h1v1h-1zM0 68h1v1h-1zM0 74h1v1h-1zM0 77h1v1h-1zM0 96h1v1h-1zM0 100h1v1h-1zM0 108h1v2h-1zM0 115h1v1h-1zM0 134h1v1h-1zM0 143h1v1h-1zM0 149h1v1h-1zM0 159h1v1h-1zM1 39h1v1h-1zM1 41h1v1h-1zM1 63h1v1h-1zM1 68h1v1h-1zM1 76h1v2h-1zM1 82h1v1h-1zM1 109h1v1h-1zM1 116h1v1h-1zM1 134h1v1h-1zM1 149h1v1h-1zM2 26h1v1h-1zM2 30h1v1h-1zM2 41h1v1h-1zM2 109h1v1h-1zM2 113h1v1h-1zM2 116h1v2h-1zM2 134h1v1h-1zM2 148h1v2h-1zM3 85h1v1h-1zM3 94h1v1h-1zM3 131h1v1h-1zM3 154h1v1h-1zM4 76h1v2h-1zM4 105h1v1h-1zM4 107h1v1h-1zM4 120h1v1h-1zM4 133h1v1h-1zM5 26h1v1h-1zM5 39h1v1h-1zM5 45h1v1h-1zM5 90h1v1h-1zM5 98h1v1h-1zM5 101h1v1h-1zM5 106h1v1h-1zM5 131h1v1h-1zM5 160h1v1h-1zM5 183h1v1h-1zM5 185h1v1h-1zM6 40h1v1h-1zM6 48h1v1h-1zM6 82h1v1h-1zM6 92h1v1h-1zM6 94h1v1h-1zM6 121h1v1h-1zM6 127h1v1h-1zM6 138h1v1h-1zM6 143h1v1h-1zM6 189h1v1h-1zM6 197h1v1h-1zM7 11h1v1h-1zM7 51h1v1h-1zM7 53h1v1h-1zM7 84h1v1h-1zM7 91h1v1h-1zM7 102h1v1h-1zM7 105h1v1h-1zM7 137h1v1h-1zM7 141h1v1h-1zM7 145h1v1h-1zM7 161h1v1h-1zM7 165h1v1h-1zM7 168h1v2h-1zM7 186h1v1h-1zM8 17h1v1h-1zM8 23h1v1h-1zM8 59h1v1h-1zM8 90h1v1h-1zM8 92h1v1h-1zM8 125h1v1h-1zM8 155h1v1h-1zM8 191h1v1h-1zM9 15h1v1h-1zM9 51h1v1h-1zM9 88h1v1h-1zM9 136h1v1h-1zM9 148h1v1h-1zM9 152h1v1h-1zM9 186h1v1h-1zM10 21h1v1h-1zM10 51h1v1h-1zM10 68h1v2h-1zM10 73h1v1h-1zM10 76h1v2h-1zM10 79h1v1h-1zM10 82h1v1h-1zM10 95h1v1h-1zM10 98h1v1h-1zM10 103h1v3h-1zM10 109h1v1h-1zM10 112h1v2h-1zM10 122h1v1h-1zM10 126h1v2h-1zM10 154h1v2h-1zM10 162h1v1h-1zM10 166h1v1h-1zM10 168h1v1h-1zM10 173h1v3h-1zM10 181h1v1h-1z"/>
<path fill="#ffa000" d="M0 39h1v1h-1zM0 63h1v1h-1zM0 75h1v1h-1zM0 82h1v1h-1zM0 132h1v1h-1zM0 146h1v1h-1zM0 148h1v1h-1zM0 151h1v1h-1zM0 170h1v1h-1zM0 188h1v1h-1zM1 30h1v1h-1zM1 53h1v1h-1zM1 56h1v1h-1zM1 60h1v1h-1zM1 100h1v1h-1zM1 113h1v1h-1zM1 117h1v1h-1zM1 132h1v1h-1zM1 148h1v1h-1zM1 170h1v1h-1zM2 18h1v1h-1zM2 50h1v2h-1zM2 74h1v2h-1zM2 82h1v1h-1zM2 96h1v1h-1zM2 100h1v1h-1zM2 108h1v1h-1zM2 170h1v1h-1zM2 188h1v1h-1zM3 0h1v1h-1zM4 66h1v1h-1zM4 115h1v1h-1zM4 117h1v1h-1zM4 136h1v1h-1zM5 30h1v1h-1zM5 70h1v1h-1zM5 89h1v1h-1zM5 193h1v1h-1zM6 45h1v1h-1zM6 80h1v1h-1zM6 89h1v1h-1zM6 120h1v1h-1zM6 130h1v1h-1zM6 148h1v1h-1zM6 170h1v1h-1zM7 13h1v1h-1zM7 27h1v1h-1zM7 34h1v2h-1zM7 70h1v1h-1zM7 76h1v1h-1zM7 86h1v2h-1zM7 128h1v1h-1zM7 134h1v1h-1zM7 136h1v1h-1zM7 138h1v1h-1zM7 156h1v1h-1zM7 159h1v1h-1zM7 193h1v1h-1zM8 16h1v1h-1zM8 19h1v1h-1zM8 58h1v1h-1zM8 75h1v1h-1zM8 99h1v1h-1zM8 117h1v1h-1zM8 122h1v1h-1zM8 133h1v1h-1zM8 140h1v1h-1zM8 170h1v1h-1zM8 175h1v1h-1zM8 179h1v1h-1zM8 190h1v1h-1zM9 4h1v1h-1zM9 29h1v1h-1zM9 185h1v1h-1zM9 188h1v1h-1zM10 50h1v1h-1zM10 78h1v1h-1zM10 83h1v1h-1zM10 93h1v1h-1zM10 101h1v2h-1zM10 107h1v1h-1zM10 115h1v2h-1zM10 119h1v1h-1zM10 131h1v1h-1zM10 139h1v1h-1z"/>
<path fill="#ff9600" d="M0 12h1v1h-1zM0 51h1v3h-1zM0 60h1v1h-1zM0 76h1v1h-1zM0 116h1v1h-1zM0 179h1v1h-1zM1 12h1v1h-1zM1 23h1v1h-1zM1 50h1v3h-1zM1 61h1v1h-1zM1 85h1v1h-1zM1 179h1v1h-1zM2 38h1v1h-1zM2 63h1v1h-1zM2 104h1v1h-1zM2 178h1v2h-1zM3 158h1v1h-1zM4 78h1v1h-1zM4 100h1v1h-1zM4 108h1v1h-1zM5 68h1v1h-1zM5 100h1v1h-1zM5 167h1v1h-1zM5 174h1v1h-1zM6 24h1v1h-1zM6 77h1v1h-1zM7 25h1v1h-1zM7 28h1v1h-1zM7 37h1v1h-1zM7 59h1v1h-1zM7 126h1v1h-1zM7 140h1v1h-1zM7 157h1v2h-1zM7 182h1v1h-1zM8 0h1v1h-1zM8 40h1v1h-1zM8 57h1v1h-1zM8 78h1v1h-1zM8 84h1v1h-1zM8 94h1v1h-1zM8 132h1v1h-1zM8 173h1v1h-1zM9 52h1v1h-1zM9 95h1v1h-1zM10 16h1v1h-1zM10 24h1v1h-1zM10 64h1v1h-1zM10 70h1v2h-1zM10 85h1v1h-1zM10 92h1v1h-1zM10 106h1v1h-1zM10 114h1v1h-1zM10 117h1v1h-1zM10 132h1v1h-1zM10 136h1v2h-1zM10 160h1v1h-1zM10 163h1v1h-1zM10 182h1v1h-1z"/>
<path fill="#ff8c00" d="M0 18h1v1h-1zM0 23h1v1h-1zM0 31h1v1h-1zM0 50h1v1h-1zM0 61h1v1h-1zM0 85h1v1h-1zM0 119h1v1h-1zM0 167h1v1h-1zM0 178h1v1h-1zM1 31h1v1h-1zM1 38h1v1h-1zM1 151h1v1h-1zM1 178h1v1h-1zM2 12h1v1h-1zM2 23h1v1h-1zM2 31h1v1h-1zM2 52h1v2h-1zM2 56h1v1h-1zM2 60h1v2h-1zM2 85h1v1h-1zM2 132h1v1h-1zM2 151h1v1h-1zM2 181h1v1h-1zM3 84h1v1h-1zM3 166h1v1h-1zM4 16h1v1h-1zM5 1h1v1h-1zM5 75h1v1h-1zM5 171h1v1h-1zM5 173h1v1h-1zM6 7h1v1h-1zM6 46h1v1h-1zM6 76h1v1h-1zM6 142h1v1h-1zM6 160h1v1h-1zM6 192h1v1h-1zM6 196h1v1h-1zM7 16h1v1h-1zM8 79h1v1h-1zM8 178h1v1h-1zM8 192h1v1h-1zM8 194h1v1h-1zM9 78h1v1h-1zM9 94h1v1h-1zM9 115h1v1h-1zM9 132h1v1h-1zM9 146h1v1h-1zM10 100h1v1h-1zM10 138h1v1h-1z"/>
<path fill="#ff8200" d="M0 13h1v1h-1zM0 38h1v1h-1zM0 104h1v1h-1zM0 181h1v1h-1zM1 13h1v1h-1zM1 54h1v1h-1zM1 167h1v1h-1zM1 181h1v1h-1zM2 54h1v1h-1zM2 167h1v1h-1zM3 28h1v1h-1zM4 151h1v1h-1zM4 166h1v1h-1zM5 41h1v1h-1zM5 65h1v1h-1zM5 192h1v1h-1zM6 17h1v1h-1zM6 153h1v1h-1zM6 161h1v1h-1zM7 2h1v1h-1zM7 12h1v1h-1zM7 80h1v1h-1zM7 164h1v1h-1zM8 3h1v1h-1zM8 25h1v1h-1zM8 154h1v1h-1zM9 50h1v1h-1zM9 73h1v1h-1zM9 172h1v1h-1zM9 184h1v1h-1z"/>
<path fill="#fe7600" d="M0 165h1v1h-1zM1 18h1v1h-1zM1 22h1v1h-1zM1 104h1v1h-1zM1 119h1v1h-1zM1 165h1v1h-1zM1 197h1v1h-1zM2 0h1v1h-1zM2 13h1v1h-1zM2 22h1v1h-1zM2 119h1v1h-1zM2 131h1v1h-1zM2 165h1v1h-1zM5 56h1v1h-1zM5 80h1v1h-1zM5 109h1v1h-1zM6 154h1v1h-1zM7 18h1v1h-1zM7 24h1v1h-1zM7 188h1v1h-1zM8 24h1v1h-1zM8 72h1v1h-1zM8 174h1v1h-1zM9 6h1v1h-1zM9 26h1v1h-1zM9 98h1v1h-1zM10 90h1v1h-1z"/>
<path fill="#fd6900" d="M0 0h1v1h-1zM0 22h1v1h-1zM0 54h1v1h-1zM0 180h1v1h-1zM0 197h1v1h-1zM1 0h1v1h-1zM1 73h1v1h-1zM1 131h1v1h-1zM2 180h1v1h-1zM2 197h1v1h-1zM5 44h1v1h-1zM5 175h1v1h-1zM6 119h1v1h-1zM6 152h1v1h-1zM8 88h1v1h-1zM8 119h1v1h-1zM8 135h1v1h-1z"/>
<path fill="#fb5d00" d="M0 69h1v1h-1zM0 73h1v1h-1zM0 131h1v1h-1zM1 180h1v1h-1zM1 196h1v1h-1zM2 69h1v1h-1zM2 73h1v1h-1zM7 10h1v1h-1zM7 192h1v1h-1z"/>
<path fill="#fa5000" d="M0 99h1v1h-1zM0 164h1v1h-1zM0 196h1v1h-1zM1 69h1v1h-1zM1 99h1v1h-1zM1 164h1v1h-1zM2 99h1v1h-1zM2 164h1v1h-1zM2 196h1v1h-1zM5 108h1v1h-1zM8 18h1v1h-1zM9 135h1v1h-1z"/>
</svg>
<rect x="224.18" y="337.67" width="9.36" height="1.96" fill="#e01000"/>
<path d="M191.0 13.4L242.3 13.4M191.0 13.4L191.0 16.6M242.3 13.4L242.3 15.7M180.4 16.6L201.6 16.6M180.4 16.6L180.4 26.7M201.6 16.6L201.6 32.5M173.4 26.7L187.5 26.7M173.4 26.7L173.4 32.5M187.5 26.7L187.5 29.9M182.7 29.9L192.3 29.9M182.7 29.9L182.7 32.5M192.3 29.9L192.3 32.5M224.4 15.7L259.7 15.7M224.4 15.7L224.4 19.4M259.7 15.7L259.7 19.0M215.2 19.4L234.1 19.4M215.2 19.4L215.2 20.5M234.1 19.4L234.1 20.0M210.3 20.5L220.3 20.5M210.3 20.5L210.3 32.5M220.3 20.5L220.3 32.5M229.3 20.0L238.5 20.0M229.3 20.0L229.3 32.5M238.5 20.0L238.5 32.5M252.5 19.0L266.5 19.0M252.5 19.0L252.5 22.3M266.5 19.0L266.5 32.5M247.9 22.3L257.3 22.3M247.9 22.3L247.9 32.5M257.3 22.3L257.3 32.5" stroke="#777" stroke-width="1" fill="none"/>
<text x="175.90" y="427.80" font-size="8.8" font-weight="bold" text-anchor="end" textLength="20.80" lengthAdjust="spacingAndGlyphs" transform="rotate(-90 175.90 427.80)">AWN</text>
<text x="185.35" y="427.80" font-size="8.8" font-weight="bold" text-anchor="end" textLength="10.20" lengthAdjust="spacingAndGlyphs" transform="rotate(-90 185.35 427.80)">GL</text>
<text x="194.80" y="427.80" font-size="8.8" font-weight="bold" text-anchor="end" textLength="23.30" lengthAdjust="spacingAndGlyphs" transform="rotate(-90 194.80 427.80)">GWLR</text>
<text x="204.25" y="427.80" font-size="8.8" font-weight="bold" text-anchor="end" textLength="10.20" lengthAdjust="spacingAndGlyphs" transform="rotate(-90 204.25 427.80)">HT</text>
<text x="213.70" y="427.80" font-size="8.8" font-weight="bold" text-anchor="end" textLength="16.40" lengthAdjust="spacingAndGlyphs" transform="rotate(-90 213.70 427.80)">HDT</text>
<text x="223.15" y="427.80" font-size="8.8" font-weight="bold" text-anchor="end" textLength="13.80" lengthAdjust="spacingAndGlyphs" transform="rotate(-90 223.15 427.80)">SPL</text>
<text x="232.60" y="427.80" font-size="8.8" font-weight="bold" text-anchor="end" textLength="15.50" lengthAdjust="spacingAndGlyphs" transform="rotate(-90 232.60 427.80)">SPN</text>
<text x="242.05" y="427.80" font-size="8.8" font-weight="bold" text-anchor="end" textLength="14.20" lengthAdjust="spacingAndGlyphs" transform="rotate(-90 242.05 427.80)">SPC</text>
<text x="251.50" y="427.80" font-size="8.8" font-weight="bold" text-anchor="end" textLength="16.40" lengthAdjust="spacingAndGlyphs" transform="rotate(-90 251.50 427.80)">GAR</text>
<text x="260.95" y="427.80" font-size="8.8" font-weight="bold" text-anchor="end" textLength="19.50" lengthAdjust="spacingAndGlyphs" transform="rotate(-90 260.95 427.80)">TGW</text>
<text x="270.40" y="427.80" font-size="8.8" font-weight="bold" text-anchor="end" textLength="13.80" lengthAdjust="spacingAndGlyphs" transform="rotate(-90 270.40 427.80)">GW</text>
<rect x="169.60" y="465.90" width="41.20" height="13.60" fill="url(#cbb)"/>
<text x="175.10" y="462.30" font-size="8.7" transform="rotate(-90 175.10 462.30)">10</text>
<text x="184.60" y="462.30" font-size="8.7" transform="rotate(-90 184.60 462.30)">5</text>
<text x="194.10" y="462.30" font-size="8.7" transform="rotate(-90 194.10 462.30)">0</text>
<text x="203.20" y="462.30" font-size="8.7" transform="rotate(-90 203.20 462.30)">-5</text>
<text x="212.70" y="462.30" font-size="8.7" transform="rotate(-90 212.70 462.30)">-10</text>
<text x="215.90" y="477.80" font-size="10.3" font-weight="bold" textLength="49.20" lengthAdjust="spacingAndGlyphs">Trait value</text>
<path d="M286.2 35.90h5.69v2.36h-5.69zM286.2 37.86h15.00v2.36h-15.00zM286.2 39.82h13.45v2.36h-13.45zM286.2 41.78h18.10v2.36h-18.10zM286.2 43.75h10.86v2.36h-10.86zM286.2 45.71h18.10v2.36h-18.10zM286.2 47.67h18.10v2.36h-18.10zM286.2 49.63h13.45v2.36h-13.45zM286.2 51.59h7.76v2.36h-7.76zM286.2 53.55h8.79v2.36h-8.79zM286.2 55.52h16.55v2.36h-16.55zM286.2 57.48h13.45v2.36h-13.45zM286.2 59.44h10.86v2.36h-10.86zM286.2 61.40h13.45v2.36h-13.45zM286.2 63.36h19.66v2.36h-19.66zM286.2 65.32h15.00v2.36h-15.00zM286.2 67.29h22.76v2.36h-22.76zM286.2 69.25h21.21v2.36h-21.21zM286.2 71.21h8.79v2.36h-8.79zM286.2 73.17h5.69v2.36h-5.69zM286.2 75.13h4.14v2.36h-4.14zM286.2 77.09h14.48v2.36h-14.48zM286.2 79.06h15.00v2.36h-15.00zM286.2 81.02h15.00v2.36h-15.00zM286.2 82.98h15.00v2.36h-15.00zM286.2 84.94h22.76v2.36h-22.76zM286.2 86.90h16.55v2.36h-16.55zM286.2 88.86h11.90v2.36h-11.90zM286.2 90.83h24.31v2.36h-24.31zM286.2 92.79h9.31v2.36h-9.31zM286.2 94.75h15.00v2.36h-15.00zM286.2 96.71h13.45v2.36h-13.45zM286.2 98.67h10.86v2.36h-10.86zM286.2 100.63h15.00v2.36h-15.00zM286.2 102.59h4.66v2.36h-4.66zM286.2 104.56h13.45v2.36h-13.45zM286.2 106.52h18.10v2.36h-18.10zM286.2 108.48h15.00v2.36h-15.00zM286.2 110.44h19.66v2.36h-19.66zM286.2 112.40h11.90v2.36h-11.90zM286.2 114.36h9.31v2.36h-9.31zM286.2 116.33h16.55v2.36h-16.55zM286.2 118.29h19.66v2.36h-19.66zM286.2 120.25h15.00v2.36h-15.00zM286.2 122.21h21.21v2.36h-21.21zM286.2 124.17h13.45v2.36h-13.45zM286.2 126.13h11.90v2.36h-11.90zM286.2 128.10h19.66v2.36h-19.66zM286.2 130.06h11.90v2.36h-11.90zM286.2 132.02h5.69v2.36h-5.69zM286.2 133.98h10.34v2.36h-10.34zM286.2 135.94h13.45v2.36h-13.45zM286.2 137.90h15.00v2.36h-15.00zM286.2 139.87h19.66v2.36h-19.66zM286.2 141.83h15.00v2.36h-15.00zM286.2 143.79h24.31v2.36h-24.31zM286.2 145.75h11.90v2.36h-11.90zM286.2 147.71h16.55v2.36h-16.55zM286.2 149.67h15.00v2.36h-15.00zM286.2 151.64h16.55v2.36h-16.55zM286.2 153.60h21.21v2.36h-21.21zM286.2 155.56h16.55v2.36h-16.55zM286.2 157.52h15.00v2.36h-15.00zM286.2 159.48h19.66v2.36h-19.66zM286.2 161.44h19.66v2.36h-19.66zM286.2 163.41h16.55v2.36h-16.55zM286.2 165.37h18.10v2.36h-18.10zM286.2 167.33h16.55v2.36h-16.55zM286.2 169.29h15.00v2.36h-15.00zM286.2 171.25h16.55v2.36h-16.55zM286.2 173.21h13.45v2.36h-13.45zM286.2 175.17h15.00v2.36h-15.00zM286.2 177.14h16.55v2.36h-16.55zM286.2 179.10h13.45v2.36h-13.45zM286.2 181.06h25.86v2.36h-25.86zM286.2 183.02h19.66v2.36h-19.66zM286.2 184.98h8.79v2.36h-8.79zM286.2 186.94h16.55v2.36h-16.55zM286.2 188.91h15.00v2.36h-15.00zM286.2 190.87h19.66v2.36h-19.66zM286.2 192.83h16.55v2.36h-16.55zM286.2 194.79h25.86v2.36h-25.86zM286.2 196.75h18.10v2.36h-18.10zM286.2 198.71h7.76v2.36h-7.76zM286.2 200.68h16.55v2.36h-16.55zM286.2 202.64h10.34v2.36h-10.34zM286.2 204.60h13.45v2.36h-13.45zM286.2 206.56h13.45v2.36h-13.45zM286.2 208.52h16.55v2.36h-16.55zM286.2 210.48h21.21v2.36h-21.21zM286.2 212.45h8.79v2.36h-8.79zM286.2 214.41h16.55v2.36h-16.55zM286.2 216.37h8.79v2.36h-8.79zM286.2 218.33h19.66v2.36h-19.66zM286.2 220.29h11.90v2.36h-11.90zM286.2 222.25h8.79v2.36h-8.79zM286.2 224.22h19.66v2.36h-19.66zM286.2 226.18h16.55v2.36h-16.55zM286.2 228.14h18.10v2.36h-18.10zM286.2 230.10h13.45v2.36h-13.45zM286.2 232.06h15.00v2.36h-15.00zM286.2 234.02h8.79v2.36h-8.79zM286.2 235.98h15.00v2.36h-15.00zM286.2 237.95h19.66v2.36h-19.66zM286.2 239.91h8.79v2.36h-8.79zM286.2 241.87h15.00v2.36h-15.00zM286.2 243.83h4.66v2.36h-4.66zM286.2 245.79h8.79v2.36h-8.79zM286.2 247.75h5.69v2.36h-5.69zM286.2 249.72h4.14v2.36h-4.14zM286.2 251.68h8.79v2.36h-8.79zM286.2 253.64h13.45v2.36h-13.45zM286.2 255.60h11.90v2.36h-11.90zM286.2 257.56h5.69v2.36h-5.69zM286.2 259.52h19.66v2.36h-19.66zM286.2 261.49h15.00v2.36h-15.00zM286.2 263.45h4.66v2.36h-4.66zM286.2 265.41h7.76v2.36h-7.76zM286.2 267.37h4.66v2.36h-4.66zM286.2 269.33h11.90v2.36h-11.90zM286.2 271.29h5.69v2.36h-5.69zM286.2 273.26h8.79v2.36h-8.79zM286.2 275.22h10.34v2.36h-10.34zM286.2 277.18h5.69v2.36h-5.69zM286.2 279.14h8.79v2.36h-8.79zM286.2 281.10h15.00v2.36h-15.00zM286.2 283.06h13.45v2.36h-13.45zM286.2 285.03h7.76v2.36h-7.76zM286.2 286.99h18.10v2.36h-18.10zM286.2 288.95h18.10v2.36h-18.10zM286.2 290.91h11.90v2.36h-11.90zM286.2 292.87h5.69v2.36h-5.69zM286.2 294.83h10.34v2.36h-10.34zM286.2 296.79h8.79v2.36h-8.79zM286.2 298.76h19.66v2.36h-19.66zM286.2 300.72h15.00v2.36h-15.00zM286.2 302.68h15.00v2.36h-15.00zM286.2 304.64h15.00v2.36h-15.00zM286.2 306.60h16.55v2.36h-16.55zM286.2 308.56h16.55v2.36h-16.55zM286.2 310.53h13.45v2.36h-13.45zM286.2 312.49h13.45v2.36h-13.45zM286.2 314.45h18.10v2.36h-18.10zM286.2 316.41h16.55v2.36h-16.55zM286.2 318.37h36.21v2.36h-36.21zM286.2 320.33h19.66v2.36h-19.66zM286.2 322.30h27.41v2.36h-27.41zM286.2 324.26h7.76v2.36h-7.76zM286.2 326.22h7.76v2.36h-7.76zM286.2 328.18h10.34v2.36h-10.34zM286.2 330.14h18.10v2.36h-18.10zM286.2 332.10h27.41v2.36h-27.41zM286.2 334.07h52.45v2.36h-52.45zM286.2 336.03h18.10v2.36h-18.10zM286.2 337.99h19.66v2.36h-19.66zM286.2 339.95h16.55v2.36h-16.55zM286.2 341.91h18.10v2.36h-18.10zM286.2 343.87h11.90v2.36h-11.90zM286.2 345.84h15.00v2.36h-15.00zM286.2 347.80h11.90v2.36h-11.90zM286.2 349.76h16.55v2.36h-16.55zM286.2 351.72h8.79v2.36h-8.79zM286.2 353.68h19.66v2.36h-19.66zM286.2 355.64h15.00v2.36h-15.00zM286.2 357.61h18.10v2.36h-18.10zM286.2 359.57h10.34v2.36h-10.34zM286.2 361.53h13.45v2.36h-13.45zM286.2 363.49h11.90v2.36h-11.90zM286.2 365.45h16.55v2.36h-16.55zM286.2 367.41h7.25v2.36h-7.25zM286.2 369.37h10.94v2.36h-10.94zM286.2 371.34h2.95v2.36h-2.95zM286.2 373.30h4.80v2.36h-4.80zM286.2 375.26h17.09v2.36h-17.09zM286.2 377.22h2.95v2.36h-2.95zM286.2 379.18h7.87v2.36h-7.87zM286.2 381.14h27.54v2.36h-27.54zM286.2 383.11h21.39v2.36h-21.39zM286.2 385.07h14.02v2.36h-14.02zM286.2 387.03h18.32v2.36h-18.32zM286.2 388.99h15.25v2.36h-15.25zM286.2 390.95h6.02v2.36h-6.02zM286.2 392.91h10.94v2.36h-10.94zM286.2 394.88h9.10v2.36h-9.10zM286.2 396.84h18.32v2.36h-18.32zM286.2 398.80h17.09v2.36h-17.09zM286.2 400.76h18.32v2.36h-18.32zM286.2 402.72h15.25v2.36h-15.25zM286.2 404.68h17.09v2.36h-17.09zM286.2 406.65h7.87v2.36h-7.87zM286.2 408.61h9.10v2.36h-9.10zM286.2 410.57h10.94v2.36h-10.94zM286.2 412.53h14.02v2.36h-14.02zM286.2 414.49h21.39v2.36h-21.39zM286.2 416.45h17.09v2.36h-17.09zM286.2 418.42h15.25v2.36h-15.25zM286.2 420.38h12.17v2.36h-12.17zM286.2 422.34h9.10v2.36h-9.10z" fill="#595959"/>
<rect x="283.50" y="35.60" width="59.10" height="388.90" fill="none" stroke="#a0a0a0" stroke-width="1"/>
<line x1="286.20" y1="33.60" x2="286.20" y2="35.60" stroke="#888" stroke-width="0.8"/>
<line x1="301.20" y1="33.60" x2="301.20" y2="35.60" stroke="#888" stroke-width="0.8"/>
<line x1="316.20" y1="33.60" x2="316.20" y2="35.60" stroke="#888" stroke-width="0.8"/>
<line x1="331.20" y1="33.60" x2="331.20" y2="35.60" stroke="#888" stroke-width="0.8"/>
<text x="284.20" y="18.60" font-size="9.7" textLength="70.80" lengthAdjust="spacingAndGlyphs">Count of alleles</text>
<text x="286.20" y="31.80" font-size="9.7" text-anchor="middle">0</text>
<text x="301.40" y="31.80" font-size="9.7" text-anchor="middle">10</text>
<text x="316.60" y="31.80" font-size="9.7" text-anchor="middle">20</text>
<text x="331.80" y="31.80" font-size="9.7" text-anchor="middle">30</text>
<text x="285.50" y="445.20" font-size="10" font-weight="bold" textLength="59.90" lengthAdjust="spacingAndGlyphs">Count of low</text>
<text x="285.50" y="458.00" font-size="10" font-weight="bold" textLength="49.30" lengthAdjust="spacingAndGlyphs">expressing</text>
<text x="285.50" y="470.80" font-size="10" font-weight="bold" textLength="102.40" lengthAdjust="spacingAndGlyphs">homoeologous alleles</text>
<path d="M479.03 29.21a1.6 1.6 0 1 0 3.2 0a1.6 1.6 0 1 0 -3.2 0zM500.66 38.40a1.6 1.6 0 1 0 3.2 0a1.6 1.6 0 1 0 -3.2 0zM471.95 45.10a1.6 1.6 0 1 0 3.2 0a1.6 1.6 0 1 0 -3.2 0zM483.82 46.44a1.6 1.6 0 1 0 3.2 0a1.6 1.6 0 1 0 -3.2 0zM474.82 49.89a1.6 1.6 0 1 0 3.2 0a1.6 1.6 0 1 0 -3.2 0zM514.06 46.44a1.6 1.6 0 1 0 3.2 0a1.6 1.6 0 1 0 -3.2 0zM510.24 48.36a1.6 1.6 0 1 0 3.2 0a1.6 1.6 0 1 0 -3.2 0zM502.19 52.38a1.6 1.6 0 1 0 3.2 0a1.6 1.6 0 1 0 -3.2 0zM488.22 53.33a1.6 1.6 0 1 0 3.2 0a1.6 1.6 0 1 0 -3.2 0zM490.13 54.10a1.6 1.6 0 1 0 3.2 0a1.6 1.6 0 1 0 -3.2 0zM493.96 54.10a1.6 1.6 0 1 0 3.2 0a1.6 1.6 0 1 0 -3.2 0zM497.79 54.67a1.6 1.6 0 1 0 3.2 0a1.6 1.6 0 1 0 -3.2 0zM486.30 55.63a1.6 1.6 0 1 0 3.2 0a1.6 1.6 0 1 0 -3.2 0zM475.77 54.67a1.6 1.6 0 1 0 3.2 0a1.6 1.6 0 1 0 -3.2 0zM475.77 57.93a1.6 1.6 0 1 0 3.2 0a1.6 1.6 0 1 0 -3.2 0zM506.79 56.59a1.6 1.6 0 1 0 3.2 0a1.6 1.6 0 1 0 -3.2 0zM496.83 59.46a1.6 1.6 0 1 0 3.2 0a1.6 1.6 0 1 0 -3.2 0zM496.83 62.33a1.6 1.6 0 1 0 3.2 0a1.6 1.6 0 1 0 -3.2 0zM480.56 59.46a1.6 1.6 0 1 0 3.2 0a1.6 1.6 0 1 0 -3.2 0zM483.43 61.37a1.6 1.6 0 1 0 3.2 0a1.6 1.6 0 1 0 -3.2 0zM485.35 58.50a1.6 1.6 0 1 0 3.2 0a1.6 1.6 0 1 0 -3.2 0zM474.82 63.29a1.6 1.6 0 1 0 3.2 0a1.6 1.6 0 1 0 -3.2 0zM448.02 60.42a1.6 1.6 0 1 0 3.2 0a1.6 1.6 0 1 0 -3.2 0zM454.72 57.55a1.6 1.6 0 1 0 3.2 0a1.6 1.6 0 1 0 -3.2 0zM454.72 61.37a1.6 1.6 0 1 0 3.2 0a1.6 1.6 0 1 0 -3.2 0zM458.54 64.25a1.6 1.6 0 1 0 3.2 0a1.6 1.6 0 1 0 -3.2 0zM467.16 61.37a1.6 1.6 0 1 0 3.2 0a1.6 1.6 0 1 0 -3.2 0zM468.12 65.20a1.6 1.6 0 1 0 3.2 0a1.6 1.6 0 1 0 -3.2 0zM464.29 66.16a1.6 1.6 0 1 0 3.2 0a1.6 1.6 0 1 0 -3.2 0zM466.20 68.08a1.6 1.6 0 1 0 3.2 0a1.6 1.6 0 1 0 -3.2 0zM504.49 64.25a1.6 1.6 0 1 0 3.2 0a1.6 1.6 0 1 0 -3.2 0zM497.79 65.20a1.6 1.6 0 1 0 3.2 0a1.6 1.6 0 1 0 -3.2 0zM497.79 67.12a1.6 1.6 0 1 0 3.2 0a1.6 1.6 0 1 0 -3.2 0zM489.18 63.29a1.6 1.6 0 1 0 3.2 0a1.6 1.6 0 1 0 -3.2 0zM490.13 66.16a1.6 1.6 0 1 0 3.2 0a1.6 1.6 0 1 0 -3.2 0zM491.09 69.03a1.6 1.6 0 1 0 3.2 0a1.6 1.6 0 1 0 -3.2 0zM485.35 68.08a1.6 1.6 0 1 0 3.2 0a1.6 1.6 0 1 0 -3.2 0zM484.39 71.90a1.6 1.6 0 1 0 3.2 0a1.6 1.6 0 1 0 -3.2 0zM528.42 67.50a1.6 1.6 0 1 0 3.2 0a1.6 1.6 0 1 0 -3.2 0zM473.86 67.12a1.6 1.6 0 1 0 3.2 0a1.6 1.6 0 1 0 -3.2 0zM473.86 70.95a1.6 1.6 0 1 0 3.2 0a1.6 1.6 0 1 0 -3.2 0zM478.65 70.95a1.6 1.6 0 1 0 3.2 0a1.6 1.6 0 1 0 -3.2 0zM449.93 69.03a1.6 1.6 0 1 0 3.2 0a1.6 1.6 0 1 0 -3.2 0zM448.97 74.78a1.6 1.6 0 1 0 3.2 0a1.6 1.6 0 1 0 -3.2 0zM455.67 73.82a1.6 1.6 0 1 0 3.2 0a1.6 1.6 0 1 0 -3.2 0zM453.76 76.69a1.6 1.6 0 1 0 3.2 0a1.6 1.6 0 1 0 -3.2 0zM458.54 76.69a1.6 1.6 0 1 0 3.2 0a1.6 1.6 0 1 0 -3.2 0zM462.37 71.90a1.6 1.6 0 1 0 3.2 0a1.6 1.6 0 1 0 -3.2 0zM464.29 70.95a1.6 1.6 0 1 0 3.2 0a1.6 1.6 0 1 0 -3.2 0zM463.33 75.73a1.6 1.6 0 1 0 3.2 0a1.6 1.6 0 1 0 -3.2 0zM466.20 74.78a1.6 1.6 0 1 0 3.2 0a1.6 1.6 0 1 0 -3.2 0zM460.46 78.60a1.6 1.6 0 1 0 3.2 0a1.6 1.6 0 1 0 -3.2 0zM470.03 72.86a1.6 1.6 0 1 0 3.2 0a1.6 1.6 0 1 0 -3.2 0zM470.99 77.65a1.6 1.6 0 1 0 3.2 0a1.6 1.6 0 1 0 -3.2 0zM474.82 76.31a1.6 1.6 0 1 0 3.2 0a1.6 1.6 0 1 0 -3.2 0zM477.69 74.78a1.6 1.6 0 1 0 3.2 0a1.6 1.6 0 1 0 -3.2 0zM480.56 76.69a1.6 1.6 0 1 0 3.2 0a1.6 1.6 0 1 0 -3.2 0zM482.48 75.16a1.6 1.6 0 1 0 3.2 0a1.6 1.6 0 1 0 -3.2 0zM488.22 73.82a1.6 1.6 0 1 0 3.2 0a1.6 1.6 0 1 0 -3.2 0zM493.00 73.82a1.6 1.6 0 1 0 3.2 0a1.6 1.6 0 1 0 -3.2 0zM494.92 71.90a1.6 1.6 0 1 0 3.2 0a1.6 1.6 0 1 0 -3.2 0zM496.83 72.86a1.6 1.6 0 1 0 3.2 0a1.6 1.6 0 1 0 -3.2 0zM496.83 75.73a1.6 1.6 0 1 0 3.2 0a1.6 1.6 0 1 0 -3.2 0zM494.92 77.65a1.6 1.6 0 1 0 3.2 0a1.6 1.6 0 1 0 -3.2 0zM506.79 76.69a1.6 1.6 0 1 0 3.2 0a1.6 1.6 0 1 0 -3.2 0zM444.19 81.48a1.6 1.6 0 1 0 3.2 0a1.6 1.6 0 1 0 -3.2 0zM448.02 80.52a1.6 1.6 0 1 0 3.2 0a1.6 1.6 0 1 0 -3.2 0zM454.72 81.48a1.6 1.6 0 1 0 3.2 0a1.6 1.6 0 1 0 -3.2 0zM457.59 82.43a1.6 1.6 0 1 0 3.2 0a1.6 1.6 0 1 0 -3.2 0zM462.37 81.48a1.6 1.6 0 1 0 3.2 0a1.6 1.6 0 1 0 -3.2 0zM466.20 82.43a1.6 1.6 0 1 0 3.2 0a1.6 1.6 0 1 0 -3.2 0zM468.12 79.56a1.6 1.6 0 1 0 3.2 0a1.6 1.6 0 1 0 -3.2 0zM470.03 81.48a1.6 1.6 0 1 0 3.2 0a1.6 1.6 0 1 0 -3.2 0zM471.95 80.52a1.6 1.6 0 1 0 3.2 0a1.6 1.6 0 1 0 -3.2 0zM474.82 79.56a1.6 1.6 0 1 0 3.2 0a1.6 1.6 0 1 0 -3.2 0zM476.73 81.48a1.6 1.6 0 1 0 3.2 0a1.6 1.6 0 1 0 -3.2 0zM478.65 79.56a1.6 1.6 0 1 0 3.2 0a1.6 1.6 0 1 0 -3.2 0zM480.56 82.43a1.6 1.6 0 1 0 3.2 0a1.6 1.6 0 1 0 -3.2 0zM483.43 80.52a1.6 1.6 0 1 0 3.2 0a1.6 1.6 0 1 0 -3.2 0zM489.18 81.48a1.6 1.6 0 1 0 3.2 0a1.6 1.6 0 1 0 -3.2 0zM492.05 79.56a1.6 1.6 0 1 0 3.2 0a1.6 1.6 0 1 0 -3.2 0zM495.88 83.39a1.6 1.6 0 1 0 3.2 0a1.6 1.6 0 1 0 -3.2 0zM500.66 82.43a1.6 1.6 0 1 0 3.2 0a1.6 1.6 0 1 0 -3.2 0zM511.77 80.90a1.6 1.6 0 1 0 3.2 0a1.6 1.6 0 1 0 -3.2 0zM447.06 86.26a1.6 1.6 0 1 0 3.2 0a1.6 1.6 0 1 0 -3.2 0zM451.84 86.26a1.6 1.6 0 1 0 3.2 0a1.6 1.6 0 1 0 -3.2 0zM457.59 85.31a1.6 1.6 0 1 0 3.2 0a1.6 1.6 0 1 0 -3.2 0zM463.33 86.26a1.6 1.6 0 1 0 3.2 0a1.6 1.6 0 1 0 -3.2 0zM464.29 88.18a1.6 1.6 0 1 0 3.2 0a1.6 1.6 0 1 0 -3.2 0zM468.12 87.22a1.6 1.6 0 1 0 3.2 0a1.6 1.6 0 1 0 -3.2 0zM469.07 85.88a1.6 1.6 0 1 0 3.2 0a1.6 1.6 0 1 0 -3.2 0zM470.99 88.18a1.6 1.6 0 1 0 3.2 0a1.6 1.6 0 1 0 -3.2 0zM472.90 87.22a1.6 1.6 0 1 0 3.2 0a1.6 1.6 0 1 0 -3.2 0zM475.77 86.26a1.6 1.6 0 1 0 3.2 0a1.6 1.6 0 1 0 -3.2 0zM477.69 88.18a1.6 1.6 0 1 0 3.2 0a1.6 1.6 0 1 0 -3.2 0zM479.60 86.26a1.6 1.6 0 1 0 3.2 0a1.6 1.6 0 1 0 -3.2 0zM482.48 84.35a1.6 1.6 0 1 0 3.2 0a1.6 1.6 0 1 0 -3.2 0zM483.43 86.26a1.6 1.6 0 1 0 3.2 0a1.6 1.6 0 1 0 -3.2 0zM453.76 91.05a1.6 1.6 0 1 0 3.2 0a1.6 1.6 0 1 0 -3.2 0zM457.59 92.01a1.6 1.6 0 1 0 3.2 0a1.6 1.6 0 1 0 -3.2 0zM462.37 91.05a1.6 1.6 0 1 0 3.2 0a1.6 1.6 0 1 0 -3.2 0zM467.16 90.09a1.6 1.6 0 1 0 3.2 0a1.6 1.6 0 1 0 -3.2 0zM470.03 91.05a1.6 1.6 0 1 0 3.2 0a1.6 1.6 0 1 0 -3.2 0zM472.90 91.05a1.6 1.6 0 1 0 3.2 0a1.6 1.6 0 1 0 -3.2 0zM475.77 90.09a1.6 1.6 0 1 0 3.2 0a1.6 1.6 0 1 0 -3.2 0zM478.65 91.05a1.6 1.6 0 1 0 3.2 0a1.6 1.6 0 1 0 -3.2 0zM480.56 90.09a1.6 1.6 0 1 0 3.2 0a1.6 1.6 0 1 0 -3.2 0zM483.43 90.09a1.6 1.6 0 1 0 3.2 0a1.6 1.6 0 1 0 -3.2 0zM452.80 91.05a1.6 1.6 0 1 0 3.2 0a1.6 1.6 0 1 0 -3.2 0zM460.46 93.92a1.6 1.6 0 1 0 3.2 0a1.6 1.6 0 1 0 -3.2 0zM466.20 94.88a1.6 1.6 0 1 0 3.2 0a1.6 1.6 0 1 0 -3.2 0zM471.95 93.92a1.6 1.6 0 1 0 3.2 0a1.6 1.6 0 1 0 -3.2 0zM474.82 94.88a1.6 1.6 0 1 0 3.2 0a1.6 1.6 0 1 0 -3.2 0zM476.73 93.92a1.6 1.6 0 1 0 3.2 0a1.6 1.6 0 1 0 -3.2 0zM479.60 92.96a1.6 1.6 0 1 0 3.2 0a1.6 1.6 0 1 0 -3.2 0zM458.54 97.75a1.6 1.6 0 1 0 3.2 0a1.6 1.6 0 1 0 -3.2 0zM462.37 97.37a1.6 1.6 0 1 0 3.2 0a1.6 1.6 0 1 0 -3.2 0zM467.16 98.71a1.6 1.6 0 1 0 3.2 0a1.6 1.6 0 1 0 -3.2 0zM471.95 97.75a1.6 1.6 0 1 0 3.2 0a1.6 1.6 0 1 0 -3.2 0zM473.86 99.66a1.6 1.6 0 1 0 3.2 0a1.6 1.6 0 1 0 -3.2 0zM476.73 96.79a1.6 1.6 0 1 0 3.2 0a1.6 1.6 0 1 0 -3.2 0zM480.56 98.71a1.6 1.6 0 1 0 3.2 0a1.6 1.6 0 1 0 -3.2 0zM489.18 99.66a1.6 1.6 0 1 0 3.2 0a1.6 1.6 0 1 0 -3.2 0zM498.75 98.71a1.6 1.6 0 1 0 3.2 0a1.6 1.6 0 1 0 -3.2 0zM521.72 98.71a1.6 1.6 0 1 0 3.2 0a1.6 1.6 0 1 0 -3.2 0zM445.14 98.71a1.6 1.6 0 1 0 3.2 0a1.6 1.6 0 1 0 -3.2 0zM449.93 104.45a1.6 1.6 0 1 0 3.2 0a1.6 1.6 0 1 0 -3.2 0zM458.54 103.49a1.6 1.6 0 1 0 3.2 0a1.6 1.6 0 1 0 -3.2 0zM464.29 106.36a1.6 1.6 0 1 0 3.2 0a1.6 1.6 0 1 0 -3.2 0zM471.95 104.45a1.6 1.6 0 1 0 3.2 0a1.6 1.6 0 1 0 -3.2 0zM473.86 102.54a1.6 1.6 0 1 0 3.2 0a1.6 1.6 0 1 0 -3.2 0zM479.60 103.49a1.6 1.6 0 1 0 3.2 0a1.6 1.6 0 1 0 -3.2 0zM497.79 102.54a1.6 1.6 0 1 0 3.2 0a1.6 1.6 0 1 0 -3.2 0zM451.84 108.28a1.6 1.6 0 1 0 3.2 0a1.6 1.6 0 1 0 -3.2 0zM455.67 109.24a1.6 1.6 0 1 0 3.2 0a1.6 1.6 0 1 0 -3.2 0zM475.77 109.24a1.6 1.6 0 1 0 3.2 0a1.6 1.6 0 1 0 -3.2 0zM473.86 113.07a1.6 1.6 0 1 0 3.2 0a1.6 1.6 0 1 0 -3.2 0zM472.90 100.62a1.6 1.6 0 1 0 3.2 0a1.6 1.6 0 1 0 -3.2 0zM470.03 101.58a1.6 1.6 0 1 0 3.2 0a1.6 1.6 0 1 0 -3.2 0zM468.01 93.33a1.6 1.6 0 1 0 3.2 0a1.6 1.6 0 1 0 -3.2 0zM467.68 94.61a1.6 1.6 0 1 0 3.2 0a1.6 1.6 0 1 0 -3.2 0zM473.62 86.39a1.6 1.6 0 1 0 3.2 0a1.6 1.6 0 1 0 -3.2 0zM479.46 83.88a1.6 1.6 0 1 0 3.2 0a1.6 1.6 0 1 0 -3.2 0zM469.58 75.02a1.6 1.6 0 1 0 3.2 0a1.6 1.6 0 1 0 -3.2 0zM465.03 89.78a1.6 1.6 0 1 0 3.2 0a1.6 1.6 0 1 0 -3.2 0zM472.62 74.23a1.6 1.6 0 1 0 3.2 0a1.6 1.6 0 1 0 -3.2 0zM481.86 77.34a1.6 1.6 0 1 0 3.2 0a1.6 1.6 0 1 0 -3.2 0zM472.05 77.93a1.6 1.6 0 1 0 3.2 0a1.6 1.6 0 1 0 -3.2 0zM476.57 85.53a1.6 1.6 0 1 0 3.2 0a1.6 1.6 0 1 0 -3.2 0zM475.96 77.11a1.6 1.6 0 1 0 3.2 0a1.6 1.6 0 1 0 -3.2 0zM469.33 76.79a1.6 1.6 0 1 0 3.2 0a1.6 1.6 0 1 0 -3.2 0zM470.23 73.85a1.6 1.6 0 1 0 3.2 0a1.6 1.6 0 1 0 -3.2 0zM466.82 95.83a1.6 1.6 0 1 0 3.2 0a1.6 1.6 0 1 0 -3.2 0zM483.55 75.04a1.6 1.6 0 1 0 3.2 0a1.6 1.6 0 1 0 -3.2 0zM463.84 75.47a1.6 1.6 0 1 0 3.2 0a1.6 1.6 0 1 0 -3.2 0zM478.07 90.88a1.6 1.6 0 1 0 3.2 0a1.6 1.6 0 1 0 -3.2 0zM463.81 85.47a1.6 1.6 0 1 0 3.2 0a1.6 1.6 0 1 0 -3.2 0zM463.37 83.81a1.6 1.6 0 1 0 3.2 0a1.6 1.6 0 1 0 -3.2 0zM476.80 96.41a1.6 1.6 0 1 0 3.2 0a1.6 1.6 0 1 0 -3.2 0zM468.79 91.50a1.6 1.6 0 1 0 3.2 0a1.6 1.6 0 1 0 -3.2 0zM481.66 94.72a1.6 1.6 0 1 0 3.2 0a1.6 1.6 0 1 0 -3.2 0zM463.38 82.57a1.6 1.6 0 1 0 3.2 0a1.6 1.6 0 1 0 -3.2 0zM484.00 80.68a1.6 1.6 0 1 0 3.2 0a1.6 1.6 0 1 0 -3.2 0zM480.47 84.64a1.6 1.6 0 1 0 3.2 0a1.6 1.6 0 1 0 -3.2 0zM479.56 82.99a1.6 1.6 0 1 0 3.2 0a1.6 1.6 0 1 0 -3.2 0zM463.94 72.31a1.6 1.6 0 1 0 3.2 0a1.6 1.6 0 1 0 -3.2 0zM465.68 76.72a1.6 1.6 0 1 0 3.2 0a1.6 1.6 0 1 0 -3.2 0zM483.65 86.92a1.6 1.6 0 1 0 3.2 0a1.6 1.6 0 1 0 -3.2 0zM480.53 85.16a1.6 1.6 0 1 0 3.2 0a1.6 1.6 0 1 0 -3.2 0zM476.71 91.75a1.6 1.6 0 1 0 3.2 0a1.6 1.6 0 1 0 -3.2 0zM482.85 94.45a1.6 1.6 0 1 0 3.2 0a1.6 1.6 0 1 0 -3.2 0zM480.70 72.51a1.6 1.6 0 1 0 3.2 0a1.6 1.6 0 1 0 -3.2 0zM470.93 70.94a1.6 1.6 0 1 0 3.2 0a1.6 1.6 0 1 0 -3.2 0zM474.84 91.33a1.6 1.6 0 1 0 3.2 0a1.6 1.6 0 1 0 -3.2 0zM464.41 75.05a1.6 1.6 0 1 0 3.2 0a1.6 1.6 0 1 0 -3.2 0zM471.03 76.54a1.6 1.6 0 1 0 3.2 0a1.6 1.6 0 1 0 -3.2 0zM480.07 79.43a1.6 1.6 0 1 0 3.2 0a1.6 1.6 0 1 0 -3.2 0zM476.78 83.21a1.6 1.6 0 1 0 3.2 0a1.6 1.6 0 1 0 -3.2 0zM475.62 95.17a1.6 1.6 0 1 0 3.2 0a1.6 1.6 0 1 0 -3.2 0zM483.20 72.98a1.6 1.6 0 1 0 3.2 0a1.6 1.6 0 1 0 -3.2 0zM481.10 79.26a1.6 1.6 0 1 0 3.2 0a1.6 1.6 0 1 0 -3.2 0zM465.45 80.27a1.6 1.6 0 1 0 3.2 0a1.6 1.6 0 1 0 -3.2 0zM474.08 95.75a1.6 1.6 0 1 0 3.2 0a1.6 1.6 0 1 0 -3.2 0zM471.15 70.32a1.6 1.6 0 1 0 3.2 0a1.6 1.6 0 1 0 -3.2 0z" fill="#222" fill-opacity="0.86"/>
<line x1="445.20" y1="88.90" x2="529.40" y2="58.60" stroke="#e8403c" stroke-width="0.9" stroke-dasharray="2.5 1.8"/>
<path d="M441.30 25.50V116.30H533.90" stroke="#111" stroke-width="1.6" fill="none"/>
<line x1="437.70" y1="30.30" x2="441.30" y2="30.30" stroke="#111" stroke-width="1"/>
<line x1="437.70" y1="53.70" x2="441.30" y2="53.70" stroke="#111" stroke-width="1"/>
<line x1="437.70" y1="77.10" x2="441.30" y2="77.10" stroke="#111" stroke-width="1"/>
<line x1="437.70" y1="100.50" x2="441.30" y2="100.50" stroke="#111" stroke-width="1"/>
<text x="435.90" y="37.15" font-size="10" text-anchor="end" textLength="13.60" lengthAdjust="spacingAndGlyphs">0.8</text>
<text x="435.90" y="59.65" font-size="10" text-anchor="end" textLength="13.60" lengthAdjust="spacingAndGlyphs">0.4</text>
<text x="435.90" y="82.70" font-size="10" text-anchor="end" textLength="13.60" lengthAdjust="spacingAndGlyphs">0.0</text>
<text x="435.90" y="105.40" font-size="10" text-anchor="end" textLength="19.20" lengthAdjust="spacingAndGlyphs">−0.4</text>
<line x1="441.30" y1="116.30" x2="441.30" y2="120.10" stroke="#111" stroke-width="1"/>
<line x1="459.75" y1="116.30" x2="459.75" y2="120.10" stroke="#111" stroke-width="1"/>
<line x1="478.20" y1="116.30" x2="478.20" y2="120.10" stroke="#111" stroke-width="1"/>
<line x1="496.65" y1="116.30" x2="496.65" y2="120.10" stroke="#111" stroke-width="1"/>
<line x1="515.10" y1="116.30" x2="515.10" y2="120.10" stroke="#111" stroke-width="1"/>
<line x1="533.55" y1="116.30" x2="533.55" y2="120.10" stroke="#111" stroke-width="1"/>
<text x="440.80" y="131.60" font-size="10" text-anchor="middle" textLength="9.00" lengthAdjust="spacingAndGlyphs">-2</text>
<text x="459.90" y="131.60" font-size="10" text-anchor="middle" textLength="8.20" lengthAdjust="spacingAndGlyphs">-1</text>
<text x="478.10" y="131.60" font-size="10" text-anchor="middle" textLength="5.50" lengthAdjust="spacingAndGlyphs">0</text>
<text x="496.70" y="131.60" font-size="10" text-anchor="middle" textLength="5.00" lengthAdjust="spacingAndGlyphs">1</text>
<text x="515.00" y="131.60" font-size="10" text-anchor="middle" textLength="6.50" lengthAdjust="spacingAndGlyphs">2</text>
<text x="533.80" y="131.60" font-size="10" text-anchor="middle" textLength="5.70" lengthAdjust="spacingAndGlyphs">3</text>
<text x="487.00" y="143.20" font-size="9.8" font-weight="bold" text-anchor="middle">SPN</text>
<text x="447.70" y="26.80" font-size="10" font-weight="bold" textLength="47.80" lengthAdjust="spacingAndGlyphs">SCC = 0.35</text>
<text x="415.00" y="67.00" font-size="10.2" font-weight="bold" text-anchor="middle" textLength="44.60" lengthAdjust="spacingAndGlyphs" transform="rotate(-90 415.00 67.00)">Predicted</text>
<path d="M610.63 28.83a1.6 1.6 0 1 0 3.2 0a1.6 1.6 0 1 0 -3.2 0zM609.29 36.86a1.6 1.6 0 1 0 3.2 0a1.6 1.6 0 1 0 -3.2 0zM606.80 39.35a1.6 1.6 0 1 0 3.2 0a1.6 1.6 0 1 0 -3.2 0zM628.42 38.01a1.6 1.6 0 1 0 3.2 0a1.6 1.6 0 1 0 -3.2 0zM660.00 38.78a1.6 1.6 0 1 0 3.2 0a1.6 1.6 0 1 0 -3.2 0zM566.61 48.92a1.6 1.6 0 1 0 3.2 0a1.6 1.6 0 1 0 -3.2 0zM580.01 47.39a1.6 1.6 0 1 0 3.2 0a1.6 1.6 0 1 0 -3.2 0zM588.23 43.75a1.6 1.6 0 1 0 3.2 0a1.6 1.6 0 1 0 -3.2 0zM592.06 42.80a1.6 1.6 0 1 0 3.2 0a1.6 1.6 0 1 0 -3.2 0zM603.54 44.71a1.6 1.6 0 1 0 3.2 0a1.6 1.6 0 1 0 -3.2 0zM613.11 46.43a1.6 1.6 0 1 0 3.2 0a1.6 1.6 0 1 0 -3.2 0zM617.90 44.14a1.6 1.6 0 1 0 3.2 0a1.6 1.6 0 1 0 -3.2 0zM621.72 43.18a1.6 1.6 0 1 0 3.2 0a1.6 1.6 0 1 0 -3.2 0zM629.00 45.67a1.6 1.6 0 1 0 3.2 0a1.6 1.6 0 1 0 -3.2 0zM637.42 47.96a1.6 1.6 0 1 0 3.2 0a1.6 1.6 0 1 0 -3.2 0zM647.56 48.92a1.6 1.6 0 1 0 3.2 0a1.6 1.6 0 1 0 -3.2 0zM642.78 52.17a1.6 1.6 0 1 0 3.2 0a1.6 1.6 0 1 0 -3.2 0zM592.06 49.88a1.6 1.6 0 1 0 3.2 0a1.6 1.6 0 1 0 -3.2 0zM593.98 50.83a1.6 1.6 0 1 0 3.2 0a1.6 1.6 0 1 0 -3.2 0zM597.80 47.96a1.6 1.6 0 1 0 3.2 0a1.6 1.6 0 1 0 -3.2 0zM599.72 49.88a1.6 1.6 0 1 0 3.2 0a1.6 1.6 0 1 0 -3.2 0zM595.89 54.66a1.6 1.6 0 1 0 3.2 0a1.6 1.6 0 1 0 -3.2 0zM603.54 51.79a1.6 1.6 0 1 0 3.2 0a1.6 1.6 0 1 0 -3.2 0zM605.46 48.92a1.6 1.6 0 1 0 3.2 0a1.6 1.6 0 1 0 -3.2 0zM608.33 47.96a1.6 1.6 0 1 0 3.2 0a1.6 1.6 0 1 0 -3.2 0zM610.24 51.79a1.6 1.6 0 1 0 3.2 0a1.6 1.6 0 1 0 -3.2 0zM614.07 50.83a1.6 1.6 0 1 0 3.2 0a1.6 1.6 0 1 0 -3.2 0zM618.85 47.96a1.6 1.6 0 1 0 3.2 0a1.6 1.6 0 1 0 -3.2 0zM619.81 50.83a1.6 1.6 0 1 0 3.2 0a1.6 1.6 0 1 0 -3.2 0zM621.72 49.50a1.6 1.6 0 1 0 3.2 0a1.6 1.6 0 1 0 -3.2 0zM626.51 54.66a1.6 1.6 0 1 0 3.2 0a1.6 1.6 0 1 0 -3.2 0zM631.29 54.66a1.6 1.6 0 1 0 3.2 0a1.6 1.6 0 1 0 -3.2 0zM587.28 57.53a1.6 1.6 0 1 0 3.2 0a1.6 1.6 0 1 0 -3.2 0zM586.32 60.40a1.6 1.6 0 1 0 3.2 0a1.6 1.6 0 1 0 -3.2 0zM591.11 59.45a1.6 1.6 0 1 0 3.2 0a1.6 1.6 0 1 0 -3.2 0zM593.98 61.36a1.6 1.6 0 1 0 3.2 0a1.6 1.6 0 1 0 -3.2 0zM598.76 58.49a1.6 1.6 0 1 0 3.2 0a1.6 1.6 0 1 0 -3.2 0zM601.63 56.58a1.6 1.6 0 1 0 3.2 0a1.6 1.6 0 1 0 -3.2 0zM604.50 57.53a1.6 1.6 0 1 0 3.2 0a1.6 1.6 0 1 0 -3.2 0zM607.37 56.58a1.6 1.6 0 1 0 3.2 0a1.6 1.6 0 1 0 -3.2 0zM610.24 55.62a1.6 1.6 0 1 0 3.2 0a1.6 1.6 0 1 0 -3.2 0zM612.16 57.53a1.6 1.6 0 1 0 3.2 0a1.6 1.6 0 1 0 -3.2 0zM616.94 55.62a1.6 1.6 0 1 0 3.2 0a1.6 1.6 0 1 0 -3.2 0zM617.90 58.49a1.6 1.6 0 1 0 3.2 0a1.6 1.6 0 1 0 -3.2 0zM623.64 58.49a1.6 1.6 0 1 0 3.2 0a1.6 1.6 0 1 0 -3.2 0zM628.42 58.49a1.6 1.6 0 1 0 3.2 0a1.6 1.6 0 1 0 -3.2 0zM633.21 59.45a1.6 1.6 0 1 0 3.2 0a1.6 1.6 0 1 0 -3.2 0zM637.03 58.49a1.6 1.6 0 1 0 3.2 0a1.6 1.6 0 1 0 -3.2 0zM584.41 66.14a1.6 1.6 0 1 0 3.2 0a1.6 1.6 0 1 0 -3.2 0zM589.19 65.19a1.6 1.6 0 1 0 3.2 0a1.6 1.6 0 1 0 -3.2 0zM592.06 64.23a1.6 1.6 0 1 0 3.2 0a1.6 1.6 0 1 0 -3.2 0zM596.85 63.27a1.6 1.6 0 1 0 3.2 0a1.6 1.6 0 1 0 -3.2 0zM599.72 66.14a1.6 1.6 0 1 0 3.2 0a1.6 1.6 0 1 0 -3.2 0zM602.59 65.19a1.6 1.6 0 1 0 3.2 0a1.6 1.6 0 1 0 -3.2 0zM605.46 62.32a1.6 1.6 0 1 0 3.2 0a1.6 1.6 0 1 0 -3.2 0zM608.33 66.14a1.6 1.6 0 1 0 3.2 0a1.6 1.6 0 1 0 -3.2 0zM613.11 62.32a1.6 1.6 0 1 0 3.2 0a1.6 1.6 0 1 0 -3.2 0zM614.07 65.19a1.6 1.6 0 1 0 3.2 0a1.6 1.6 0 1 0 -3.2 0zM616.94 62.32a1.6 1.6 0 1 0 3.2 0a1.6 1.6 0 1 0 -3.2 0zM619.81 64.23a1.6 1.6 0 1 0 3.2 0a1.6 1.6 0 1 0 -3.2 0zM624.60 64.23a1.6 1.6 0 1 0 3.2 0a1.6 1.6 0 1 0 -3.2 0zM630.34 63.27a1.6 1.6 0 1 0 3.2 0a1.6 1.6 0 1 0 -3.2 0zM645.65 63.27a1.6 1.6 0 1 0 3.2 0a1.6 1.6 0 1 0 -3.2 0zM651.39 63.27a1.6 1.6 0 1 0 3.2 0a1.6 1.6 0 1 0 -3.2 0zM653.30 65.19a1.6 1.6 0 1 0 3.2 0a1.6 1.6 0 1 0 -3.2 0zM655.21 68.06a1.6 1.6 0 1 0 3.2 0a1.6 1.6 0 1 0 -3.2 0zM579.62 71.89a1.6 1.6 0 1 0 3.2 0a1.6 1.6 0 1 0 -3.2 0zM577.71 73.80a1.6 1.6 0 1 0 3.2 0a1.6 1.6 0 1 0 -3.2 0zM581.54 71.89a1.6 1.6 0 1 0 3.2 0a1.6 1.6 0 1 0 -3.2 0zM589.19 70.93a1.6 1.6 0 1 0 3.2 0a1.6 1.6 0 1 0 -3.2 0zM591.11 73.80a1.6 1.6 0 1 0 3.2 0a1.6 1.6 0 1 0 -3.2 0zM593.02 75.71a1.6 1.6 0 1 0 3.2 0a1.6 1.6 0 1 0 -3.2 0zM594.93 71.89a1.6 1.6 0 1 0 3.2 0a1.6 1.6 0 1 0 -3.2 0zM597.80 69.97a1.6 1.6 0 1 0 3.2 0a1.6 1.6 0 1 0 -3.2 0zM599.72 72.84a1.6 1.6 0 1 0 3.2 0a1.6 1.6 0 1 0 -3.2 0zM602.59 71.89a1.6 1.6 0 1 0 3.2 0a1.6 1.6 0 1 0 -3.2 0zM605.46 69.97a1.6 1.6 0 1 0 3.2 0a1.6 1.6 0 1 0 -3.2 0zM607.37 72.84a1.6 1.6 0 1 0 3.2 0a1.6 1.6 0 1 0 -3.2 0zM610.24 70.93a1.6 1.6 0 1 0 3.2 0a1.6 1.6 0 1 0 -3.2 0zM612.16 69.02a1.6 1.6 0 1 0 3.2 0a1.6 1.6 0 1 0 -3.2 0zM615.03 70.93a1.6 1.6 0 1 0 3.2 0a1.6 1.6 0 1 0 -3.2 0zM615.98 68.06a1.6 1.6 0 1 0 3.2 0a1.6 1.6 0 1 0 -3.2 0zM617.90 73.80a1.6 1.6 0 1 0 3.2 0a1.6 1.6 0 1 0 -3.2 0zM621.72 70.93a1.6 1.6 0 1 0 3.2 0a1.6 1.6 0 1 0 -3.2 0zM624.60 72.84a1.6 1.6 0 1 0 3.2 0a1.6 1.6 0 1 0 -3.2 0zM627.47 71.89a1.6 1.6 0 1 0 3.2 0a1.6 1.6 0 1 0 -3.2 0zM628.42 68.06a1.6 1.6 0 1 0 3.2 0a1.6 1.6 0 1 0 -3.2 0zM632.25 71.89a1.6 1.6 0 1 0 3.2 0a1.6 1.6 0 1 0 -3.2 0zM637.03 72.84a1.6 1.6 0 1 0 3.2 0a1.6 1.6 0 1 0 -3.2 0zM638.95 71.89a1.6 1.6 0 1 0 3.2 0a1.6 1.6 0 1 0 -3.2 0zM576.75 75.71a1.6 1.6 0 1 0 3.2 0a1.6 1.6 0 1 0 -3.2 0zM572.93 76.67a1.6 1.6 0 1 0 3.2 0a1.6 1.6 0 1 0 -3.2 0zM575.80 79.54a1.6 1.6 0 1 0 3.2 0a1.6 1.6 0 1 0 -3.2 0zM583.45 77.63a1.6 1.6 0 1 0 3.2 0a1.6 1.6 0 1 0 -3.2 0zM582.49 80.50a1.6 1.6 0 1 0 3.2 0a1.6 1.6 0 1 0 -3.2 0zM587.28 77.63a1.6 1.6 0 1 0 3.2 0a1.6 1.6 0 1 0 -3.2 0zM590.15 74.76a1.6 1.6 0 1 0 3.2 0a1.6 1.6 0 1 0 -3.2 0zM593.98 78.58a1.6 1.6 0 1 0 3.2 0a1.6 1.6 0 1 0 -3.2 0zM598.76 77.63a1.6 1.6 0 1 0 3.2 0a1.6 1.6 0 1 0 -3.2 0zM602.59 77.63a1.6 1.6 0 1 0 3.2 0a1.6 1.6 0 1 0 -3.2 0zM604.50 74.76a1.6 1.6 0 1 0 3.2 0a1.6 1.6 0 1 0 -3.2 0zM608.33 76.67a1.6 1.6 0 1 0 3.2 0a1.6 1.6 0 1 0 -3.2 0zM610.24 79.54a1.6 1.6 0 1 0 3.2 0a1.6 1.6 0 1 0 -3.2 0zM613.11 78.58a1.6 1.6 0 1 0 3.2 0a1.6 1.6 0 1 0 -3.2 0zM616.94 78.58a1.6 1.6 0 1 0 3.2 0a1.6 1.6 0 1 0 -3.2 0zM619.81 76.67a1.6 1.6 0 1 0 3.2 0a1.6 1.6 0 1 0 -3.2 0zM625.55 75.71a1.6 1.6 0 1 0 3.2 0a1.6 1.6 0 1 0 -3.2 0zM629.38 78.58a1.6 1.6 0 1 0 3.2 0a1.6 1.6 0 1 0 -3.2 0zM628.42 80.50a1.6 1.6 0 1 0 3.2 0a1.6 1.6 0 1 0 -3.2 0zM625.55 83.37a1.6 1.6 0 1 0 3.2 0a1.6 1.6 0 1 0 -3.2 0zM645.65 80.50a1.6 1.6 0 1 0 3.2 0a1.6 1.6 0 1 0 -3.2 0zM581.54 86.24a1.6 1.6 0 1 0 3.2 0a1.6 1.6 0 1 0 -3.2 0zM585.36 85.28a1.6 1.6 0 1 0 3.2 0a1.6 1.6 0 1 0 -3.2 0zM587.28 83.37a1.6 1.6 0 1 0 3.2 0a1.6 1.6 0 1 0 -3.2 0zM591.11 84.32a1.6 1.6 0 1 0 3.2 0a1.6 1.6 0 1 0 -3.2 0zM593.98 84.32a1.6 1.6 0 1 0 3.2 0a1.6 1.6 0 1 0 -3.2 0zM596.85 86.24a1.6 1.6 0 1 0 3.2 0a1.6 1.6 0 1 0 -3.2 0zM599.72 85.28a1.6 1.6 0 1 0 3.2 0a1.6 1.6 0 1 0 -3.2 0zM602.59 84.32a1.6 1.6 0 1 0 3.2 0a1.6 1.6 0 1 0 -3.2 0zM605.46 86.24a1.6 1.6 0 1 0 3.2 0a1.6 1.6 0 1 0 -3.2 0zM608.33 82.41a1.6 1.6 0 1 0 3.2 0a1.6 1.6 0 1 0 -3.2 0zM612.16 84.32a1.6 1.6 0 1 0 3.2 0a1.6 1.6 0 1 0 -3.2 0zM614.07 87.20a1.6 1.6 0 1 0 3.2 0a1.6 1.6 0 1 0 -3.2 0zM613.11 91.02a1.6 1.6 0 1 0 3.2 0a1.6 1.6 0 1 0 -3.2 0zM617.90 82.41a1.6 1.6 0 1 0 3.2 0a1.6 1.6 0 1 0 -3.2 0zM638.95 87.20a1.6 1.6 0 1 0 3.2 0a1.6 1.6 0 1 0 -3.2 0zM580.58 94.28a1.6 1.6 0 1 0 3.2 0a1.6 1.6 0 1 0 -3.2 0zM581.54 95.81a1.6 1.6 0 1 0 3.2 0a1.6 1.6 0 1 0 -3.2 0zM587.28 92.94a1.6 1.6 0 1 0 3.2 0a1.6 1.6 0 1 0 -3.2 0zM590.15 96.76a1.6 1.6 0 1 0 3.2 0a1.6 1.6 0 1 0 -3.2 0zM594.93 94.85a1.6 1.6 0 1 0 3.2 0a1.6 1.6 0 1 0 -3.2 0zM601.63 89.11a1.6 1.6 0 1 0 3.2 0a1.6 1.6 0 1 0 -3.2 0zM574.26 103.46a1.6 1.6 0 1 0 3.2 0a1.6 1.6 0 1 0 -3.2 0zM604.12 107.67a1.6 1.6 0 1 0 3.2 0a1.6 1.6 0 1 0 -3.2 0zM588.23 113.03a1.6 1.6 0 1 0 3.2 0a1.6 1.6 0 1 0 -3.2 0zM622.36 56.89a1.6 1.6 0 1 0 3.2 0a1.6 1.6 0 1 0 -3.2 0zM608.50 78.10a1.6 1.6 0 1 0 3.2 0a1.6 1.6 0 1 0 -3.2 0zM609.82 66.53a1.6 1.6 0 1 0 3.2 0a1.6 1.6 0 1 0 -3.2 0zM620.21 54.29a1.6 1.6 0 1 0 3.2 0a1.6 1.6 0 1 0 -3.2 0zM611.93 65.51a1.6 1.6 0 1 0 3.2 0a1.6 1.6 0 1 0 -3.2 0zM626.93 76.71a1.6 1.6 0 1 0 3.2 0a1.6 1.6 0 1 0 -3.2 0zM593.07 59.17a1.6 1.6 0 1 0 3.2 0a1.6 1.6 0 1 0 -3.2 0zM607.56 73.88a1.6 1.6 0 1 0 3.2 0a1.6 1.6 0 1 0 -3.2 0zM603.18 64.04a1.6 1.6 0 1 0 3.2 0a1.6 1.6 0 1 0 -3.2 0zM624.61 81.08a1.6 1.6 0 1 0 3.2 0a1.6 1.6 0 1 0 -3.2 0zM605.93 79.50a1.6 1.6 0 1 0 3.2 0a1.6 1.6 0 1 0 -3.2 0zM603.11 56.08a1.6 1.6 0 1 0 3.2 0a1.6 1.6 0 1 0 -3.2 0zM610.26 72.68a1.6 1.6 0 1 0 3.2 0a1.6 1.6 0 1 0 -3.2 0zM623.57 81.41a1.6 1.6 0 1 0 3.2 0a1.6 1.6 0 1 0 -3.2 0zM619.10 75.50a1.6 1.6 0 1 0 3.2 0a1.6 1.6 0 1 0 -3.2 0zM616.92 73.84a1.6 1.6 0 1 0 3.2 0a1.6 1.6 0 1 0 -3.2 0zM619.01 81.67a1.6 1.6 0 1 0 3.2 0a1.6 1.6 0 1 0 -3.2 0zM604.69 56.09a1.6 1.6 0 1 0 3.2 0a1.6 1.6 0 1 0 -3.2 0zM599.82 60.06a1.6 1.6 0 1 0 3.2 0a1.6 1.6 0 1 0 -3.2 0zM604.33 76.97a1.6 1.6 0 1 0 3.2 0a1.6 1.6 0 1 0 -3.2 0zM593.29 66.62a1.6 1.6 0 1 0 3.2 0a1.6 1.6 0 1 0 -3.2 0zM620.67 61.29a1.6 1.6 0 1 0 3.2 0a1.6 1.6 0 1 0 -3.2 0zM593.41 60.66a1.6 1.6 0 1 0 3.2 0a1.6 1.6 0 1 0 -3.2 0zM594.20 76.89a1.6 1.6 0 1 0 3.2 0a1.6 1.6 0 1 0 -3.2 0zM597.30 59.31a1.6 1.6 0 1 0 3.2 0a1.6 1.6 0 1 0 -3.2 0zM620.73 76.97a1.6 1.6 0 1 0 3.2 0a1.6 1.6 0 1 0 -3.2 0zM612.54 79.96a1.6 1.6 0 1 0 3.2 0a1.6 1.6 0 1 0 -3.2 0zM593.28 81.41a1.6 1.6 0 1 0 3.2 0a1.6 1.6 0 1 0 -3.2 0zM611.87 62.39a1.6 1.6 0 1 0 3.2 0a1.6 1.6 0 1 0 -3.2 0zM621.13 72.63a1.6 1.6 0 1 0 3.2 0a1.6 1.6 0 1 0 -3.2 0zM626.97 56.79a1.6 1.6 0 1 0 3.2 0a1.6 1.6 0 1 0 -3.2 0zM612.23 67.28a1.6 1.6 0 1 0 3.2 0a1.6 1.6 0 1 0 -3.2 0zM614.82 60.65a1.6 1.6 0 1 0 3.2 0a1.6 1.6 0 1 0 -3.2 0zM592.24 69.33a1.6 1.6 0 1 0 3.2 0a1.6 1.6 0 1 0 -3.2 0zM604.37 79.32a1.6 1.6 0 1 0 3.2 0a1.6 1.6 0 1 0 -3.2 0zM607.81 65.72a1.6 1.6 0 1 0 3.2 0a1.6 1.6 0 1 0 -3.2 0zM614.12 68.84a1.6 1.6 0 1 0 3.2 0a1.6 1.6 0 1 0 -3.2 0zM626.06 76.35a1.6 1.6 0 1 0 3.2 0a1.6 1.6 0 1 0 -3.2 0zM609.17 59.77a1.6 1.6 0 1 0 3.2 0a1.6 1.6 0 1 0 -3.2 0zM613.07 75.19a1.6 1.6 0 1 0 3.2 0a1.6 1.6 0 1 0 -3.2 0zM618.59 82.22a1.6 1.6 0 1 0 3.2 0a1.6 1.6 0 1 0 -3.2 0zM599.05 65.92a1.6 1.6 0 1 0 3.2 0a1.6 1.6 0 1 0 -3.2 0zM606.52 62.85a1.6 1.6 0 1 0 3.2 0a1.6 1.6 0 1 0 -3.2 0zM604.39 67.42a1.6 1.6 0 1 0 3.2 0a1.6 1.6 0 1 0 -3.2 0zM610.82 61.32a1.6 1.6 0 1 0 3.2 0a1.6 1.6 0 1 0 -3.2 0z" fill="#222" fill-opacity="0.86"/>
<line x1="567.40" y1="77.40" x2="662.60" y2="57.10" stroke="#e8403c" stroke-width="0.9" stroke-dasharray="2.5 1.8"/>
<path d="M563.70 24.60V117.00H666.00" stroke="#111" stroke-width="1.6" fill="none"/>
<line x1="560.10" y1="25.60" x2="563.70" y2="25.60" stroke="#111" stroke-width="1"/>
<line x1="560.10" y1="40.40" x2="563.70" y2="40.40" stroke="#111" stroke-width="1"/>
<line x1="560.10" y1="55.20" x2="563.70" y2="55.20" stroke="#111" stroke-width="1"/>
<line x1="560.10" y1="70.00" x2="563.70" y2="70.00" stroke="#111" stroke-width="1"/>
<line x1="560.10" y1="84.80" x2="563.70" y2="84.80" stroke="#111" stroke-width="1"/>
<line x1="560.10" y1="99.60" x2="563.70" y2="99.60" stroke="#111" stroke-width="1"/>
<line x1="560.10" y1="114.40" x2="563.70" y2="114.40" stroke="#111" stroke-width="1"/>
<text x="558.20" y="45.20" font-size="10" text-anchor="end" textLength="5.30" lengthAdjust="spacingAndGlyphs">2</text>
<text x="558.20" y="73.50" font-size="10" text-anchor="end" textLength="5.60" lengthAdjust="spacingAndGlyphs">0</text>
<text x="558.20" y="101.80" font-size="10" text-anchor="end" textLength="10.50" lengthAdjust="spacingAndGlyphs">−2</text>
<line x1="566.40" y1="117.00" x2="566.40" y2="120.80" stroke="#111" stroke-width="1"/>
<line x1="588.20" y1="117.00" x2="588.20" y2="120.80" stroke="#111" stroke-width="1"/>
<line x1="610.00" y1="117.00" x2="610.00" y2="120.80" stroke="#111" stroke-width="1"/>
<line x1="631.80" y1="117.00" x2="631.80" y2="120.80" stroke="#111" stroke-width="1"/>
<line x1="653.60" y1="117.00" x2="653.60" y2="120.80" stroke="#111" stroke-width="1"/>
<text x="566.80" y="131.50" font-size="10" text-anchor="middle" textLength="14.00" lengthAdjust="spacingAndGlyphs">-10</text>
<text x="589.60" y="131.50" font-size="10" text-anchor="middle" textLength="8.50" lengthAdjust="spacingAndGlyphs">-5</text>
<text x="609.80" y="131.50" font-size="10" text-anchor="middle" textLength="5.50" lengthAdjust="spacingAndGlyphs">0</text>
<text x="630.90" y="131.50" font-size="10" text-anchor="middle" textLength="5.50" lengthAdjust="spacingAndGlyphs">5</text>
<text x="654.90" y="131.50" font-size="10" text-anchor="middle" textLength="10.60" lengthAdjust="spacingAndGlyphs">10</text>
<text x="613.80" y="143.00" font-size="9.8" font-weight="bold" text-anchor="middle">TGW</text>
<text x="568.70" y="26.80" font-size="10" font-weight="bold" textLength="47.80" lengthAdjust="spacingAndGlyphs">SCC = 0.25</text>
<path d="M483.96 163.47a1.6 1.6 0 1 0 3.2 0a1.6 1.6 0 1 0 -3.2 0zM443.70 184.97a1.6 1.6 0 1 0 3.2 0a1.6 1.6 0 1 0 -3.2 0zM469.69 175.59a1.6 1.6 0 1 0 3.2 0a1.6 1.6 0 1 0 -3.2 0zM476.14 176.96a1.6 1.6 0 1 0 3.2 0a1.6 1.6 0 1 0 -3.2 0zM480.05 177.54a1.6 1.6 0 1 0 3.2 0a1.6 1.6 0 1 0 -3.2 0zM498.03 176.57a1.6 1.6 0 1 0 3.2 0a1.6 1.6 0 1 0 -3.2 0zM460.51 181.45a1.6 1.6 0 1 0 3.2 0a1.6 1.6 0 1 0 -3.2 0zM473.60 182.04a1.6 1.6 0 1 0 3.2 0a1.6 1.6 0 1 0 -3.2 0zM489.23 182.04a1.6 1.6 0 1 0 3.2 0a1.6 1.6 0 1 0 -3.2 0zM496.07 182.82a1.6 1.6 0 1 0 3.2 0a1.6 1.6 0 1 0 -3.2 0zM486.30 186.34a1.6 1.6 0 1 0 3.2 0a1.6 1.6 0 1 0 -3.2 0zM494.12 186.34a1.6 1.6 0 1 0 3.2 0a1.6 1.6 0 1 0 -3.2 0zM495.10 189.27a1.6 1.6 0 1 0 3.2 0a1.6 1.6 0 1 0 -3.2 0zM473.60 188.68a1.6 1.6 0 1 0 3.2 0a1.6 1.6 0 1 0 -3.2 0zM469.69 191.22a1.6 1.6 0 1 0 3.2 0a1.6 1.6 0 1 0 -3.2 0zM470.67 192.20a1.6 1.6 0 1 0 3.2 0a1.6 1.6 0 1 0 -3.2 0zM465.78 193.18a1.6 1.6 0 1 0 3.2 0a1.6 1.6 0 1 0 -3.2 0zM476.53 193.18a1.6 1.6 0 1 0 3.2 0a1.6 1.6 0 1 0 -3.2 0zM478.49 194.15a1.6 1.6 0 1 0 3.2 0a1.6 1.6 0 1 0 -3.2 0zM481.42 193.18a1.6 1.6 0 1 0 3.2 0a1.6 1.6 0 1 0 -3.2 0zM487.28 192.20a1.6 1.6 0 1 0 3.2 0a1.6 1.6 0 1 0 -3.2 0zM492.17 190.25a1.6 1.6 0 1 0 3.2 0a1.6 1.6 0 1 0 -3.2 0zM503.89 191.22a1.6 1.6 0 1 0 3.2 0a1.6 1.6 0 1 0 -3.2 0zM508.78 188.29a1.6 1.6 0 1 0 3.2 0a1.6 1.6 0 1 0 -3.2 0zM528.32 188.68a1.6 1.6 0 1 0 3.2 0a1.6 1.6 0 1 0 -3.2 0zM510.73 193.76a1.6 1.6 0 1 0 3.2 0a1.6 1.6 0 1 0 -3.2 0zM507.80 196.11a1.6 1.6 0 1 0 3.2 0a1.6 1.6 0 1 0 -3.2 0zM503.50 197.09a1.6 1.6 0 1 0 3.2 0a1.6 1.6 0 1 0 -3.2 0zM501.94 198.06a1.6 1.6 0 1 0 3.2 0a1.6 1.6 0 1 0 -3.2 0zM519.13 196.50a1.6 1.6 0 1 0 3.2 0a1.6 1.6 0 1 0 -3.2 0zM461.87 197.09a1.6 1.6 0 1 0 3.2 0a1.6 1.6 0 1 0 -3.2 0zM468.71 199.43a1.6 1.6 0 1 0 3.2 0a1.6 1.6 0 1 0 -3.2 0zM473.60 200.02a1.6 1.6 0 1 0 3.2 0a1.6 1.6 0 1 0 -3.2 0zM477.51 196.11a1.6 1.6 0 1 0 3.2 0a1.6 1.6 0 1 0 -3.2 0zM481.42 196.11a1.6 1.6 0 1 0 3.2 0a1.6 1.6 0 1 0 -3.2 0zM484.35 200.02a1.6 1.6 0 1 0 3.2 0a1.6 1.6 0 1 0 -3.2 0zM488.26 199.04a1.6 1.6 0 1 0 3.2 0a1.6 1.6 0 1 0 -3.2 0zM491.19 199.04a1.6 1.6 0 1 0 3.2 0a1.6 1.6 0 1 0 -3.2 0zM497.05 200.02a1.6 1.6 0 1 0 3.2 0a1.6 1.6 0 1 0 -3.2 0zM498.03 200.99a1.6 1.6 0 1 0 3.2 0a1.6 1.6 0 1 0 -3.2 0zM513.66 200.99a1.6 1.6 0 1 0 3.2 0a1.6 1.6 0 1 0 -3.2 0zM447.22 204.90a1.6 1.6 0 1 0 3.2 0a1.6 1.6 0 1 0 -3.2 0zM455.03 205.49a1.6 1.6 0 1 0 3.2 0a1.6 1.6 0 1 0 -3.2 0zM458.94 206.86a1.6 1.6 0 1 0 3.2 0a1.6 1.6 0 1 0 -3.2 0zM462.85 205.88a1.6 1.6 0 1 0 3.2 0a1.6 1.6 0 1 0 -3.2 0zM464.81 204.90a1.6 1.6 0 1 0 3.2 0a1.6 1.6 0 1 0 -3.2 0zM467.74 207.83a1.6 1.6 0 1 0 3.2 0a1.6 1.6 0 1 0 -3.2 0zM470.67 208.81a1.6 1.6 0 1 0 3.2 0a1.6 1.6 0 1 0 -3.2 0zM474.58 207.83a1.6 1.6 0 1 0 3.2 0a1.6 1.6 0 1 0 -3.2 0zM477.51 208.81a1.6 1.6 0 1 0 3.2 0a1.6 1.6 0 1 0 -3.2 0zM480.44 206.86a1.6 1.6 0 1 0 3.2 0a1.6 1.6 0 1 0 -3.2 0zM483.37 204.90a1.6 1.6 0 1 0 3.2 0a1.6 1.6 0 1 0 -3.2 0zM486.30 207.83a1.6 1.6 0 1 0 3.2 0a1.6 1.6 0 1 0 -3.2 0zM489.23 205.88a1.6 1.6 0 1 0 3.2 0a1.6 1.6 0 1 0 -3.2 0zM492.17 203.93a1.6 1.6 0 1 0 3.2 0a1.6 1.6 0 1 0 -3.2 0zM494.12 206.86a1.6 1.6 0 1 0 3.2 0a1.6 1.6 0 1 0 -3.2 0zM498.03 205.88a1.6 1.6 0 1 0 3.2 0a1.6 1.6 0 1 0 -3.2 0zM500.96 204.90a1.6 1.6 0 1 0 3.2 0a1.6 1.6 0 1 0 -3.2 0zM511.71 204.90a1.6 1.6 0 1 0 3.2 0a1.6 1.6 0 1 0 -3.2 0zM516.59 206.27a1.6 1.6 0 1 0 3.2 0a1.6 1.6 0 1 0 -3.2 0zM512.68 210.18a1.6 1.6 0 1 0 3.2 0a1.6 1.6 0 1 0 -3.2 0zM452.10 209.79a1.6 1.6 0 1 0 3.2 0a1.6 1.6 0 1 0 -3.2 0zM456.99 210.77a1.6 1.6 0 1 0 3.2 0a1.6 1.6 0 1 0 -3.2 0zM460.90 208.81a1.6 1.6 0 1 0 3.2 0a1.6 1.6 0 1 0 -3.2 0zM462.85 211.74a1.6 1.6 0 1 0 3.2 0a1.6 1.6 0 1 0 -3.2 0zM466.76 210.77a1.6 1.6 0 1 0 3.2 0a1.6 1.6 0 1 0 -3.2 0zM469.69 212.72a1.6 1.6 0 1 0 3.2 0a1.6 1.6 0 1 0 -3.2 0zM472.62 211.74a1.6 1.6 0 1 0 3.2 0a1.6 1.6 0 1 0 -3.2 0zM475.55 213.70a1.6 1.6 0 1 0 3.2 0a1.6 1.6 0 1 0 -3.2 0zM478.49 211.74a1.6 1.6 0 1 0 3.2 0a1.6 1.6 0 1 0 -3.2 0zM481.42 209.79a1.6 1.6 0 1 0 3.2 0a1.6 1.6 0 1 0 -3.2 0zM484.35 211.74a1.6 1.6 0 1 0 3.2 0a1.6 1.6 0 1 0 -3.2 0zM487.28 213.70a1.6 1.6 0 1 0 3.2 0a1.6 1.6 0 1 0 -3.2 0zM490.21 211.74a1.6 1.6 0 1 0 3.2 0a1.6 1.6 0 1 0 -3.2 0zM493.14 209.79a1.6 1.6 0 1 0 3.2 0a1.6 1.6 0 1 0 -3.2 0zM496.07 211.74a1.6 1.6 0 1 0 3.2 0a1.6 1.6 0 1 0 -3.2 0zM499.00 208.81a1.6 1.6 0 1 0 3.2 0a1.6 1.6 0 1 0 -3.2 0zM455.03 215.65a1.6 1.6 0 1 0 3.2 0a1.6 1.6 0 1 0 -3.2 0zM458.94 214.67a1.6 1.6 0 1 0 3.2 0a1.6 1.6 0 1 0 -3.2 0zM462.85 216.63a1.6 1.6 0 1 0 3.2 0a1.6 1.6 0 1 0 -3.2 0zM465.78 215.65a1.6 1.6 0 1 0 3.2 0a1.6 1.6 0 1 0 -3.2 0zM468.71 216.63a1.6 1.6 0 1 0 3.2 0a1.6 1.6 0 1 0 -3.2 0zM471.65 217.60a1.6 1.6 0 1 0 3.2 0a1.6 1.6 0 1 0 -3.2 0zM476.53 215.65a1.6 1.6 0 1 0 3.2 0a1.6 1.6 0 1 0 -3.2 0zM480.44 216.63a1.6 1.6 0 1 0 3.2 0a1.6 1.6 0 1 0 -3.2 0zM483.37 214.67a1.6 1.6 0 1 0 3.2 0a1.6 1.6 0 1 0 -3.2 0zM487.28 216.63a1.6 1.6 0 1 0 3.2 0a1.6 1.6 0 1 0 -3.2 0zM491.19 217.60a1.6 1.6 0 1 0 3.2 0a1.6 1.6 0 1 0 -3.2 0zM496.07 217.60a1.6 1.6 0 1 0 3.2 0a1.6 1.6 0 1 0 -3.2 0zM501.94 218.19a1.6 1.6 0 1 0 3.2 0a1.6 1.6 0 1 0 -3.2 0zM451.13 219.56a1.6 1.6 0 1 0 3.2 0a1.6 1.6 0 1 0 -3.2 0zM454.06 221.51a1.6 1.6 0 1 0 3.2 0a1.6 1.6 0 1 0 -3.2 0zM458.94 221.51a1.6 1.6 0 1 0 3.2 0a1.6 1.6 0 1 0 -3.2 0zM463.83 220.54a1.6 1.6 0 1 0 3.2 0a1.6 1.6 0 1 0 -3.2 0zM466.76 219.56a1.6 1.6 0 1 0 3.2 0a1.6 1.6 0 1 0 -3.2 0zM470.67 221.51a1.6 1.6 0 1 0 3.2 0a1.6 1.6 0 1 0 -3.2 0zM473.60 220.54a1.6 1.6 0 1 0 3.2 0a1.6 1.6 0 1 0 -3.2 0zM478.49 221.51a1.6 1.6 0 1 0 3.2 0a1.6 1.6 0 1 0 -3.2 0zM481.42 219.56a1.6 1.6 0 1 0 3.2 0a1.6 1.6 0 1 0 -3.2 0zM484.35 220.54a1.6 1.6 0 1 0 3.2 0a1.6 1.6 0 1 0 -3.2 0zM487.28 221.51a1.6 1.6 0 1 0 3.2 0a1.6 1.6 0 1 0 -3.2 0zM453.08 224.44a1.6 1.6 0 1 0 3.2 0a1.6 1.6 0 1 0 -3.2 0zM457.97 223.47a1.6 1.6 0 1 0 3.2 0a1.6 1.6 0 1 0 -3.2 0zM461.87 227.38a1.6 1.6 0 1 0 3.2 0a1.6 1.6 0 1 0 -3.2 0zM466.76 225.42a1.6 1.6 0 1 0 3.2 0a1.6 1.6 0 1 0 -3.2 0zM470.67 225.42a1.6 1.6 0 1 0 3.2 0a1.6 1.6 0 1 0 -3.2 0zM474.58 227.38a1.6 1.6 0 1 0 3.2 0a1.6 1.6 0 1 0 -3.2 0zM478.49 225.42a1.6 1.6 0 1 0 3.2 0a1.6 1.6 0 1 0 -3.2 0zM481.42 224.44a1.6 1.6 0 1 0 3.2 0a1.6 1.6 0 1 0 -3.2 0zM484.35 227.38a1.6 1.6 0 1 0 3.2 0a1.6 1.6 0 1 0 -3.2 0zM492.17 228.35a1.6 1.6 0 1 0 3.2 0a1.6 1.6 0 1 0 -3.2 0zM498.03 224.44a1.6 1.6 0 1 0 3.2 0a1.6 1.6 0 1 0 -3.2 0zM451.13 231.87a1.6 1.6 0 1 0 3.2 0a1.6 1.6 0 1 0 -3.2 0zM465.78 231.28a1.6 1.6 0 1 0 3.2 0a1.6 1.6 0 1 0 -3.2 0zM468.71 232.26a1.6 1.6 0 1 0 3.2 0a1.6 1.6 0 1 0 -3.2 0zM473.60 231.28a1.6 1.6 0 1 0 3.2 0a1.6 1.6 0 1 0 -3.2 0zM475.55 233.24a1.6 1.6 0 1 0 3.2 0a1.6 1.6 0 1 0 -3.2 0zM479.46 232.26a1.6 1.6 0 1 0 3.2 0a1.6 1.6 0 1 0 -3.2 0zM451.13 237.15a1.6 1.6 0 1 0 3.2 0a1.6 1.6 0 1 0 -3.2 0zM458.94 238.52a1.6 1.6 0 1 0 3.2 0a1.6 1.6 0 1 0 -3.2 0zM464.81 238.12a1.6 1.6 0 1 0 3.2 0a1.6 1.6 0 1 0 -3.2 0zM468.71 235.19a1.6 1.6 0 1 0 3.2 0a1.6 1.6 0 1 0 -3.2 0zM473.60 236.17a1.6 1.6 0 1 0 3.2 0a1.6 1.6 0 1 0 -3.2 0zM481.42 236.17a1.6 1.6 0 1 0 3.2 0a1.6 1.6 0 1 0 -3.2 0zM485.33 237.73a1.6 1.6 0 1 0 3.2 0a1.6 1.6 0 1 0 -3.2 0zM497.05 235.78a1.6 1.6 0 1 0 3.2 0a1.6 1.6 0 1 0 -3.2 0zM447.61 246.53a1.6 1.6 0 1 0 3.2 0a1.6 1.6 0 1 0 -3.2 0zM465.78 244.96a1.6 1.6 0 1 0 3.2 0a1.6 1.6 0 1 0 -3.2 0zM471.06 243.01a1.6 1.6 0 1 0 3.2 0a1.6 1.6 0 1 0 -3.2 0zM474.97 243.99a1.6 1.6 0 1 0 3.2 0a1.6 1.6 0 1 0 -3.2 0zM480.05 247.31a1.6 1.6 0 1 0 3.2 0a1.6 1.6 0 1 0 -3.2 0zM491.77 247.90a1.6 1.6 0 1 0 3.2 0a1.6 1.6 0 1 0 -3.2 0zM466.15 206.52a1.6 1.6 0 1 0 3.2 0a1.6 1.6 0 1 0 -3.2 0zM466.23 207.02a1.6 1.6 0 1 0 3.2 0a1.6 1.6 0 1 0 -3.2 0zM487.44 215.89a1.6 1.6 0 1 0 3.2 0a1.6 1.6 0 1 0 -3.2 0zM499.87 214.62a1.6 1.6 0 1 0 3.2 0a1.6 1.6 0 1 0 -3.2 0zM482.34 217.17a1.6 1.6 0 1 0 3.2 0a1.6 1.6 0 1 0 -3.2 0zM489.30 216.34a1.6 1.6 0 1 0 3.2 0a1.6 1.6 0 1 0 -3.2 0zM483.90 216.00a1.6 1.6 0 1 0 3.2 0a1.6 1.6 0 1 0 -3.2 0zM474.76 221.39a1.6 1.6 0 1 0 3.2 0a1.6 1.6 0 1 0 -3.2 0zM484.53 206.75a1.6 1.6 0 1 0 3.2 0a1.6 1.6 0 1 0 -3.2 0zM470.50 199.31a1.6 1.6 0 1 0 3.2 0a1.6 1.6 0 1 0 -3.2 0zM474.49 197.49a1.6 1.6 0 1 0 3.2 0a1.6 1.6 0 1 0 -3.2 0zM467.37 198.97a1.6 1.6 0 1 0 3.2 0a1.6 1.6 0 1 0 -3.2 0zM471.77 207.98a1.6 1.6 0 1 0 3.2 0a1.6 1.6 0 1 0 -3.2 0zM484.00 221.32a1.6 1.6 0 1 0 3.2 0a1.6 1.6 0 1 0 -3.2 0zM485.32 202.08a1.6 1.6 0 1 0 3.2 0a1.6 1.6 0 1 0 -3.2 0zM495.83 219.93a1.6 1.6 0 1 0 3.2 0a1.6 1.6 0 1 0 -3.2 0zM480.35 217.21a1.6 1.6 0 1 0 3.2 0a1.6 1.6 0 1 0 -3.2 0zM480.81 202.34a1.6 1.6 0 1 0 3.2 0a1.6 1.6 0 1 0 -3.2 0zM485.97 227.98a1.6 1.6 0 1 0 3.2 0a1.6 1.6 0 1 0 -3.2 0zM491.01 202.76a1.6 1.6 0 1 0 3.2 0a1.6 1.6 0 1 0 -3.2 0zM465.58 226.18a1.6 1.6 0 1 0 3.2 0a1.6 1.6 0 1 0 -3.2 0zM496.47 220.51a1.6 1.6 0 1 0 3.2 0a1.6 1.6 0 1 0 -3.2 0zM490.62 201.55a1.6 1.6 0 1 0 3.2 0a1.6 1.6 0 1 0 -3.2 0zM492.63 203.10a1.6 1.6 0 1 0 3.2 0a1.6 1.6 0 1 0 -3.2 0zM466.95 209.81a1.6 1.6 0 1 0 3.2 0a1.6 1.6 0 1 0 -3.2 0zM460.91 223.52a1.6 1.6 0 1 0 3.2 0a1.6 1.6 0 1 0 -3.2 0zM467.19 220.20a1.6 1.6 0 1 0 3.2 0a1.6 1.6 0 1 0 -3.2 0zM483.68 221.17a1.6 1.6 0 1 0 3.2 0a1.6 1.6 0 1 0 -3.2 0zM484.35 227.15a1.6 1.6 0 1 0 3.2 0a1.6 1.6 0 1 0 -3.2 0zM475.74 212.63a1.6 1.6 0 1 0 3.2 0a1.6 1.6 0 1 0 -3.2 0zM474.12 220.31a1.6 1.6 0 1 0 3.2 0a1.6 1.6 0 1 0 -3.2 0zM472.64 222.06a1.6 1.6 0 1 0 3.2 0a1.6 1.6 0 1 0 -3.2 0zM464.26 204.45a1.6 1.6 0 1 0 3.2 0a1.6 1.6 0 1 0 -3.2 0zM478.02 201.03a1.6 1.6 0 1 0 3.2 0a1.6 1.6 0 1 0 -3.2 0zM468.83 223.40a1.6 1.6 0 1 0 3.2 0a1.6 1.6 0 1 0 -3.2 0zM475.45 203.92a1.6 1.6 0 1 0 3.2 0a1.6 1.6 0 1 0 -3.2 0zM493.97 215.08a1.6 1.6 0 1 0 3.2 0a1.6 1.6 0 1 0 -3.2 0zM485.67 224.88a1.6 1.6 0 1 0 3.2 0a1.6 1.6 0 1 0 -3.2 0zM488.80 205.37a1.6 1.6 0 1 0 3.2 0a1.6 1.6 0 1 0 -3.2 0zM461.28 214.27a1.6 1.6 0 1 0 3.2 0a1.6 1.6 0 1 0 -3.2 0zM488.55 222.28a1.6 1.6 0 1 0 3.2 0a1.6 1.6 0 1 0 -3.2 0zM468.35 216.92a1.6 1.6 0 1 0 3.2 0a1.6 1.6 0 1 0 -3.2 0zM497.58 205.16a1.6 1.6 0 1 0 3.2 0a1.6 1.6 0 1 0 -3.2 0zM472.33 210.39a1.6 1.6 0 1 0 3.2 0a1.6 1.6 0 1 0 -3.2 0zM483.22 228.04a1.6 1.6 0 1 0 3.2 0a1.6 1.6 0 1 0 -3.2 0z" fill="#222" fill-opacity="0.86"/>
<line x1="445.20" y1="222.70" x2="529.40" y2="197.10" stroke="#e8403c" stroke-width="0.9" stroke-dasharray="2.5 1.8"/>
<path d="M441.10 160.00V251.50H533.80" stroke="#111" stroke-width="1.6" fill="none"/>
<line x1="437.50" y1="162.06" x2="441.10" y2="162.06" stroke="#111" stroke-width="1"/>
<line x1="437.50" y1="179.14" x2="441.10" y2="179.14" stroke="#111" stroke-width="1"/>
<line x1="437.50" y1="196.22" x2="441.10" y2="196.22" stroke="#111" stroke-width="1"/>
<line x1="437.50" y1="213.30" x2="441.10" y2="213.30" stroke="#111" stroke-width="1"/>
<line x1="437.50" y1="230.38" x2="441.10" y2="230.38" stroke="#111" stroke-width="1"/>
<line x1="437.50" y1="247.46" x2="441.10" y2="247.46" stroke="#111" stroke-width="1"/>
<text x="435.40" y="165.60" font-size="10" text-anchor="end" textLength="13.60" lengthAdjust="spacingAndGlyphs">0.3</text>
<text x="435.40" y="182.50" font-size="10" text-anchor="end" textLength="13.60" lengthAdjust="spacingAndGlyphs">0.2</text>
<text x="435.40" y="199.50" font-size="10" text-anchor="end" textLength="13.60" lengthAdjust="spacingAndGlyphs">0.1</text>
<text x="435.40" y="216.80" font-size="10" text-anchor="end" textLength="13.60" lengthAdjust="spacingAndGlyphs">0.0</text>
<text x="435.40" y="233.90" font-size="10" text-anchor="end" textLength="19.20" lengthAdjust="spacingAndGlyphs">−0.1</text>
<text x="435.40" y="250.80" font-size="10" text-anchor="end" textLength="19.20" lengthAdjust="spacingAndGlyphs">−0.2</text>
<line x1="456.00" y1="251.50" x2="456.00" y2="255.30" stroke="#111" stroke-width="1"/>
<line x1="480.00" y1="251.50" x2="480.00" y2="255.30" stroke="#111" stroke-width="1"/>
<line x1="504.00" y1="251.50" x2="504.00" y2="255.30" stroke="#111" stroke-width="1"/>
<line x1="528.00" y1="251.50" x2="528.00" y2="255.30" stroke="#111" stroke-width="1"/>
<text x="454.70" y="265.60" font-size="10" text-anchor="middle" textLength="17.50" lengthAdjust="spacingAndGlyphs">-0.5</text>
<text x="480.60" y="265.60" font-size="10" text-anchor="middle" textLength="14.00" lengthAdjust="spacingAndGlyphs">0.0</text>
<text x="502.70" y="265.60" font-size="10" text-anchor="middle" textLength="14.00" lengthAdjust="spacingAndGlyphs">0.5</text>
<text x="527.00" y="265.60" font-size="10" text-anchor="middle" textLength="13.60" lengthAdjust="spacingAndGlyphs">1.0</text>
<text x="488.60" y="276.60" font-size="9.8" font-weight="bold" text-anchor="middle">GL</text>
<text x="445.60" y="159.10" font-size="10" font-weight="bold" textLength="47.80" lengthAdjust="spacingAndGlyphs">SCC = 0.31</text>
<text x="415.00" y="203.50" font-size="10.2" font-weight="bold" text-anchor="middle" textLength="44.60" lengthAdjust="spacingAndGlyphs" transform="rotate(-90 415.00 203.50)">Predicted</text>
<path d="M606.91 163.47a1.6 1.6 0 1 0 3.2 0a1.6 1.6 0 1 0 -3.2 0zM589.73 164.44a1.6 1.6 0 1 0 3.2 0a1.6 1.6 0 1 0 -3.2 0zM592.07 166.79a1.6 1.6 0 1 0 3.2 0a1.6 1.6 0 1 0 -3.2 0zM612.18 164.83a1.6 1.6 0 1 0 3.2 0a1.6 1.6 0 1 0 -3.2 0zM615.11 165.81a1.6 1.6 0 1 0 3.2 0a1.6 1.6 0 1 0 -3.2 0zM618.04 167.37a1.6 1.6 0 1 0 3.2 0a1.6 1.6 0 1 0 -3.2 0zM609.25 168.15a1.6 1.6 0 1 0 3.2 0a1.6 1.6 0 1 0 -3.2 0zM646.35 164.44a1.6 1.6 0 1 0 3.2 0a1.6 1.6 0 1 0 -3.2 0zM586.80 176.16a1.6 1.6 0 1 0 3.2 0a1.6 1.6 0 1 0 -3.2 0zM604.37 173.62a1.6 1.6 0 1 0 3.2 0a1.6 1.6 0 1 0 -3.2 0zM608.28 174.59a1.6 1.6 0 1 0 3.2 0a1.6 1.6 0 1 0 -3.2 0zM613.55 172.06a1.6 1.6 0 1 0 3.2 0a1.6 1.6 0 1 0 -3.2 0zM616.09 173.62a1.6 1.6 0 1 0 3.2 0a1.6 1.6 0 1 0 -3.2 0zM614.14 177.52a1.6 1.6 0 1 0 3.2 0a1.6 1.6 0 1 0 -3.2 0zM610.23 177.52a1.6 1.6 0 1 0 3.2 0a1.6 1.6 0 1 0 -3.2 0zM605.35 177.52a1.6 1.6 0 1 0 3.2 0a1.6 1.6 0 1 0 -3.2 0zM596.56 178.50a1.6 1.6 0 1 0 3.2 0a1.6 1.6 0 1 0 -3.2 0zM593.64 180.45a1.6 1.6 0 1 0 3.2 0a1.6 1.6 0 1 0 -3.2 0zM600.47 179.48a1.6 1.6 0 1 0 3.2 0a1.6 1.6 0 1 0 -3.2 0zM619.02 178.50a1.6 1.6 0 1 0 3.2 0a1.6 1.6 0 1 0 -3.2 0zM624.87 173.62a1.6 1.6 0 1 0 3.2 0a1.6 1.6 0 1 0 -3.2 0zM624.48 178.50a1.6 1.6 0 1 0 3.2 0a1.6 1.6 0 1 0 -3.2 0zM627.80 179.48a1.6 1.6 0 1 0 3.2 0a1.6 1.6 0 1 0 -3.2 0zM629.75 182.40a1.6 1.6 0 1 0 3.2 0a1.6 1.6 0 1 0 -3.2 0zM633.66 180.45a1.6 1.6 0 1 0 3.2 0a1.6 1.6 0 1 0 -3.2 0zM638.54 182.40a1.6 1.6 0 1 0 3.2 0a1.6 1.6 0 1 0 -3.2 0zM566.70 187.28a1.6 1.6 0 1 0 3.2 0a1.6 1.6 0 1 0 -3.2 0zM588.76 183.38a1.6 1.6 0 1 0 3.2 0a1.6 1.6 0 1 0 -3.2 0zM598.52 184.36a1.6 1.6 0 1 0 3.2 0a1.6 1.6 0 1 0 -3.2 0zM604.37 184.36a1.6 1.6 0 1 0 3.2 0a1.6 1.6 0 1 0 -3.2 0zM607.30 183.38a1.6 1.6 0 1 0 3.2 0a1.6 1.6 0 1 0 -3.2 0zM611.21 183.38a1.6 1.6 0 1 0 3.2 0a1.6 1.6 0 1 0 -3.2 0zM618.04 182.40a1.6 1.6 0 1 0 3.2 0a1.6 1.6 0 1 0 -3.2 0zM620.97 183.38a1.6 1.6 0 1 0 3.2 0a1.6 1.6 0 1 0 -3.2 0zM623.90 185.33a1.6 1.6 0 1 0 3.2 0a1.6 1.6 0 1 0 -3.2 0zM626.83 184.36a1.6 1.6 0 1 0 3.2 0a1.6 1.6 0 1 0 -3.2 0zM599.49 188.26a1.6 1.6 0 1 0 3.2 0a1.6 1.6 0 1 0 -3.2 0zM603.40 188.26a1.6 1.6 0 1 0 3.2 0a1.6 1.6 0 1 0 -3.2 0zM609.25 187.28a1.6 1.6 0 1 0 3.2 0a1.6 1.6 0 1 0 -3.2 0zM614.14 188.26a1.6 1.6 0 1 0 3.2 0a1.6 1.6 0 1 0 -3.2 0zM617.06 187.28a1.6 1.6 0 1 0 3.2 0a1.6 1.6 0 1 0 -3.2 0zM620.97 188.26a1.6 1.6 0 1 0 3.2 0a1.6 1.6 0 1 0 -3.2 0zM591.68 190.80a1.6 1.6 0 1 0 3.2 0a1.6 1.6 0 1 0 -3.2 0zM596.56 192.16a1.6 1.6 0 1 0 3.2 0a1.6 1.6 0 1 0 -3.2 0zM606.33 191.19a1.6 1.6 0 1 0 3.2 0a1.6 1.6 0 1 0 -3.2 0zM611.21 192.16a1.6 1.6 0 1 0 3.2 0a1.6 1.6 0 1 0 -3.2 0zM615.11 190.21a1.6 1.6 0 1 0 3.2 0a1.6 1.6 0 1 0 -3.2 0zM619.99 191.19a1.6 1.6 0 1 0 3.2 0a1.6 1.6 0 1 0 -3.2 0zM624.87 190.21a1.6 1.6 0 1 0 3.2 0a1.6 1.6 0 1 0 -3.2 0zM628.78 191.19a1.6 1.6 0 1 0 3.2 0a1.6 1.6 0 1 0 -3.2 0zM631.71 192.16a1.6 1.6 0 1 0 3.2 0a1.6 1.6 0 1 0 -3.2 0zM635.61 189.24a1.6 1.6 0 1 0 3.2 0a1.6 1.6 0 1 0 -3.2 0zM637.56 193.14a1.6 1.6 0 1 0 3.2 0a1.6 1.6 0 1 0 -3.2 0zM586.80 195.48a1.6 1.6 0 1 0 3.2 0a1.6 1.6 0 1 0 -3.2 0zM598.52 196.07a1.6 1.6 0 1 0 3.2 0a1.6 1.6 0 1 0 -3.2 0zM603.40 195.09a1.6 1.6 0 1 0 3.2 0a1.6 1.6 0 1 0 -3.2 0zM607.30 194.12a1.6 1.6 0 1 0 3.2 0a1.6 1.6 0 1 0 -3.2 0zM610.23 195.09a1.6 1.6 0 1 0 3.2 0a1.6 1.6 0 1 0 -3.2 0zM613.16 194.12a1.6 1.6 0 1 0 3.2 0a1.6 1.6 0 1 0 -3.2 0zM618.04 196.07a1.6 1.6 0 1 0 3.2 0a1.6 1.6 0 1 0 -3.2 0zM621.94 193.14a1.6 1.6 0 1 0 3.2 0a1.6 1.6 0 1 0 -3.2 0zM626.83 195.09a1.6 1.6 0 1 0 3.2 0a1.6 1.6 0 1 0 -3.2 0zM630.73 197.05a1.6 1.6 0 1 0 3.2 0a1.6 1.6 0 1 0 -3.2 0zM636.59 196.07a1.6 1.6 0 1 0 3.2 0a1.6 1.6 0 1 0 -3.2 0zM646.35 196.66a1.6 1.6 0 1 0 3.2 0a1.6 1.6 0 1 0 -3.2 0zM578.99 201.34a1.6 1.6 0 1 0 3.2 0a1.6 1.6 0 1 0 -3.2 0zM581.92 201.93a1.6 1.6 0 1 0 3.2 0a1.6 1.6 0 1 0 -3.2 0zM588.76 199.97a1.6 1.6 0 1 0 3.2 0a1.6 1.6 0 1 0 -3.2 0zM593.64 200.95a1.6 1.6 0 1 0 3.2 0a1.6 1.6 0 1 0 -3.2 0zM596.56 202.90a1.6 1.6 0 1 0 3.2 0a1.6 1.6 0 1 0 -3.2 0zM600.47 199.97a1.6 1.6 0 1 0 3.2 0a1.6 1.6 0 1 0 -3.2 0zM602.42 201.93a1.6 1.6 0 1 0 3.2 0a1.6 1.6 0 1 0 -3.2 0zM604.37 200.56a1.6 1.6 0 1 0 3.2 0a1.6 1.6 0 1 0 -3.2 0zM607.30 199.97a1.6 1.6 0 1 0 3.2 0a1.6 1.6 0 1 0 -3.2 0zM610.23 201.93a1.6 1.6 0 1 0 3.2 0a1.6 1.6 0 1 0 -3.2 0zM612.18 199.00a1.6 1.6 0 1 0 3.2 0a1.6 1.6 0 1 0 -3.2 0zM615.11 200.95a1.6 1.6 0 1 0 3.2 0a1.6 1.6 0 1 0 -3.2 0zM619.02 199.97a1.6 1.6 0 1 0 3.2 0a1.6 1.6 0 1 0 -3.2 0zM623.90 200.95a1.6 1.6 0 1 0 3.2 0a1.6 1.6 0 1 0 -3.2 0zM629.75 199.00a1.6 1.6 0 1 0 3.2 0a1.6 1.6 0 1 0 -3.2 0zM634.63 198.02a1.6 1.6 0 1 0 3.2 0a1.6 1.6 0 1 0 -3.2 0zM579.97 205.83a1.6 1.6 0 1 0 3.2 0a1.6 1.6 0 1 0 -3.2 0zM583.88 206.81a1.6 1.6 0 1 0 3.2 0a1.6 1.6 0 1 0 -3.2 0zM589.73 203.88a1.6 1.6 0 1 0 3.2 0a1.6 1.6 0 1 0 -3.2 0zM593.64 205.83a1.6 1.6 0 1 0 3.2 0a1.6 1.6 0 1 0 -3.2 0zM597.54 204.85a1.6 1.6 0 1 0 3.2 0a1.6 1.6 0 1 0 -3.2 0zM600.47 203.88a1.6 1.6 0 1 0 3.2 0a1.6 1.6 0 1 0 -3.2 0zM604.37 204.85a1.6 1.6 0 1 0 3.2 0a1.6 1.6 0 1 0 -3.2 0zM608.28 205.83a1.6 1.6 0 1 0 3.2 0a1.6 1.6 0 1 0 -3.2 0zM612.18 204.85a1.6 1.6 0 1 0 3.2 0a1.6 1.6 0 1 0 -3.2 0zM615.11 203.88a1.6 1.6 0 1 0 3.2 0a1.6 1.6 0 1 0 -3.2 0zM619.02 205.83a1.6 1.6 0 1 0 3.2 0a1.6 1.6 0 1 0 -3.2 0zM633.66 205.83a1.6 1.6 0 1 0 3.2 0a1.6 1.6 0 1 0 -3.2 0zM566.70 210.71a1.6 1.6 0 1 0 3.2 0a1.6 1.6 0 1 0 -3.2 0zM582.90 209.74a1.6 1.6 0 1 0 3.2 0a1.6 1.6 0 1 0 -3.2 0zM588.76 210.32a1.6 1.6 0 1 0 3.2 0a1.6 1.6 0 1 0 -3.2 0zM594.61 209.15a1.6 1.6 0 1 0 3.2 0a1.6 1.6 0 1 0 -3.2 0zM597.54 210.71a1.6 1.6 0 1 0 3.2 0a1.6 1.6 0 1 0 -3.2 0zM601.45 211.69a1.6 1.6 0 1 0 3.2 0a1.6 1.6 0 1 0 -3.2 0zM606.33 209.74a1.6 1.6 0 1 0 3.2 0a1.6 1.6 0 1 0 -3.2 0zM609.25 209.15a1.6 1.6 0 1 0 3.2 0a1.6 1.6 0 1 0 -3.2 0zM613.16 210.71a1.6 1.6 0 1 0 3.2 0a1.6 1.6 0 1 0 -3.2 0zM620.97 207.78a1.6 1.6 0 1 0 3.2 0a1.6 1.6 0 1 0 -3.2 0zM636.59 210.71a1.6 1.6 0 1 0 3.2 0a1.6 1.6 0 1 0 -3.2 0zM644.01 210.32a1.6 1.6 0 1 0 3.2 0a1.6 1.6 0 1 0 -3.2 0zM580.95 216.57a1.6 1.6 0 1 0 3.2 0a1.6 1.6 0 1 0 -3.2 0zM583.88 214.62a1.6 1.6 0 1 0 3.2 0a1.6 1.6 0 1 0 -3.2 0zM587.78 215.59a1.6 1.6 0 1 0 3.2 0a1.6 1.6 0 1 0 -3.2 0zM592.66 213.64a1.6 1.6 0 1 0 3.2 0a1.6 1.6 0 1 0 -3.2 0zM596.56 214.62a1.6 1.6 0 1 0 3.2 0a1.6 1.6 0 1 0 -3.2 0zM602.42 215.59a1.6 1.6 0 1 0 3.2 0a1.6 1.6 0 1 0 -3.2 0zM605.35 214.62a1.6 1.6 0 1 0 3.2 0a1.6 1.6 0 1 0 -3.2 0zM609.25 215.59a1.6 1.6 0 1 0 3.2 0a1.6 1.6 0 1 0 -3.2 0zM617.06 216.57a1.6 1.6 0 1 0 3.2 0a1.6 1.6 0 1 0 -3.2 0zM619.02 213.64a1.6 1.6 0 1 0 3.2 0a1.6 1.6 0 1 0 -3.2 0zM633.66 214.62a1.6 1.6 0 1 0 3.2 0a1.6 1.6 0 1 0 -3.2 0zM586.80 221.45a1.6 1.6 0 1 0 3.2 0a1.6 1.6 0 1 0 -3.2 0zM591.68 220.08a1.6 1.6 0 1 0 3.2 0a1.6 1.6 0 1 0 -3.2 0zM599.49 217.54a1.6 1.6 0 1 0 3.2 0a1.6 1.6 0 1 0 -3.2 0zM606.33 218.52a1.6 1.6 0 1 0 3.2 0a1.6 1.6 0 1 0 -3.2 0zM616.09 218.13a1.6 1.6 0 1 0 3.2 0a1.6 1.6 0 1 0 -3.2 0zM636.59 219.50a1.6 1.6 0 1 0 3.2 0a1.6 1.6 0 1 0 -3.2 0zM606.91 223.40a1.6 1.6 0 1 0 3.2 0a1.6 1.6 0 1 0 -3.2 0zM621.36 226.33a1.6 1.6 0 1 0 3.2 0a1.6 1.6 0 1 0 -3.2 0zM584.27 231.21a1.6 1.6 0 1 0 3.2 0a1.6 1.6 0 1 0 -3.2 0zM581.92 235.11a1.6 1.6 0 1 0 3.2 0a1.6 1.6 0 1 0 -3.2 0zM606.91 234.14a1.6 1.6 0 1 0 3.2 0a1.6 1.6 0 1 0 -3.2 0zM584.27 246.83a1.6 1.6 0 1 0 3.2 0a1.6 1.6 0 1 0 -3.2 0zM612.01 212.63a1.6 1.6 0 1 0 3.2 0a1.6 1.6 0 1 0 -3.2 0zM614.13 198.04a1.6 1.6 0 1 0 3.2 0a1.6 1.6 0 1 0 -3.2 0zM603.18 193.73a1.6 1.6 0 1 0 3.2 0a1.6 1.6 0 1 0 -3.2 0zM617.91 187.67a1.6 1.6 0 1 0 3.2 0a1.6 1.6 0 1 0 -3.2 0zM597.95 188.91a1.6 1.6 0 1 0 3.2 0a1.6 1.6 0 1 0 -3.2 0zM614.53 194.48a1.6 1.6 0 1 0 3.2 0a1.6 1.6 0 1 0 -3.2 0zM600.09 193.05a1.6 1.6 0 1 0 3.2 0a1.6 1.6 0 1 0 -3.2 0zM596.19 196.77a1.6 1.6 0 1 0 3.2 0a1.6 1.6 0 1 0 -3.2 0zM618.98 197.09a1.6 1.6 0 1 0 3.2 0a1.6 1.6 0 1 0 -3.2 0zM607.61 182.39a1.6 1.6 0 1 0 3.2 0a1.6 1.6 0 1 0 -3.2 0zM602.35 184.07a1.6 1.6 0 1 0 3.2 0a1.6 1.6 0 1 0 -3.2 0zM595.13 211.77a1.6 1.6 0 1 0 3.2 0a1.6 1.6 0 1 0 -3.2 0zM615.95 210.61a1.6 1.6 0 1 0 3.2 0a1.6 1.6 0 1 0 -3.2 0zM597.79 194.26a1.6 1.6 0 1 0 3.2 0a1.6 1.6 0 1 0 -3.2 0zM622.16 196.66a1.6 1.6 0 1 0 3.2 0a1.6 1.6 0 1 0 -3.2 0zM622.55 215.21a1.6 1.6 0 1 0 3.2 0a1.6 1.6 0 1 0 -3.2 0zM593.84 196.64a1.6 1.6 0 1 0 3.2 0a1.6 1.6 0 1 0 -3.2 0zM611.85 193.69a1.6 1.6 0 1 0 3.2 0a1.6 1.6 0 1 0 -3.2 0zM605.38 193.93a1.6 1.6 0 1 0 3.2 0a1.6 1.6 0 1 0 -3.2 0zM600.85 182.34a1.6 1.6 0 1 0 3.2 0a1.6 1.6 0 1 0 -3.2 0zM616.48 216.52a1.6 1.6 0 1 0 3.2 0a1.6 1.6 0 1 0 -3.2 0zM594.83 211.62a1.6 1.6 0 1 0 3.2 0a1.6 1.6 0 1 0 -3.2 0zM610.64 182.11a1.6 1.6 0 1 0 3.2 0a1.6 1.6 0 1 0 -3.2 0zM595.79 199.89a1.6 1.6 0 1 0 3.2 0a1.6 1.6 0 1 0 -3.2 0zM596.90 191.83a1.6 1.6 0 1 0 3.2 0a1.6 1.6 0 1 0 -3.2 0zM602.22 215.54a1.6 1.6 0 1 0 3.2 0a1.6 1.6 0 1 0 -3.2 0zM608.31 191.45a1.6 1.6 0 1 0 3.2 0a1.6 1.6 0 1 0 -3.2 0zM622.94 215.40a1.6 1.6 0 1 0 3.2 0a1.6 1.6 0 1 0 -3.2 0zM616.11 186.24a1.6 1.6 0 1 0 3.2 0a1.6 1.6 0 1 0 -3.2 0zM621.43 196.93a1.6 1.6 0 1 0 3.2 0a1.6 1.6 0 1 0 -3.2 0zM618.19 206.78a1.6 1.6 0 1 0 3.2 0a1.6 1.6 0 1 0 -3.2 0zM614.04 208.38a1.6 1.6 0 1 0 3.2 0a1.6 1.6 0 1 0 -3.2 0zM619.00 197.65a1.6 1.6 0 1 0 3.2 0a1.6 1.6 0 1 0 -3.2 0zM608.77 184.85a1.6 1.6 0 1 0 3.2 0a1.6 1.6 0 1 0 -3.2 0zM605.22 212.57a1.6 1.6 0 1 0 3.2 0a1.6 1.6 0 1 0 -3.2 0zM600.52 207.74a1.6 1.6 0 1 0 3.2 0a1.6 1.6 0 1 0 -3.2 0zM618.83 188.33a1.6 1.6 0 1 0 3.2 0a1.6 1.6 0 1 0 -3.2 0zM617.52 204.53a1.6 1.6 0 1 0 3.2 0a1.6 1.6 0 1 0 -3.2 0zM624.11 195.07a1.6 1.6 0 1 0 3.2 0a1.6 1.6 0 1 0 -3.2 0zM617.27 211.08a1.6 1.6 0 1 0 3.2 0a1.6 1.6 0 1 0 -3.2 0zM605.48 189.29a1.6 1.6 0 1 0 3.2 0a1.6 1.6 0 1 0 -3.2 0zM605.14 204.37a1.6 1.6 0 1 0 3.2 0a1.6 1.6 0 1 0 -3.2 0zM601.68 211.60a1.6 1.6 0 1 0 3.2 0a1.6 1.6 0 1 0 -3.2 0zM602.86 208.28a1.6 1.6 0 1 0 3.2 0a1.6 1.6 0 1 0 -3.2 0zM603.66 199.15a1.6 1.6 0 1 0 3.2 0a1.6 1.6 0 1 0 -3.2 0zM620.94 198.48a1.6 1.6 0 1 0 3.2 0a1.6 1.6 0 1 0 -3.2 0zM613.13 193.47a1.6 1.6 0 1 0 3.2 0a1.6 1.6 0 1 0 -3.2 0zM608.27 183.59a1.6 1.6 0 1 0 3.2 0a1.6 1.6 0 1 0 -3.2 0zM609.87 197.21a1.6 1.6 0 1 0 3.2 0a1.6 1.6 0 1 0 -3.2 0zM602.98 187.50a1.6 1.6 0 1 0 3.2 0a1.6 1.6 0 1 0 -3.2 0zM604.28 191.79a1.6 1.6 0 1 0 3.2 0a1.6 1.6 0 1 0 -3.2 0zM604.96 209.85a1.6 1.6 0 1 0 3.2 0a1.6 1.6 0 1 0 -3.2 0zM621.61 213.58a1.6 1.6 0 1 0 3.2 0a1.6 1.6 0 1 0 -3.2 0zM606.80 213.00a1.6 1.6 0 1 0 3.2 0a1.6 1.6 0 1 0 -3.2 0zM611.97 216.45a1.6 1.6 0 1 0 3.2 0a1.6 1.6 0 1 0 -3.2 0z" fill="#222" fill-opacity="0.86"/>
<line x1="567.40" y1="211.10" x2="648.50" y2="184.60" stroke="#e8403c" stroke-width="0.9" stroke-dasharray="2.5 1.8"/>
<path d="M564.30 159.40V251.50H651.70" stroke="#111" stroke-width="1.6" fill="none"/>
<line x1="560.70" y1="175.90" x2="564.30" y2="175.90" stroke="#111" stroke-width="1"/>
<line x1="560.70" y1="197.10" x2="564.30" y2="197.10" stroke="#111" stroke-width="1"/>
<line x1="560.70" y1="218.30" x2="564.30" y2="218.30" stroke="#111" stroke-width="1"/>
<line x1="560.70" y1="239.50" x2="564.30" y2="239.50" stroke="#111" stroke-width="1"/>
<text x="559.00" y="179.70" font-size="10" text-anchor="end" textLength="19.00" lengthAdjust="spacingAndGlyphs">0.05</text>
<text x="559.00" y="200.60" font-size="10" text-anchor="end" textLength="19.00" lengthAdjust="spacingAndGlyphs">0.00</text>
<text x="559.00" y="221.50" font-size="10" text-anchor="end" textLength="24.00" lengthAdjust="spacingAndGlyphs">−0.05</text>
<text x="559.00" y="242.90" font-size="10" text-anchor="end" textLength="24.00" lengthAdjust="spacingAndGlyphs">−0.10</text>
<line x1="568.70" y1="251.50" x2="568.70" y2="255.30" stroke="#111" stroke-width="1"/>
<line x1="590.10" y1="251.50" x2="590.10" y2="255.30" stroke="#111" stroke-width="1"/>
<line x1="611.50" y1="251.50" x2="611.50" y2="255.30" stroke="#111" stroke-width="1"/>
<line x1="632.90" y1="251.50" x2="632.90" y2="255.30" stroke="#111" stroke-width="1"/>
<text x="567.50" y="264.80" font-size="10" text-anchor="middle" fill="#666" textLength="16.60" lengthAdjust="spacingAndGlyphs">-0.4</text>
<text x="588.30" y="264.80" font-size="10" text-anchor="middle" fill="#666" textLength="16.60" lengthAdjust="spacingAndGlyphs">-0.2</text>
<text x="611.90" y="264.80" font-size="10" text-anchor="middle" fill="#666" textLength="14.00" lengthAdjust="spacingAndGlyphs">0.0</text>
<text x="633.50" y="264.80" font-size="10" text-anchor="middle" fill="#666" textLength="13.80" lengthAdjust="spacingAndGlyphs">0.2</text>
<text x="601.20" y="277.00" font-size="9.8" font-weight="bold" text-anchor="middle">GW</text>
<text x="569.70" y="159.10" font-size="10" font-weight="bold" textLength="47.80" lengthAdjust="spacingAndGlyphs">SCC = 0.31</text>
<line x1="460.30" y1="358.00" x2="460.30" y2="367.60" stroke="#333" stroke-width="0.9"/>
<line x1="460.30" y1="376.24" x2="460.30" y2="384.88" stroke="#333" stroke-width="0.9"/>
<rect x="452.20" y="367.60" width="16.20" height="8.64" fill="none" stroke="#3a3a3a" stroke-width="1.0"/>
<line x1="452.20" y1="372.40" x2="468.40" y2="372.40" stroke="#222" stroke-width="1.6"/>
<circle cx="460.30" cy="398.32" r="0.8" fill="#333"/>
<circle cx="460.30" cy="401.20" r="0.8" fill="#333"/>
<line x1="460.30" y1="435.50" x2="460.30" y2="437.50" stroke="#555" stroke-width="0.8"/>
<text x="466.10" y="440.40" font-size="10.3" font-weight="bold" text-anchor="end" textLength="24.30" lengthAdjust="spacingAndGlyphs" transform="rotate(-90 466.10 440.40)">AWN</text>
<line x1="481.72" y1="341.68" x2="481.72" y2="350.32" stroke="#333" stroke-width="0.9"/>
<line x1="481.72" y1="358.48" x2="481.72" y2="371.44" stroke="#333" stroke-width="0.9"/>
<rect x="473.62" y="350.32" width="16.20" height="8.16" fill="none" stroke="#3a3a3a" stroke-width="1.0"/>
<line x1="473.62" y1="354.16" x2="489.82" y2="354.16" stroke="#222" stroke-width="1.6"/>
<circle cx="481.72" cy="338.80" r="0.8" fill="#333"/>
<circle cx="481.72" cy="336.88" r="0.8" fill="#333"/>
<line x1="481.72" y1="435.50" x2="481.72" y2="437.50" stroke="#555" stroke-width="0.8"/>
<text x="487.38" y="440.40" font-size="10.3" font-weight="bold" text-anchor="end" textLength="20.00" lengthAdjust="spacingAndGlyphs" transform="rotate(-90 487.38 440.40)">GAR</text>
<line x1="503.14" y1="343.60" x2="503.14" y2="355.12" stroke="#333" stroke-width="0.9"/>
<line x1="503.14" y1="365.68" x2="503.14" y2="383.92" stroke="#333" stroke-width="0.9"/>
<rect x="495.04" y="355.12" width="16.20" height="10.56" fill="none" stroke="#3a3a3a" stroke-width="1.0"/>
<line x1="495.04" y1="360.40" x2="511.24" y2="360.40" stroke="#222" stroke-width="1.6"/>
<line x1="503.14" y1="435.50" x2="503.14" y2="437.50" stroke="#555" stroke-width="0.8"/>
<text x="508.66" y="440.40" font-size="10.3" font-weight="bold" text-anchor="end" textLength="11.50" lengthAdjust="spacingAndGlyphs" transform="rotate(-90 508.66 440.40)">GL</text>
<line x1="524.56" y1="334.00" x2="524.56" y2="346.96" stroke="#333" stroke-width="0.9"/>
<line x1="524.56" y1="355.12" x2="524.56" y2="364.72" stroke="#333" stroke-width="0.9"/>
<rect x="516.46" y="346.96" width="16.20" height="8.16" fill="none" stroke="#3a3a3a" stroke-width="1.0"/>
<line x1="516.46" y1="350.32" x2="532.66" y2="350.32" stroke="#222" stroke-width="1.6"/>
<circle cx="524.56" cy="371.44" r="0.8" fill="#333"/>
<circle cx="524.56" cy="376.24" r="0.8" fill="#333"/>
<circle cx="524.56" cy="368.56" r="0.8" fill="#333"/>
<line x1="524.56" y1="435.50" x2="524.56" y2="437.50" stroke="#555" stroke-width="0.8"/>
<text x="529.94" y="440.40" font-size="10.3" font-weight="bold" text-anchor="end" textLength="16.80" lengthAdjust="spacingAndGlyphs" transform="rotate(-90 529.94 440.40)">GW</text>
<line x1="545.98" y1="343.60" x2="545.98" y2="351.28" stroke="#333" stroke-width="0.9"/>
<line x1="545.98" y1="360.40" x2="545.98" y2="372.40" stroke="#333" stroke-width="0.9"/>
<rect x="537.88" y="351.28" width="16.20" height="9.12" fill="none" stroke="#3a3a3a" stroke-width="1.0"/>
<line x1="537.88" y1="355.60" x2="554.08" y2="355.60" stroke="#222" stroke-width="1.6"/>
<line x1="545.98" y1="435.50" x2="545.98" y2="437.50" stroke="#555" stroke-width="0.8"/>
<text x="551.22" y="440.40" font-size="10.3" font-weight="bold" text-anchor="end" textLength="27.50" lengthAdjust="spacingAndGlyphs" transform="rotate(-90 551.22 440.40)">GWLR</text>
<line x1="567.40" y1="345.52" x2="567.40" y2="360.88" stroke="#333" stroke-width="0.9"/>
<line x1="567.40" y1="372.40" x2="567.40" y2="387.76" stroke="#333" stroke-width="0.9"/>
<rect x="559.30" y="360.88" width="16.20" height="11.52" fill="none" stroke="#3a3a3a" stroke-width="1.0"/>
<line x1="559.30" y1="364.72" x2="575.50" y2="364.72" stroke="#222" stroke-width="1.6"/>
<circle cx="567.40" cy="397.36" r="0.8" fill="#333"/>
<circle cx="567.40" cy="406.00" r="0.8" fill="#333"/>
<line x1="567.40" y1="435.50" x2="567.40" y2="437.50" stroke="#555" stroke-width="0.8"/>
<text x="572.50" y="440.40" font-size="10.3" font-weight="bold" text-anchor="end" textLength="19.70" lengthAdjust="spacingAndGlyphs" transform="rotate(-90 572.50 440.40)">HDT</text>
<line x1="588.82" y1="346.00" x2="588.82" y2="354.16" stroke="#333" stroke-width="0.9"/>
<line x1="588.82" y1="366.16" x2="588.82" y2="381.04" stroke="#333" stroke-width="0.9"/>
<rect x="580.72" y="354.16" width="16.20" height="12.00" fill="none" stroke="#3a3a3a" stroke-width="1.0"/>
<line x1="580.72" y1="360.40" x2="596.92" y2="360.40" stroke="#222" stroke-width="1.6"/>
<line x1="588.82" y1="435.50" x2="588.82" y2="437.50" stroke="#555" stroke-width="0.8"/>
<text x="593.78" y="440.40" font-size="10.3" font-weight="bold" text-anchor="end" textLength="12.10" lengthAdjust="spacingAndGlyphs" transform="rotate(-90 593.78 440.40)">HT</text>
<line x1="610.24" y1="356.08" x2="610.24" y2="389.68" stroke="#333" stroke-width="0.9"/>
<line x1="610.24" y1="420.40" x2="610.24" y2="430.00" stroke="#333" stroke-width="0.9"/>
<rect x="602.14" y="389.68" width="16.20" height="30.72" fill="none" stroke="#3a3a3a" stroke-width="1.0"/>
<line x1="602.14" y1="407.44" x2="618.34" y2="407.44" stroke="#222" stroke-width="1.6"/>
<line x1="610.24" y1="435.50" x2="610.24" y2="437.50" stroke="#555" stroke-width="0.8"/>
<text x="615.06" y="440.40" font-size="10.3" font-weight="bold" text-anchor="end" textLength="17.40" lengthAdjust="spacingAndGlyphs" transform="rotate(-90 615.06 440.40)">SPC</text>
<line x1="631.66" y1="344.56" x2="631.66" y2="382.00" stroke="#333" stroke-width="0.9"/>
<line x1="631.66" y1="408.88" x2="631.66" y2="430.00" stroke="#333" stroke-width="0.9"/>
<rect x="623.56" y="382.00" width="16.20" height="26.88" fill="none" stroke="#3a3a3a" stroke-width="1.0"/>
<line x1="623.56" y1="393.52" x2="639.76" y2="393.52" stroke="#222" stroke-width="1.6"/>
<line x1="631.66" y1="435.50" x2="631.66" y2="437.50" stroke="#555" stroke-width="0.8"/>
<text x="636.34" y="440.40" font-size="10.3" font-weight="bold" text-anchor="end" textLength="17.00" lengthAdjust="spacingAndGlyphs" transform="rotate(-90 636.34 440.40)">SPL</text>
<line x1="653.08" y1="338.32" x2="653.08" y2="363.28" stroke="#333" stroke-width="0.9"/>
<line x1="653.08" y1="394.48" x2="653.08" y2="429.04" stroke="#333" stroke-width="0.9"/>
<rect x="644.98" y="363.28" width="16.20" height="31.20" fill="none" stroke="#3a3a3a" stroke-width="1.0"/>
<line x1="644.98" y1="378.16" x2="661.18" y2="378.16" stroke="#222" stroke-width="1.6"/>
<line x1="653.08" y1="435.50" x2="653.08" y2="437.50" stroke="#555" stroke-width="0.8"/>
<text x="657.62" y="440.40" font-size="10.3" font-weight="bold" text-anchor="end" textLength="19.30" lengthAdjust="spacingAndGlyphs" transform="rotate(-90 657.62 440.40)">SPN</text>
<line x1="674.50" y1="336.40" x2="674.50" y2="349.36" stroke="#333" stroke-width="0.9"/>
<line x1="674.50" y1="358.48" x2="674.50" y2="369.52" stroke="#333" stroke-width="0.9"/>
<rect x="666.40" y="349.36" width="16.20" height="9.12" fill="none" stroke="#3a3a3a" stroke-width="1.0"/>
<line x1="666.40" y1="353.20" x2="682.60" y2="353.20" stroke="#222" stroke-width="1.6"/>
<circle cx="674.50" cy="372.40" r="0.8" fill="#333"/>
<circle cx="674.50" cy="375.28" r="0.8" fill="#333"/>
<line x1="674.50" y1="435.50" x2="674.50" y2="437.50" stroke="#555" stroke-width="0.8"/>
<text x="678.90" y="440.40" font-size="10.3" font-weight="bold" text-anchor="end" textLength="23.10" lengthAdjust="spacingAndGlyphs" transform="rotate(-90 678.90 440.40)">TGW</text>
<path d="M462.3 380.7h1v1h-1zM460.7 369.3h1v1h-1zM463.2 375.8h1v1h-1zM461.8 369.6h1v1h-1zM462.9 372.0h1v1h-1zM460.4 367.8h1v1h-1zM458.6 369.2h1v1h-1zM462.2 382.4h1v1h-1zM461.2 365.5h1v1h-1zM457.9 372.7h1v1h-1zM460.2 374.4h1v1h-1zM457.3 374.2h1v1h-1zM458.3 362.3h1v1h-1zM457.6 362.4h1v1h-1zM462.1 379.3h1v1h-1zM463.1 365.2h1v1h-1zM460.6 374.0h1v1h-1zM462.8 374.5h1v1h-1zM459.9 359.6h1v1h-1zM457.8 377.5h1v1h-1zM463.2 370.7h1v1h-1zM458.5 379.4h1v1h-1zM459.1 374.9h1v1h-1zM457.4 376.6h1v1h-1zM462.5 375.8h1v1h-1zM462.8 377.7h1v1h-1zM460.6 372.2h1v1h-1zM462.2 378.7h1v1h-1zM461.0 375.3h1v1h-1zM460.1 369.1h1v1h-1zM457.9 381.8h1v1h-1zM458.7 374.8h1v1h-1zM461.8 381.8h1v1h-1zM462.0 378.2h1v1h-1zM463.3 382.7h1v1h-1zM458.2 372.7h1v1h-1zM460.1 377.9h1v1h-1zM457.8 373.4h1v1h-1zM461.0 378.4h1v1h-1zM458.5 366.3h1v1h-1zM460.4 361.3h1v1h-1zM460.6 360.1h1v1h-1zM461.5 382.7h1v1h-1zM460.9 370.9h1v1h-1zM457.8 378.8h1v1h-1zM463.1 373.7h1v1h-1zM461.4 383.4h1v1h-1zM458.5 359.0h1v1h-1zM458.2 365.4h1v1h-1zM462.1 384.6h1v1h-1zM462.2 375.5h1v1h-1zM462.2 360.3h1v1h-1zM459.2 363.6h1v1h-1zM461.4 379.5h1v1h-1zM458.6 378.7h1v1h-1zM462.9 371.9h1v1h-1zM457.7 383.5h1v1h-1zM461.3 379.8h1v1h-1zM461.5 372.4h1v1h-1zM459.9 374.6h1v1h-1zM458.4 368.3h1v1h-1zM457.5 369.2h1v1h-1zM462.9 384.8h1v1h-1zM461.0 374.9h1v1h-1zM460.1 363.4h1v1h-1zM460.1 362.7h1v1h-1zM459.3 373.1h1v1h-1zM461.6 378.1h1v1h-1zM462.5 376.9h1v1h-1zM459.7 367.2h1v1h-1zM461.4 380.9h1v1h-1zM459.3 366.1h1v1h-1zM459.8 363.5h1v1h-1zM458.0 367.2h1v1h-1zM457.8 367.7h1v1h-1zM459.6 368.5h1v1h-1zM457.8 372.6h1v1h-1zM459.4 380.8h1v1h-1zM460.3 358.9h1v1h-1zM462.6 368.3h1v1h-1zM460.5 361.4h1v1h-1zM459.1 364.8h1v1h-1zM460.4 372.8h1v1h-1zM459.8 373.3h1v1h-1zM458.0 358.2h1v1h-1zM461.0 369.5h1v1h-1zM459.4 377.5h1v1h-1zM457.7 379.4h1v1h-1zM458.7 384.4h1v1h-1zM463.0 374.2h1v1h-1zM463.0 364.8h1v1h-1zM460.0 374.7h1v1h-1zM460.7 372.7h1v1h-1zM463.3 360.3h1v1h-1zM461.6 377.7h1v1h-1zM460.7 364.8h1v1h-1zM462.4 362.4h1v1h-1zM458.0 382.7h1v1h-1zM460.1 370.9h1v1h-1zM461.9 381.6h1v1h-1zM480.5 350.5h1v1h-1zM480.2 346.6h1v1h-1zM483.0 346.9h1v1h-1zM479.6 350.6h1v1h-1zM480.6 350.2h1v1h-1zM482.9 352.6h1v1h-1zM479.3 357.9h1v1h-1zM479.5 352.2h1v1h-1zM479.8 347.9h1v1h-1zM483.8 352.5h1v1h-1zM481.3 367.7h1v1h-1zM481.0 343.4h1v1h-1zM483.4 365.9h1v1h-1zM482.4 355.1h1v1h-1zM482.7 352.5h1v1h-1zM482.5 344.1h1v1h-1zM484.5 363.0h1v1h-1zM480.7 351.2h1v1h-1zM481.9 356.6h1v1h-1zM482.3 364.3h1v1h-1zM481.3 350.3h1v1h-1zM483.1 356.7h1v1h-1zM484.4 353.9h1v1h-1zM480.6 353.9h1v1h-1zM481.1 362.1h1v1h-1zM482.8 353.0h1v1h-1zM480.5 341.9h1v1h-1zM482.2 355.5h1v1h-1zM481.9 353.6h1v1h-1zM483.3 352.1h1v1h-1zM482.5 353.7h1v1h-1zM483.1 356.7h1v1h-1zM479.3 356.9h1v1h-1zM481.6 358.6h1v1h-1zM481.8 343.1h1v1h-1zM483.1 357.3h1v1h-1zM482.0 346.7h1v1h-1zM483.7 355.1h1v1h-1zM479.1 353.0h1v1h-1zM482.3 356.6h1v1h-1zM480.1 352.6h1v1h-1zM484.1 345.1h1v1h-1zM481.6 356.5h1v1h-1zM478.8 362.8h1v1h-1zM484.6 343.8h1v1h-1zM482.8 352.9h1v1h-1zM480.3 369.8h1v1h-1zM483.2 342.1h1v1h-1zM480.3 359.9h1v1h-1zM481.6 357.4h1v1h-1zM483.5 346.1h1v1h-1zM481.1 347.6h1v1h-1zM484.6 352.8h1v1h-1zM482.1 352.4h1v1h-1zM480.1 351.6h1v1h-1zM481.9 354.9h1v1h-1zM481.6 346.4h1v1h-1zM480.6 351.0h1v1h-1zM480.6 352.2h1v1h-1zM482.0 354.0h1v1h-1zM479.3 351.4h1v1h-1zM484.2 342.2h1v1h-1zM483.5 343.9h1v1h-1zM481.0 357.6h1v1h-1zM479.0 351.8h1v1h-1zM484.7 346.5h1v1h-1zM482.1 359.1h1v1h-1zM480.3 360.0h1v1h-1zM481.7 350.9h1v1h-1zM480.5 356.1h1v1h-1zM479.9 350.8h1v1h-1zM482.7 370.8h1v1h-1zM482.6 345.7h1v1h-1zM479.9 344.1h1v1h-1zM482.1 350.5h1v1h-1zM481.0 346.7h1v1h-1zM483.7 351.5h1v1h-1zM482.5 354.6h1v1h-1zM481.9 347.5h1v1h-1zM481.4 356.8h1v1h-1zM483.6 351.3h1v1h-1zM481.8 355.0h1v1h-1zM479.7 341.8h1v1h-1zM484.0 348.3h1v1h-1zM483.0 354.0h1v1h-1zM484.7 364.3h1v1h-1zM480.1 360.9h1v1h-1zM482.0 352.8h1v1h-1zM484.3 357.1h1v1h-1zM478.8 355.5h1v1h-1zM480.3 351.7h1v1h-1zM483.0 355.4h1v1h-1zM478.9 354.7h1v1h-1zM480.7 358.0h1v1h-1zM478.8 350.5h1v1h-1zM481.0 370.4h1v1h-1zM483.8 348.0h1v1h-1zM480.1 357.3h1v1h-1zM479.5 351.4h1v1h-1zM483.6 354.3h1v1h-1zM501.1 347.4h1v1h-1zM503.7 369.3h1v1h-1zM500.4 367.6h1v1h-1zM502.1 356.9h1v1h-1zM502.2 377.3h1v1h-1zM503.2 378.9h1v1h-1zM500.4 343.8h1v1h-1zM501.3 359.7h1v1h-1zM505.3 371.6h1v1h-1zM502.7 346.3h1v1h-1zM500.4 373.7h1v1h-1zM502.5 356.4h1v1h-1zM501.6 359.8h1v1h-1zM500.4 373.7h1v1h-1zM503.3 374.0h1v1h-1zM502.1 352.7h1v1h-1zM505.9 379.1h1v1h-1zM505.9 351.7h1v1h-1zM505.9 376.6h1v1h-1zM503.9 357.6h1v1h-1zM503.2 349.7h1v1h-1zM500.6 357.6h1v1h-1zM505.6 361.8h1v1h-1zM500.8 356.0h1v1h-1zM505.4 381.3h1v1h-1zM500.5 366.4h1v1h-1zM501.4 360.0h1v1h-1zM504.3 356.7h1v1h-1zM504.8 361.6h1v1h-1zM504.9 376.1h1v1h-1zM502.9 361.8h1v1h-1zM505.8 349.1h1v1h-1zM506.1 355.1h1v1h-1zM505.3 345.0h1v1h-1zM504.2 355.9h1v1h-1zM501.7 365.9h1v1h-1zM505.7 343.6h1v1h-1zM502.7 365.6h1v1h-1zM501.6 346.0h1v1h-1zM502.5 360.4h1v1h-1zM501.8 350.2h1v1h-1zM503.3 359.3h1v1h-1zM506.0 351.5h1v1h-1zM504.3 351.6h1v1h-1zM504.2 344.4h1v1h-1zM502.4 362.9h1v1h-1zM502.5 374.5h1v1h-1zM504.6 364.1h1v1h-1zM501.7 364.6h1v1h-1zM501.7 357.2h1v1h-1zM505.7 362.7h1v1h-1zM505.6 369.0h1v1h-1zM502.5 346.4h1v1h-1zM501.9 377.8h1v1h-1zM505.3 380.7h1v1h-1zM500.8 367.6h1v1h-1zM503.9 360.9h1v1h-1zM505.1 367.4h1v1h-1zM503.1 374.2h1v1h-1zM501.9 369.1h1v1h-1zM501.9 350.8h1v1h-1zM504.6 347.2h1v1h-1zM503.2 350.1h1v1h-1zM501.3 375.8h1v1h-1zM506.1 362.5h1v1h-1zM503.4 358.7h1v1h-1zM501.4 359.3h1v1h-1zM505.8 370.4h1v1h-1zM501.0 367.9h1v1h-1zM501.8 353.3h1v1h-1zM503.4 348.0h1v1h-1zM505.7 352.0h1v1h-1zM502.4 363.1h1v1h-1zM504.6 376.4h1v1h-1zM505.3 343.7h1v1h-1zM501.8 350.3h1v1h-1zM501.8 343.8h1v1h-1zM503.3 347.8h1v1h-1zM502.0 355.2h1v1h-1zM504.0 359.3h1v1h-1zM500.4 370.3h1v1h-1zM500.4 348.7h1v1h-1zM504.9 354.7h1v1h-1zM503.6 362.2h1v1h-1zM502.7 364.0h1v1h-1zM504.3 366.8h1v1h-1zM500.2 346.2h1v1h-1zM502.1 345.7h1v1h-1zM501.0 351.7h1v1h-1zM502.9 364.8h1v1h-1zM503.3 374.2h1v1h-1zM502.4 360.2h1v1h-1zM505.8 361.9h1v1h-1zM503.4 352.9h1v1h-1zM501.7 348.4h1v1h-1zM505.1 378.9h1v1h-1zM504.8 347.7h1v1h-1zM502.1 363.2h1v1h-1zM503.9 357.0h1v1h-1zM504.0 362.2h1v1h-1zM527.1 357.9h1v1h-1zM522.8 352.0h1v1h-1zM522.6 346.5h1v1h-1zM524.6 354.8h1v1h-1zM522.7 334.9h1v1h-1zM522.4 351.7h1v1h-1zM527.2 338.1h1v1h-1zM523.4 340.9h1v1h-1zM523.9 358.3h1v1h-1zM525.3 347.9h1v1h-1zM526.7 359.1h1v1h-1zM524.9 359.3h1v1h-1zM524.8 340.9h1v1h-1zM524.8 355.1h1v1h-1zM526.7 363.0h1v1h-1zM524.3 349.7h1v1h-1zM522.8 364.1h1v1h-1zM525.6 357.2h1v1h-1zM522.4 351.8h1v1h-1zM527.2 345.4h1v1h-1zM524.6 347.9h1v1h-1zM521.6 350.0h1v1h-1zM521.6 349.4h1v1h-1zM525.9 344.2h1v1h-1zM524.8 347.9h1v1h-1zM523.5 348.0h1v1h-1zM526.3 348.1h1v1h-1zM525.6 356.9h1v1h-1zM525.8 345.2h1v1h-1zM523.0 358.2h1v1h-1zM525.9 349.5h1v1h-1zM527.5 363.2h1v1h-1zM526.4 348.7h1v1h-1zM523.2 349.0h1v1h-1zM525.5 357.0h1v1h-1zM527.2 344.4h1v1h-1zM522.8 355.8h1v1h-1zM522.9 364.1h1v1h-1zM521.7 339.5h1v1h-1zM525.4 353.3h1v1h-1zM523.1 361.4h1v1h-1zM522.4 353.6h1v1h-1zM522.4 356.6h1v1h-1zM526.0 349.0h1v1h-1zM521.7 336.9h1v1h-1zM522.1 353.0h1v1h-1zM524.6 335.7h1v1h-1zM523.5 362.7h1v1h-1zM525.9 361.1h1v1h-1zM526.1 353.1h1v1h-1zM526.6 346.5h1v1h-1zM523.4 359.3h1v1h-1zM524.4 354.8h1v1h-1zM522.6 344.3h1v1h-1zM526.8 351.7h1v1h-1zM525.1 353.4h1v1h-1zM527.0 347.2h1v1h-1zM524.1 347.8h1v1h-1zM523.8 353.7h1v1h-1zM526.7 364.6h1v1h-1zM525.1 359.9h1v1h-1zM523.0 341.6h1v1h-1zM525.7 351.9h1v1h-1zM522.2 350.0h1v1h-1zM525.2 352.1h1v1h-1zM526.2 357.0h1v1h-1zM526.3 342.3h1v1h-1zM523.0 348.5h1v1h-1zM522.3 336.0h1v1h-1zM523.4 351.9h1v1h-1zM524.0 334.5h1v1h-1zM527.3 336.1h1v1h-1zM525.0 352.8h1v1h-1zM523.4 345.6h1v1h-1zM524.9 352.6h1v1h-1zM524.6 340.7h1v1h-1zM525.5 342.6h1v1h-1zM523.5 353.0h1v1h-1zM522.1 353.1h1v1h-1zM523.8 354.7h1v1h-1zM526.8 351.3h1v1h-1zM525.8 342.7h1v1h-1zM527.5 355.6h1v1h-1zM527.0 346.4h1v1h-1zM524.9 357.7h1v1h-1zM524.7 334.6h1v1h-1zM524.6 354.8h1v1h-1zM522.4 337.5h1v1h-1zM522.3 350.2h1v1h-1zM522.5 352.2h1v1h-1zM522.6 344.2h1v1h-1zM523.6 361.8h1v1h-1zM525.2 363.8h1v1h-1zM527.2 344.8h1v1h-1zM525.4 350.4h1v1h-1zM527.4 342.0h1v1h-1zM526.5 355.3h1v1h-1zM522.0 349.5h1v1h-1zM526.2 363.1h1v1h-1zM524.9 354.4h1v1h-1zM547.9 354.9h1v1h-1zM544.0 346.8h1v1h-1zM546.1 357.9h1v1h-1zM547.5 358.8h1v1h-1zM546.5 347.6h1v1h-1zM544.4 344.8h1v1h-1zM545.3 357.7h1v1h-1zM546.1 364.4h1v1h-1zM544.5 355.1h1v1h-1zM544.7 363.2h1v1h-1zM548.7 344.1h1v1h-1zM543.1 349.2h1v1h-1zM543.5 352.6h1v1h-1zM547.3 346.0h1v1h-1zM546.1 365.7h1v1h-1zM548.7 351.1h1v1h-1zM546.7 350.7h1v1h-1zM548.7 367.9h1v1h-1zM546.8 359.0h1v1h-1zM543.1 370.9h1v1h-1zM548.7 353.1h1v1h-1zM547.7 350.0h1v1h-1zM548.7 369.2h1v1h-1zM544.6 356.1h1v1h-1zM548.2 352.2h1v1h-1zM544.8 370.6h1v1h-1zM543.5 353.0h1v1h-1zM546.6 347.8h1v1h-1zM545.7 352.5h1v1h-1zM547.9 367.5h1v1h-1zM543.5 343.8h1v1h-1zM543.3 365.4h1v1h-1zM547.1 354.7h1v1h-1zM547.3 349.0h1v1h-1zM546.5 368.6h1v1h-1zM548.4 358.3h1v1h-1zM547.9 345.6h1v1h-1zM546.3 362.5h1v1h-1zM547.1 353.0h1v1h-1zM545.3 368.2h1v1h-1zM547.2 356.9h1v1h-1zM545.0 360.9h1v1h-1zM548.6 369.7h1v1h-1zM543.6 347.4h1v1h-1zM544.5 359.5h1v1h-1zM546.1 362.3h1v1h-1zM547.4 356.6h1v1h-1zM544.9 350.1h1v1h-1zM543.9 366.3h1v1h-1zM547.4 359.7h1v1h-1zM546.5 355.2h1v1h-1zM547.4 347.0h1v1h-1zM546.7 353.6h1v1h-1zM543.1 352.5h1v1h-1zM544.4 356.3h1v1h-1zM544.1 369.3h1v1h-1zM545.1 344.8h1v1h-1zM544.5 355.8h1v1h-1zM546.2 353.6h1v1h-1zM543.2 371.9h1v1h-1zM546.0 356.2h1v1h-1zM547.6 349.7h1v1h-1zM546.0 350.8h1v1h-1zM544.7 363.9h1v1h-1zM547.0 353.5h1v1h-1zM544.8 369.7h1v1h-1zM543.4 355.6h1v1h-1zM548.8 369.9h1v1h-1zM543.0 353.1h1v1h-1zM548.3 350.9h1v1h-1zM548.6 353.1h1v1h-1zM545.7 347.5h1v1h-1zM546.3 343.8h1v1h-1zM545.6 354.2h1v1h-1zM545.0 352.3h1v1h-1zM548.7 371.1h1v1h-1zM546.2 369.6h1v1h-1zM549.0 354.6h1v1h-1zM547.5 347.9h1v1h-1zM544.5 362.6h1v1h-1zM545.4 354.3h1v1h-1zM543.0 371.9h1v1h-1zM546.1 352.2h1v1h-1zM548.5 363.8h1v1h-1zM547.2 365.5h1v1h-1zM545.8 364.6h1v1h-1zM545.2 353.5h1v1h-1zM547.1 353.7h1v1h-1zM548.5 367.4h1v1h-1zM548.2 363.5h1v1h-1zM547.6 355.6h1v1h-1zM547.2 351.5h1v1h-1zM544.7 368.6h1v1h-1zM547.1 364.9h1v1h-1zM548.5 358.0h1v1h-1zM547.3 346.5h1v1h-1zM546.3 353.6h1v1h-1zM548.2 364.2h1v1h-1zM545.5 357.3h1v1h-1zM548.5 352.0h1v1h-1zM565.2 352.7h1v1h-1zM565.7 364.6h1v1h-1zM570.1 365.4h1v1h-1zM567.9 387.6h1v1h-1zM568.8 386.0h1v1h-1zM570.4 362.4h1v1h-1zM567.4 366.5h1v1h-1zM566.9 370.5h1v1h-1zM566.2 347.5h1v1h-1zM567.6 360.9h1v1h-1zM569.8 350.7h1v1h-1zM569.7 379.0h1v1h-1zM569.2 369.2h1v1h-1zM568.1 364.7h1v1h-1zM569.2 356.5h1v1h-1zM566.0 352.8h1v1h-1zM568.7 356.9h1v1h-1zM564.6 364.7h1v1h-1zM567.3 366.3h1v1h-1zM564.9 355.8h1v1h-1zM570.2 362.5h1v1h-1zM569.9 366.0h1v1h-1zM566.3 368.0h1v1h-1zM564.9 356.4h1v1h-1zM566.3 380.8h1v1h-1zM565.2 368.8h1v1h-1zM565.3 366.1h1v1h-1zM568.3 364.3h1v1h-1zM568.1 362.6h1v1h-1zM568.5 372.1h1v1h-1zM567.4 377.5h1v1h-1zM567.4 369.9h1v1h-1zM566.7 379.7h1v1h-1zM567.9 350.8h1v1h-1zM567.1 371.6h1v1h-1zM568.5 364.7h1v1h-1zM566.4 378.0h1v1h-1zM566.1 352.5h1v1h-1zM567.5 380.5h1v1h-1zM566.6 371.7h1v1h-1zM566.8 383.2h1v1h-1zM565.0 361.6h1v1h-1zM569.8 371.5h1v1h-1zM566.9 366.1h1v1h-1zM570.0 345.6h1v1h-1zM564.7 379.2h1v1h-1zM569.9 380.3h1v1h-1zM569.9 371.2h1v1h-1zM566.9 378.4h1v1h-1zM564.8 368.5h1v1h-1zM569.0 362.2h1v1h-1zM566.0 370.2h1v1h-1zM568.0 382.1h1v1h-1zM568.5 386.5h1v1h-1zM565.4 364.4h1v1h-1zM569.2 387.8h1v1h-1zM566.2 386.8h1v1h-1zM566.1 368.5h1v1h-1zM570.0 356.7h1v1h-1zM565.0 385.0h1v1h-1zM564.7 350.9h1v1h-1zM569.8 369.5h1v1h-1zM564.4 360.6h1v1h-1zM565.1 363.6h1v1h-1zM568.3 366.8h1v1h-1zM565.6 386.5h1v1h-1zM564.8 385.3h1v1h-1zM566.3 364.7h1v1h-1zM567.3 366.5h1v1h-1zM567.8 385.5h1v1h-1zM568.5 360.7h1v1h-1zM566.7 346.6h1v1h-1zM566.3 346.8h1v1h-1zM565.8 346.7h1v1h-1zM565.6 379.9h1v1h-1zM565.7 360.1h1v1h-1zM565.4 360.5h1v1h-1zM566.1 346.1h1v1h-1zM568.2 371.8h1v1h-1zM570.3 378.6h1v1h-1zM566.3 362.5h1v1h-1zM566.3 370.0h1v1h-1zM566.2 365.1h1v1h-1zM568.7 366.5h1v1h-1zM568.2 371.0h1v1h-1zM564.7 366.4h1v1h-1zM569.0 378.9h1v1h-1zM567.6 363.6h1v1h-1zM569.1 382.6h1v1h-1zM569.0 369.4h1v1h-1zM567.1 361.5h1v1h-1zM566.9 368.7h1v1h-1zM569.5 370.6h1v1h-1zM569.5 367.3h1v1h-1zM567.4 373.5h1v1h-1zM567.4 360.7h1v1h-1zM565.6 364.4h1v1h-1zM567.9 365.4h1v1h-1zM569.9 362.9h1v1h-1zM568.1 370.0h1v1h-1zM589.5 363.0h1v1h-1zM588.1 381.0h1v1h-1zM591.7 367.9h1v1h-1zM587.4 366.1h1v1h-1zM589.8 376.0h1v1h-1zM586.5 349.0h1v1h-1zM586.6 375.8h1v1h-1zM587.1 347.0h1v1h-1zM588.9 376.1h1v1h-1zM589.3 364.9h1v1h-1zM588.1 360.7h1v1h-1zM587.4 351.3h1v1h-1zM590.9 380.8h1v1h-1zM589.0 355.3h1v1h-1zM590.0 370.9h1v1h-1zM589.9 361.2h1v1h-1zM587.9 358.6h1v1h-1zM588.3 368.6h1v1h-1zM589.2 363.0h1v1h-1zM588.4 353.9h1v1h-1zM591.5 373.9h1v1h-1zM589.8 357.0h1v1h-1zM589.5 365.1h1v1h-1zM586.4 356.5h1v1h-1zM589.7 360.8h1v1h-1zM586.1 358.5h1v1h-1zM591.4 359.7h1v1h-1zM590.5 349.2h1v1h-1zM590.7 363.2h1v1h-1zM589.6 375.4h1v1h-1zM590.0 362.7h1v1h-1zM589.3 359.9h1v1h-1zM589.3 380.2h1v1h-1zM585.9 354.2h1v1h-1zM589.1 351.1h1v1h-1zM588.6 355.8h1v1h-1zM588.1 356.8h1v1h-1zM589.6 350.8h1v1h-1zM588.8 360.6h1v1h-1zM589.4 361.4h1v1h-1zM587.3 350.6h1v1h-1zM587.1 354.7h1v1h-1zM587.8 361.8h1v1h-1zM587.9 352.7h1v1h-1zM590.2 352.9h1v1h-1zM588.5 365.2h1v1h-1zM589.0 352.1h1v1h-1zM590.9 352.5h1v1h-1zM588.7 349.1h1v1h-1zM588.5 362.1h1v1h-1zM588.3 357.2h1v1h-1zM591.2 351.3h1v1h-1zM590.6 360.8h1v1h-1zM590.5 353.8h1v1h-1zM588.8 348.8h1v1h-1zM591.1 360.3h1v1h-1zM588.2 354.9h1v1h-1zM586.1 376.5h1v1h-1zM589.6 379.7h1v1h-1zM589.9 355.6h1v1h-1zM588.2 357.6h1v1h-1zM585.9 379.4h1v1h-1zM586.4 355.0h1v1h-1zM587.0 348.4h1v1h-1zM591.7 358.5h1v1h-1zM587.0 355.9h1v1h-1zM586.8 355.2h1v1h-1zM591.3 358.0h1v1h-1zM589.9 364.1h1v1h-1zM590.3 372.2h1v1h-1zM590.4 367.7h1v1h-1zM587.1 360.2h1v1h-1zM588.5 348.4h1v1h-1zM589.6 358.8h1v1h-1zM590.1 355.7h1v1h-1zM589.6 351.3h1v1h-1zM587.0 378.6h1v1h-1zM591.6 356.4h1v1h-1zM589.2 368.0h1v1h-1zM586.8 355.6h1v1h-1zM590.8 355.0h1v1h-1zM586.0 359.7h1v1h-1zM590.1 368.5h1v1h-1zM587.3 369.1h1v1h-1zM587.5 348.9h1v1h-1zM587.9 371.1h1v1h-1zM591.4 347.1h1v1h-1zM590.8 364.2h1v1h-1zM591.7 358.9h1v1h-1zM590.9 359.0h1v1h-1zM591.0 349.6h1v1h-1zM590.5 360.4h1v1h-1zM586.9 364.1h1v1h-1zM589.5 352.1h1v1h-1zM590.8 362.4h1v1h-1zM591.4 348.5h1v1h-1zM591.7 360.9h1v1h-1zM586.4 358.1h1v1h-1zM587.3 366.6h1v1h-1zM589.8 377.6h1v1h-1zM612.4 404.5h1v1h-1zM607.5 390.3h1v1h-1zM608.5 383.8h1v1h-1zM612.0 426.1h1v1h-1zM610.6 423.8h1v1h-1zM608.1 407.4h1v1h-1zM613.1 413.2h1v1h-1zM609.4 424.1h1v1h-1zM608.0 423.8h1v1h-1zM607.3 370.5h1v1h-1zM612.1 406.9h1v1h-1zM607.4 389.9h1v1h-1zM607.4 415.1h1v1h-1zM608.5 402.9h1v1h-1zM610.0 404.6h1v1h-1zM610.7 388.3h1v1h-1zM610.4 411.9h1v1h-1zM613.2 407.0h1v1h-1zM610.3 412.5h1v1h-1zM609.9 365.6h1v1h-1zM608.2 404.5h1v1h-1zM609.0 358.3h1v1h-1zM611.8 379.4h1v1h-1zM609.1 406.9h1v1h-1zM611.4 429.7h1v1h-1zM611.3 400.4h1v1h-1zM607.5 373.9h1v1h-1zM612.8 414.0h1v1h-1zM611.9 368.8h1v1h-1zM608.7 414.8h1v1h-1zM609.0 395.9h1v1h-1zM613.0 428.4h1v1h-1zM610.7 408.2h1v1h-1zM612.2 398.2h1v1h-1zM613.1 392.1h1v1h-1zM611.5 415.4h1v1h-1zM610.4 404.6h1v1h-1zM609.1 385.8h1v1h-1zM608.6 408.0h1v1h-1zM612.6 366.1h1v1h-1zM611.0 427.7h1v1h-1zM611.7 423.9h1v1h-1zM607.4 392.1h1v1h-1zM611.3 411.7h1v1h-1zM611.0 406.8h1v1h-1zM611.5 386.5h1v1h-1zM608.8 400.1h1v1h-1zM609.9 416.3h1v1h-1zM613.2 369.7h1v1h-1zM608.9 408.7h1v1h-1zM613.1 400.5h1v1h-1zM613.0 360.9h1v1h-1zM611.1 420.7h1v1h-1zM610.1 403.6h1v1h-1zM612.1 420.6h1v1h-1zM612.3 418.6h1v1h-1zM610.0 421.6h1v1h-1zM610.6 420.2h1v1h-1zM610.6 404.2h1v1h-1zM610.6 409.5h1v1h-1zM613.1 422.5h1v1h-1zM607.8 406.3h1v1h-1zM612.2 405.9h1v1h-1zM607.5 415.7h1v1h-1zM612.5 414.6h1v1h-1zM612.0 420.8h1v1h-1zM609.7 419.6h1v1h-1zM610.0 404.1h1v1h-1zM611.9 410.1h1v1h-1zM608.7 426.2h1v1h-1zM613.2 384.4h1v1h-1zM608.1 378.1h1v1h-1zM610.8 404.3h1v1h-1zM608.9 425.7h1v1h-1zM609.1 425.9h1v1h-1zM611.1 388.7h1v1h-1zM609.1 372.9h1v1h-1zM611.1 427.5h1v1h-1zM607.3 403.3h1v1h-1zM609.3 364.3h1v1h-1zM613.1 381.6h1v1h-1zM611.0 416.3h1v1h-1zM609.6 426.8h1v1h-1zM610.4 387.9h1v1h-1zM611.8 403.5h1v1h-1zM609.9 429.8h1v1h-1zM608.0 413.2h1v1h-1zM612.8 417.8h1v1h-1zM612.4 429.4h1v1h-1zM607.4 422.3h1v1h-1zM608.5 411.6h1v1h-1zM612.4 422.8h1v1h-1zM611.2 426.9h1v1h-1zM612.7 384.1h1v1h-1zM611.1 406.2h1v1h-1zM608.1 377.1h1v1h-1zM607.8 425.0h1v1h-1zM608.8 423.2h1v1h-1zM611.2 396.3h1v1h-1zM611.6 371.7h1v1h-1zM629.1 391.2h1v1h-1zM630.3 383.7h1v1h-1zM633.6 402.4h1v1h-1zM629.0 415.1h1v1h-1zM631.1 402.6h1v1h-1zM632.9 409.3h1v1h-1zM631.3 384.5h1v1h-1zM632.1 392.1h1v1h-1zM629.0 418.5h1v1h-1zM630.0 411.2h1v1h-1zM630.4 417.6h1v1h-1zM629.3 382.7h1v1h-1zM629.1 406.5h1v1h-1zM628.8 410.1h1v1h-1zM629.2 367.0h1v1h-1zM629.3 393.8h1v1h-1zM634.4 400.8h1v1h-1zM631.2 400.1h1v1h-1zM632.2 382.1h1v1h-1zM628.8 393.9h1v1h-1zM632.3 365.6h1v1h-1zM634.4 399.6h1v1h-1zM630.1 385.0h1v1h-1zM629.9 389.4h1v1h-1zM630.8 349.1h1v1h-1zM629.4 424.6h1v1h-1zM631.8 386.4h1v1h-1zM633.9 412.2h1v1h-1zM630.2 388.8h1v1h-1zM633.5 348.3h1v1h-1zM630.8 348.2h1v1h-1zM634.6 394.2h1v1h-1zM633.4 414.2h1v1h-1zM630.1 414.9h1v1h-1zM631.3 367.8h1v1h-1zM629.0 426.7h1v1h-1zM633.7 429.3h1v1h-1zM631.2 345.1h1v1h-1zM631.6 383.2h1v1h-1zM629.6 412.8h1v1h-1zM634.3 392.9h1v1h-1zM634.3 392.9h1v1h-1zM631.8 383.9h1v1h-1zM631.3 398.9h1v1h-1zM631.2 400.4h1v1h-1zM632.0 346.0h1v1h-1zM630.5 418.0h1v1h-1zM630.6 359.9h1v1h-1zM629.5 379.3h1v1h-1zM633.5 409.9h1v1h-1zM633.1 396.2h1v1h-1zM633.9 406.1h1v1h-1zM630.1 412.7h1v1h-1zM629.1 355.6h1v1h-1zM632.9 392.9h1v1h-1zM630.4 401.0h1v1h-1zM632.9 388.1h1v1h-1zM631.8 356.8h1v1h-1zM632.2 400.3h1v1h-1zM632.6 395.8h1v1h-1zM632.8 395.4h1v1h-1zM634.3 374.2h1v1h-1zM634.5 419.0h1v1h-1zM630.2 392.2h1v1h-1zM629.9 391.8h1v1h-1zM629.3 375.7h1v1h-1zM629.5 371.2h1v1h-1zM631.4 401.2h1v1h-1zM629.5 362.2h1v1h-1zM634.2 362.1h1v1h-1zM633.8 402.5h1v1h-1zM632.0 398.5h1v1h-1zM631.0 375.4h1v1h-1zM634.5 424.2h1v1h-1zM630.9 423.0h1v1h-1zM628.9 419.1h1v1h-1zM633.3 393.2h1v1h-1zM632.7 353.4h1v1h-1zM630.5 422.6h1v1h-1zM633.0 412.1h1v1h-1zM634.5 381.1h1v1h-1zM629.1 387.1h1v1h-1zM631.4 396.8h1v1h-1zM634.3 365.8h1v1h-1zM629.3 358.8h1v1h-1zM634.2 388.9h1v1h-1zM633.2 416.5h1v1h-1zM632.5 423.5h1v1h-1zM632.3 392.5h1v1h-1zM629.6 416.0h1v1h-1zM629.2 393.0h1v1h-1zM631.1 396.8h1v1h-1zM631.1 414.9h1v1h-1zM633.7 346.8h1v1h-1zM633.7 391.4h1v1h-1zM634.3 345.4h1v1h-1zM629.5 414.7h1v1h-1zM634.2 423.4h1v1h-1zM629.7 380.0h1v1h-1zM633.4 402.4h1v1h-1zM650.4 406.5h1v1h-1zM653.9 376.6h1v1h-1zM653.8 365.0h1v1h-1zM654.3 385.6h1v1h-1zM655.2 423.9h1v1h-1zM652.9 346.7h1v1h-1zM652.8 353.6h1v1h-1zM654.5 384.2h1v1h-1zM655.4 348.5h1v1h-1zM650.1 380.3h1v1h-1zM650.6 384.1h1v1h-1zM650.3 380.8h1v1h-1zM653.7 372.6h1v1h-1zM653.0 421.0h1v1h-1zM653.9 417.6h1v1h-1zM655.3 423.1h1v1h-1zM651.8 411.9h1v1h-1zM654.1 370.5h1v1h-1zM650.5 381.2h1v1h-1zM652.9 390.5h1v1h-1zM652.6 364.6h1v1h-1zM656.0 360.3h1v1h-1zM651.4 358.5h1v1h-1zM654.9 390.3h1v1h-1zM650.6 368.5h1v1h-1zM653.8 369.3h1v1h-1zM651.5 363.5h1v1h-1zM651.6 379.7h1v1h-1zM650.8 382.1h1v1h-1zM654.7 407.2h1v1h-1zM655.9 376.4h1v1h-1zM652.0 391.0h1v1h-1zM652.2 380.4h1v1h-1zM652.9 387.3h1v1h-1zM651.5 372.9h1v1h-1zM654.3 341.5h1v1h-1zM653.6 420.0h1v1h-1zM653.9 385.9h1v1h-1zM655.4 352.7h1v1h-1zM653.3 379.9h1v1h-1zM653.5 414.7h1v1h-1zM653.3 374.8h1v1h-1zM652.5 352.1h1v1h-1zM654.0 401.8h1v1h-1zM653.1 375.2h1v1h-1zM654.0 360.1h1v1h-1zM653.4 340.3h1v1h-1zM655.9 390.3h1v1h-1zM650.5 387.3h1v1h-1zM653.9 354.5h1v1h-1zM653.0 389.2h1v1h-1zM654.7 378.7h1v1h-1zM650.7 361.2h1v1h-1zM651.3 375.2h1v1h-1zM650.5 341.4h1v1h-1zM652.1 372.1h1v1h-1zM652.7 371.8h1v1h-1zM652.7 364.6h1v1h-1zM653.1 352.3h1v1h-1zM655.8 369.0h1v1h-1zM653.9 418.3h1v1h-1zM652.4 384.5h1v1h-1zM655.2 365.1h1v1h-1zM652.6 364.8h1v1h-1zM655.7 415.7h1v1h-1zM652.6 362.1h1v1h-1zM652.1 341.0h1v1h-1zM654.5 376.6h1v1h-1zM654.0 363.8h1v1h-1zM651.4 377.7h1v1h-1zM650.7 365.4h1v1h-1zM654.2 385.3h1v1h-1zM651.6 358.8h1v1h-1zM655.4 338.9h1v1h-1zM652.4 338.9h1v1h-1zM652.9 395.8h1v1h-1zM651.6 373.5h1v1h-1zM650.2 423.7h1v1h-1zM651.7 406.0h1v1h-1zM651.2 422.9h1v1h-1zM655.2 365.6h1v1h-1zM654.0 369.4h1v1h-1zM651.1 391.2h1v1h-1zM653.6 344.2h1v1h-1zM651.7 360.6h1v1h-1zM652.1 345.8h1v1h-1zM656.0 356.9h1v1h-1zM654.9 379.7h1v1h-1zM654.7 388.1h1v1h-1zM650.8 410.8h1v1h-1zM655.5 384.7h1v1h-1zM654.3 408.5h1v1h-1zM651.6 342.5h1v1h-1zM652.1 366.4h1v1h-1zM650.7 418.7h1v1h-1zM650.3 417.0h1v1h-1zM654.7 376.3h1v1h-1zM650.8 369.9h1v1h-1zM655.7 354.7h1v1h-1zM653.0 424.5h1v1h-1zM673.7 355.3h1v1h-1zM673.5 357.9h1v1h-1zM674.5 367.9h1v1h-1zM674.7 348.6h1v1h-1zM675.1 365.7h1v1h-1zM672.1 349.8h1v1h-1zM672.9 352.3h1v1h-1zM674.9 364.9h1v1h-1zM672.3 338.4h1v1h-1zM676.7 357.6h1v1h-1zM672.1 351.3h1v1h-1zM673.6 341.4h1v1h-1zM675.9 361.2h1v1h-1zM675.3 350.6h1v1h-1zM675.9 346.2h1v1h-1zM677.2 356.1h1v1h-1zM671.6 367.0h1v1h-1zM677.3 355.3h1v1h-1zM671.8 342.1h1v1h-1zM674.0 364.8h1v1h-1zM676.7 356.3h1v1h-1zM674.3 338.9h1v1h-1zM674.1 364.7h1v1h-1zM676.8 337.6h1v1h-1zM675.9 367.5h1v1h-1zM671.5 348.5h1v1h-1zM672.2 363.7h1v1h-1zM677.0 345.7h1v1h-1zM677.3 369.1h1v1h-1zM673.6 351.8h1v1h-1zM672.0 355.6h1v1h-1zM675.7 351.8h1v1h-1zM672.7 338.6h1v1h-1zM675.7 365.6h1v1h-1zM671.7 362.8h1v1h-1zM672.6 356.4h1v1h-1zM674.2 357.7h1v1h-1zM671.7 362.2h1v1h-1zM674.7 350.1h1v1h-1zM674.6 351.9h1v1h-1zM675.5 354.5h1v1h-1zM671.5 355.0h1v1h-1zM672.9 353.6h1v1h-1zM672.0 366.3h1v1h-1zM675.1 361.3h1v1h-1zM672.0 353.2h1v1h-1zM676.0 357.2h1v1h-1zM672.7 368.3h1v1h-1zM673.4 360.5h1v1h-1zM675.9 340.2h1v1h-1zM675.7 360.2h1v1h-1zM676.2 354.7h1v1h-1zM676.7 356.2h1v1h-1zM677.2 349.4h1v1h-1zM673.4 355.8h1v1h-1zM673.6 367.5h1v1h-1zM677.2 351.2h1v1h-1zM673.6 356.8h1v1h-1zM674.1 343.3h1v1h-1zM677.3 342.2h1v1h-1zM673.1 337.9h1v1h-1zM677.0 340.4h1v1h-1zM671.5 345.9h1v1h-1zM676.5 364.0h1v1h-1zM672.6 357.1h1v1h-1zM672.1 367.0h1v1h-1zM677.2 352.1h1v1h-1zM671.7 362.0h1v1h-1zM676.4 365.0h1v1h-1zM675.7 357.2h1v1h-1zM672.4 344.7h1v1h-1zM671.7 348.7h1v1h-1zM672.3 356.9h1v1h-1zM674.7 353.8h1v1h-1zM675.2 362.8h1v1h-1zM674.8 355.6h1v1h-1zM675.6 351.5h1v1h-1zM676.6 355.6h1v1h-1zM672.9 355.0h1v1h-1zM677.1 354.8h1v1h-1zM673.4 351.1h1v1h-1zM676.5 352.9h1v1h-1zM676.4 368.3h1v1h-1zM673.7 358.0h1v1h-1zM675.6 352.4h1v1h-1zM676.1 363.9h1v1h-1zM674.1 361.9h1v1h-1zM674.0 343.0h1v1h-1zM675.3 358.2h1v1h-1zM674.4 354.3h1v1h-1zM675.1 364.6h1v1h-1zM676.1 360.0h1v1h-1zM672.6 361.3h1v1h-1zM673.7 360.9h1v1h-1zM672.6 351.2h1v1h-1zM674.7 367.4h1v1h-1zM674.3 362.3h1v1h-1zM673.4 342.2h1v1h-1zM674.7 352.4h1v1h-1zM675.4 354.9h1v1h-1z" fill="#777" fill-opacity="0.55"/>
<path d="M456.70 372.40L463.90 372.40M457.75 369.85L462.85 374.95M460.30 368.80L460.30 376.00M462.85 369.85L457.75 374.95" stroke="#e02020" stroke-width="1.1" fill="none"/>
<path d="M478.12 348.40L485.32 348.40M479.17 345.85L484.27 350.95M481.72 344.80L481.72 352.00M484.27 345.85L479.17 350.95" stroke="#e02020" stroke-width="1.1" fill="none"/>
<path d="M499.54 343.60L506.74 343.60M500.59 341.05L505.69 346.15M503.14 340.00L503.14 347.20M505.69 341.05L500.59 346.15" stroke="#e02020" stroke-width="1.1" fill="none"/>
<path d="M520.96 342.64L528.16 342.64M522.01 340.09L527.11 345.19M524.56 339.04L524.56 346.24M527.11 340.09L522.01 345.19" stroke="#e02020" stroke-width="1.1" fill="none"/>
<path d="M542.38 336.40L549.58 336.40M543.43 333.85L548.53 338.95M545.98 332.80L545.98 340.00M548.53 333.85L543.43 338.95" stroke="#e02020" stroke-width="1.1" fill="none"/>
<path d="M563.80 339.76L571.00 339.76M564.85 337.21L569.95 342.31M567.40 336.16L567.40 343.36M569.95 337.21L564.85 342.31" stroke="#e02020" stroke-width="1.1" fill="none"/>
<path d="M585.22 344.08L592.42 344.08M586.27 341.53L591.37 346.63M588.82 340.48L588.82 347.68M591.37 341.53L586.27 346.63" stroke="#e02020" stroke-width="1.1" fill="none"/>
<path d="M606.64 420.40L613.84 420.40M607.69 417.85L612.79 422.95M610.24 416.80L610.24 424.00M612.79 417.85L607.69 422.95" stroke="#e02020" stroke-width="1.1" fill="none"/>
<path d="M628.06 363.76L635.26 363.76M629.11 361.21L634.21 366.31M631.66 360.16L631.66 367.36M634.21 361.21L629.11 366.31" stroke="#e02020" stroke-width="1.1" fill="none"/>
<path d="M649.48 338.32L656.68 338.32M650.53 335.77L655.63 340.87M653.08 334.72L653.08 341.92M655.63 335.77L650.53 340.87" stroke="#e02020" stroke-width="1.1" fill="none"/>
<path d="M670.90 347.92L678.10 347.92M671.95 345.37L677.05 350.47M674.50 344.32L674.50 351.52M677.05 345.37L671.95 350.47" stroke="#e02020" stroke-width="1.1" fill="none"/>
<path d="M447.7 329.3V435.5H685" stroke="#222" stroke-width="1.1" fill="none"/>
<line x1="445.20" y1="334.00" x2="447.70" y2="334.00" stroke="#222" stroke-width="0.9"/>
<text x="444.10" y="337.70" font-size="10.5" text-anchor="end">0.4</text>
<line x1="445.20" y1="353.20" x2="447.70" y2="353.20" stroke="#222" stroke-width="0.9"/>
<text x="444.10" y="356.90" font-size="10.5" text-anchor="end">0.2</text>
<line x1="445.20" y1="372.40" x2="447.70" y2="372.40" stroke="#222" stroke-width="0.9"/>
<text x="444.10" y="376.10" font-size="10.5" text-anchor="end">0.0</text>
<line x1="445.20" y1="391.60" x2="447.70" y2="391.60" stroke="#222" stroke-width="0.9"/>
<text x="444.10" y="395.30" font-size="10.5" text-anchor="end">-0.2</text>
<line x1="445.20" y1="410.80" x2="447.70" y2="410.80" stroke="#222" stroke-width="0.9"/>
<text x="444.10" y="414.50" font-size="10.5" text-anchor="end">-0.4</text>
<line x1="445.20" y1="430.00" x2="447.70" y2="430.00" stroke="#222" stroke-width="0.9"/>
<text x="444.10" y="433.70" font-size="10.5" text-anchor="end">-0.6</text>
<text x="398.30" y="385.00" font-size="13.8" font-weight="bold" text-anchor="middle" textLength="110.60" lengthAdjust="spacingAndGlyphs" transform="rotate(-90 398.30 385.00)">SCC between true</text>
<text x="416.90" y="383.20" font-size="13.8" font-weight="bold" text-anchor="middle" textLength="122.50" lengthAdjust="spacingAndGlyphs" transform="rotate(-90 416.90 383.20)">and predicted traits</text>
<path d="M447.30 309.10L455.30 309.10M448.47 306.27L454.13 311.93M451.30 305.10L451.30 313.10M454.13 306.27L448.47 311.93" stroke="#e02020" stroke-width="1.6" fill="none"/>
<text x="459.90" y="313.00" font-size="10" textLength="224.00" lengthAdjust="spacingAndGlyphs">SCC between true and predicted traits estimated</text>
<text x="459.90" y="325.80" font-size="10" textLength="159.60" lengthAdjust="spacingAndGlyphs">using 59 dysregulated homoeologs</text></svg></body></html>
